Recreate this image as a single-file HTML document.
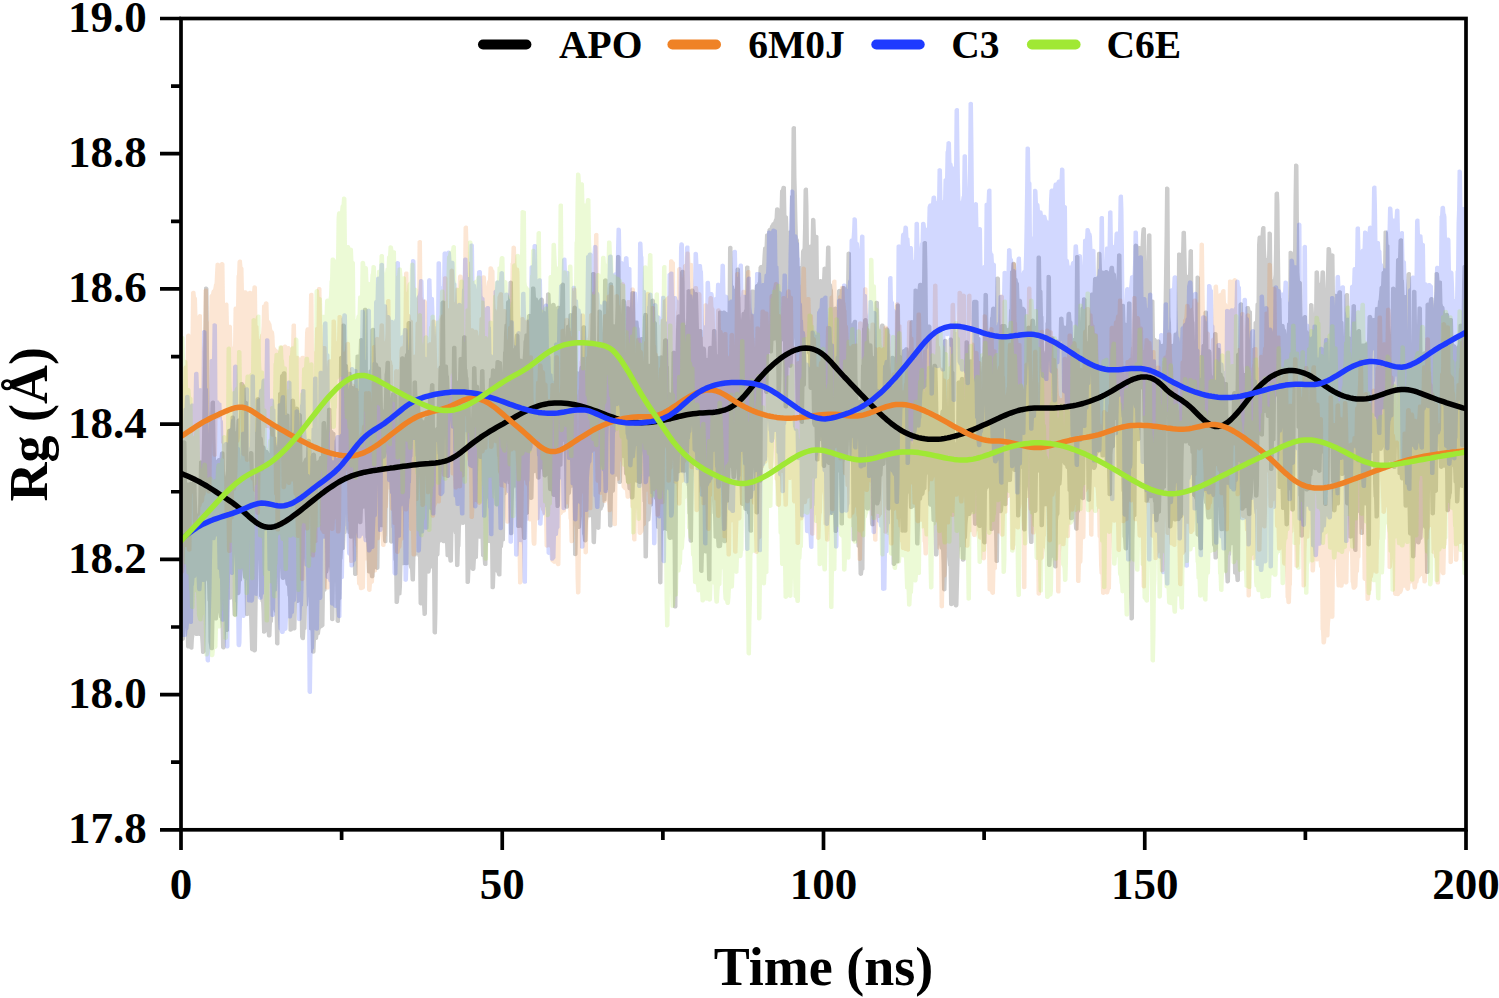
<!DOCTYPE html>
<html><head><meta charset="utf-8"><style>
html,body{margin:0;padding:0;background:#fff;}
body{width:1499px;height:998px;overflow:hidden;}
svg{display:block;font-family:"Liberation Serif",serif;font-weight:bold;}
</style></head><body>
<svg width="1499" height="998" viewBox="0 0 1499 998">
<rect width="1499" height="998" fill="#fff"/>
<defs><clipPath id="pc"><rect x="181" y="18.5" width="1285" height="811.3"/></clipPath></defs>
<g fill-opacity="0.2" clip-path="url(#pc)">
<polygon points="181.0,445.0 181.5,445.1 182.0,441.3 182.5,440.7 183.0,440.4 183.5,440.3 184.0,440.2 184.5,440.2 185.0,440.4 185.5,440.7 186.0,441.1 186.5,442.2 187.0,482.4 187.5,482.4 188.0,482.5 188.5,482.7 189.0,482.5 189.5,482.2 190.0,482.0 190.5,481.9 191.0,482.0 191.5,482.1 192.0,482.1 192.5,481.6 193.0,481.3 193.5,481.2 194.0,481.1 194.5,481.2 195.0,481.3 195.5,481.6 196.0,482.1 196.5,483.4 197.0,503.4 197.5,512.8 198.0,514.0 198.5,485.4 199.0,461.5 199.5,460.9 200.0,460.6 200.5,460.4 201.0,460.4 201.5,460.4 202.0,437.2 202.5,394.4 203.0,366.2 203.5,324.6 204.0,287.6 204.5,287.0 205.0,286.7 205.5,286.6 206.0,286.5 206.5,286.5 207.0,286.7 207.5,287.0 208.0,287.4 208.5,288.5 209.0,348.5 209.5,410.8 210.0,419.9 210.5,402.6 211.0,401.5 211.5,401.0 212.0,400.7 212.5,400.6 213.0,400.5 213.5,400.6 214.0,400.8 214.5,401.1 215.0,401.6 215.5,437.1 216.0,459.7 216.5,460.0 217.0,459.0 217.5,458.5 218.0,458.2 218.5,458.0 219.0,458.0 219.5,458.0 220.0,452.8 220.5,452.1 221.0,451.7 221.5,451.4 222.0,451.3 222.5,451.3 223.0,451.4 223.5,451.6 224.0,452.0 224.5,452.7 225.0,477.0 225.5,474.3 226.0,470.4 226.5,436.5 227.0,430.1 227.5,429.5 228.0,429.1 228.5,428.9 229.0,428.8 229.5,428.8 230.0,429.0 230.5,416.8 231.0,416.1 231.5,415.8 232.0,415.5 232.5,415.4 233.0,415.5 233.5,415.6 234.0,415.8 234.5,416.2 235.0,416.9 235.5,431.3 236.0,431.3 236.5,420.5 237.0,419.3 237.5,418.8 238.0,418.5 238.5,418.4 239.0,418.3 239.5,383.3 240.0,382.6 240.5,382.3 241.0,382.0 241.5,382.0 242.0,382.0 242.5,382.1 243.0,382.3 243.5,382.7 244.0,383.4 244.5,385.0 245.0,385.4 245.5,386.0 246.0,400.8 246.5,400.9 247.0,401.1 247.5,401.5 248.0,402.2 248.5,464.2 249.0,452.1 249.5,451.6 250.0,451.3 250.5,451.1 251.0,451.0 251.5,451.1 252.0,451.2 252.5,451.5 253.0,452.0 253.5,453.1 254.0,476.8 254.5,502.2 255.0,444.1 255.5,399.1 256.0,398.0 256.5,397.6 257.0,397.3 257.5,397.2 258.0,397.1 258.5,397.2 259.0,397.4 259.5,397.7 260.0,398.2 260.5,419.7 261.0,420.6 261.5,436.8 262.0,437.1 262.5,437.6 263.0,438.9 263.5,445.3 264.0,445.4 264.5,445.7 265.0,446.1 265.5,447.1 266.0,449.8 266.5,449.8 267.0,449.9 267.5,450.1 268.0,450.5 268.5,451.1 269.0,452.5 269.5,452.9 270.0,424.9 270.5,424.0 271.0,423.6 271.5,423.3 272.0,423.2 272.5,423.1 273.0,423.2 273.5,423.4 274.0,423.7 274.5,424.3 275.0,436.6 275.5,436.8 276.0,437.1 276.5,437.6 277.0,447.8 277.5,438.3 278.0,393.3 278.5,392.6 279.0,392.2 279.5,392.0 280.0,375.5 280.5,374.7 281.0,374.2 281.5,374.0 282.0,372.3 282.5,371.8 283.0,371.4 283.5,371.2 284.0,371.2 284.5,371.2 285.0,371.3 285.5,371.6 286.0,372.0 286.5,372.9 287.0,413.5 287.5,413.5 288.0,413.6 288.5,413.8 289.0,414.1 289.5,414.7 290.0,441.2 290.5,400.1 291.0,399.3 291.5,398.9 292.0,398.7 292.5,398.6 293.0,398.6 293.5,398.7 294.0,398.9 294.5,399.2 295.0,399.9 295.5,407.0 296.0,406.7 296.5,406.6 297.0,406.6 297.5,406.7 298.0,406.9 298.5,407.2 299.0,407.9 299.5,413.0 300.0,413.0 300.5,413.2 301.0,413.4 301.5,413.9 302.0,415.0 302.5,462.5 303.0,461.8 303.5,460.6 304.0,459.3 304.5,458.3 305.0,457.8 305.5,457.5 306.0,457.4 306.5,440.0 307.0,439.4 307.5,439.0 308.0,438.8 308.5,438.7 309.0,438.7 309.5,438.9 310.0,439.1 310.5,439.5 311.0,440.2 311.5,453.9 312.0,453.2 312.5,452.9 313.0,452.7 313.5,452.6 314.0,452.6 314.5,452.7 315.0,453.0 315.5,453.4 316.0,454.2 316.5,461.0 317.0,460.7 317.5,460.5 318.0,460.3 318.5,459.8 319.0,457.2 319.5,456.5 320.0,456.1 320.5,455.9 321.0,455.8 321.5,423.0 322.0,421.9 322.5,421.4 323.0,421.1 323.5,421.0 324.0,420.9 324.5,421.0 325.0,421.1 325.5,421.5 326.0,422.0 326.5,430.8 327.0,409.0 327.5,408.3 328.0,407.9 328.5,407.7 329.0,407.6 329.5,407.6 330.0,407.7 330.5,407.9 331.0,408.3 331.5,409.0 332.0,429.9 332.5,430.2 333.0,430.6 333.5,431.4 334.0,431.9 334.5,432.1 335.0,432.5 335.5,433.2 336.0,458.3 336.5,458.1 337.0,458.1 337.5,458.1 338.0,458.2 338.5,453.6 339.0,357.3 339.5,356.5 340.0,356.1 340.5,355.9 341.0,355.8 341.5,324.6 342.0,324.1 342.5,323.8 343.0,323.6 343.5,323.5 344.0,323.6 344.5,323.7 345.0,324.0 345.5,324.5 346.0,325.5 346.5,364.0 347.0,364.3 347.5,364.6 348.0,365.3 348.5,371.9 349.0,371.7 349.5,371.7 350.0,371.7 350.5,371.9 351.0,372.2 351.5,372.7 352.0,385.8 352.5,385.9 353.0,386.0 353.5,386.2 354.0,386.6 354.5,374.8 355.0,373.9 355.5,355.5 356.0,355.0 356.5,354.7 357.0,354.5 357.5,354.5 358.0,354.5 358.5,354.6 359.0,339.2 359.5,338.7 360.0,338.3 360.5,338.2 361.0,338.1 361.5,338.1 362.0,338.3 362.5,338.6 363.0,308.8 363.5,308.2 364.0,307.9 364.5,307.7 365.0,307.7 365.5,307.7 366.0,307.8 366.5,308.1 367.0,308.6 367.5,309.6 368.0,380.6 368.5,370.4 369.0,369.9 369.5,369.6 370.0,369.4 370.5,329.8 371.0,328.7 371.5,328.2 372.0,328.0 372.5,327.8 373.0,327.8 373.5,327.8 374.0,328.0 374.5,328.3 375.0,328.8 375.5,346.0 376.0,362.4 376.5,362.5 377.0,362.8 377.5,363.2 378.0,364.0 378.5,366.6 379.0,366.6 379.5,366.7 380.0,367.0 380.5,367.3 381.0,368.1 381.5,383.7 382.0,384.1 382.5,384.9 383.0,409.5 383.5,409.4 384.0,396.2 384.5,374.5 385.0,372.1 385.5,362.4 386.0,361.5 386.5,361.1 387.0,360.8 387.5,360.7 388.0,360.7 388.5,360.8 389.0,360.9 389.5,361.3 390.0,361.8 390.5,398.4 391.0,393.4 391.5,392.7 392.0,392.4 392.5,392.2 393.0,392.1 393.5,392.1 394.0,392.2 394.5,392.4 395.0,392.8 395.5,393.6 396.0,394.2 396.5,394.4 397.0,394.7 397.5,395.2 398.0,425.8 398.5,390.9 399.0,390.2 399.5,389.8 400.0,357.9 400.5,357.0 401.0,356.6 401.5,356.4 402.0,356.3 402.5,356.2 403.0,356.3 403.5,356.5 404.0,356.9 404.5,357.5 405.0,354.2 405.5,353.5 406.0,353.1 406.5,322.9 407.0,321.9 407.5,321.4 408.0,321.1 408.5,321.0 409.0,321.0 409.5,321.0 410.0,321.2 410.5,321.5 411.0,322.1 411.5,355.2 412.0,411.1 412.5,382.0 413.0,381.2 413.5,380.7 414.0,380.5 414.5,380.4 415.0,380.3 415.5,380.4 416.0,380.6 416.5,380.9 417.0,381.5 417.5,397.3 418.0,397.3 418.5,397.4 419.0,397.7 419.5,398.2 420.0,399.1 420.5,413.6 421.0,413.9 421.5,414.3 422.0,415.5 422.5,419.2 423.0,419.5 423.5,419.9 424.0,420.8 424.5,417.9 425.0,417.2 425.5,416.9 426.0,416.6 426.5,416.5 427.0,416.5 427.5,416.6 428.0,393.4 428.5,392.8 429.0,392.5 429.5,392.3 430.0,384.5 430.5,383.8 431.0,383.4 431.5,383.2 432.0,383.1 432.5,383.1 433.0,383.2 433.5,383.5 434.0,383.9 434.5,384.6 435.0,428.5 435.5,427.7 436.0,427.3 436.5,427.0 437.0,392.3 437.5,391.6 438.0,391.2 438.5,367.2 439.0,366.3 439.5,365.8 440.0,365.6 440.5,302.6 441.0,301.4 441.5,300.9 442.0,300.6 442.5,300.4 443.0,300.4 443.5,300.4 444.0,300.6 444.5,300.9 445.0,301.4 445.5,364.5 446.0,364.5 446.5,364.6 447.0,364.7 447.5,365.1 448.0,365.7 448.5,375.3 449.0,375.9 449.5,388.9 450.0,388.9 450.5,388.9 451.0,389.1 451.5,389.5 452.0,347.0 452.5,346.4 453.0,346.0 453.5,345.8 454.0,345.7 454.5,345.7 455.0,345.8 455.5,346.0 456.0,346.4 456.5,347.1 457.0,381.3 457.5,380.6 458.0,380.2 458.5,358.4 459.0,357.6 459.5,357.2 460.0,357.0 460.5,356.9 461.0,356.8 461.5,356.9 462.0,336.8 462.5,336.0 463.0,335.5 463.5,335.3 464.0,335.2 464.5,335.2 465.0,335.2 465.5,335.4 466.0,335.8 466.5,336.4 467.0,369.1 467.5,369.6 468.0,376.9 468.5,377.8 469.0,391.4 469.5,391.6 470.0,392.0 470.5,392.6 471.0,419.5 471.5,400.9 472.0,367.6 472.5,366.8 473.0,366.4 473.5,366.2 474.0,366.1 474.5,366.1 475.0,366.2 475.5,366.4 476.0,366.7 476.5,367.4 477.0,384.6 477.5,384.7 478.0,384.9 478.5,385.3 479.0,386.0 479.5,391.6 480.0,370.6 480.5,369.8 481.0,369.4 481.5,369.2 482.0,369.1 482.5,369.1 483.0,369.1 483.5,369.3 484.0,369.7 484.5,370.3 485.0,390.8 485.5,390.5 486.0,390.4 486.5,390.3 487.0,390.4 487.5,390.5 488.0,390.8 488.5,391.3 489.0,379.0 489.5,378.2 490.0,377.8 490.5,377.6 491.0,369.4 491.5,368.9 492.0,368.5 492.5,368.4 493.0,368.3 493.5,368.3 494.0,368.5 494.5,368.7 495.0,369.2 495.5,361.3 496.0,360.6 496.5,360.2 497.0,360.0 497.5,359.9 498.0,359.9 498.5,360.0 499.0,360.2 499.5,360.6 500.0,361.0 500.5,361.1 501.0,361.3 501.5,361.6 502.0,362.2 502.5,372.3 503.0,352.2 503.5,351.1 504.0,333.4 504.5,324.6 505.0,323.9 505.5,323.5 506.0,301.9 506.5,301.0 507.0,300.6 507.5,300.3 508.0,300.2 508.5,282.0 509.0,281.3 509.5,280.9 510.0,280.7 510.5,280.6 511.0,280.6 511.5,280.7 512.0,280.9 512.5,281.3 513.0,282.0 513.5,348.6 514.0,348.1 514.5,339.6 515.0,334.4 515.5,333.9 516.0,333.6 516.5,333.5 517.0,333.4 517.5,333.5 518.0,333.6 518.5,333.9 519.0,334.4 519.5,335.5 520.0,358.7 520.5,358.6 521.0,358.6 521.5,358.8 522.0,359.1 522.5,359.5 523.0,352.8 523.5,340.8 524.0,340.2 524.5,334.3 525.0,333.8 525.5,333.6 526.0,333.4 526.5,333.3 527.0,315.6 527.5,314.7 528.0,314.3 528.5,314.0 529.0,313.9 529.5,313.8 530.0,313.9 530.5,314.1 531.0,287.5 531.5,287.0 532.0,286.6 532.5,286.5 533.0,286.4 533.5,286.4 534.0,286.6 534.5,286.8 535.0,287.3 535.5,288.2 536.0,297.4 536.5,297.5 537.0,297.7 537.5,298.1 538.0,299.0 538.5,300.4 539.0,300.1 539.5,298.8 540.0,298.2 540.5,297.9 541.0,297.7 541.5,297.6 542.0,297.6 542.5,297.8 543.0,298.0 543.5,298.5 544.0,299.4 544.5,311.1 545.0,311.2 545.5,311.4 546.0,293.6 546.5,293.0 547.0,292.6 547.5,292.4 548.0,292.3 548.5,292.3 549.0,292.5 549.5,292.7 550.0,293.1 550.5,293.9 551.0,304.4 551.5,303.6 552.0,303.2 552.5,302.9 553.0,302.8 553.5,302.8 554.0,302.9 554.5,303.1 555.0,303.4 555.5,304.1 556.0,307.2 556.5,306.4 557.0,306.0 557.5,305.8 558.0,305.7 558.5,305.7 559.0,305.7 559.5,305.9 560.0,306.3 560.5,284.2 561.0,283.4 561.5,283.0 562.0,282.8 562.5,282.6 563.0,282.6 563.5,282.7 564.0,282.9 564.5,283.3 565.0,283.9 565.5,337.3 566.0,325.9 566.5,325.3 567.0,325.0 567.5,324.8 568.0,324.7 568.5,314.4 569.0,313.8 569.5,313.4 570.0,313.2 570.5,313.1 571.0,313.1 571.5,313.2 572.0,313.5 572.5,306.9 573.0,306.3 573.5,305.9 574.0,305.7 574.5,305.6 575.0,305.6 575.5,305.7 576.0,306.0 576.5,306.4 577.0,307.2 577.5,371.3 578.0,371.3 578.5,371.5 579.0,371.8 579.5,367.2 580.0,366.3 580.5,365.8 581.0,354.7 581.5,326.8 582.0,326.0 582.5,325.6 583.0,325.3 583.5,325.2 584.0,325.2 584.5,325.3 585.0,325.5 585.5,325.8 586.0,326.4 586.5,344.9 587.0,344.5 587.5,344.3 588.0,344.2 588.5,344.2 589.0,344.4 589.5,344.6 590.0,345.0 590.5,321.8 591.0,273.2 591.5,272.6 592.0,272.2 592.5,272.0 593.0,271.9 593.5,272.0 594.0,272.1 594.5,272.3 595.0,272.6 595.5,273.3 596.0,346.3 596.5,346.6 597.0,347.1 597.5,310.7 598.0,310.1 598.5,309.8 599.0,309.6 599.5,309.5 600.0,309.6 600.5,309.7 601.0,310.0 601.5,310.4 602.0,311.4 602.5,333.3 603.0,280.0 603.5,279.2 604.0,278.7 604.5,278.5 605.0,278.4 605.5,278.3 606.0,278.4 606.5,278.6 607.0,278.9 607.5,279.5 608.0,312.2 608.5,283.9 609.0,283.1 609.5,282.7 610.0,282.4 610.5,282.3 611.0,282.3 611.5,282.4 612.0,282.6 612.5,282.9 613.0,283.5 613.5,324.3 614.0,324.2 614.5,324.3 615.0,324.5 615.5,306.3 616.0,255.9 616.5,255.4 617.0,255.1 617.5,254.9 618.0,254.8 618.5,254.9 619.0,255.0 619.5,255.3 620.0,255.8 620.5,256.8 621.0,315.2 621.5,300.0 622.0,299.5 622.5,299.2 623.0,299.1 623.5,299.0 624.0,299.0 624.5,299.2 625.0,299.5 625.5,300.0 626.0,301.2 626.5,306.6 627.0,306.3 627.5,306.2 628.0,306.2 628.5,306.3 629.0,306.5 629.5,306.8 630.0,307.4 630.5,292.5 631.0,291.7 631.5,291.3 632.0,291.0 632.5,290.9 633.0,290.9 633.5,291.0 634.0,291.2 634.5,291.5 635.0,292.1 635.5,320.5 636.0,320.4 636.5,320.4 637.0,320.4 637.5,320.6 638.0,321.0 638.5,321.5 639.0,327.3 639.5,327.9 640.0,337.5 640.5,337.2 641.0,337.1 641.5,337.0 642.0,337.1 642.5,337.2 643.0,317.1 643.5,313.8 644.0,313.3 644.5,313.0 645.0,312.9 645.5,312.8 646.0,312.9 646.5,313.0 647.0,313.3 647.5,313.8 648.0,314.9 648.5,363.6 649.0,364.0 649.5,363.8 650.0,363.7 650.5,299.7 651.0,299.2 651.5,298.9 652.0,298.7 652.5,298.6 653.0,298.6 653.5,298.8 654.0,299.0 654.5,299.5 655.0,300.4 655.5,321.1 656.0,321.4 656.5,321.9 657.0,323.1 657.5,355.7 658.0,355.8 658.5,356.1 659.0,356.4 659.5,355.9 660.0,355.5 660.5,355.4 661.0,355.3 661.5,355.3 662.0,355.5 662.5,355.7 663.0,339.9 663.5,339.3 664.0,338.8 664.5,338.5 665.0,338.3 665.5,338.2 666.0,338.2 666.5,338.4 667.0,338.6 667.5,339.1 668.0,340.0 668.5,365.8 669.0,366.5 669.5,392.2 670.0,392.3 670.5,392.5 671.0,392.9 671.5,352.2 672.0,351.4 672.5,351.0 673.0,350.8 673.5,350.7 674.0,350.6 674.5,350.7 675.0,350.9 675.5,351.3 676.0,330.2 676.5,315.8 677.0,315.0 677.5,314.7 678.0,314.4 678.5,314.3 679.0,314.3 679.5,314.4 680.0,271.9 680.5,270.7 681.0,270.2 681.5,269.9 682.0,269.8 682.5,269.7 683.0,269.8 683.5,270.0 684.0,270.3 684.5,270.8 685.0,318.1 685.5,325.1 686.0,325.1 686.5,290.2 687.0,289.7 687.5,289.4 688.0,289.2 688.5,289.1 689.0,289.2 689.5,289.3 690.0,289.6 690.5,289.2 691.0,288.9 691.5,288.6 692.0,288.5 692.5,288.5 693.0,288.6 693.5,288.8 694.0,289.2 694.5,289.9 695.0,292.3 695.5,292.1 696.0,292.1 696.5,292.1 697.0,292.3 697.5,292.6 698.0,293.1 698.5,310.6 699.0,329.4 699.5,329.1 700.0,329.0 700.5,329.0 701.0,329.1 701.5,329.3 702.0,329.7 702.5,330.3 703.0,346.6 703.5,346.6 704.0,346.6 704.5,346.8 705.0,347.0 705.5,347.5 706.0,348.8 706.5,358.0 707.0,358.0 707.5,358.1 708.0,347.2 708.5,346.5 709.0,346.1 709.5,345.9 710.0,345.8 710.5,345.8 711.0,345.9 711.5,346.1 712.0,330.1 712.5,329.5 713.0,329.2 713.5,329.0 714.0,328.9 714.5,329.0 715.0,329.1 715.5,329.3 716.0,329.8 716.5,330.7 717.0,353.9 717.5,354.6 718.0,311.8 718.5,311.1 719.0,310.7 719.5,310.5 720.0,310.4 720.5,310.4 721.0,310.5 721.5,310.8 722.0,311.2 722.5,310.9 723.0,310.6 723.5,310.5 724.0,310.4 724.5,310.5 725.0,310.7 725.5,311.0 726.0,311.6 726.5,311.9 727.0,312.1 727.5,312.4 728.0,247.4 728.5,246.6 729.0,246.1 729.5,245.9 730.0,245.8 730.5,245.8 731.0,245.8 731.5,246.0 732.0,246.4 732.5,247.0 733.0,285.3 733.5,285.6 734.0,286.2 734.5,288.9 735.0,288.7 735.5,268.9 736.0,268.2 736.5,267.8 737.0,267.6 737.5,267.5 738.0,267.5 738.5,267.6 739.0,267.8 739.5,268.2 740.0,269.0 740.5,301.3 741.0,320.2 741.5,313.1 742.0,312.5 742.5,312.1 743.0,311.9 743.5,311.9 744.0,309.9 744.5,309.2 745.0,267.1 745.5,266.2 746.0,265.8 746.5,265.5 747.0,265.4 747.5,265.4 748.0,265.5 748.5,265.7 749.0,266.0 749.5,266.6 750.0,323.1 750.5,290.6 751.0,290.0 751.5,289.6 752.0,289.4 752.5,289.4 753.0,289.4 753.5,289.5 754.0,289.7 754.5,290.2 755.0,285.3 755.5,284.7 756.0,284.3 756.5,284.1 757.0,284.0 757.5,282.4 758.0,281.8 758.5,267.1 759.0,266.4 759.5,265.6 760.0,265.2 760.5,265.0 761.0,264.9 761.5,264.8 762.0,264.9 762.5,255.2 763.0,248.0 763.5,247.1 764.0,246.7 764.5,246.5 765.0,234.5 765.5,233.9 766.0,233.6 766.5,233.4 767.0,233.3 767.5,229.5 768.0,228.7 768.5,228.3 769.0,228.0 769.5,227.9 770.0,226.0 770.5,225.0 771.0,224.5 771.5,223.2 772.0,222.6 772.5,222.3 773.0,222.2 773.5,220.8 774.0,219.3 774.5,218.3 775.0,208.7 775.5,208.0 776.0,207.6 776.5,207.4 777.0,207.3 777.5,207.3 778.0,207.4 778.5,207.6 779.0,208.0 779.5,208.7 780.0,190.6 780.5,189.9 781.0,189.6 781.5,187.0 782.0,186.3 782.5,186.0 783.0,185.8 783.5,185.7 784.0,185.7 784.5,185.9 785.0,186.1 785.5,186.5 786.0,187.3 786.5,215.3 787.0,215.5 787.5,215.9 788.0,216.6 788.5,231.0 789.0,230.6 789.5,230.4 790.0,195.9 790.5,195.4 791.0,195.1 791.5,128.1 792.0,127.0 792.5,126.6 793.0,126.3 793.5,126.1 794.0,126.1 794.5,126.2 795.0,126.3 795.5,126.6 796.0,127.2 796.5,177.2 797.0,196.0 797.5,220.4 798.0,238.3 798.5,238.8 799.0,240.0 799.5,266.4 800.0,266.1 800.5,265.9 801.0,250.7 801.5,250.2 802.0,249.0 802.5,248.4 803.0,226.9 803.5,189.8 804.0,188.5 804.5,188.0 805.0,187.7 805.5,187.5 806.0,187.5 806.5,187.6 807.0,187.7 807.5,188.0 808.0,188.5 808.5,205.5 809.0,245.0 809.5,244.8 810.0,244.6 810.5,244.6 811.0,218.9 811.5,218.4 812.0,218.0 812.5,217.9 813.0,217.8 813.5,217.8 814.0,218.0 814.5,218.3 815.0,218.7 815.5,219.8 816.0,234.8 816.5,234.8 817.0,234.9 817.5,235.1 818.0,235.5 818.5,236.1 819.0,279.5 819.5,279.2 820.0,279.0 820.5,279.0 821.0,279.1 821.5,279.2 822.0,279.5 822.5,267.8 823.0,267.2 823.5,266.9 824.0,266.7 824.5,266.6 825.0,266.6 825.5,266.8 826.0,247.0 826.5,246.2 827.0,245.8 827.5,245.6 828.0,245.5 828.5,245.5 829.0,245.5 829.5,245.7 830.0,246.1 830.5,246.7 831.0,283.3 831.5,283.7 832.0,284.4 832.5,288.9 833.0,289.7 833.5,307.3 834.0,306.9 834.5,306.7 835.0,306.6 835.5,306.6 836.0,306.7 836.5,306.9 837.0,290.6 837.5,289.7 838.0,289.3 838.5,289.0 839.0,288.9 839.5,288.8 840.0,288.9 840.5,289.1 841.0,289.4 841.5,287.0 842.0,286.4 842.5,286.1 843.0,285.9 843.5,285.9 844.0,285.9 844.5,286.0 845.0,286.3 845.5,286.8 846.0,287.7 846.5,252.9 847.0,252.3 847.5,251.9 848.0,251.7 848.5,251.6 849.0,251.6 849.5,251.7 850.0,252.0 850.5,252.3 851.0,253.1 851.5,323.0 852.0,323.5 852.5,321.9 853.0,320.7 853.5,320.2 854.0,319.9 854.5,319.8 855.0,319.7 855.5,319.8 856.0,319.9 856.5,320.2 857.0,320.7 857.5,378.7 858.0,384.9 858.5,400.4 859.0,400.1 859.5,399.9 860.0,399.9 860.5,395.7 861.0,365.2 861.5,364.6 862.0,328.4 862.5,327.6 863.0,319.9 863.5,318.9 864.0,318.5 864.5,318.2 865.0,318.1 865.5,318.0 866.0,318.1 866.5,318.3 867.0,318.6 867.5,319.2 868.0,323.4 868.5,324.0 869.0,340.5 869.5,343.4 870.0,343.3 870.5,343.3 871.0,343.4 871.5,343.6 872.0,344.0 872.5,344.7 873.0,356.4 873.5,355.9 874.0,355.7 874.5,302.0 875.0,301.3 875.5,301.0 876.0,300.8 876.5,300.7 877.0,300.7 877.5,300.9 878.0,301.1 878.5,301.5 879.0,302.3 879.5,330.1 880.0,325.0 880.5,324.2 881.0,323.8 881.5,323.6 882.0,323.5 882.5,323.5 883.0,323.6 883.5,323.8 884.0,324.2 884.5,324.8 885.0,327.9 885.5,327.6 886.0,327.3 886.5,327.2 887.0,327.2 887.5,327.3 888.0,327.5 888.5,327.9 889.0,328.5 889.5,330.1 890.0,371.6 890.5,356.8 891.0,356.3 891.5,356.0 892.0,355.8 892.5,355.7 893.0,355.8 893.5,355.9 894.0,356.2 894.5,356.6 895.0,357.6 895.5,305.2 896.0,304.3 896.5,303.9 897.0,303.6 897.5,303.5 898.0,303.5 898.5,303.6 899.0,303.8 899.5,304.1 900.0,304.7 900.5,355.0 901.0,355.3 901.5,356.0 902.0,350.2 902.5,349.6 903.0,349.3 903.5,349.1 904.0,348.9 904.5,348.0 905.0,347.6 905.5,347.3 906.0,347.2 906.5,347.2 907.0,347.2 907.5,347.4 908.0,347.8 908.5,348.3 909.0,352.1 909.5,321.7 910.0,320.9 910.5,320.5 911.0,320.2 911.5,320.1 912.0,320.1 912.5,320.2 913.0,320.3 913.5,289.6 914.0,289.0 914.5,288.7 915.0,288.6 915.5,288.5 916.0,288.6 916.5,288.7 917.0,289.0 917.5,289.5 918.0,284.4 918.5,283.5 919.0,283.1 919.5,282.9 920.0,282.7 920.5,282.7 921.0,282.8 921.5,283.0 922.0,283.3 922.5,242.6 923.0,241.8 923.5,241.4 924.0,241.1 924.5,241.0 925.0,241.0 925.5,241.0 926.0,241.2 926.5,241.6 927.0,242.2 927.5,270.0 928.0,324.6 928.5,324.5 929.0,324.4 929.5,324.4 930.0,324.6 930.5,324.9 931.0,325.4 931.5,326.5 932.0,367.9 932.5,364.9 933.0,364.3 933.5,364.0 934.0,363.8 934.5,363.7 935.0,363.7 935.5,363.8 936.0,364.1 936.5,364.5 937.0,365.3 937.5,367.5 938.0,389.0 938.5,415.6 939.0,415.7 939.5,415.0 940.0,414.7 940.5,411.0 941.0,410.2 941.5,409.8 942.0,409.5 942.5,364.4 943.0,340.2 943.5,339.5 944.0,339.2 944.5,338.9 945.0,338.8 945.5,338.8 946.0,338.9 946.5,339.2 947.0,339.5 947.5,340.2 948.0,410.1 948.5,338.8 949.0,338.2 949.5,337.8 950.0,337.6 950.5,337.5 951.0,337.5 951.5,337.6 952.0,337.8 952.5,338.2 953.0,339.0 953.5,371.1 954.0,371.6 954.5,372.4 955.0,431.3 955.5,441.9 956.0,442.6 956.5,382.2 957.0,381.2 957.5,380.8 958.0,380.5 958.5,380.4 959.0,380.3 959.5,380.4 960.0,378.0 960.5,377.4 961.0,377.1 961.5,376.9 962.0,376.8 962.5,376.9 963.0,377.0 963.5,377.2 964.0,377.7 964.5,341.4 965.0,340.8 965.5,340.5 966.0,340.3 966.5,340.2 967.0,340.2 967.5,340.4 968.0,340.6 968.5,341.0 969.0,341.9 969.5,359.6 970.0,359.4 970.5,359.3 971.0,359.3 971.5,359.4 972.0,301.9 972.5,300.6 973.0,300.1 973.5,299.9 974.0,299.7 974.5,299.7 975.0,299.7 975.5,299.8 976.0,299.8 976.5,299.8 977.0,299.9 977.5,300.2 978.0,300.7 978.5,301.6 979.0,336.9 979.5,337.1 980.0,337.6 980.5,338.3 981.0,373.2 981.5,357.9 982.0,356.8 982.5,356.3 983.0,325.1 983.5,293.9 984.0,293.4 984.5,293.1 985.0,292.9 985.5,292.8 986.0,292.9 986.5,293.0 987.0,293.3 987.5,293.7 988.0,294.7 988.5,331.3 989.0,331.0 989.5,330.6 990.0,317.6 990.5,316.9 991.0,308.6 991.5,307.5 992.0,307.0 992.5,306.8 993.0,306.6 993.5,306.6 994.0,306.7 994.5,306.8 995.0,307.1 995.5,277.6 996.0,277.1 996.5,276.7 997.0,276.5 997.5,276.5 998.0,276.5 998.5,276.6 999.0,276.9 999.5,277.3 1000.0,278.2 1000.5,324.7 1001.0,324.4 1001.5,324.1 1002.0,324.0 1002.5,324.0 1003.0,324.0 1003.5,324.2 1004.0,324.1 1004.5,324.0 1005.0,324.1 1005.5,324.3 1006.0,324.6 1006.5,325.2 1007.0,328.3 1007.5,327.9 1008.0,327.7 1008.5,327.6 1009.0,309.7 1009.5,309.0 1010.0,271.3 1010.5,270.8 1011.0,270.5 1011.5,262.7 1012.0,262.2 1012.5,261.9 1013.0,261.7 1013.5,261.7 1014.0,261.7 1014.5,261.9 1015.0,262.2 1015.5,262.7 1016.0,263.9 1016.5,277.9 1017.0,278.2 1017.5,278.9 1018.0,282.0 1018.5,282.4 1019.0,283.4 1019.5,298.8 1020.0,298.8 1020.5,298.8 1021.0,299.1 1021.5,299.4 1022.0,300.1 1022.5,306.7 1023.0,306.7 1023.5,306.8 1024.0,307.1 1024.5,307.5 1025.0,308.3 1025.5,308.8 1026.0,309.6 1026.5,326.8 1027.0,326.2 1027.5,325.9 1028.0,325.7 1028.5,325.6 1029.0,325.7 1029.5,325.8 1030.0,326.1 1030.5,319.8 1031.0,319.2 1031.5,318.9 1032.0,318.7 1032.5,318.6 1033.0,318.6 1033.5,318.7 1034.0,319.0 1034.5,319.4 1035.0,320.3 1035.5,325.8 1036.0,325.9 1036.5,256.9 1037.0,256.2 1037.5,255.8 1038.0,255.6 1038.5,255.5 1039.0,255.5 1039.5,255.6 1040.0,255.8 1040.5,256.2 1041.0,256.9 1041.5,289.7 1042.0,290.2 1042.5,290.9 1043.0,316.0 1043.5,316.6 1044.0,350.5 1044.5,351.1 1045.0,353.2 1045.5,322.8 1046.0,322.2 1046.5,275.9 1047.0,275.3 1047.5,275.0 1048.0,274.9 1048.5,274.8 1049.0,274.9 1049.5,275.0 1050.0,275.3 1050.5,275.8 1051.0,276.9 1051.5,336.5 1052.0,336.4 1052.5,336.3 1053.0,336.4 1053.5,336.6 1054.0,336.9 1054.5,337.5 1055.0,340.4 1055.5,339.9 1056.0,339.7 1056.5,339.5 1057.0,339.5 1057.5,339.6 1058.0,339.8 1058.5,340.1 1059.0,318.0 1059.5,317.3 1060.0,316.9 1060.5,316.7 1061.0,316.6 1061.5,316.6 1062.0,316.7 1062.5,317.0 1063.0,317.3 1063.5,318.1 1064.0,325.7 1064.5,325.6 1065.0,325.6 1065.5,325.7 1066.0,325.9 1066.5,313.7 1067.0,312.7 1067.5,312.2 1068.0,311.9 1068.5,311.8 1069.0,311.7 1069.5,311.8 1070.0,312.0 1070.5,312.3 1071.0,312.8 1071.5,320.6 1072.0,321.1 1072.5,322.1 1073.0,338.0 1073.5,338.1 1074.0,338.2 1074.5,325.4 1075.0,256.1 1075.5,255.5 1076.0,255.2 1076.5,255.0 1077.0,254.9 1077.5,255.0 1078.0,255.1 1078.5,255.3 1079.0,255.8 1079.5,256.6 1080.0,322.7 1080.5,307.7 1081.0,307.2 1081.5,306.8 1082.0,298.3 1082.5,297.7 1083.0,297.4 1083.5,297.3 1084.0,297.2 1084.5,297.3 1085.0,297.4 1085.5,297.7 1086.0,298.2 1086.5,299.3 1087.0,341.4 1087.5,340.9 1088.0,326.3 1088.5,325.5 1089.0,325.1 1089.5,324.9 1090.0,293.5 1090.5,292.9 1091.0,292.6 1091.5,292.4 1092.0,292.4 1092.5,292.4 1093.0,278.5 1093.5,277.7 1094.0,277.3 1094.5,277.1 1095.0,277.0 1095.5,277.0 1096.0,277.1 1096.5,277.3 1097.0,252.9 1097.5,252.3 1098.0,251.9 1098.5,251.8 1099.0,251.7 1099.5,251.7 1100.0,251.8 1100.5,252.1 1101.0,252.5 1101.5,253.4 1102.0,270.5 1102.5,270.5 1103.0,270.6 1103.5,270.8 1104.0,271.2 1104.5,270.6 1105.0,270.3 1105.5,270.1 1106.0,270.0 1106.5,270.0 1107.0,270.1 1107.5,270.3 1108.0,270.7 1108.5,271.5 1109.0,270.7 1109.5,267.2 1110.0,266.4 1110.5,266.0 1111.0,265.8 1111.5,265.7 1112.0,265.7 1112.5,265.7 1113.0,265.9 1113.5,266.3 1114.0,266.9 1114.5,272.6 1115.0,272.8 1115.5,273.3 1116.0,274.2 1116.5,280.7 1117.0,254.6 1117.5,254.0 1118.0,253.6 1118.5,253.4 1119.0,253.3 1119.5,253.3 1120.0,253.4 1120.5,253.7 1121.0,254.1 1121.5,254.8 1122.0,303.9 1122.5,303.8 1123.0,303.7 1123.5,303.8 1124.0,304.0 1124.5,304.3 1125.0,304.9 1125.5,322.6 1126.0,322.7 1126.5,322.9 1127.0,302.6 1127.5,302.0 1128.0,301.6 1128.5,301.4 1129.0,301.3 1129.5,301.4 1130.0,301.5 1130.5,301.7 1131.0,302.1 1131.5,302.9 1132.0,361.0 1132.5,323.1 1133.0,308.0 1133.5,245.5 1134.0,244.5 1134.5,244.0 1135.0,243.8 1135.5,243.6 1136.0,243.6 1136.5,243.7 1137.0,243.9 1137.5,244.2 1138.0,244.7 1138.5,246.3 1139.0,246.1 1139.5,246.1 1140.0,246.1 1140.5,246.2 1141.0,234.3 1141.5,228.6 1142.0,227.9 1142.5,227.5 1143.0,227.2 1143.5,227.1 1144.0,227.1 1144.5,227.2 1145.0,227.4 1145.5,227.8 1146.0,228.4 1146.5,262.2 1147.0,234.7 1147.5,234.0 1148.0,233.6 1148.5,233.4 1149.0,233.3 1149.5,233.3 1150.0,233.4 1150.5,233.6 1151.0,234.0 1151.5,234.7 1152.0,299.4 1152.5,299.4 1153.0,299.5 1153.5,299.7 1154.0,300.0 1154.5,300.7 1155.0,337.7 1155.5,337.9 1156.0,338.3 1156.5,339.0 1157.0,339.7 1157.5,339.4 1158.0,339.3 1158.5,339.3 1159.0,339.4 1159.5,339.7 1160.0,340.1 1160.5,340.8 1161.0,344.0 1161.5,343.9 1162.0,343.9 1162.5,344.0 1163.0,342.4 1163.5,306.1 1164.0,271.8 1164.5,236.0 1165.0,187.6 1165.5,187.1 1166.0,186.7 1166.5,186.6 1167.0,186.5 1167.5,186.5 1168.0,186.7 1168.5,186.9 1169.0,187.4 1169.5,188.4 1170.0,267.9 1170.5,317.0 1171.0,322.7 1171.5,344.1 1172.0,343.9 1172.5,343.8 1173.0,343.8 1173.5,333.8 1174.0,333.1 1174.5,332.7 1175.0,332.5 1175.5,332.4 1176.0,332.4 1176.5,330.2 1177.0,253.5 1177.5,253.0 1178.0,252.6 1178.5,252.4 1179.0,252.4 1179.5,252.4 1180.0,252.5 1180.5,252.8 1181.0,253.2 1181.5,232.1 1182.0,231.4 1182.5,231.0 1183.0,230.8 1183.5,230.7 1184.0,230.7 1184.5,230.8 1185.0,231.0 1185.5,231.3 1186.0,232.0 1186.5,252.7 1187.0,274.9 1187.5,274.7 1188.0,274.6 1188.5,250.7 1189.0,249.9 1189.5,249.5 1190.0,249.3 1190.5,249.1 1191.0,249.1 1191.5,249.2 1192.0,249.4 1192.5,249.7 1193.0,250.3 1193.5,309.6 1194.0,321.3 1194.5,322.1 1195.0,342.5 1195.5,276.7 1196.0,276.1 1196.5,275.8 1197.0,275.6 1197.5,275.6 1198.0,275.6 1198.5,275.7 1199.0,276.0 1199.5,276.4 1200.0,277.4 1200.5,355.0 1201.0,355.0 1201.5,344.9 1202.0,344.4 1202.5,344.1 1203.0,343.9 1203.5,311.9 1204.0,311.2 1204.5,310.8 1205.0,310.6 1205.5,310.5 1206.0,310.5 1206.5,310.5 1207.0,310.8 1207.5,311.1 1208.0,311.8 1208.5,349.2 1209.0,349.2 1209.5,349.2 1210.0,349.4 1210.5,349.7 1211.0,350.2 1211.5,352.2 1212.0,375.6 1212.5,375.2 1213.0,333.4 1213.5,332.7 1214.0,332.3 1214.5,332.1 1215.0,332.0 1215.5,332.0 1216.0,332.1 1216.5,332.3 1217.0,332.7 1217.5,333.3 1218.0,347.7 1218.5,347.7 1219.0,347.8 1219.5,348.0 1220.0,348.3 1220.5,348.9 1221.0,372.5 1221.5,372.7 1222.0,373.1 1222.5,373.6 1223.0,376.2 1223.5,376.5 1224.0,377.0 1224.5,378.3 1225.0,382.1 1225.5,382.0 1226.0,382.0 1226.5,382.0 1227.0,382.2 1227.5,382.6 1228.0,383.1 1228.5,418.9 1229.0,418.7 1229.5,418.6 1230.0,418.6 1230.5,418.7 1231.0,418.9 1231.5,419.3 1232.0,393.2 1232.5,392.1 1233.0,391.5 1233.5,391.2 1234.0,391.1 1234.5,391.0 1235.0,391.1 1235.5,391.2 1236.0,354.3 1236.5,353.4 1237.0,353.0 1237.5,352.7 1238.0,352.6 1238.5,304.3 1239.0,303.2 1239.5,302.7 1240.0,302.4 1240.5,302.3 1241.0,302.3 1241.5,302.3 1242.0,302.5 1242.5,302.8 1243.0,303.3 1243.5,363.4 1244.0,373.1 1244.5,373.0 1245.0,373.1 1245.5,307.2 1246.0,306.5 1246.5,306.2 1247.0,306.0 1247.5,305.9 1248.0,305.9 1248.5,306.0 1249.0,306.2 1249.5,306.6 1250.0,307.4 1250.5,310.2 1251.0,310.4 1251.5,310.7 1252.0,311.4 1252.5,347.9 1253.0,347.9 1253.5,322.3 1254.0,321.6 1254.5,321.2 1255.0,321.0 1255.5,303.7 1256.0,303.1 1256.5,302.8 1257.0,244.8 1257.5,237.2 1258.0,236.3 1258.5,235.8 1259.0,235.6 1259.5,235.4 1260.0,235.4 1260.5,235.5 1261.0,228.0 1261.5,226.9 1262.0,226.4 1262.5,226.1 1263.0,226.0 1263.5,225.9 1264.0,226.0 1264.5,226.2 1265.0,226.5 1265.5,227.0 1266.0,249.7 1266.5,257.9 1267.0,257.8 1267.5,232.6 1268.0,232.1 1268.5,231.8 1269.0,231.6 1269.5,231.6 1270.0,231.6 1270.5,231.8 1271.0,232.0 1271.5,232.5 1272.0,233.5 1272.5,279.6 1273.0,279.0 1273.5,274.8 1274.0,247.7 1274.5,193.5 1275.0,192.4 1275.5,192.0 1276.0,191.7 1276.5,191.5 1277.0,191.5 1277.5,191.6 1278.0,191.7 1278.5,192.0 1279.0,192.6 1279.5,204.2 1280.0,253.3 1280.5,287.4 1281.0,297.8 1281.5,298.6 1282.0,323.9 1282.5,323.8 1283.0,323.9 1283.5,324.1 1284.0,324.4 1284.5,325.0 1285.0,328.8 1285.5,329.2 1286.0,329.8 1286.5,334.1 1287.0,323.5 1287.5,322.8 1288.0,322.4 1288.5,251.9 1289.0,251.3 1289.5,251.0 1290.0,250.8 1290.5,250.8 1291.0,250.8 1291.5,250.9 1292.0,251.2 1292.5,251.6 1293.0,252.6 1293.5,197.3 1294.0,164.6 1294.5,164.0 1295.0,163.7 1295.5,163.6 1296.0,163.5 1296.5,163.5 1297.0,163.7 1297.5,164.0 1298.0,164.4 1298.5,165.5 1299.0,223.2 1299.5,272.3 1300.0,280.8 1300.5,281.0 1301.0,281.2 1301.5,281.7 1302.0,282.6 1302.5,316.8 1303.0,315.9 1303.5,315.4 1304.0,315.2 1304.5,315.0 1305.0,315.0 1305.5,315.1 1306.0,315.3 1306.5,315.6 1307.0,316.2 1307.5,330.3 1308.0,330.7 1308.5,332.0 1309.0,304.3 1309.5,303.7 1310.0,303.3 1310.5,303.1 1311.0,303.0 1311.5,303.0 1312.0,303.2 1312.5,303.4 1313.0,303.8 1313.5,304.6 1314.0,313.3 1314.5,271.8 1315.0,271.0 1315.5,270.7 1316.0,270.4 1316.5,270.3 1317.0,270.3 1317.5,270.4 1318.0,270.6 1318.5,271.0 1319.0,271.7 1319.5,282.8 1320.0,282.7 1320.5,271.6 1321.0,270.9 1321.5,270.6 1322.0,270.4 1322.5,270.3 1323.0,270.3 1323.5,270.4 1324.0,270.6 1324.5,271.0 1325.0,271.7 1325.5,288.7 1326.0,270.6 1326.5,248.2 1327.0,247.6 1327.5,247.3 1328.0,247.1 1328.5,247.0 1329.0,247.0 1329.5,247.1 1330.0,247.4 1330.5,247.8 1331.0,248.6 1331.5,253.4 1332.0,253.3 1332.5,253.3 1333.0,253.4 1333.5,253.7 1334.0,254.1 1334.5,254.8 1335.0,293.9 1335.5,293.8 1336.0,293.8 1336.5,294.0 1337.0,294.2 1337.5,291.6 1338.0,290.9 1338.5,290.5 1339.0,290.3 1339.5,290.2 1340.0,290.2 1340.5,290.3 1341.0,290.5 1341.5,290.9 1342.0,291.6 1342.5,320.9 1343.0,321.3 1343.5,321.9 1344.0,336.8 1344.5,295.1 1345.0,293.9 1345.5,293.4 1346.0,293.1 1346.5,293.0 1347.0,292.9 1347.5,293.0 1348.0,293.2 1348.5,293.5 1349.0,294.0 1349.5,336.3 1350.0,336.6 1350.5,337.3 1351.0,323.0 1351.5,305.5 1352.0,304.8 1352.5,304.4 1353.0,304.2 1353.5,304.1 1354.0,304.1 1354.5,304.2 1355.0,304.5 1355.5,304.8 1356.0,305.6 1356.5,330.7 1357.0,329.9 1357.5,329.5 1358.0,329.2 1358.5,329.1 1359.0,329.1 1359.5,329.1 1360.0,329.3 1360.5,329.7 1361.0,330.3 1361.5,343.8 1362.0,343.5 1362.5,343.4 1363.0,343.4 1363.5,343.4 1364.0,343.6 1364.5,343.6 1365.0,343.0 1365.5,342.6 1366.0,342.4 1366.5,342.3 1367.0,342.3 1367.5,316.8 1368.0,315.8 1368.5,315.3 1369.0,315.0 1369.5,314.9 1370.0,314.8 1370.5,314.9 1371.0,315.1 1371.5,315.4 1372.0,315.9 1372.5,318.3 1373.0,318.1 1373.5,318.0 1374.0,318.0 1374.5,318.1 1375.0,307.8 1375.5,307.3 1376.0,307.0 1376.5,306.9 1377.0,306.8 1377.5,306.9 1378.0,300.8 1378.5,300.2 1379.0,295.0 1379.5,287.2 1380.0,286.4 1380.5,286.0 1381.0,285.8 1381.5,272.2 1382.0,271.5 1382.5,271.1 1383.0,270.9 1383.5,231.4 1384.0,230.9 1384.5,230.6 1385.0,230.4 1385.5,230.4 1386.0,230.4 1386.5,230.6 1387.0,230.9 1387.5,231.3 1388.0,232.5 1388.5,244.4 1389.0,244.7 1389.5,245.4 1390.0,335.1 1390.5,325.6 1391.0,287.9 1391.5,287.3 1392.0,286.9 1392.5,286.7 1393.0,286.6 1393.5,286.6 1394.0,286.7 1394.5,286.9 1395.0,287.3 1395.5,288.0 1396.0,259.6 1396.5,258.7 1397.0,258.3 1397.5,258.0 1398.0,257.9 1398.5,240.3 1399.0,239.2 1399.5,238.7 1400.0,238.5 1400.5,238.3 1401.0,238.3 1401.5,238.3 1402.0,238.5 1402.5,238.8 1403.0,239.3 1403.5,279.5 1404.0,280.5 1404.5,295.1 1405.0,295.0 1405.5,295.0 1406.0,295.2 1406.5,274.1 1407.0,272.9 1407.5,272.5 1408.0,272.2 1408.5,272.0 1409.0,272.0 1409.5,272.0 1410.0,272.2 1410.5,272.5 1411.0,273.0 1411.5,344.2 1412.0,290.9 1412.5,290.3 1413.0,290.0 1413.5,289.8 1414.0,289.8 1414.5,289.8 1415.0,289.9 1415.5,290.2 1416.0,290.6 1416.5,291.5 1417.0,325.7 1417.5,307.4 1418.0,306.9 1418.5,306.6 1419.0,306.4 1419.5,306.3 1420.0,306.4 1420.5,306.5 1421.0,306.8 1421.5,307.2 1422.0,308.2 1422.5,352.5 1423.0,351.9 1423.5,351.5 1424.0,351.3 1424.5,351.2 1425.0,351.2 1425.5,304.1 1426.0,303.4 1426.5,303.0 1427.0,302.8 1427.5,302.6 1428.0,302.6 1428.5,302.7 1429.0,299.1 1429.5,298.0 1430.0,297.5 1430.5,297.2 1431.0,297.1 1431.5,297.0 1432.0,297.1 1432.5,297.2 1433.0,297.5 1433.5,298.1 1434.0,304.9 1434.5,273.1 1435.0,272.5 1435.5,272.2 1436.0,272.0 1436.5,271.9 1437.0,272.0 1437.5,272.1 1438.0,272.4 1438.5,272.8 1439.0,273.7 1439.5,280.4 1440.0,280.4 1440.5,280.5 1441.0,280.7 1441.5,281.0 1442.0,281.6 1442.5,303.2 1443.0,305.8 1443.5,306.0 1444.0,306.5 1444.5,307.5 1445.0,313.5 1445.5,313.1 1446.0,312.9 1446.5,312.8 1447.0,312.8 1447.5,312.9 1448.0,313.1 1448.5,313.5 1449.0,314.2 1449.5,318.3 1450.0,318.1 1450.5,317.9 1451.0,317.9 1451.5,318.0 1452.0,318.2 1452.5,318.5 1453.0,319.0 1453.5,340.3 1454.0,344.1 1454.5,344.2 1455.0,344.4 1455.5,344.7 1456.0,345.2 1456.5,346.8 1457.0,345.8 1457.5,345.3 1458.0,340.8 1458.5,324.7 1459.0,324.2 1459.5,323.9 1460.0,323.7 1460.5,323.6 1461.0,323.7 1461.5,323.8 1462.0,284.0 1462.5,266.0 1463.0,265.4 1463.5,265.1 1464.0,265.0 1464.5,264.9 1465.0,264.9 1465.5,265.1 1466.0,265.4 1466.0,545.6 1465.5,545.7 1465.0,545.6 1464.5,545.4 1464.0,545.0 1463.5,544.4 1463.0,487.8 1462.5,488.0 1462.0,488.0 1461.5,488.0 1461.0,487.8 1460.5,487.5 1460.0,487.0 1459.5,501.1 1459.0,502.4 1458.5,502.9 1458.0,503.2 1457.5,503.4 1457.0,503.4 1456.5,503.4 1456.0,503.2 1455.5,502.9 1455.0,502.4 1454.5,483.5 1454.0,483.1 1453.5,482.2 1453.0,467.4 1452.5,466.4 1452.0,493.2 1451.5,494.1 1451.0,498.4 1450.5,498.9 1450.0,510.7 1449.5,511.5 1449.0,511.9 1448.5,512.2 1448.0,512.3 1447.5,512.3 1447.0,512.2 1446.5,512.0 1446.0,511.6 1445.5,511.0 1445.0,467.6 1444.5,467.7 1444.0,467.7 1443.5,467.5 1443.0,468.2 1442.5,468.6 1442.0,468.8 1441.5,468.9 1441.0,468.9 1440.5,468.8 1440.0,468.6 1439.5,468.2 1439.0,467.5 1438.5,441.3 1438.0,491.2 1437.5,492.1 1437.0,492.5 1436.5,492.7 1436.0,492.9 1435.5,492.9 1435.0,514.0 1434.5,514.7 1434.0,515.1 1433.5,515.3 1433.0,515.4 1432.5,515.4 1432.0,515.3 1431.5,515.1 1431.0,514.7 1430.5,514.0 1430.0,488.2 1429.5,572.4 1429.0,573.2 1428.5,573.7 1428.0,573.9 1427.5,574.0 1427.0,574.1 1426.5,574.0 1426.0,573.8 1425.5,573.5 1425.0,572.9 1424.5,529.0 1424.0,528.6 1423.5,527.8 1423.0,527.2 1422.5,538.6 1422.0,539.3 1421.5,539.7 1421.0,540.0 1420.5,543.1 1420.0,543.8 1419.5,544.2 1419.0,544.4 1418.5,544.5 1418.0,544.5 1417.5,544.3 1417.0,544.1 1416.5,543.7 1416.0,543.0 1415.5,556.8 1415.0,557.6 1414.5,558.0 1414.0,558.2 1413.5,558.4 1413.0,558.4 1412.5,558.3 1412.0,558.1 1411.5,557.8 1411.0,557.2 1410.5,535.7 1410.0,535.6 1409.5,535.5 1409.0,535.2 1408.5,534.8 1408.0,533.8 1407.5,507.3 1407.0,507.6 1406.5,507.8 1406.0,507.8 1405.5,507.8 1405.0,507.6 1404.5,507.4 1404.0,506.9 1403.5,505.9 1403.0,480.3 1402.5,480.5 1402.0,480.5 1401.5,480.4 1401.0,480.1 1400.5,479.8 1400.0,479.1 1399.5,475.1 1399.0,475.1 1398.5,474.9 1398.0,474.6 1397.5,474.1 1397.0,445.7 1396.5,467.9 1396.0,468.5 1395.5,468.8 1395.0,469.0 1394.5,469.1 1394.0,469.1 1393.5,468.9 1393.0,468.7 1392.5,468.2 1392.0,467.4 1391.5,462.1 1391.0,462.1 1390.5,462.1 1390.0,461.9 1389.5,461.7 1389.0,461.2 1388.5,468.0 1388.0,468.6 1387.5,469.0 1387.0,469.2 1386.5,469.3 1386.0,469.2 1385.5,469.1 1385.0,468.9 1384.5,468.5 1384.0,467.7 1383.5,446.9 1383.0,448.8 1382.5,449.9 1382.0,450.4 1381.5,450.7 1381.0,450.8 1380.5,450.9 1380.0,450.8 1379.5,450.6 1379.0,516.5 1378.5,517.6 1378.0,518.1 1377.5,518.4 1377.0,518.5 1376.5,518.6 1376.0,518.5 1375.5,518.4 1375.0,518.1 1374.5,517.5 1374.0,497.4 1373.5,496.7 1373.0,482.7 1372.5,453.0 1372.0,453.1 1371.5,453.2 1371.0,545.1 1370.5,545.8 1370.0,546.1 1369.5,546.3 1369.0,546.4 1368.5,546.4 1368.0,546.3 1367.5,546.0 1367.0,545.6 1366.5,544.8 1366.0,505.5 1365.5,505.5 1365.0,505.4 1364.5,505.2 1364.0,533.7 1363.5,534.4 1363.0,534.8 1362.5,535.0 1362.0,535.1 1361.5,535.1 1361.0,535.0 1360.5,534.8 1360.0,534.4 1359.5,533.7 1359.0,513.4 1358.5,512.5 1358.0,513.3 1357.5,550.9 1357.0,551.4 1356.5,551.7 1356.0,551.9 1355.5,551.9 1355.0,551.9 1354.5,551.7 1354.0,551.4 1353.5,550.9 1353.0,549.6 1352.5,537.7 1352.0,538.2 1351.5,538.5 1351.0,538.6 1350.5,538.7 1350.0,538.6 1349.5,538.5 1349.0,538.2 1348.5,537.7 1348.0,505.4 1347.5,505.4 1347.0,505.4 1346.5,505.2 1346.0,505.0 1345.5,504.5 1345.0,503.4 1344.5,474.4 1344.0,475.3 1343.5,475.7 1343.0,475.9 1342.5,476.0 1342.0,476.1 1341.5,476.0 1341.0,475.8 1340.5,475.4 1340.0,504.2 1339.5,504.8 1339.0,505.2 1338.5,505.4 1338.0,505.5 1337.5,505.5 1337.0,505.3 1336.5,511.1 1336.0,511.8 1335.5,512.1 1335.0,512.3 1334.5,512.4 1334.0,512.4 1333.5,512.3 1333.0,512.1 1332.5,511.7 1332.0,511.0 1331.5,482.2 1331.0,481.6 1330.5,444.7 1330.0,444.7 1329.5,487.9 1329.0,488.9 1328.5,489.4 1328.0,489.7 1327.5,505.0 1327.0,505.5 1326.5,505.8 1326.0,506.0 1325.5,506.0 1325.0,506.0 1324.5,505.9 1324.0,505.6 1323.5,505.1 1323.0,504.0 1322.5,453.8 1322.0,453.2 1321.5,471.7 1321.0,472.3 1320.5,472.6 1320.0,472.8 1319.5,472.9 1319.0,472.9 1318.5,472.7 1318.0,472.5 1317.5,472.1 1317.0,471.2 1316.5,469.9 1316.0,470.1 1315.5,470.2 1315.0,470.3 1314.5,470.2 1314.0,470.0 1313.5,469.6 1313.0,469.0 1312.5,475.2 1312.0,475.8 1311.5,476.2 1311.0,485.9 1310.5,489.4 1310.0,490.1 1309.5,490.5 1309.0,490.7 1308.5,490.8 1308.0,491.2 1307.5,491.4 1307.0,491.6 1306.5,491.6 1306.0,491.5 1305.5,491.3 1305.0,490.9 1304.5,490.3 1304.0,536.2 1303.5,536.9 1303.0,537.4 1302.5,537.6 1302.0,537.7 1301.5,537.7 1301.0,537.6 1300.5,537.4 1300.0,537.1 1299.5,536.5 1299.0,496.4 1298.5,495.7 1298.0,428.8 1297.5,428.6 1297.0,428.2 1296.5,427.4 1296.0,361.6 1295.5,443.1 1295.0,509.5 1294.5,510.7 1294.0,511.2 1293.5,511.5 1293.0,511.6 1292.5,511.7 1292.0,511.6 1291.5,511.4 1291.0,511.1 1290.5,510.6 1290.0,490.2 1289.5,490.4 1289.0,524.9 1288.5,525.6 1288.0,526.0 1287.5,526.2 1287.0,526.4 1286.5,526.4 1286.0,526.3 1285.5,526.0 1285.0,525.7 1284.5,525.0 1284.0,509.8 1283.5,510.0 1283.0,510.0 1282.5,510.0 1282.0,509.8 1281.5,509.5 1281.0,509.0 1280.5,488.8 1280.0,488.9 1279.5,489.0 1279.0,488.9 1278.5,488.7 1278.0,488.3 1277.5,487.7 1277.0,398.1 1276.5,396.1 1276.0,396.8 1275.5,440.3 1275.0,440.8 1274.5,441.1 1274.0,441.3 1273.5,469.5 1273.0,470.3 1272.5,470.7 1272.0,470.9 1271.5,471.1 1271.0,471.1 1270.5,471.0 1270.0,470.8 1269.5,470.5 1269.0,469.8 1268.5,418.1 1268.0,418.1 1267.5,418.0 1267.0,417.8 1266.5,417.5 1266.0,416.9 1265.5,412.7 1265.0,412.9 1264.5,412.9 1264.0,435.4 1263.5,436.0 1263.0,436.4 1262.5,436.6 1262.0,436.7 1261.5,436.6 1261.0,436.5 1260.5,436.3 1260.0,435.8 1259.5,435.0 1259.0,485.3 1258.5,496.2 1258.0,496.9 1257.5,497.3 1257.0,497.5 1256.5,497.7 1256.0,497.7 1255.5,497.6 1255.0,497.4 1254.5,497.0 1254.0,496.3 1253.5,478.5 1253.0,492.8 1252.5,497.9 1252.0,498.4 1251.5,514.6 1251.0,515.4 1250.5,515.8 1250.0,516.1 1249.5,516.2 1249.0,516.2 1248.5,516.1 1248.0,515.9 1247.5,515.6 1247.0,515.0 1246.5,507.9 1246.0,508.2 1245.5,508.3 1245.0,508.3 1244.5,509.4 1244.0,510.1 1243.5,510.4 1243.0,510.7 1242.5,510.8 1242.0,510.8 1241.5,510.7 1241.0,510.4 1240.5,510.1 1240.0,580.3 1239.5,581.3 1239.0,581.7 1238.5,582.0 1238.0,582.1 1237.5,582.2 1237.0,582.1 1236.5,581.9 1236.0,581.6 1235.5,581.0 1235.0,574.7 1234.5,574.6 1234.0,574.4 1233.5,574.1 1233.0,573.5 1232.5,545.0 1232.0,545.2 1231.5,545.3 1231.0,555.3 1230.5,555.8 1230.0,581.8 1229.5,582.6 1229.0,583.1 1228.5,583.3 1228.0,583.4 1227.5,583.5 1227.0,583.4 1226.5,583.2 1226.0,582.9 1225.5,582.3 1225.0,572.6 1224.5,571.8 1224.0,531.8 1223.5,530.4 1223.0,530.9 1222.5,531.1 1222.0,531.3 1221.5,531.3 1221.0,531.3 1220.5,531.1 1220.0,530.8 1219.5,530.3 1219.0,522.9 1218.5,506.3 1218.0,557.8 1217.5,558.7 1217.0,559.2 1216.5,559.4 1216.0,559.6 1215.5,559.6 1215.0,559.5 1214.5,559.4 1214.0,559.1 1213.5,558.5 1213.0,546.7 1212.5,546.2 1212.0,545.1 1211.5,518.8 1211.0,518.9 1210.5,518.9 1210.0,519.1 1209.5,519.4 1209.0,519.5 1208.5,519.6 1208.0,519.5 1207.5,519.4 1207.0,519.1 1206.5,518.5 1206.0,516.2 1205.5,508.8 1205.0,504.3 1204.5,503.8 1204.0,502.8 1203.5,495.6 1203.0,549.1 1202.5,549.7 1202.0,550.1 1201.5,550.3 1201.0,550.4 1200.5,550.4 1200.0,550.3 1199.5,550.0 1199.0,549.6 1198.5,548.9 1198.0,536.7 1197.5,536.7 1197.0,536.5 1196.5,536.3 1196.0,535.8 1195.5,534.8 1195.0,499.7 1194.5,499.1 1194.0,497.1 1193.5,496.9 1193.0,496.7 1192.5,496.3 1192.0,495.4 1191.5,453.8 1191.0,453.5 1190.5,452.9 1190.0,446.0 1189.5,445.9 1189.0,445.7 1188.5,445.3 1188.0,444.7 1187.5,442.7 1187.0,443.1 1186.5,443.4 1186.0,443.6 1185.5,443.6 1185.0,443.5 1184.5,443.4 1184.0,443.1 1183.5,462.9 1183.0,516.5 1182.5,517.5 1182.0,518.0 1181.5,518.2 1181.0,518.4 1180.5,519.9 1180.0,520.6 1179.5,520.9 1179.0,521.1 1178.5,521.2 1178.0,521.2 1177.5,521.1 1177.0,520.8 1176.5,521.2 1176.0,521.5 1175.5,521.6 1175.0,521.6 1174.5,521.5 1174.0,521.4 1173.5,521.0 1173.0,520.5 1172.5,526.8 1172.0,527.7 1171.5,528.1 1171.0,528.4 1170.5,528.5 1170.0,528.5 1169.5,528.4 1169.0,528.3 1168.5,527.9 1168.0,527.3 1167.5,496.1 1167.0,414.6 1166.5,466.0 1166.0,487.7 1165.5,488.3 1165.0,488.6 1164.5,488.8 1164.0,490.8 1163.5,491.4 1163.0,491.7 1162.5,491.8 1162.0,491.9 1161.5,491.9 1161.0,512.4 1160.5,513.1 1160.0,513.5 1159.5,513.7 1159.0,513.8 1158.5,521.0 1158.0,521.6 1157.5,522.0 1157.0,522.2 1156.5,522.3 1156.0,522.3 1155.5,522.2 1155.0,521.9 1154.5,521.5 1154.0,520.7 1153.5,502.4 1153.0,501.9 1152.5,497.8 1152.0,498.1 1151.5,498.2 1151.0,498.3 1150.5,498.2 1150.0,498.1 1149.5,497.8 1149.0,500.6 1148.5,501.8 1148.0,502.3 1147.5,502.6 1147.0,502.8 1146.5,502.8 1146.0,502.8 1145.5,502.6 1145.0,502.3 1144.5,501.8 1144.0,469.3 1143.5,422.4 1143.0,422.1 1142.5,421.6 1142.0,389.0 1141.5,389.4 1141.0,389.7 1140.5,439.7 1140.0,440.5 1139.5,440.9 1139.0,441.1 1138.5,441.3 1138.0,441.3 1137.5,441.2 1137.0,441.0 1136.5,515.9 1136.0,516.5 1135.5,516.9 1135.0,517.1 1134.5,539.8 1134.0,618.6 1133.5,619.6 1133.0,620.1 1132.5,620.3 1132.0,620.5 1131.5,620.5 1131.0,620.4 1130.5,620.3 1130.0,619.9 1129.5,619.4 1129.0,595.7 1128.5,532.8 1128.0,549.5 1127.5,550.0 1127.0,550.3 1126.5,550.5 1126.0,550.5 1125.5,550.5 1125.0,550.3 1124.5,550.1 1124.0,549.6 1123.5,548.5 1123.0,537.7 1122.5,537.2 1122.0,491.9 1121.5,491.2 1121.0,469.0 1120.5,470.0 1120.0,470.5 1119.5,470.8 1119.0,470.9 1118.5,471.0 1118.0,470.9 1117.5,470.7 1117.0,470.4 1116.5,469.9 1116.0,420.0 1115.5,420.1 1115.0,446.6 1114.5,447.5 1114.0,447.9 1113.5,448.2 1113.0,448.3 1112.5,454.6 1112.0,494.8 1111.5,495.5 1111.0,495.9 1110.5,496.1 1110.0,496.2 1109.5,496.2 1109.0,496.1 1108.5,495.9 1108.0,495.5 1107.5,494.9 1107.0,468.0 1106.5,468.0 1106.0,467.8 1105.5,467.5 1105.0,467.0 1104.5,456.8 1104.0,457.3 1103.5,457.5 1103.0,457.6 1102.5,457.6 1102.0,457.5 1101.5,457.3 1101.0,457.0 1100.5,456.4 1100.0,451.2 1099.5,452.4 1099.0,452.9 1098.5,453.1 1098.0,454.8 1097.5,455.7 1097.0,467.0 1096.5,467.8 1096.0,469.0 1095.5,469.5 1095.0,469.8 1094.5,469.9 1094.0,470.0 1093.5,469.9 1093.0,469.8 1092.5,469.5 1092.0,469.0 1091.5,488.0 1091.0,500.7 1090.5,501.3 1090.0,501.6 1089.5,501.8 1089.0,501.9 1088.5,501.8 1088.0,501.7 1087.5,501.5 1087.0,501.1 1086.5,500.2 1086.0,451.4 1085.5,455.4 1085.0,499.1 1084.5,499.6 1084.0,500.0 1083.5,500.1 1083.0,500.2 1082.5,500.2 1082.0,500.0 1081.5,499.8 1081.0,499.3 1080.5,498.4 1080.0,511.7 1079.5,512.4 1079.0,512.7 1078.5,529.7 1078.0,530.2 1077.5,530.5 1077.0,530.7 1076.5,530.8 1076.0,530.7 1075.5,530.5 1075.0,530.3 1074.5,529.8 1074.0,528.5 1073.5,518.7 1073.0,519.5 1072.5,519.9 1072.0,520.1 1071.5,520.3 1071.0,520.3 1070.5,520.2 1070.0,520.0 1069.5,519.6 1069.0,519.0 1068.5,491.7 1068.0,491.4 1067.5,490.8 1067.0,469.3 1066.5,469.0 1066.0,468.6 1065.5,467.9 1065.0,465.5 1064.5,465.4 1064.0,465.1 1063.5,464.7 1063.0,463.8 1062.5,462.7 1062.0,479.0 1061.5,484.6 1061.0,485.3 1060.5,485.6 1060.0,485.8 1059.5,514.1 1059.0,515.2 1058.5,515.7 1058.0,520.7 1057.5,567.3 1057.0,567.9 1056.5,568.2 1056.0,568.4 1055.5,568.4 1055.0,568.4 1054.5,568.2 1054.0,568.0 1053.5,567.5 1053.0,566.4 1052.5,558.2 1052.0,557.5 1051.5,565.8 1051.0,566.4 1050.5,566.8 1050.0,567.0 1049.5,567.1 1049.0,567.0 1048.5,566.9 1048.0,566.7 1047.5,566.3 1047.0,565.5 1046.5,505.9 1046.0,506.1 1045.5,506.3 1045.0,506.4 1044.5,506.3 1044.0,525.6 1043.5,526.4 1043.0,526.9 1042.5,527.1 1042.0,527.2 1041.5,527.3 1041.0,527.2 1040.5,527.0 1040.0,526.7 1039.5,526.1 1039.0,471.8 1038.5,472.7 1038.0,473.1 1037.5,511.0 1037.0,512.1 1036.5,512.5 1036.0,512.8 1035.5,513.0 1035.0,513.0 1034.5,513.0 1034.0,512.8 1033.5,542.5 1033.0,543.3 1032.5,543.7 1032.0,543.9 1031.5,544.0 1031.0,544.0 1030.5,543.9 1030.0,543.7 1029.5,543.4 1029.0,542.8 1028.5,532.7 1028.0,491.8 1027.5,486.2 1027.0,500.3 1026.5,530.5 1026.0,531.0 1025.5,531.3 1025.0,531.5 1024.5,531.5 1024.0,531.5 1023.5,531.4 1023.0,531.1 1022.5,530.6 1022.0,529.6 1021.5,468.8 1021.0,468.9 1020.5,515.9 1020.0,516.7 1019.5,517.1 1019.0,517.4 1018.5,517.5 1018.0,517.5 1017.5,517.4 1017.0,517.2 1016.5,516.9 1016.0,516.2 1015.5,472.0 1015.0,472.1 1014.5,472.1 1014.0,472.0 1013.5,471.7 1013.0,471.3 1012.5,470.6 1012.0,480.8 1011.5,481.4 1011.0,481.8 1010.5,482.0 1010.0,482.1 1009.5,482.0 1009.0,481.9 1008.5,481.7 1008.0,482.8 1007.5,504.9 1007.0,505.5 1006.5,505.9 1006.0,506.1 1005.5,506.2 1005.0,506.2 1004.5,506.0 1004.0,505.8 1003.5,505.4 1003.0,511.0 1002.5,512.3 1002.0,512.8 1001.5,513.1 1001.0,513.3 1000.5,513.3 1000.0,513.3 999.5,513.1 999.0,561.8 998.5,562.4 998.0,562.8 997.5,563.0 997.0,563.1 996.5,563.0 996.0,562.9 995.5,562.7 995.0,562.3 994.5,561.5 994.0,529.6 993.5,530.4 993.0,530.8 992.5,531.0 992.0,531.1 991.5,531.2 991.0,531.1 990.5,530.9 990.0,530.5 989.5,529.9 989.0,487.2 988.5,488.4 988.0,488.8 987.5,489.1 987.0,491.6 986.5,543.4 986.0,543.9 985.5,544.2 985.0,544.4 984.5,544.4 984.0,544.4 983.5,544.3 983.0,544.0 982.5,543.5 982.0,542.5 981.5,527.2 981.0,527.7 980.5,527.9 980.0,528.1 979.5,528.1 979.0,528.0 978.5,527.8 978.0,527.5 977.5,526.9 977.0,525.2 976.5,525.6 976.0,525.8 975.5,525.9 975.0,525.9 974.5,525.8 974.0,525.6 973.5,525.2 973.0,524.4 972.5,512.3 972.0,512.1 971.5,514.5 971.0,515.2 970.5,515.7 970.0,515.9 969.5,516.0 969.0,516.0 968.5,515.9 968.0,518.7 967.5,524.9 967.0,537.6 966.5,538.8 966.0,539.2 965.5,559.9 965.0,560.9 964.5,561.3 964.0,561.6 963.5,561.7 963.0,561.8 962.5,561.7 962.0,561.5 961.5,561.2 961.0,560.7 960.5,547.2 960.0,546.9 959.5,565.5 959.0,585.1 958.5,605.3 958.0,606.5 957.5,607.0 957.0,607.3 956.5,607.5 956.0,607.5 955.5,607.4 955.0,607.3 954.5,607.0 954.0,606.5 953.5,605.0 953.0,605.6 952.5,605.9 952.0,606.1 951.5,606.2 951.0,606.2 950.5,606.1 950.0,605.8 949.5,605.4 949.0,604.6 948.5,566.5 948.0,565.6 947.5,557.0 947.0,572.7 946.5,590.1 946.0,590.7 945.5,591.1 945.0,591.3 944.5,591.4 944.0,591.4 943.5,591.3 943.0,591.0 942.5,590.6 942.0,589.9 941.5,563.1 941.0,549.8 940.5,549.6 940.0,549.1 939.5,548.2 939.0,544.3 938.5,554.8 938.0,555.7 937.5,556.2 937.0,556.4 936.5,556.5 936.0,556.6 935.5,556.5 935.0,556.3 934.5,556.0 934.0,555.4 933.5,522.0 933.0,521.9 932.5,521.7 932.0,521.4 931.5,520.7 931.0,506.7 930.5,506.7 930.0,506.7 929.5,506.5 929.0,506.3 928.5,505.8 928.0,504.6 927.5,474.8 927.0,474.6 926.5,488.9 926.0,489.6 925.5,490.0 925.0,490.2 924.5,494.2 924.0,495.1 923.5,495.5 923.0,495.8 922.5,495.9 922.0,499.5 921.5,500.2 921.0,500.6 920.5,500.8 920.0,524.8 919.5,544.6 919.0,545.1 918.5,545.4 918.0,545.5 917.5,545.6 917.0,545.6 916.5,545.4 916.0,545.1 915.5,544.7 915.0,543.5 914.5,507.5 914.0,507.7 913.5,507.7 913.0,508.2 912.5,508.7 912.0,509.0 911.5,509.1 911.0,509.2 910.5,509.1 910.0,509.0 909.5,508.6 909.0,508.1 908.5,494.6 908.0,492.9 907.5,531.0 907.0,531.9 906.5,532.4 906.0,532.6 905.5,532.8 905.0,532.8 904.5,532.7 904.0,532.6 903.5,532.5 903.0,532.7 902.5,532.7 902.0,532.6 901.5,532.5 901.0,532.2 900.5,531.7 900.0,517.1 899.5,562.3 899.0,562.8 898.5,563.2 898.0,563.3 897.5,563.4 897.0,563.4 896.5,563.3 896.0,564.7 895.5,565.3 895.0,565.7 894.5,565.9 894.0,565.9 893.5,565.9 893.0,565.8 892.5,565.6 892.0,565.1 891.5,564.3 891.0,509.0 890.5,509.8 890.0,510.2 889.5,510.4 889.0,510.5 888.5,510.5 888.0,510.4 887.5,510.2 887.0,509.8 886.5,509.2 886.0,458.3 885.5,464.5 885.0,465.2 884.5,465.6 884.0,465.8 883.5,465.9 883.0,465.9 882.5,475.2 882.0,476.3 881.5,476.8 881.0,493.8 880.5,500.9 880.0,501.5 879.5,503.9 879.0,504.7 878.5,505.2 878.0,505.4 877.5,505.5 877.0,505.6 876.5,505.5 876.0,505.3 875.5,504.9 875.0,504.3 874.5,525.4 874.0,525.9 873.5,526.2 873.0,526.3 872.5,526.4 872.0,526.3 871.5,526.2 871.0,525.9 870.5,525.4 870.0,524.1 869.5,509.3 869.0,509.9 868.5,510.3 868.0,510.4 867.5,510.5 867.0,510.5 866.5,510.4 866.0,510.1 865.5,509.7 865.0,508.9 864.5,569.4 864.0,570.1 863.5,570.5 863.0,574.8 862.5,575.3 862.0,575.6 861.5,575.8 861.0,575.9 860.5,575.9 860.0,575.7 859.5,575.4 859.0,575.0 858.5,574.0 858.0,547.7 857.5,547.5 857.0,547.2 856.5,546.7 856.0,540.1 855.5,540.8 855.0,541.2 854.5,541.5 854.0,541.6 853.5,541.6 853.0,541.5 852.5,541.3 852.0,540.9 851.5,540.3 851.0,460.1 850.5,459.9 850.0,459.6 849.5,459.0 849.0,439.6 848.5,458.7 848.0,459.3 847.5,459.7 847.0,459.9 846.5,460.0 846.0,460.0 845.5,459.9 845.0,459.6 844.5,462.3 844.0,524.4 843.5,525.0 843.0,525.3 842.5,525.6 842.0,525.6 841.5,525.6 841.0,525.5 840.5,525.3 840.0,524.9 839.5,524.1 839.0,472.2 838.5,472.7 838.0,531.6 837.5,532.3 837.0,532.7 836.5,532.9 836.0,533.0 835.5,533.0 835.0,533.0 834.5,532.7 834.0,532.4 833.5,531.7 833.0,515.0 832.5,515.1 832.0,515.1 831.5,515.0 831.0,514.8 830.5,514.5 830.0,513.9 829.5,465.0 829.0,465.0 828.5,465.0 828.0,464.8 827.5,464.6 827.0,464.1 826.5,463.0 826.0,466.9 825.5,467.4 825.0,467.7 824.5,467.9 824.0,468.0 823.5,467.9 823.0,467.8 822.5,467.5 822.0,467.0 821.5,465.8 821.0,440.8 820.5,441.1 820.0,441.3 819.5,460.4 819.0,461.0 818.5,461.3 818.0,461.5 817.5,461.6 817.0,461.6 816.5,461.4 816.0,461.2 815.5,460.7 815.0,459.8 814.5,427.2 814.0,427.0 813.5,426.7 813.0,426.2 812.5,425.0 812.0,423.2 811.5,390.0 811.0,390.1 810.5,390.0 810.0,389.9 809.5,389.6 809.0,389.1 808.5,388.0 808.0,354.5 807.5,354.0 807.0,353.2 806.5,335.8 806.0,385.0 805.5,386.0 805.0,386.5 804.5,386.7 804.0,422.9 803.5,423.4 803.0,423.7 802.5,423.9 802.0,423.9 801.5,423.9 801.0,423.7 800.5,423.4 800.0,422.9 799.5,421.8 799.0,405.2 798.5,405.4 798.0,405.5 797.5,405.5 797.0,405.4 796.5,405.1 796.0,404.7 795.5,404.0 795.0,367.7 794.5,337.7 794.0,347.6 793.5,348.7 793.0,359.0 792.5,366.0 792.0,367.0 791.5,367.4 791.0,367.7 790.5,367.8 790.0,367.9 789.5,367.8 789.0,367.6 788.5,367.3 788.0,407.5 787.5,408.0 787.0,408.3 786.5,408.5 786.0,408.6 785.5,408.6 785.0,408.4 784.5,408.1 784.0,407.7 783.5,406.7 783.0,342.0 782.5,340.9 782.0,341.2 781.5,375.1 781.0,393.1 780.5,393.9 780.0,394.3 779.5,394.6 779.0,394.7 778.5,394.7 778.0,394.6 777.5,394.4 777.0,394.0 776.5,393.4 776.0,343.1 775.5,340.1 775.0,340.4 774.5,340.6 774.0,340.7 773.5,340.7 773.0,352.3 772.5,352.9 772.0,353.2 771.5,353.5 771.0,353.5 770.5,353.5 770.0,353.4 769.5,353.2 769.0,352.8 768.5,393.1 768.0,393.6 767.5,393.9 767.0,394.0 766.5,394.1 766.0,394.0 765.5,393.9 765.0,393.6 764.5,393.1 764.0,391.9 763.5,383.6 763.0,383.3 762.5,481.2 762.0,481.9 761.5,482.3 761.0,482.5 760.5,482.7 760.0,482.7 759.5,482.6 759.0,513.3 758.5,513.9 758.0,514.2 757.5,514.4 757.0,514.5 756.5,514.5 756.0,514.4 755.5,514.1 755.0,513.7 754.5,512.9 754.0,467.5 753.5,475.2 753.0,531.7 752.5,532.2 752.0,532.6 751.5,532.7 751.0,532.8 750.5,532.8 750.0,532.6 749.5,532.4 749.0,531.9 748.5,531.0 748.0,514.5 747.5,514.2 747.0,513.6 746.5,510.8 746.0,510.9 745.5,510.9 745.0,510.8 744.5,510.6 744.0,510.2 743.5,509.5 743.0,505.9 742.5,506.0 742.0,506.0 741.5,505.8 741.0,505.6 740.5,505.1 740.0,504.2 739.5,482.6 739.0,482.5 738.5,482.3 738.0,482.0 737.5,481.4 737.0,478.6 736.5,468.4 736.0,477.9 735.5,478.5 735.0,478.8 734.5,479.0 734.0,479.1 733.5,479.1 733.0,478.9 732.5,478.7 732.0,478.3 731.5,477.4 731.0,468.1 730.5,467.7 730.0,481.4 729.5,485.0 729.0,501.8 728.5,502.5 728.0,502.8 727.5,503.0 727.0,541.9 726.5,542.6 726.0,543.0 725.5,543.2 725.0,543.3 724.5,543.3 724.0,543.2 723.5,543.0 723.0,542.7 722.5,542.0 722.0,546.9 721.5,547.5 721.0,547.8 720.5,548.0 720.0,548.1 719.5,548.2 719.0,548.3 718.5,548.3 718.0,548.2 717.5,548.0 717.0,547.6 716.5,546.8 716.0,538.7 715.5,538.8 715.0,538.7 714.5,538.5 714.0,538.2 713.5,537.7 713.0,514.2 712.5,513.6 712.0,500.7 711.5,580.4 711.0,580.9 710.5,581.2 710.0,581.4 709.5,581.4 709.0,581.4 708.5,581.2 708.0,581.0 707.5,580.5 707.0,579.4 706.5,553.4 706.0,553.5 705.5,553.5 705.0,553.4 704.5,553.2 704.0,552.8 703.5,571.9 703.0,572.4 702.5,572.7 702.0,572.9 701.5,573.0 701.0,572.9 700.5,572.8 700.0,572.5 699.5,572.1 699.0,571.1 698.5,465.1 698.0,465.3 697.5,465.3 697.0,465.3 696.5,465.2 696.0,464.9 695.5,464.5 695.0,463.5 694.5,459.9 694.0,460.1 693.5,501.9 693.0,541.8 692.5,542.3 692.0,542.6 691.5,542.8 691.0,542.8 690.5,542.8 690.0,542.6 689.5,542.4 689.0,541.9 688.5,540.6 688.0,514.5 687.5,513.6 687.0,486.2 686.5,485.2 686.0,472.2 685.5,472.5 685.0,472.7 684.5,472.8 684.0,472.7 683.5,472.6 683.0,472.3 682.5,472.0 682.0,472.3 681.5,472.5 681.0,472.6 680.5,472.6 680.0,472.5 679.5,472.9 679.0,473.2 678.5,473.4 678.0,491.3 677.5,606.7 677.0,607.7 676.5,608.2 676.0,608.4 675.5,608.6 675.0,608.6 674.5,608.5 674.0,608.3 673.5,608.0 673.0,607.5 672.5,539.7 672.0,539.5 671.5,539.4 671.0,539.7 670.5,539.9 670.0,539.9 669.5,539.9 669.0,539.7 668.5,539.5 668.0,539.0 667.5,538.0 667.0,531.0 666.5,531.0 666.0,530.8 665.5,530.6 665.0,530.1 664.5,530.0 664.0,530.4 663.5,530.6 663.0,530.7 662.5,583.1 662.0,583.7 661.5,584.1 661.0,584.3 660.5,584.4 660.0,584.4 659.5,584.3 659.0,584.0 658.5,583.6 658.0,582.9 657.5,529.0 657.0,528.8 656.5,528.5 656.0,528.0 655.5,512.2 655.0,499.8 654.5,499.4 654.0,498.7 653.5,495.4 653.0,505.6 652.5,506.1 652.0,506.4 651.5,506.5 651.0,513.4 650.5,520.0 650.0,520.9 649.5,521.3 649.0,521.6 648.5,521.7 648.0,557.1 647.5,557.9 647.0,558.3 646.5,558.5 646.0,558.6 645.5,558.6 645.0,558.5 644.5,558.3 644.0,558.0 643.5,557.4 643.0,502.3 642.5,501.8 642.0,484.5 641.5,483.1 641.0,483.6 640.5,483.9 640.0,484.0 639.5,484.0 639.0,484.0 638.5,483.8 638.0,483.5 637.5,482.9 637.0,482.7 636.5,482.7 636.0,482.6 635.5,482.4 635.0,482.1 634.5,497.5 634.0,498.6 633.5,499.1 633.0,499.4 632.5,499.6 632.0,499.6 631.5,499.5 631.0,499.4 630.5,499.1 630.0,498.6 629.5,490.5 629.0,490.3 628.5,490.1 628.0,489.7 627.5,489.0 627.0,483.4 626.5,483.1 626.0,482.4 625.5,475.4 625.0,475.2 624.5,474.8 624.0,474.1 623.5,458.3 623.0,458.1 622.5,457.7 622.0,482.4 621.5,483.2 621.0,483.7 620.5,483.9 620.0,484.0 619.5,484.0 619.0,484.0 618.5,483.8 618.0,483.4 617.5,482.8 617.0,476.5 616.5,476.7 616.0,476.7 615.5,476.7 615.0,491.0 614.5,492.0 614.0,492.4 613.5,492.7 613.0,492.8 612.5,526.3 612.0,526.9 611.5,527.3 611.0,527.5 610.5,527.5 610.0,527.5 609.5,527.4 609.0,527.1 608.5,526.7 608.0,525.9 607.5,490.5 607.0,489.9 606.5,500.2 606.0,500.9 605.5,501.3 605.0,501.5 604.5,501.6 604.0,505.9 603.5,507.2 603.0,507.7 602.5,509.7 602.0,510.2 601.5,510.6 601.0,510.8 600.5,528.6 600.0,529.2 599.5,529.6 599.0,529.8 598.5,529.9 598.0,529.9 597.5,529.7 597.0,529.5 596.5,529.1 596.0,543.2 595.5,543.7 595.0,544.0 594.5,544.2 594.0,544.3 593.5,544.2 593.0,544.1 592.5,543.8 592.0,543.3 591.5,542.2 591.0,517.1 590.5,517.3 590.0,517.4 589.5,517.5 589.0,517.4 588.5,517.2 588.0,520.7 587.5,541.1 587.0,541.8 586.5,542.1 586.0,542.4 585.5,542.5 585.0,542.4 584.5,542.3 584.0,542.1 583.5,541.7 583.0,541.0 582.5,535.5 582.0,534.0 581.5,516.4 581.0,527.6 580.5,528.3 580.0,528.7 579.5,528.9 579.0,529.1 578.5,529.1 578.0,529.0 577.5,554.6 577.0,555.4 576.5,555.8 576.0,556.1 575.5,556.2 575.0,556.2 574.5,556.1 574.0,555.9 573.5,555.6 573.0,555.0 572.5,487.5 572.0,487.7 571.5,487.8 571.0,493.3 570.5,494.2 570.0,494.7 569.5,495.0 569.0,507.6 568.5,508.2 568.0,508.6 567.5,508.8 567.0,508.8 566.5,508.8 566.0,508.7 565.5,508.5 565.0,508.1 564.5,507.3 564.0,463.8 563.5,441.7 563.0,441.9 562.5,465.6 562.0,466.2 561.5,466.5 561.0,466.7 560.5,466.8 560.0,505.8 559.5,507.1 559.0,507.6 558.5,507.9 558.0,508.1 557.5,508.1 557.0,508.1 556.5,507.9 556.0,507.6 555.5,507.1 555.0,496.7 554.5,496.9 554.0,497.0 553.5,497.0 553.0,496.8 552.5,496.6 552.0,496.2 551.5,495.4 551.0,491.2 550.5,491.3 550.0,491.3 549.5,491.1 549.0,490.8 548.5,490.4 548.0,489.3 547.5,475.8 547.0,476.2 546.5,476.8 546.0,477.2 545.5,477.4 545.0,477.5 544.5,477.4 544.0,477.3 543.5,477.1 543.0,476.7 542.5,475.9 542.0,469.5 541.5,469.4 541.0,469.1 540.5,478.5 540.0,479.1 539.5,479.4 539.0,479.6 538.5,479.7 538.0,479.7 537.5,479.5 537.0,479.3 536.5,478.8 536.0,477.9 535.5,472.7 535.0,473.0 534.5,473.2 534.0,473.3 533.5,498.3 533.0,499.2 532.5,499.6 532.0,499.8 531.5,499.9 531.0,500.0 530.5,499.9 530.0,499.7 529.5,499.3 529.0,513.8 528.5,514.3 528.0,514.6 527.5,514.8 527.0,514.9 526.5,538.7 526.0,539.4 525.5,539.7 525.0,539.9 524.5,540.0 524.0,540.0 523.5,539.9 523.0,539.7 522.5,539.3 522.0,538.6 521.5,528.3 521.0,528.0 520.5,527.4 520.0,527.5 519.5,527.9 519.0,528.1 518.5,528.1 518.0,528.1 517.5,528.0 517.0,527.8 516.5,527.4 516.0,526.6 515.5,487.8 515.0,487.6 514.5,487.4 514.0,489.4 513.5,533.4 513.0,534.4 512.5,534.8 512.0,535.1 511.5,535.2 511.0,535.3 510.5,535.2 510.0,535.0 509.5,534.7 509.0,534.2 508.5,484.3 508.0,484.0 507.5,483.4 507.0,480.0 506.5,494.3 506.0,494.9 505.5,495.3 505.0,540.4 504.5,540.9 504.0,541.3 503.5,541.4 503.0,547.0 502.5,547.7 502.0,548.0 501.5,575.4 501.0,575.9 500.5,576.3 500.0,576.5 499.5,576.6 499.0,576.5 498.5,576.4 498.0,576.2 497.5,575.7 497.0,574.9 496.5,572.8 496.0,572.6 495.5,572.1 495.0,587.6 494.5,588.5 494.0,588.9 493.5,589.2 493.0,589.3 492.5,589.3 492.0,589.3 491.5,589.1 491.0,588.8 490.5,588.2 490.0,543.1 489.5,543.2 489.0,543.1 488.5,543.0 488.0,542.7 487.5,565.0 487.0,565.6 486.5,565.9 486.0,566.1 485.5,566.1 485.0,566.1 484.5,566.0 484.0,565.7 483.5,565.3 483.0,564.4 482.5,557.1 482.0,556.9 481.5,556.6 481.0,556.0 480.5,538.7 480.0,538.8 479.5,538.8 479.0,538.7 478.5,538.5 478.0,557.7 477.5,558.4 477.0,558.8 476.5,559.0 476.0,559.1 475.5,568.9 475.0,570.1 474.5,570.6 474.0,570.9 473.5,571.0 473.0,571.1 472.5,571.0 472.0,570.8 471.5,570.6 471.0,570.0 470.5,569.3 470.0,582.6 469.5,583.3 469.0,583.7 468.5,583.9 468.0,584.1 467.5,584.1 467.0,584.0 466.5,583.8 466.0,583.4 465.5,582.7 465.0,523.9 464.5,524.4 464.0,524.8 463.5,524.9 463.0,525.0 462.5,525.0 462.0,524.8 461.5,524.6 461.0,526.2 460.5,546.6 460.0,547.1 459.5,565.4 459.0,566.3 458.5,566.7 458.0,567.0 457.5,567.1 457.0,567.2 456.5,567.1 456.0,566.9 455.5,566.6 455.0,566.0 454.5,534.3 454.0,533.7 453.5,531.4 453.0,561.2 452.5,562.0 452.0,562.4 451.5,562.6 451.0,562.7 450.5,562.8 450.0,562.7 449.5,562.5 449.0,562.1 448.5,561.5 448.0,557.3 447.5,557.3 447.0,557.3 446.5,557.1 446.0,556.7 445.5,556.1 445.0,542.9 444.5,543.2 444.0,543.3 443.5,543.3 443.0,543.3 442.5,543.1 442.0,542.7 441.5,542.2 441.0,541.7 440.5,542.6 440.0,543.0 439.5,555.1 439.0,555.8 438.5,556.2 438.0,556.5 437.5,612.8 437.0,633.4 436.5,634.0 436.0,634.3 435.5,634.4 435.0,634.5 434.5,634.5 434.0,634.3 433.5,634.0 433.0,633.6 432.5,632.5 432.0,568.1 431.5,568.6 431.0,568.9 430.5,572.2 430.0,573.0 429.5,573.4 429.0,573.6 428.5,573.7 428.0,573.7 427.5,573.6 427.0,613.7 426.5,615.0 426.0,615.5 425.5,615.8 425.0,615.9 424.5,616.0 424.0,615.9 423.5,615.8 423.0,615.5 422.5,615.0 422.0,605.3 421.5,605.5 421.0,605.5 420.5,605.5 420.0,605.3 419.5,605.0 419.0,604.6 418.5,603.4 418.0,557.2 417.5,556.6 417.0,554.8 416.5,555.9 416.0,556.4 415.5,556.6 415.0,580.5 414.5,581.1 414.0,581.4 413.5,581.6 413.0,581.6 412.5,581.6 412.0,581.4 411.5,581.2 411.0,580.7 410.5,579.7 410.0,568.9 409.5,568.4 409.0,567.6 408.5,564.6 408.0,564.8 407.5,565.0 407.0,565.2 406.5,565.3 406.0,565.3 405.5,565.2 405.0,564.9 404.5,564.9 404.0,565.1 403.5,565.3 403.0,565.3 402.5,565.2 402.0,586.9 401.5,594.4 401.0,594.9 400.5,595.2 400.0,595.4 399.5,595.5 399.0,602.6 398.5,603.3 398.0,603.7 397.5,604.0 397.0,604.1 396.5,604.1 396.0,604.0 395.5,603.8 395.0,603.4 394.5,602.7 394.0,561.0 393.5,560.3 393.0,543.1 392.5,543.4 392.0,543.6 391.5,543.7 391.0,543.6 390.5,543.5 390.0,543.2 389.5,542.8 389.0,541.8 388.5,477.3 388.0,496.4 387.5,542.3 387.0,542.8 386.5,543.1 386.0,543.2 385.5,543.3 385.0,543.2 384.5,543.1 384.0,542.8 383.5,542.3 383.0,541.1 382.5,527.5 382.0,527.0 381.5,527.2 381.0,527.3 380.5,527.2 380.0,527.1 379.5,568.2 379.0,569.0 378.5,569.5 378.0,569.7 377.5,569.9 377.0,569.9 376.5,569.8 376.0,569.6 375.5,569.3 375.0,568.7 374.5,576.7 374.0,577.5 373.5,578.0 373.0,578.2 372.5,578.3 372.0,578.4 371.5,578.3 371.0,578.1 370.5,577.8 370.0,577.2 369.5,573.5 369.0,573.6 368.5,573.5 368.0,573.3 367.5,573.0 367.0,572.4 366.5,554.0 366.0,538.8 365.5,537.6 365.0,520.1 364.5,508.4 364.0,508.6 363.5,508.7 363.0,508.7 362.5,522.4 362.0,523.4 361.5,523.8 361.0,524.1 360.5,524.2 360.0,524.2 359.5,524.2 359.0,524.0 358.5,523.7 358.0,523.1 357.5,574.7 357.0,575.3 356.5,575.7 356.0,575.9 355.5,576.0 355.0,576.0 354.5,575.9 354.0,575.7 353.5,575.3 353.0,574.5 352.5,538.4 352.0,538.6 351.5,538.8 351.0,538.8 350.5,538.7 350.0,538.5 349.5,538.2 349.0,537.7 348.5,534.1 348.0,533.8 347.5,533.2 347.0,529.1 346.5,533.0 346.0,533.7 345.5,534.1 345.0,548.9 344.5,549.4 344.0,549.7 343.5,549.9 343.0,550.0 342.5,559.0 342.0,559.7 341.5,598.7 341.0,599.5 340.5,599.9 340.0,621.9 339.5,622.4 339.0,622.7 338.5,622.9 338.0,623.0 337.5,622.9 337.0,622.8 336.5,622.5 336.0,622.1 335.5,621.1 335.0,579.2 334.5,619.9 334.0,620.5 333.5,620.9 333.0,621.1 332.5,621.2 332.0,621.2 331.5,621.1 331.0,620.8 330.5,620.4 330.0,619.6 329.5,572.1 329.0,566.7 328.5,571.0 328.0,572.7 327.5,573.2 327.0,573.6 326.5,590.6 326.0,591.1 325.5,591.5 325.0,592.2 324.5,625.7 324.0,626.5 323.5,626.9 323.0,627.2 322.5,627.7 322.0,628.1 321.5,628.3 321.0,628.4 320.5,629.8 320.0,633.9 319.5,634.7 319.0,635.1 318.5,635.3 318.0,639.0 317.5,639.5 317.0,639.8 316.5,640.0 316.0,640.1 315.5,652.2 315.0,653.0 314.5,653.4 314.0,653.6 313.5,653.7 313.0,653.7 312.5,653.6 312.0,653.4 311.5,653.1 311.0,652.4 310.5,630.5 310.0,630.3 309.5,629.9 309.0,629.4 308.5,596.2 308.0,605.6 307.5,606.3 307.0,606.6 306.5,629.0 306.0,629.6 305.5,629.9 305.0,639.1 304.5,639.7 304.0,640.0 303.5,640.2 303.0,640.3 302.5,640.2 302.0,640.1 301.5,639.8 301.0,639.4 300.5,638.4 300.0,636.8 299.5,602.1 299.0,602.6 298.5,602.8 298.0,603.0 297.5,603.0 297.0,602.9 296.5,628.7 296.0,629.7 295.5,630.1 295.0,630.4 294.5,630.6 294.0,630.6 293.5,630.5 293.0,630.3 292.5,630.9 292.0,631.3 291.5,631.6 291.0,631.8 290.5,631.8 290.0,631.7 289.5,631.6 289.0,631.3 288.5,630.7 288.0,596.4 287.5,595.9 287.0,586.0 286.5,585.7 286.0,585.2 285.5,584.0 285.0,579.0 284.5,579.5 284.0,579.8 283.5,579.9 283.0,580.0 282.5,579.9 282.0,579.8 281.5,579.5 281.0,579.0 280.5,577.6 280.0,568.1 279.5,644.3 279.0,644.8 278.5,645.2 278.0,645.4 277.5,645.4 277.0,645.4 276.5,645.3 276.0,645.0 275.5,644.6 275.0,643.7 274.5,612.7 274.0,612.0 273.5,609.5 273.0,621.6 272.5,622.4 272.0,622.9 271.5,636.0 271.0,636.8 270.5,637.2 270.0,637.4 269.5,637.6 269.0,637.6 268.5,637.5 268.0,637.3 267.5,636.9 267.0,636.3 266.5,631.7 266.0,632.8 265.5,633.3 265.0,633.5 264.5,633.7 264.0,633.7 263.5,633.7 263.0,633.5 262.5,633.2 262.0,632.7 261.5,612.3 261.0,602.3 260.5,601.8 260.0,597.5 259.5,597.1 259.0,596.3 258.5,559.1 258.0,584.5 257.5,615.2 257.0,650.6 256.5,651.6 256.0,652.0 255.5,652.3 255.0,652.5 254.5,652.5 254.0,652.4 253.5,652.3 253.0,651.9 252.5,651.4 252.0,651.3 251.5,651.2 251.0,650.9 250.5,650.5 250.0,649.7 249.5,632.2 249.0,615.2 248.5,615.7 248.0,616.0 247.5,616.1 247.0,616.2 246.5,616.1 246.0,616.0 245.5,615.7 245.0,615.2 244.5,579.0 244.0,578.8 243.5,578.3 243.0,577.4 242.5,570.0 242.0,580.3 241.5,581.2 241.0,581.6 240.5,593.1 240.0,594.3 239.5,594.8 239.0,595.1 238.5,595.2 238.0,595.3 237.5,595.2 237.0,615.8 236.5,616.3 236.0,616.6 235.5,616.8 235.0,616.8 234.5,616.8 234.0,616.6 233.5,616.3 233.0,615.9 232.5,614.7 232.0,599.1 231.5,599.4 231.0,599.6 230.5,599.7 230.0,599.7 229.5,599.6 229.0,630.7 228.5,631.4 228.0,631.8 227.5,632.0 227.0,632.1 226.5,632.1 226.0,632.0 225.5,648.3 225.0,648.9 224.5,649.2 224.0,649.4 223.5,649.4 223.0,649.4 222.5,649.3 222.0,649.0 221.5,648.6 221.0,647.6 220.5,625.2 220.0,618.5 219.5,618.1 219.0,617.5 218.5,612.6 218.0,619.3 217.5,619.9 217.0,620.3 216.5,620.5 216.0,620.5 215.5,620.5 215.0,620.4 214.5,620.2 214.0,649.1 213.5,649.7 213.0,650.0 212.5,650.2 212.0,650.3 211.5,650.3 211.0,650.2 210.5,649.9 210.0,649.5 209.5,648.7 209.0,644.7 208.5,642.1 208.0,601.5 207.5,600.6 207.0,581.6 206.5,581.2 206.0,580.0 205.5,651.6 205.0,653.0 204.5,653.5 204.0,653.7 203.5,653.9 203.0,653.9 202.5,653.9 202.0,653.7 201.5,653.4 201.0,652.9 200.5,643.2 200.0,636.1 199.5,636.1 199.0,636.0 198.5,635.8 198.0,635.7 197.5,636.0 197.0,636.1 196.5,636.1 196.0,636.1 195.5,635.9 195.0,635.6 194.5,635.0 194.0,638.4 193.5,648.6 193.0,649.2 192.5,649.5 192.0,649.7 191.5,649.7 191.0,649.7 190.5,649.5 190.0,649.3 189.5,648.8 189.0,648.5 188.5,648.6 188.0,648.6 187.5,648.4 187.0,648.2 186.5,647.7 186.0,646.8 185.5,627.3 185.0,639.2 184.5,640.1 184.0,640.5 183.5,640.8 183.0,640.9 182.5,641.0 182.0,640.9 181.5,640.7 181.0,640.4" fill="#000000"/>
<polygon points="181.0,384.2 181.5,384.3 182.0,384.4 182.5,384.6 183.0,385.0 183.5,367.5 184.0,366.3 184.5,365.8 185.0,365.5 185.5,365.4 186.0,335.3 186.5,334.4 187.0,334.0 187.5,333.7 188.0,333.6 188.5,333.6 189.0,333.6 189.5,333.8 190.0,334.2 190.5,334.7 191.0,292.4 191.5,291.6 192.0,291.2 192.5,290.9 193.0,290.8 193.5,290.7 194.0,290.8 194.5,291.0 195.0,291.3 195.5,291.9 196.0,296.8 196.5,297.3 197.0,298.1 197.5,316.1 198.0,315.0 198.5,314.6 199.0,314.3 199.5,314.1 200.0,314.1 200.5,314.2 201.0,314.3 201.5,314.6 202.0,315.2 202.5,352.0 203.0,341.9 203.5,290.3 204.0,289.4 204.5,288.9 205.0,288.7 205.5,288.5 206.0,288.5 206.5,288.6 207.0,288.8 207.5,289.1 208.0,289.7 208.5,321.5 209.0,321.3 209.5,295.5 210.0,294.7 210.5,294.3 211.0,294.0 211.5,291.3 212.0,290.3 212.5,289.8 213.0,289.6 213.5,287.2 214.0,284.0 214.5,283.5 215.0,273.2 215.5,263.8 216.0,263.2 216.5,262.9 217.0,262.7 217.5,262.6 218.0,262.7 218.5,262.8 219.0,263.0 219.5,263.5 220.0,263.2 220.5,262.6 221.0,262.3 221.5,262.1 222.0,262.1 222.5,262.1 223.0,262.2 223.5,262.5 224.0,262.9 224.5,263.8 225.0,302.9 225.5,302.7 226.0,302.6 226.5,302.5 227.0,302.6 227.5,302.8 228.0,303.2 228.5,303.9 229.0,324.8 229.5,324.7 230.0,324.7 230.5,324.8 231.0,325.1 231.5,325.5 232.0,326.3 232.5,346.4 233.0,346.4 233.5,308.3 234.0,307.3 234.5,306.8 235.0,306.6 235.5,306.4 236.0,306.4 236.5,275.5 237.0,274.9 237.5,261.5 238.0,260.4 238.5,260.0 239.0,259.7 239.5,259.5 240.0,259.5 240.5,259.6 241.0,259.7 241.5,260.0 242.0,260.6 242.5,266.8 243.0,267.3 243.5,268.3 244.0,290.6 244.5,290.3 245.0,290.2 245.5,290.2 246.0,290.3 246.5,290.6 247.0,290.9 247.5,291.6 248.0,291.8 248.5,291.3 249.0,290.9 249.5,290.8 250.0,290.7 250.5,290.7 251.0,290.9 251.5,291.2 252.0,291.6 252.5,286.4 253.0,285.8 253.5,285.5 254.0,285.4 254.5,285.3 255.0,285.3 255.5,285.5 256.0,285.7 256.5,286.2 257.0,287.2 257.5,325.3 258.0,325.6 258.5,326.3 259.0,339.1 259.5,339.3 260.0,335.2 260.5,334.1 261.0,333.7 261.5,326.2 262.0,305.5 262.5,305.0 263.0,304.7 263.5,304.5 264.0,302.5 264.5,301.9 265.0,301.6 265.5,301.4 266.0,301.3 266.5,301.3 267.0,301.4 267.5,301.7 268.0,302.1 268.5,303.0 269.0,320.1 269.5,320.4 270.0,320.8 270.5,321.9 271.0,323.2 271.5,324.0 272.0,328.3 272.5,330.2 273.0,330.4 273.5,330.9 274.0,331.8 274.5,335.7 275.0,347.1 275.5,347.4 276.0,347.9 276.5,349.1 277.0,349.2 277.5,349.5 278.0,349.9 278.5,350.9 279.0,347.3 279.5,346.4 280.0,345.9 280.5,345.7 281.0,345.6 281.5,345.5 282.0,345.6 282.5,345.8 283.0,345.4 283.5,344.9 284.0,344.7 284.5,344.5 285.0,344.5 285.5,344.6 286.0,344.7 286.5,345.1 287.0,345.6 287.5,346.2 288.0,346.1 288.5,346.0 289.0,346.1 289.5,346.3 290.0,346.7 290.5,347.4 291.0,347.7 291.5,325.3 292.0,324.3 292.5,323.8 293.0,323.6 293.5,323.4 294.0,323.4 294.5,323.5 295.0,323.6 295.5,324.0 296.0,324.5 296.5,355.8 297.0,355.7 297.5,355.7 298.0,355.8 298.5,356.0 299.0,356.4 299.5,357.0 300.0,358.2 300.5,356.8 301.0,356.2 301.5,355.9 302.0,355.7 302.5,355.7 303.0,355.7 303.5,355.8 304.0,356.1 304.5,356.5 305.0,332.4 305.5,329.0 306.0,328.1 306.5,327.6 307.0,327.4 307.5,327.2 308.0,327.2 308.5,327.3 309.0,294.6 309.5,293.6 310.0,293.2 310.5,292.9 311.0,292.8 311.5,292.7 312.0,292.8 312.5,293.0 313.0,293.3 313.5,293.8 314.0,350.7 314.5,351.7 315.0,328.1 315.5,327.4 316.0,327.1 316.5,326.9 317.0,288.1 317.5,287.5 318.0,287.2 318.5,287.0 319.0,286.9 319.5,286.9 320.0,287.1 320.5,287.3 321.0,287.8 321.5,288.6 322.0,323.3 322.5,325.4 323.0,346.3 323.5,346.1 324.0,346.0 324.5,346.0 325.0,346.1 325.5,346.3 326.0,346.6 326.5,347.3 327.0,368.5 327.5,361.1 328.0,360.1 328.5,359.7 329.0,359.4 329.5,359.3 330.0,359.3 330.5,359.3 331.0,359.5 331.5,320.5 332.0,320.0 332.5,319.7 333.0,319.5 333.5,319.4 334.0,319.4 334.5,319.6 335.0,319.8 335.5,320.3 336.0,321.2 336.5,341.2 337.0,341.0 337.5,316.3 338.0,315.6 338.5,315.3 339.0,315.1 339.5,315.0 340.0,315.0 340.5,315.1 341.0,315.3 341.5,315.7 342.0,316.5 342.5,322.0 343.0,323.4 343.5,351.9 344.0,351.6 344.5,351.5 345.0,349.6 345.5,343.6 346.0,342.7 346.5,342.2 347.0,342.0 347.5,341.8 348.0,341.8 348.5,341.9 349.0,342.1 349.5,342.4 350.0,343.0 350.5,361.7 351.0,362.4 351.5,377.6 352.0,378.2 352.5,383.5 353.0,383.5 353.5,383.7 354.0,383.9 354.5,384.3 355.0,385.0 355.5,388.1 356.0,388.0 356.5,388.0 357.0,388.1 357.5,388.3 358.0,388.7 358.5,389.4 359.0,444.5 359.5,435.6 360.0,433.8 360.5,433.1 361.0,432.8 361.5,432.6 362.0,426.2 362.5,425.2 363.0,424.8 363.5,424.5 364.0,392.2 364.5,391.7 365.0,391.4 365.5,391.2 366.0,391.1 366.5,391.2 367.0,391.3 367.5,391.4 368.0,391.2 368.5,391.1 369.0,391.1 369.5,391.2 370.0,391.4 370.5,391.8 371.0,392.5 371.5,402.8 372.0,346.4 372.5,345.7 373.0,345.3 373.5,345.1 374.0,345.0 374.5,345.0 375.0,338.0 375.5,337.4 376.0,337.1 376.5,336.9 377.0,336.8 377.5,336.9 378.0,337.0 378.5,337.2 379.0,337.7 379.5,324.8 380.0,324.0 380.5,323.6 381.0,323.4 381.5,323.3 382.0,323.3 382.5,323.4 383.0,323.6 383.5,324.0 384.0,324.6 384.5,341.3 385.0,340.9 385.5,333.5 386.0,300.7 386.5,299.8 387.0,299.4 387.5,299.1 388.0,299.0 388.5,299.0 389.0,299.1 389.5,299.3 390.0,299.6 390.5,300.2 391.0,360.0 391.5,360.4 392.0,361.2 392.5,364.8 393.0,365.3 393.5,409.3 394.0,370.9 394.5,370.0 395.0,369.6 395.5,369.3 396.0,369.2 396.5,369.1 397.0,369.2 397.5,369.4 398.0,369.7 398.5,369.2 399.0,369.0 399.5,350.6 400.0,347.9 400.5,347.1 401.0,346.6 401.5,346.4 402.0,346.3 402.5,346.3 403.0,342.7 403.5,315.3 404.0,273.0 404.5,272.2 405.0,271.8 405.5,271.5 406.0,271.4 406.5,271.4 407.0,271.5 407.5,271.6 408.0,272.0 408.5,272.6 409.0,313.9 409.5,314.1 410.0,314.4 410.5,314.9 411.0,319.8 411.5,319.8 412.0,320.0 412.5,320.4 413.0,321.0 413.5,355.0 414.0,354.7 414.5,354.5 415.0,354.5 415.5,322.9 416.0,322.2 416.5,321.8 417.0,321.6 417.5,241.6 418.0,240.8 418.5,240.4 419.0,240.2 419.5,240.0 420.0,240.0 420.5,240.1 421.0,240.3 421.5,240.6 422.0,241.2 422.5,296.5 423.0,299.9 423.5,299.6 424.0,299.5 424.5,299.4 425.0,299.5 425.5,299.6 426.0,299.9 426.5,300.4 427.0,301.7 427.5,343.6 428.0,343.4 428.5,342.9 429.0,342.5 429.5,342.3 430.0,342.2 430.5,342.2 431.0,342.3 431.5,320.8 432.0,320.2 432.5,319.8 433.0,319.6 433.5,319.5 434.0,319.5 434.5,319.7 435.0,319.9 435.5,320.3 436.0,321.1 436.5,333.7 437.0,355.3 437.5,368.1 438.0,368.3 438.5,368.7 439.0,333.2 439.5,318.8 440.0,318.3 440.5,316.4 441.0,315.2 441.5,314.8 442.0,314.5 442.5,314.3 443.0,277.2 443.5,276.7 444.0,276.4 444.5,276.2 445.0,276.2 445.5,276.2 446.0,276.3 446.5,276.6 447.0,277.1 447.5,278.1 448.0,308.5 448.5,308.2 449.0,308.1 449.5,270.1 450.0,269.4 450.5,269.0 451.0,268.7 451.5,268.6 452.0,268.6 452.5,268.7 453.0,268.9 453.5,269.2 454.0,269.9 454.5,302.5 455.0,301.4 455.5,288.5 456.0,287.9 456.5,287.6 457.0,287.4 457.5,287.3 458.0,276.0 458.5,275.2 459.0,274.8 459.5,274.5 460.0,274.4 460.5,274.4 461.0,274.5 461.5,274.7 462.0,275.0 462.5,275.6 463.0,278.3 463.5,227.5 464.0,226.4 464.5,226.0 465.0,225.7 465.5,225.5 466.0,225.5 466.5,225.6 467.0,225.7 467.5,226.0 468.0,226.6 468.5,244.5 469.0,261.3 469.5,261.7 470.0,262.3 470.5,289.1 471.0,328.5 471.5,328.3 472.0,328.2 472.5,328.3 473.0,328.4 473.5,328.7 474.0,329.2 474.5,330.0 475.0,329.8 475.5,329.7 476.0,329.7 476.5,329.8 477.0,330.0 477.5,330.4 478.0,331.1 478.5,335.3 479.0,335.5 479.5,318.3 480.0,317.6 480.5,317.3 481.0,317.1 481.5,276.4 482.0,275.8 482.5,275.5 483.0,275.3 483.5,275.2 484.0,275.3 484.5,275.4 485.0,275.6 485.5,276.1 486.0,277.0 486.5,286.5 487.0,281.7 487.5,280.6 488.0,279.7 488.5,267.5 489.0,266.9 489.5,266.5 490.0,266.3 490.5,266.2 491.0,266.2 491.5,266.4 492.0,266.6 492.5,267.0 493.0,267.8 493.5,269.7 494.0,270.1 494.5,270.7 495.0,296.2 495.5,308.7 496.0,309.1 496.5,309.8 497.0,310.9 497.5,296.5 498.0,295.9 498.5,294.2 499.0,293.1 499.5,292.6 500.0,292.3 500.5,292.2 501.0,292.1 501.5,292.2 502.0,292.4 502.5,292.7 503.0,293.2 503.5,309.3 504.0,309.1 504.5,309.1 505.0,309.1 505.5,309.3 506.0,309.6 506.5,310.1 507.0,339.7 507.5,339.5 508.0,327.6 508.5,326.6 509.0,326.1 509.5,325.9 510.0,308.1 510.5,263.3 511.0,262.8 511.5,246.8 512.0,246.2 512.5,245.9 513.0,245.7 513.5,245.6 514.0,245.6 514.5,245.8 515.0,246.0 515.5,246.4 516.0,247.2 516.5,264.1 517.0,267.4 517.5,267.5 518.0,267.7 518.5,268.0 519.0,268.6 519.5,272.7 520.0,314.2 520.5,317.9 521.0,317.4 521.5,317.1 522.0,316.9 522.5,316.9 523.0,317.0 523.5,317.1 524.0,317.4 524.5,317.9 525.0,320.4 525.5,320.0 526.0,319.8 526.5,319.6 527.0,319.6 527.5,319.7 528.0,319.9 528.5,320.3 529.0,320.9 529.5,355.7 530.0,355.4 530.5,355.3 531.0,355.3 531.5,355.4 532.0,355.6 532.5,355.9 533.0,356.5 533.5,397.1 534.0,403.7 534.5,403.8 535.0,404.1 535.5,404.5 536.0,381.9 536.5,381.2 537.0,380.9 537.5,380.7 538.0,364.7 538.5,364.1 539.0,363.7 539.5,363.5 540.0,363.4 540.5,363.5 541.0,363.6 541.5,363.8 542.0,364.2 542.5,365.1 543.0,370.1 543.5,370.3 544.0,370.5 544.5,371.0 545.0,372.0 545.5,382.6 546.0,382.8 546.5,383.0 547.0,383.4 547.5,384.3 548.0,399.2 548.5,399.0 549.0,398.9 549.5,398.9 550.0,399.0 550.5,384.0 551.0,383.5 551.5,383.2 552.0,383.1 552.5,383.0 553.0,383.1 553.5,383.2 554.0,383.5 554.5,356.5 555.0,355.8 555.5,355.4 556.0,355.2 556.5,355.1 557.0,355.2 557.5,355.3 558.0,355.5 558.5,355.9 559.0,356.7 559.5,392.2 560.0,392.4 560.5,330.4 561.0,329.6 561.5,329.2 562.0,329.0 562.5,328.8 563.0,328.8 563.5,328.9 564.0,329.1 564.5,319.4 565.0,318.6 565.5,318.2 566.0,317.9 566.5,317.8 567.0,317.8 567.5,317.9 568.0,318.1 568.5,318.4 569.0,319.1 569.5,327.5 570.0,327.8 570.5,328.4 571.0,336.3 571.5,336.3 572.0,288.9 572.5,288.3 573.0,287.9 573.5,287.7 574.0,287.6 574.5,287.6 575.0,287.7 575.5,287.9 576.0,288.3 576.5,289.1 577.0,393.9 577.5,394.7 578.0,448.6 578.5,389.9 579.0,389.2 579.5,361.6 580.0,360.6 580.5,314.8 581.0,314.1 581.5,313.8 582.0,313.5 582.5,313.5 583.0,313.5 583.5,313.6 584.0,313.8 584.5,314.2 585.0,314.9 585.5,374.4 586.0,357.2 586.5,356.6 587.0,356.2 587.5,338.1 588.0,337.4 588.5,328.5 589.0,314.5 589.5,313.8 590.0,313.5 590.5,313.2 591.0,313.1 591.5,313.1 592.0,292.7 592.5,291.9 593.0,291.5 593.5,291.3 594.0,234.6 594.5,233.7 595.0,233.3 595.5,233.0 596.0,232.9 596.5,232.8 597.0,232.9 597.5,233.1 598.0,233.4 598.5,234.0 599.0,346.3 599.5,346.8 600.0,348.2 600.5,348.4 601.0,348.2 601.5,348.0 602.0,347.9 602.5,348.0 603.0,315.5 603.5,314.8 604.0,314.4 604.5,314.2 605.0,314.1 605.5,314.1 606.0,314.3 606.5,296.0 607.0,295.3 607.5,295.0 608.0,294.8 608.5,294.6 609.0,294.6 609.5,286.1 610.0,285.5 610.5,285.1 611.0,285.0 611.5,284.9 612.0,284.9 612.5,285.0 613.0,285.3 613.5,285.7 614.0,286.6 614.5,295.5 615.0,294.8 615.5,294.4 616.0,294.2 616.5,294.1 617.0,294.1 617.5,294.2 618.0,294.4 618.5,294.8 619.0,295.4 619.5,305.4 620.0,304.8 620.5,283.2 621.0,282.7 621.5,282.4 622.0,282.2 622.5,282.1 623.0,282.2 623.5,282.3 624.0,282.6 624.5,283.1 625.0,284.1 625.5,354.6 626.0,327.3 626.5,300.9 627.0,300.4 627.5,300.1 628.0,299.9 628.5,299.9 629.0,299.9 629.5,300.1 630.0,300.4 630.5,288.4 631.0,287.9 631.5,287.6 632.0,287.4 632.5,287.3 633.0,287.4 633.5,287.5 634.0,287.8 634.5,288.3 635.0,289.6 635.5,354.0 636.0,339.2 636.5,338.4 637.0,338.0 637.5,337.8 638.0,337.7 638.5,337.7 639.0,337.8 639.5,338.0 640.0,338.3 640.5,339.0 641.0,350.0 641.5,350.1 642.0,350.4 642.5,350.9 643.0,351.9 643.5,361.6 644.0,341.8 644.5,341.2 645.0,340.8 645.5,293.7 646.0,292.7 646.5,292.3 647.0,292.0 647.5,291.8 648.0,291.8 648.5,291.9 649.0,292.0 649.5,292.4 650.0,292.9 650.5,296.0 651.0,306.7 651.5,306.3 652.0,306.1 652.5,305.9 653.0,305.9 653.5,306.0 654.0,306.3 654.5,306.6 655.0,307.3 655.5,344.4 656.0,345.0 656.5,352.8 657.0,353.0 657.5,353.5 658.0,354.3 658.5,381.2 659.0,368.5 659.5,367.5 660.0,367.0 660.5,352.9 661.0,320.1 661.5,319.3 662.0,318.8 662.5,318.6 663.0,300.6 663.5,299.8 664.0,299.4 664.5,299.2 665.0,299.1 665.5,298.1 666.0,297.4 666.5,297.1 667.0,296.7 667.5,296.1 668.0,295.8 668.5,295.6 669.0,260.6 669.5,259.9 670.0,259.5 670.5,259.3 671.0,259.2 671.5,259.2 672.0,259.3 672.5,259.5 673.0,259.9 673.5,260.7 674.0,261.4 674.5,261.8 675.0,262.6 675.5,330.6 676.0,312.5 676.5,308.7 677.0,268.9 677.5,268.0 678.0,267.5 678.5,267.2 679.0,267.1 679.5,267.1 680.0,267.1 680.5,267.3 681.0,267.6 681.5,268.2 682.0,278.6 682.5,275.0 683.0,265.3 683.5,264.7 684.0,264.3 684.5,264.1 685.0,264.0 685.5,252.5 686.0,252.0 686.5,251.6 687.0,251.5 687.5,251.4 688.0,251.4 688.5,251.5 689.0,251.8 689.5,252.2 690.0,253.1 690.5,262.9 691.0,262.8 691.5,262.9 692.0,263.0 692.5,263.3 693.0,263.8 693.5,287.4 694.0,286.6 694.5,286.2 695.0,286.0 695.5,285.9 696.0,285.9 696.5,286.0 697.0,286.2 697.5,286.5 698.0,287.2 698.5,292.0 699.0,292.0 699.5,292.0 700.0,292.2 700.5,292.5 701.0,293.0 701.5,294.2 702.0,336.7 702.5,336.7 703.0,336.9 703.5,304.4 704.0,303.8 704.5,303.5 705.0,303.3 705.5,303.2 706.0,303.2 706.5,303.4 707.0,303.6 707.5,304.1 708.0,305.0 708.5,297.4 709.0,296.7 709.5,296.3 710.0,296.1 710.5,296.0 711.0,296.0 711.5,296.1 712.0,296.4 712.5,296.7 713.0,297.4 713.5,307.3 714.0,307.8 714.5,309.0 715.0,324.9 715.5,342.2 716.0,310.2 716.5,309.1 717.0,308.7 717.5,308.4 718.0,308.2 718.5,308.2 719.0,308.3 719.5,308.4 720.0,308.7 720.5,309.3 721.0,329.9 721.5,330.1 722.0,330.4 722.5,331.0 723.0,333.6 723.5,332.7 724.0,332.3 724.5,332.1 725.0,331.9 725.5,331.9 726.0,332.0 726.5,332.2 727.0,332.5 727.5,333.1 728.0,355.4 728.5,355.7 729.0,356.4 729.5,334.8 730.0,333.8 730.5,333.3 731.0,333.0 731.5,332.9 732.0,332.8 732.5,332.9 733.0,333.1 733.5,333.4 734.0,333.9 734.5,345.7 735.0,273.7 735.5,272.8 736.0,272.3 736.5,272.0 737.0,271.9 737.5,271.9 738.0,271.9 738.5,272.1 739.0,272.4 739.5,273.0 740.0,281.9 740.5,297.0 741.0,296.3 741.5,290.8 742.0,290.3 742.5,290.0 743.0,289.8 743.5,289.8 744.0,289.8 744.5,290.0 745.0,290.3 745.5,290.7 746.0,272.1 746.5,270.9 747.0,270.4 747.5,270.1 748.0,269.9 748.5,269.9 749.0,269.9 749.5,270.1 750.0,270.4 750.5,270.9 751.0,307.7 751.5,314.0 752.0,314.1 752.5,314.3 753.0,314.7 753.5,315.4 754.0,337.2 754.5,338.4 755.0,348.3 755.5,327.5 756.0,327.0 756.5,326.6 757.0,326.4 757.5,326.3 758.0,326.4 758.5,326.5 759.0,326.7 759.5,327.2 760.0,328.0 760.5,310.9 761.0,310.2 761.5,309.8 762.0,309.5 762.5,309.4 763.0,309.4 763.5,309.5 764.0,309.7 764.5,310.1 765.0,310.8 765.5,311.6 766.0,311.4 766.5,311.4 767.0,311.5 767.5,311.7 768.0,312.1 768.5,312.7 769.0,326.1 769.5,296.0 770.0,294.9 770.5,294.5 771.0,294.2 771.5,294.1 772.0,294.0 772.5,294.1 773.0,287.8 773.5,286.6 774.0,283.2 774.5,282.6 775.0,282.3 775.5,282.1 776.0,282.0 776.5,282.1 777.0,282.2 777.5,282.4 778.0,282.9 778.5,283.8 779.0,314.1 779.5,314.1 780.0,314.2 780.5,314.4 781.0,314.8 781.5,297.2 782.0,296.6 782.5,296.2 783.0,296.0 783.5,296.0 784.0,296.0 784.5,296.1 785.0,296.3 785.5,296.8 786.0,291.4 786.5,290.2 787.0,289.7 787.5,289.4 788.0,289.2 788.5,289.2 789.0,289.2 789.5,289.4 790.0,289.7 790.5,290.2 791.0,295.7 791.5,295.8 792.0,296.1 792.5,296.4 793.0,297.2 793.5,346.1 794.0,346.0 794.5,346.1 795.0,346.4 795.5,346.7 796.0,347.4 796.5,361.9 797.0,361.4 797.5,361.2 798.0,361.0 798.5,361.0 799.0,361.0 799.5,348.4 800.0,347.8 800.5,285.4 801.0,284.6 801.5,267.7 802.0,267.1 802.5,266.8 803.0,266.6 803.5,266.6 804.0,266.6 804.5,266.7 805.0,267.0 805.5,267.5 806.0,268.4 806.5,297.6 807.0,297.2 807.5,297.0 808.0,296.9 808.5,296.9 809.0,297.0 809.5,297.2 810.0,297.6 810.5,298.3 811.0,314.2 811.5,314.3 812.0,314.4 812.5,314.7 813.0,315.3 813.5,332.0 814.0,337.1 814.5,337.2 815.0,337.5 815.5,338.0 816.0,339.1 816.5,366.6 817.0,366.6 817.5,366.7 818.0,366.9 818.5,367.3 819.0,362.3 819.5,361.6 820.0,361.2 820.5,361.0 821.0,355.8 821.5,355.0 822.0,354.6 822.5,354.3 823.0,354.2 823.5,354.2 824.0,354.3 824.5,354.5 825.0,354.8 825.5,355.4 826.0,327.2 826.5,326.4 827.0,326.0 827.5,325.8 828.0,325.7 828.5,318.8 829.0,311.6 829.5,297.1 830.0,296.3 830.5,295.9 831.0,295.6 831.5,295.5 832.0,281.4 832.5,280.4 833.0,280.0 833.5,279.7 834.0,279.5 834.5,279.5 835.0,279.6 835.5,279.8 836.0,280.1 836.5,280.6 837.0,309.9 837.5,310.0 838.0,296.2 838.5,295.5 839.0,295.2 839.5,295.0 840.0,287.2 840.5,286.5 841.0,286.1 841.5,285.9 842.0,285.8 842.5,285.8 843.0,285.8 843.5,286.1 844.0,286.4 844.5,287.1 845.0,302.2 845.5,302.8 846.0,309.8 846.5,310.5 847.0,324.9 847.5,325.3 848.0,326.1 848.5,335.9 849.0,345.5 849.5,345.7 850.0,346.0 850.5,346.6 851.0,345.6 851.5,344.7 852.0,344.3 852.5,344.0 853.0,343.9 853.5,343.9 854.0,344.0 854.5,344.1 855.0,343.8 855.5,343.6 856.0,343.5 856.5,343.5 857.0,343.6 857.5,343.8 858.0,322.7 858.5,322.0 859.0,321.6 859.5,321.4 860.0,321.3 860.5,321.3 861.0,321.4 861.5,321.6 862.0,321.9 862.5,322.6 863.0,288.6 863.5,287.9 864.0,287.6 864.5,287.3 865.0,287.2 865.5,287.2 866.0,287.3 866.5,287.5 867.0,287.9 867.5,288.6 868.0,328.1 868.5,328.3 869.0,328.6 869.5,329.2 870.0,332.4 870.5,323.6 871.0,323.0 871.5,322.7 872.0,322.5 872.5,322.4 873.0,322.4 873.5,322.5 874.0,322.8 874.5,323.2 875.0,324.0 875.5,346.9 876.0,347.1 876.5,347.5 877.0,348.2 877.5,347.7 878.0,347.4 878.5,347.2 879.0,347.1 879.5,347.1 880.0,347.3 880.5,347.6 881.0,348.0 881.5,348.2 882.0,348.3 882.5,348.0 883.0,347.6 883.5,327.2 884.0,326.4 884.5,326.0 885.0,325.7 885.5,325.6 886.0,325.6 886.5,325.7 887.0,325.9 887.5,326.2 888.0,326.8 888.5,330.5 889.0,333.4 889.5,333.6 890.0,334.0 890.5,334.7 891.0,378.1 891.5,374.0 892.0,373.1 892.5,372.7 893.0,372.5 893.5,372.3 894.0,372.3 894.5,371.9 895.0,303.6 895.5,302.9 896.0,302.5 896.5,302.3 897.0,302.2 897.5,302.2 898.0,302.3 898.5,302.6 899.0,303.0 899.5,303.7 900.0,324.3 900.5,324.5 901.0,324.8 901.5,325.3 902.0,339.0 902.5,390.4 903.0,390.3 903.5,390.3 904.0,383.7 904.5,382.8 905.0,372.2 905.5,371.4 906.0,371.0 906.5,370.7 907.0,322.0 907.5,321.0 908.0,320.6 908.5,320.3 909.0,320.1 909.5,320.1 910.0,320.2 910.5,320.3 911.0,320.7 911.5,321.2 912.0,336.8 912.5,337.0 913.0,337.3 913.5,337.9 914.0,358.5 914.5,358.5 915.0,358.5 915.5,358.7 916.0,359.0 916.5,313.8 917.0,313.1 917.5,312.7 918.0,312.5 918.5,312.4 919.0,312.4 919.5,312.5 920.0,312.7 920.5,313.1 921.0,313.8 921.5,343.3 922.0,343.9 922.5,362.7 923.0,350.9 923.5,350.3 924.0,349.9 924.5,349.7 925.0,349.7 925.5,349.3 926.0,339.5 926.5,338.8 927.0,338.5 927.5,338.3 928.0,338.2 928.5,336.7 929.0,336.0 929.5,335.6 930.0,335.3 930.5,335.2 931.0,335.2 931.5,335.3 932.0,335.5 932.5,335.9 933.0,285.1 933.5,284.3 934.0,283.9 934.5,283.7 935.0,283.6 935.5,283.6 936.0,283.7 936.5,283.9 937.0,284.2 937.5,284.9 938.0,325.7 938.5,326.6 939.0,345.8 939.5,346.1 940.0,346.7 940.5,351.1 941.0,367.5 941.5,367.6 942.0,367.9 942.5,368.2 943.0,368.9 943.5,378.5 944.0,378.5 944.5,378.6 945.0,378.8 945.5,379.2 946.0,379.8 946.5,403.9 947.0,380.4 947.5,379.7 948.0,379.3 948.5,379.0 949.0,378.9 949.5,376.1 950.0,369.8 950.5,304.9 951.0,303.7 951.5,303.3 952.0,303.0 952.5,302.8 953.0,302.8 953.5,302.8 954.0,303.0 954.5,303.3 955.0,303.8 955.5,332.1 956.0,331.9 956.5,331.8 957.0,324.6 957.5,292.2 958.0,291.5 958.5,291.1 959.0,290.9 959.5,290.8 960.0,290.8 960.5,290.9 961.0,291.2 961.5,291.6 962.0,292.3 962.5,293.9 963.0,293.7 963.5,293.6 964.0,293.7 964.5,293.8 965.0,294.1 965.5,294.5 966.0,295.6 966.5,353.1 967.0,295.3 967.5,294.4 968.0,294.0 968.5,293.8 969.0,293.7 969.5,293.6 970.0,293.7 970.5,293.9 971.0,294.3 971.5,294.9 972.0,342.6 972.5,342.5 973.0,342.6 973.5,342.8 974.0,343.1 974.5,343.7 975.0,351.1 975.5,350.9 976.0,350.8 976.5,350.9 977.0,351.0 977.5,351.3 978.0,351.7 978.5,352.6 979.0,361.0 979.5,361.0 980.0,361.1 980.5,361.4 981.0,361.8 981.5,362.6 982.0,392.9 982.5,315.4 983.0,314.8 983.5,314.5 984.0,314.3 984.5,314.3 985.0,314.3 985.5,314.4 986.0,314.7 986.5,315.1 987.0,316.0 987.5,330.4 988.0,330.3 988.5,330.3 989.0,328.4 989.5,327.7 990.0,327.4 990.5,327.2 991.0,327.1 991.5,327.1 992.0,327.2 992.5,327.4 993.0,327.8 993.5,328.6 994.0,349.2 994.5,349.2 995.0,349.3 995.5,349.5 996.0,349.8 996.5,350.3 997.0,369.3 997.5,369.7 998.0,366.7 998.5,366.1 999.0,365.7 999.5,295.7 1000.0,295.1 1000.5,294.8 1001.0,294.6 1001.5,294.5 1002.0,294.6 1002.5,294.7 1003.0,294.9 1003.5,295.4 1004.0,296.2 1004.5,375.7 1005.0,376.7 1005.5,395.0 1006.0,394.1 1006.5,387.7 1007.0,386.8 1007.5,355.1 1008.0,343.9 1008.5,343.3 1009.0,343.0 1009.5,342.8 1010.0,342.7 1010.5,342.7 1011.0,342.9 1011.5,263.8 1012.0,263.0 1012.5,262.6 1013.0,262.3 1013.5,262.2 1014.0,262.2 1014.5,262.2 1015.0,262.4 1015.5,262.8 1016.0,263.4 1016.5,321.7 1017.0,322.6 1017.5,336.9 1018.0,337.8 1018.5,343.1 1019.0,343.0 1019.5,342.9 1020.0,343.0 1020.5,343.2 1021.0,343.5 1021.5,344.0 1022.0,384.2 1022.5,384.7 1023.0,385.6 1023.5,389.6 1024.0,387.4 1024.5,364.2 1025.0,363.4 1025.5,363.0 1026.0,362.7 1026.5,362.6 1027.0,287.9 1027.5,287.2 1028.0,286.8 1028.5,286.6 1029.0,286.5 1029.5,286.5 1030.0,286.6 1030.5,286.8 1031.0,287.2 1031.5,287.9 1032.0,367.5 1032.5,382.6 1033.0,351.4 1033.5,350.6 1034.0,350.2 1034.5,349.9 1035.0,349.8 1035.5,349.8 1036.0,349.8 1036.5,350.0 1037.0,350.4 1037.5,351.0 1038.0,381.9 1038.5,382.7 1039.0,414.8 1039.5,331.7 1040.0,330.6 1040.5,330.2 1041.0,329.9 1041.5,329.7 1042.0,329.7 1042.5,329.8 1043.0,329.9 1043.5,330.2 1044.0,330.8 1044.5,348.8 1045.0,329.9 1045.5,329.2 1046.0,328.9 1046.5,328.6 1047.0,328.5 1047.5,328.5 1048.0,328.6 1048.5,328.9 1049.0,329.2 1049.5,329.9 1050.0,330.4 1050.5,330.3 1051.0,330.3 1051.5,330.4 1052.0,330.6 1052.5,331.0 1053.0,331.7 1053.5,358.0 1054.0,357.9 1054.5,358.0 1055.0,358.1 1055.5,358.4 1056.0,358.9 1056.5,368.0 1057.0,368.2 1057.5,368.5 1058.0,369.1 1058.5,387.2 1059.0,395.4 1059.5,396.0 1060.0,398.4 1060.5,398.1 1061.0,397.9 1061.5,397.9 1062.0,397.9 1062.5,358.6 1063.0,357.6 1063.5,357.2 1064.0,356.9 1064.5,356.8 1065.0,356.7 1065.5,356.8 1066.0,357.0 1066.5,357.3 1067.0,357.9 1067.5,335.2 1068.0,334.2 1068.5,333.8 1069.0,333.5 1069.5,333.4 1070.0,333.4 1070.5,333.4 1071.0,333.6 1071.5,334.0 1072.0,334.5 1072.5,341.7 1073.0,341.4 1073.5,341.2 1074.0,341.1 1074.5,341.1 1075.0,341.3 1075.5,341.6 1076.0,342.0 1076.5,343.0 1077.0,348.3 1077.5,348.2 1078.0,348.3 1078.5,348.5 1079.0,348.8 1079.5,349.3 1080.0,368.2 1080.5,368.1 1081.0,368.0 1081.5,368.1 1082.0,368.3 1082.5,368.7 1083.0,331.7 1083.5,330.5 1084.0,330.0 1084.5,329.7 1085.0,329.6 1085.5,308.2 1086.0,307.5 1086.5,307.2 1087.0,307.0 1087.5,306.9 1088.0,306.9 1088.5,307.0 1089.0,307.2 1089.5,307.6 1090.0,308.3 1090.5,313.3 1091.0,313.4 1091.5,313.5 1092.0,313.8 1092.5,314.4 1093.0,322.7 1093.5,324.7 1094.0,325.1 1094.5,325.6 1095.0,333.3 1095.5,333.3 1096.0,333.3 1096.5,333.4 1097.0,333.7 1097.5,334.1 1098.0,335.1 1098.5,362.4 1099.0,362.9 1099.5,403.0 1100.0,403.6 1100.5,423.9 1101.0,424.2 1101.5,424.7 1102.0,411.5 1102.5,410.7 1103.0,410.4 1103.5,410.1 1104.0,410.0 1104.5,410.0 1105.0,410.1 1105.5,410.3 1106.0,410.7 1106.5,411.4 1107.0,411.9 1107.5,412.0 1108.0,412.2 1108.5,404.7 1109.0,403.9 1109.5,328.0 1110.0,326.7 1110.5,326.2 1111.0,326.0 1111.5,325.8 1112.0,325.8 1112.5,325.8 1113.0,326.0 1113.5,326.3 1114.0,321.7 1114.5,320.9 1115.0,320.5 1115.5,320.2 1116.0,316.0 1116.5,315.1 1117.0,314.7 1117.5,314.4 1118.0,299.7 1118.5,299.1 1119.0,298.7 1119.5,298.5 1120.0,298.4 1120.5,298.5 1121.0,298.6 1121.5,298.8 1122.0,299.2 1122.5,300.0 1123.0,353.6 1123.5,366.0 1124.0,366.4 1124.5,367.1 1125.0,380.8 1125.5,361.0 1126.0,360.5 1126.5,360.2 1127.0,360.0 1127.5,359.9 1128.0,360.0 1128.5,359.4 1129.0,358.7 1129.5,358.3 1130.0,358.1 1130.5,358.0 1131.0,347.3 1131.5,346.7 1132.0,297.5 1132.5,296.7 1133.0,296.3 1133.5,296.1 1134.0,295.9 1134.5,295.9 1135.0,296.0 1135.5,296.2 1136.0,296.6 1136.5,297.2 1137.0,316.0 1137.5,315.9 1138.0,316.0 1138.5,316.1 1139.0,316.4 1139.5,316.9 1140.0,318.1 1140.5,326.4 1141.0,326.4 1141.5,326.5 1142.0,326.8 1142.5,327.3 1143.0,328.2 1143.5,350.1 1144.0,349.8 1144.5,339.1 1145.0,338.6 1145.5,338.3 1146.0,338.2 1146.5,338.1 1147.0,338.2 1147.5,338.3 1148.0,338.6 1148.5,339.1 1149.0,340.3 1149.5,340.8 1150.0,340.9 1150.5,341.2 1151.0,341.6 1151.5,342.6 1152.0,350.4 1152.5,350.2 1153.0,350.0 1153.5,350.0 1154.0,350.1 1154.5,350.2 1155.0,350.6 1155.5,351.1 1156.0,366.5 1156.5,366.0 1157.0,365.6 1157.5,365.5 1158.0,365.4 1158.5,365.4 1159.0,365.6 1159.5,365.8 1160.0,366.3 1160.5,367.3 1161.0,381.0 1161.5,381.1 1162.0,381.3 1162.5,361.6 1163.0,361.0 1163.5,356.6 1164.0,356.0 1164.5,355.7 1165.0,355.5 1165.5,355.4 1166.0,350.2 1166.5,349.3 1167.0,333.3 1167.5,332.8 1168.0,332.5 1168.5,332.4 1169.0,332.3 1169.5,332.4 1170.0,332.5 1170.5,332.8 1171.0,333.3 1171.5,334.7 1172.0,356.6 1172.5,365.0 1173.0,365.5 1173.5,384.1 1174.0,383.6 1174.5,383.3 1175.0,383.1 1175.5,383.0 1176.0,383.1 1176.5,383.2 1177.0,383.5 1177.5,383.9 1178.0,384.9 1178.5,410.2 1179.0,410.3 1179.5,403.3 1180.0,402.4 1180.5,361.8 1181.0,361.1 1181.5,360.7 1182.0,360.4 1182.5,344.5 1183.0,319.9 1183.5,319.3 1184.0,319.0 1184.5,315.1 1185.0,305.1 1185.5,304.5 1186.0,304.1 1186.5,303.9 1187.0,303.8 1187.5,303.9 1188.0,304.0 1188.5,304.2 1189.0,304.6 1189.5,305.5 1190.0,309.0 1190.5,308.4 1191.0,308.1 1191.5,307.9 1192.0,307.8 1192.5,299.8 1193.0,299.2 1193.5,298.8 1194.0,298.6 1194.5,298.5 1195.0,298.5 1195.5,298.6 1196.0,298.8 1196.5,299.2 1197.0,300.0 1197.5,302.4 1198.0,302.6 1198.5,302.7 1199.0,282.0 1199.5,244.1 1200.0,243.3 1200.5,242.9 1201.0,242.7 1201.5,242.6 1202.0,242.6 1202.5,242.7 1203.0,242.9 1203.5,243.3 1204.0,244.0 1204.5,287.8 1205.0,315.6 1205.5,315.7 1206.0,316.0 1206.5,316.4 1207.0,317.2 1207.5,331.6 1208.0,331.6 1208.5,331.8 1209.0,332.0 1209.5,332.4 1210.0,333.1 1210.5,358.2 1211.0,339.2 1211.5,338.4 1212.0,338.0 1212.5,337.8 1213.0,337.6 1213.5,286.4 1214.0,285.4 1214.5,285.0 1215.0,284.7 1215.5,284.6 1216.0,284.6 1216.5,284.6 1217.0,284.8 1217.5,285.1 1218.0,285.7 1218.5,294.1 1219.0,293.6 1219.5,293.3 1220.0,293.1 1220.5,293.0 1221.0,291.1 1221.5,290.0 1222.0,289.5 1222.5,289.2 1223.0,289.1 1223.5,289.1 1224.0,289.1 1224.5,289.3 1225.0,289.6 1225.5,290.1 1226.0,303.0 1226.5,303.3 1227.0,303.8 1227.5,304.8 1228.0,280.4 1228.5,279.9 1229.0,279.6 1229.5,279.4 1230.0,279.4 1230.5,279.4 1231.0,279.5 1231.5,279.8 1232.0,280.3 1232.5,279.4 1233.0,278.8 1233.5,278.4 1234.0,278.2 1234.5,278.1 1235.0,278.1 1235.5,278.2 1236.0,278.5 1236.5,278.9 1237.0,279.6 1237.5,348.7 1238.0,348.2 1238.5,348.0 1239.0,347.9 1239.5,347.9 1240.0,313.8 1240.5,312.8 1241.0,312.4 1241.5,312.1 1242.0,312.0 1242.5,311.9 1243.0,312.0 1243.5,312.2 1244.0,312.5 1244.5,313.0 1245.0,329.0 1245.5,315.0 1246.0,314.1 1246.5,313.7 1247.0,313.4 1247.5,313.3 1248.0,313.3 1248.5,313.4 1249.0,313.6 1249.5,313.9 1250.0,314.5 1250.5,324.6 1251.0,383.8 1251.5,367.9 1252.0,367.3 1252.5,362.3 1253.0,348.4 1253.5,347.7 1254.0,347.3 1254.5,347.1 1255.0,347.0 1255.5,347.0 1256.0,347.1 1256.5,347.3 1257.0,347.6 1257.5,348.3 1258.0,367.9 1258.5,367.2 1259.0,356.1 1259.5,355.5 1260.0,355.1 1260.5,354.9 1261.0,354.8 1261.5,354.8 1262.0,355.0 1262.5,355.2 1263.0,348.1 1263.5,347.2 1264.0,346.8 1264.5,312.6 1265.0,312.1 1265.5,311.8 1266.0,311.6 1266.5,311.6 1267.0,311.6 1267.5,263.9 1268.0,263.3 1268.5,263.0 1269.0,262.9 1269.5,262.8 1270.0,262.8 1270.5,263.0 1271.0,263.3 1271.5,263.7 1272.0,264.8 1272.5,287.1 1273.0,287.0 1273.5,286.8 1274.0,286.7 1274.5,286.8 1275.0,286.9 1275.5,287.2 1276.0,287.7 1276.5,288.7 1277.0,335.8 1277.5,335.5 1278.0,335.4 1278.5,335.4 1279.0,335.4 1279.5,335.6 1280.0,335.9 1280.5,336.5 1281.0,380.7 1281.5,377.1 1282.0,376.6 1282.5,376.3 1283.0,376.2 1283.5,370.1 1284.0,369.4 1284.5,369.0 1285.0,368.8 1285.5,368.7 1286.0,368.7 1286.5,368.8 1287.0,369.0 1287.5,369.3 1288.0,370.0 1288.5,404.4 1289.0,404.0 1289.5,403.8 1290.0,403.8 1290.5,403.8 1291.0,403.9 1291.5,404.0 1292.0,403.4 1292.5,389.6 1293.0,358.3 1293.5,357.7 1294.0,357.4 1294.5,357.2 1295.0,357.1 1295.5,357.2 1296.0,357.3 1296.5,357.6 1297.0,358.0 1297.5,359.0 1298.0,381.7 1298.5,381.7 1299.0,381.8 1299.5,382.0 1300.0,382.3 1300.5,383.0 1301.0,388.2 1301.5,397.0 1302.0,397.1 1302.5,371.1 1303.0,370.4 1303.5,370.0 1304.0,367.2 1304.5,366.6 1305.0,366.2 1305.5,366.0 1306.0,365.9 1306.5,365.9 1307.0,366.1 1307.5,366.3 1308.0,366.7 1308.5,367.5 1309.0,405.1 1309.5,375.5 1310.0,374.4 1310.5,373.9 1311.0,373.6 1311.5,366.9 1312.0,366.0 1312.5,365.6 1313.0,365.3 1313.5,365.2 1314.0,365.2 1314.5,365.3 1315.0,365.4 1315.5,365.8 1316.0,366.3 1316.5,402.7 1317.0,402.6 1317.5,402.6 1318.0,402.7 1318.5,402.9 1319.0,403.3 1319.5,404.0 1320.0,417.0 1320.5,417.0 1321.0,417.0 1321.5,417.1 1322.0,417.4 1322.5,417.8 1323.0,418.6 1323.5,499.6 1324.0,505.9 1324.5,505.3 1325.0,505.0 1325.5,504.8 1326.0,504.7 1326.5,504.8 1327.0,504.9 1327.5,497.4 1328.0,496.8 1328.5,396.6 1329.0,395.9 1329.5,395.6 1330.0,395.3 1330.5,395.2 1331.0,395.2 1331.5,395.3 1332.0,395.5 1332.5,395.9 1333.0,396.6 1333.5,423.1 1334.0,423.1 1334.5,423.1 1335.0,423.3 1335.5,405.4 1336.0,404.1 1336.5,403.7 1337.0,403.4 1337.5,403.2 1338.0,403.2 1338.5,403.2 1339.0,403.4 1339.5,403.7 1340.0,404.2 1340.5,417.0 1341.0,417.1 1341.5,417.2 1342.0,417.4 1342.5,417.8 1343.0,402.0 1343.5,401.4 1344.0,401.1 1344.5,401.0 1345.0,400.9 1345.5,400.9 1346.0,401.1 1346.5,401.4 1347.0,401.8 1347.5,402.9 1348.0,419.0 1348.5,443.3 1349.0,443.4 1349.5,443.6 1350.0,443.0 1350.5,442.7 1351.0,442.5 1351.5,442.4 1352.0,442.4 1352.5,437.4 1353.0,436.6 1353.5,436.2 1354.0,435.9 1354.5,435.8 1355.0,408.1 1355.5,407.1 1356.0,406.6 1356.5,406.4 1357.0,394.5 1357.5,393.7 1358.0,385.0 1358.5,361.0 1359.0,359.9 1359.5,359.5 1360.0,359.2 1360.5,359.0 1361.0,359.0 1361.5,359.1 1362.0,359.2 1362.5,359.5 1363.0,360.1 1363.5,394.0 1364.0,393.0 1364.5,392.5 1365.0,392.2 1365.5,392.1 1366.0,392.1 1366.5,392.1 1367.0,392.3 1367.5,392.6 1368.0,393.2 1368.5,403.2 1369.0,403.0 1369.5,403.0 1370.0,403.0 1370.5,403.2 1371.0,403.5 1371.5,390.1 1372.0,389.4 1372.5,389.0 1373.0,388.8 1373.5,388.6 1374.0,388.6 1374.5,388.7 1375.0,388.9 1375.5,367.9 1376.0,367.1 1376.5,366.7 1377.0,362.9 1377.5,316.8 1378.0,316.1 1378.5,315.7 1379.0,315.5 1379.5,315.4 1380.0,315.4 1380.5,315.5 1381.0,315.8 1381.5,316.1 1382.0,316.8 1382.5,342.9 1383.0,342.5 1383.5,342.3 1384.0,342.2 1384.5,342.2 1385.0,342.3 1385.5,342.5 1386.0,308.7 1386.5,308.2 1387.0,307.9 1387.5,307.7 1388.0,307.6 1388.5,307.6 1389.0,307.8 1389.5,308.0 1390.0,308.5 1390.5,309.4 1391.0,315.1 1391.5,354.5 1392.0,375.4 1392.5,375.7 1393.0,376.1 1393.5,376.9 1394.0,433.7 1394.5,434.2 1395.0,435.1 1395.5,440.7 1396.0,440.5 1396.5,440.4 1397.0,440.5 1397.5,440.6 1398.0,440.9 1398.5,441.3 1399.0,442.2 1399.5,465.7 1400.0,465.4 1400.5,465.3 1401.0,465.2 1401.5,465.3 1402.0,465.5 1402.5,432.8 1403.0,432.2 1403.5,431.9 1404.0,431.7 1404.5,431.6 1405.0,431.6 1405.5,431.7 1406.0,410.4 1406.5,409.0 1407.0,408.5 1407.5,408.2 1408.0,408.1 1408.5,408.0 1409.0,408.1 1409.5,408.2 1410.0,408.5 1410.5,409.0 1411.0,412.6 1411.5,412.5 1412.0,412.5 1412.5,412.6 1413.0,412.8 1413.5,413.2 1414.0,414.0 1414.5,418.8 1415.0,418.8 1415.5,418.8 1416.0,418.9 1416.5,419.2 1417.0,419.7 1417.5,415.1 1418.0,405.6 1418.5,405.0 1419.0,404.7 1419.5,404.6 1420.0,404.5 1420.5,404.5 1421.0,404.7 1421.5,394.9 1422.0,366.4 1422.5,365.8 1423.0,365.5 1423.5,365.3 1424.0,365.3 1424.5,365.3 1425.0,365.5 1425.5,338.4 1426.0,337.8 1426.5,337.5 1427.0,337.3 1427.5,337.2 1428.0,337.3 1428.5,337.4 1429.0,337.7 1429.5,338.1 1430.0,339.0 1430.5,371.0 1431.0,372.0 1431.5,383.1 1432.0,383.6 1432.5,384.8 1433.0,392.5 1433.5,392.8 1434.0,393.2 1434.5,394.1 1435.0,403.2 1435.5,403.1 1436.0,403.0 1436.5,403.1 1437.0,403.3 1437.5,403.7 1438.0,404.3 1438.5,423.2 1439.0,423.2 1439.5,422.7 1440.0,374.0 1440.5,373.1 1441.0,372.6 1441.5,323.3 1442.0,322.7 1442.5,322.4 1443.0,322.2 1443.5,322.1 1444.0,322.1 1444.5,322.2 1445.0,322.4 1445.5,322.9 1446.0,323.6 1446.5,325.6 1447.0,325.4 1447.5,325.3 1448.0,325.3 1448.5,325.5 1449.0,325.7 1449.5,326.1 1450.0,326.9 1450.5,372.1 1451.0,374.4 1451.5,374.8 1452.0,375.4 1452.5,376.1 1453.0,376.4 1453.5,376.9 1454.0,378.0 1454.5,392.0 1455.0,392.5 1455.5,400.8 1456.0,400.0 1456.5,384.1 1457.0,383.5 1457.5,383.2 1458.0,383.0 1458.5,383.0 1459.0,368.8 1459.5,367.7 1460.0,342.1 1460.5,341.3 1461.0,340.9 1461.5,340.7 1462.0,333.0 1462.5,332.1 1463.0,331.6 1463.5,331.4 1464.0,331.2 1464.5,331.2 1465.0,331.3 1465.5,331.5 1466.0,331.8 1466.0,560.8 1465.5,561.0 1465.0,561.1 1464.5,561.0 1464.0,560.9 1463.5,560.7 1463.0,560.2 1462.5,559.4 1462.0,542.7 1461.5,543.4 1461.0,543.8 1460.5,544.0 1460.0,544.1 1459.5,544.1 1459.0,544.0 1458.5,559.8 1458.0,560.9 1457.5,561.4 1457.0,561.7 1456.5,561.8 1456.0,561.9 1455.5,561.8 1455.0,561.6 1454.5,561.3 1454.0,560.8 1453.5,541.8 1453.0,562.3 1452.5,563.3 1452.0,563.7 1451.5,564.0 1451.0,564.1 1450.5,564.2 1450.0,564.1 1449.5,563.9 1449.0,563.6 1448.5,563.0 1448.0,513.0 1447.5,511.4 1447.0,511.7 1446.5,544.9 1446.0,545.8 1445.5,573.7 1445.0,574.5 1444.5,574.9 1444.0,575.1 1443.5,575.3 1443.0,575.3 1442.5,575.2 1442.0,575.0 1441.5,574.6 1441.0,574.0 1440.5,572.3 1440.0,583.5 1439.5,584.0 1439.0,584.4 1438.5,584.5 1438.0,584.6 1437.5,584.6 1437.0,584.5 1436.5,584.2 1436.0,583.8 1435.5,582.9 1435.0,558.5 1434.5,558.1 1434.0,557.4 1433.5,554.0 1433.0,553.9 1432.5,553.7 1432.0,553.3 1431.5,552.7 1431.0,527.1 1430.5,527.2 1430.0,527.1 1429.5,529.2 1429.0,529.9 1428.5,538.8 1428.0,539.6 1427.5,540.0 1427.0,581.6 1426.5,582.6 1426.0,583.1 1425.5,583.4 1425.0,583.5 1424.5,583.6 1424.0,583.5 1423.5,583.3 1423.0,583.0 1422.5,582.5 1422.0,576.0 1421.5,575.9 1421.0,576.4 1420.5,577.3 1420.0,577.9 1419.5,578.6 1419.0,578.9 1418.5,582.4 1418.0,583.0 1417.5,583.4 1417.0,588.1 1416.5,588.8 1416.0,589.2 1415.5,589.4 1415.0,589.5 1414.5,589.5 1414.0,589.4 1413.5,589.2 1413.0,588.8 1412.5,588.1 1412.0,583.2 1411.5,583.5 1411.0,583.6 1410.5,583.7 1410.0,589.4 1409.5,590.1 1409.0,590.5 1408.5,590.8 1408.0,590.9 1407.5,590.9 1407.0,590.8 1406.5,590.6 1406.0,590.2 1405.5,589.6 1405.0,587.7 1404.5,587.8 1404.0,587.8 1403.5,587.7 1403.0,590.8 1402.5,592.0 1402.0,593.1 1401.5,593.6 1401.0,593.9 1400.5,594.1 1400.0,594.8 1399.5,595.5 1399.0,595.9 1398.5,596.1 1398.0,596.2 1397.5,596.2 1397.0,596.1 1396.5,596.0 1396.0,596.1 1395.5,596.0 1395.0,595.9 1394.5,595.8 1394.0,595.5 1393.5,595.1 1393.0,594.3 1392.5,558.3 1392.0,567.0 1391.5,568.1 1391.0,568.6 1390.5,568.9 1390.0,569.0 1389.5,569.1 1389.0,569.0 1388.5,568.8 1388.0,568.5 1387.5,568.0 1387.0,507.0 1386.5,507.5 1386.0,512.1 1385.5,513.0 1385.0,513.5 1384.5,513.7 1384.0,513.9 1383.5,513.9 1383.0,513.8 1382.5,513.6 1382.0,513.3 1381.5,512.8 1381.0,494.0 1380.5,475.7 1380.0,506.7 1379.5,539.3 1379.0,540.0 1378.5,572.6 1378.0,573.2 1377.5,573.5 1377.0,573.7 1376.5,573.8 1376.0,573.7 1375.5,573.6 1375.0,573.4 1374.5,572.9 1374.0,572.1 1373.5,573.5 1373.0,576.8 1372.5,577.7 1372.0,578.2 1371.5,590.3 1371.0,591.1 1370.5,591.6 1370.0,598.9 1369.5,600.0 1369.0,600.5 1368.5,600.8 1368.0,600.9 1367.5,600.9 1367.0,600.9 1366.5,600.7 1366.0,600.4 1365.5,599.9 1365.0,580.9 1364.5,580.9 1364.0,580.7 1363.5,580.4 1363.0,579.9 1362.5,578.8 1362.0,529.7 1361.5,529.5 1361.0,529.1 1360.5,557.3 1360.0,558.0 1359.5,558.4 1359.0,571.8 1358.5,572.4 1358.0,572.7 1357.5,586.3 1357.0,587.6 1356.5,588.1 1356.0,588.7 1355.5,589.3 1355.0,589.6 1354.5,589.8 1354.0,589.9 1353.5,589.8 1353.0,589.7 1352.5,589.4 1352.0,589.0 1351.5,588.1 1351.0,582.8 1350.5,582.3 1350.0,553.7 1349.5,551.1 1349.0,551.4 1348.5,582.4 1348.0,583.6 1347.5,584.1 1347.0,584.4 1346.5,584.5 1346.0,584.6 1345.5,584.5 1345.0,584.4 1344.5,584.1 1344.0,583.6 1343.5,586.6 1343.0,587.2 1342.5,587.6 1342.0,587.8 1341.5,587.8 1341.0,587.8 1340.5,587.7 1340.0,587.5 1339.5,587.3 1339.0,587.5 1338.5,587.5 1338.0,587.4 1337.5,587.2 1337.0,586.9 1336.5,586.3 1336.0,574.9 1335.5,559.3 1335.0,559.5 1334.5,616.8 1334.0,617.9 1333.5,618.4 1333.0,618.7 1332.5,618.8 1332.0,618.9 1331.5,618.8 1331.0,618.7 1330.5,618.4 1330.0,623.9 1329.5,636.3 1329.0,636.8 1328.5,637.2 1328.0,637.4 1327.5,637.4 1327.0,637.4 1326.5,637.3 1326.0,642.9 1325.5,643.7 1325.0,644.1 1324.5,644.4 1324.0,644.5 1323.5,644.5 1323.0,644.4 1322.5,644.2 1322.0,643.8 1321.5,643.2 1321.0,630.5 1320.5,629.8 1320.0,567.9 1319.5,567.6 1319.0,567.0 1318.5,561.1 1318.0,561.3 1317.5,561.5 1317.0,561.5 1316.5,561.5 1316.0,561.3 1315.5,561.1 1315.0,571.2 1314.5,571.8 1314.0,572.2 1313.5,572.4 1313.0,572.5 1312.5,572.5 1312.0,572.4 1311.5,572.2 1311.0,571.8 1310.5,571.1 1310.0,525.7 1309.5,537.4 1309.0,538.0 1308.5,538.4 1308.0,538.6 1307.5,538.7 1307.0,538.7 1306.5,552.3 1306.0,585.7 1305.5,586.6 1305.0,587.0 1304.5,587.3 1304.0,587.4 1303.5,587.5 1303.0,587.4 1302.5,587.2 1302.0,586.9 1301.5,586.3 1301.0,546.0 1300.5,522.5 1300.0,544.0 1299.5,544.9 1299.0,566.3 1298.5,567.1 1298.0,567.5 1297.5,567.7 1297.0,567.8 1296.5,567.9 1296.0,567.8 1295.5,567.6 1295.0,567.2 1294.5,566.5 1294.0,523.8 1293.5,531.8 1293.0,532.5 1292.5,532.9 1292.0,585.0 1291.5,585.8 1291.0,602.6 1290.5,603.4 1290.0,603.8 1289.5,604.0 1289.0,604.2 1288.5,604.2 1288.0,604.1 1287.5,603.9 1287.0,603.5 1286.5,602.9 1286.0,598.1 1285.5,597.6 1285.0,565.7 1284.5,565.7 1284.0,565.6 1283.5,565.4 1283.0,565.1 1282.5,564.4 1282.0,563.1 1281.5,549.1 1281.0,549.8 1280.5,550.2 1280.0,550.5 1279.5,550.6 1279.0,550.6 1278.5,550.5 1278.0,550.3 1277.5,549.9 1277.0,549.3 1276.5,527.9 1276.0,527.7 1275.5,527.2 1275.0,526.2 1274.5,500.5 1274.0,501.0 1273.5,501.3 1273.0,506.9 1272.5,507.6 1272.0,507.9 1271.5,508.1 1271.0,508.2 1270.5,508.2 1270.0,508.0 1269.5,507.8 1269.0,507.4 1268.5,506.6 1268.0,472.3 1267.5,472.7 1267.0,511.7 1266.5,527.3 1266.0,527.9 1265.5,528.2 1265.0,528.4 1264.5,528.4 1264.0,528.4 1263.5,528.3 1263.0,528.0 1262.5,527.5 1262.0,526.6 1261.5,550.5 1261.0,551.1 1260.5,551.5 1260.0,551.7 1259.5,551.8 1259.0,551.8 1258.5,551.7 1258.0,551.5 1257.5,551.1 1257.0,550.4 1256.5,509.1 1256.0,509.2 1255.5,558.8 1255.0,559.6 1254.5,560.0 1254.0,560.3 1253.5,560.4 1253.0,560.4 1252.5,560.3 1252.0,560.1 1251.5,559.8 1251.0,595.9 1250.5,596.7 1250.0,597.1 1249.5,597.4 1249.0,597.5 1248.5,597.5 1248.0,597.4 1247.5,597.2 1247.0,596.8 1246.5,596.2 1246.0,531.3 1245.5,530.9 1245.0,530.4 1244.5,517.7 1244.0,517.9 1243.5,518.0 1243.0,518.0 1242.5,517.8 1242.0,517.6 1241.5,517.1 1241.0,516.3 1240.5,484.5 1240.0,494.4 1239.5,495.4 1239.0,495.8 1238.5,496.1 1238.0,496.2 1237.5,496.3 1237.0,496.2 1236.5,496.0 1236.0,495.7 1235.5,495.1 1235.0,445.5 1234.5,445.6 1234.0,445.5 1233.5,445.4 1233.0,467.5 1232.5,468.3 1232.0,468.7 1231.5,468.9 1231.0,469.0 1230.5,469.0 1230.0,469.0 1229.5,468.8 1229.0,530.1 1228.5,530.7 1228.0,531.1 1227.5,531.3 1227.0,531.4 1226.5,531.3 1226.0,531.2 1225.5,531.0 1225.0,530.6 1224.5,529.8 1224.0,507.8 1223.5,507.1 1223.0,495.0 1222.5,495.2 1222.0,495.3 1221.5,495.3 1221.0,495.2 1220.5,494.9 1220.0,494.5 1219.5,493.7 1219.0,471.7 1218.5,471.5 1218.0,471.1 1217.5,470.4 1217.0,466.2 1216.5,466.1 1216.0,465.9 1215.5,483.8 1215.0,495.9 1214.5,496.5 1214.0,496.9 1213.5,497.2 1213.0,497.3 1212.5,497.4 1212.0,503.5 1211.5,504.1 1211.0,504.4 1210.5,507.9 1210.0,509.0 1209.5,509.5 1209.0,509.8 1208.5,510.0 1208.0,510.0 1207.5,509.9 1207.0,509.8 1206.5,509.5 1206.0,508.9 1205.5,492.9 1205.0,492.7 1204.5,492.4 1204.0,491.8 1203.5,469.7 1203.0,460.9 1202.5,448.0 1202.0,447.9 1201.5,448.9 1201.0,449.6 1200.5,450.0 1200.0,450.3 1199.5,450.4 1199.0,450.4 1198.5,450.3 1198.0,450.1 1197.5,449.7 1197.0,449.1 1196.5,475.2 1196.0,475.8 1195.5,476.1 1195.0,519.7 1194.5,531.2 1194.0,531.7 1193.5,532.0 1193.0,533.1 1192.5,533.6 1192.0,533.9 1191.5,534.0 1191.0,534.1 1190.5,534.0 1190.0,533.9 1189.5,533.6 1189.0,533.1 1188.5,523.8 1188.0,523.9 1187.5,523.8 1187.0,523.7 1186.5,523.5 1186.0,551.8 1185.5,552.4 1185.0,552.8 1184.5,553.9 1184.0,554.5 1183.5,554.8 1183.0,555.0 1182.5,585.1 1182.0,585.7 1181.5,586.0 1181.0,586.2 1180.5,586.2 1180.0,586.2 1179.5,586.1 1179.0,585.8 1178.5,585.3 1178.0,584.4 1177.5,551.2 1177.0,518.5 1176.5,545.7 1176.0,546.3 1175.5,546.7 1175.0,546.9 1174.5,547.0 1174.0,547.0 1173.5,546.8 1173.0,546.6 1172.5,546.2 1172.0,545.4 1171.5,545.4 1171.0,545.4 1170.5,545.2 1170.0,544.9 1169.5,544.3 1169.0,534.8 1168.5,535.0 1168.0,535.1 1167.5,535.0 1167.0,534.9 1166.5,534.6 1166.0,534.2 1165.5,533.3 1165.0,515.7 1164.5,570.5 1164.0,571.4 1163.5,571.9 1163.0,572.1 1162.5,572.3 1162.0,572.3 1161.5,572.2 1161.0,572.1 1160.5,571.7 1160.0,571.2 1159.5,552.5 1159.0,553.1 1158.5,553.4 1158.0,557.9 1157.5,559.2 1157.0,559.7 1156.5,560.0 1156.0,560.1 1155.5,560.2 1155.0,560.1 1154.5,560.0 1154.0,559.7 1153.5,559.2 1153.0,537.7 1152.5,537.7 1152.0,537.7 1151.5,537.5 1151.0,537.1 1150.5,536.6 1150.0,502.9 1149.5,503.0 1149.0,503.1 1148.5,503.1 1148.0,502.9 1147.5,502.7 1147.0,502.2 1146.5,528.5 1146.0,587.3 1145.5,587.9 1145.0,588.2 1144.5,588.3 1144.0,588.4 1143.5,588.4 1143.0,588.2 1142.5,587.9 1142.0,587.5 1141.5,586.4 1141.0,537.5 1140.5,537.6 1140.0,537.7 1139.5,537.7 1139.0,537.5 1138.5,537.3 1138.0,536.8 1137.5,535.8 1137.0,521.1 1136.5,521.3 1136.0,521.3 1135.5,521.3 1135.0,521.2 1134.5,520.9 1134.0,520.4 1133.5,519.5 1133.0,501.5 1132.5,502.0 1132.0,502.2 1131.5,502.4 1131.0,502.4 1130.5,502.3 1130.0,502.1 1129.5,501.8 1129.0,501.2 1128.5,519.5 1128.0,520.4 1127.5,520.8 1127.0,521.1 1126.5,521.2 1126.0,521.2 1125.5,521.8 1125.0,522.5 1124.5,522.9 1124.0,523.1 1123.5,523.2 1123.0,523.2 1122.5,523.1 1122.0,522.9 1121.5,522.6 1121.0,550.8 1120.5,551.4 1120.0,551.7 1119.5,551.9 1119.0,552.0 1118.5,551.9 1118.0,551.8 1117.5,551.5 1117.0,551.1 1116.5,550.2 1116.0,522.0 1115.5,522.4 1115.0,522.6 1114.5,522.7 1114.0,522.7 1113.5,522.6 1113.0,522.4 1112.5,522.0 1112.0,531.8 1111.5,556.9 1111.0,588.7 1110.5,589.3 1110.0,589.6 1109.5,592.1 1109.0,593.5 1108.5,594.0 1108.0,594.3 1107.5,594.5 1107.0,594.5 1106.5,594.5 1106.0,594.3 1105.5,594.0 1105.0,594.3 1104.5,594.6 1104.0,594.9 1103.5,594.9 1103.0,594.9 1102.5,594.8 1102.0,594.6 1101.5,594.2 1101.0,593.4 1100.5,574.6 1100.0,574.2 1099.5,573.4 1099.0,564.4 1098.5,538.0 1098.0,537.6 1097.5,536.6 1097.0,507.0 1096.5,506.4 1096.0,493.5 1095.5,487.5 1095.0,487.3 1094.5,487.0 1094.0,486.4 1093.5,535.6 1093.0,536.2 1092.5,536.5 1092.0,536.7 1091.5,536.7 1091.0,536.7 1090.5,536.6 1090.0,536.3 1089.5,535.8 1089.0,534.9 1088.5,488.9 1088.0,489.6 1087.5,490.0 1087.0,491.5 1086.5,492.1 1086.0,492.5 1085.5,537.4 1085.0,538.4 1084.5,538.9 1084.0,539.2 1083.5,539.3 1083.0,539.4 1082.5,561.8 1082.0,563.0 1081.5,563.5 1081.0,563.8 1080.5,582.0 1080.0,582.5 1079.5,582.9 1079.0,583.0 1078.5,583.1 1078.0,583.1 1077.5,582.9 1077.0,582.7 1076.5,582.2 1076.0,581.3 1075.5,505.0 1075.0,505.2 1074.5,510.1 1074.0,510.9 1073.5,511.3 1073.0,511.6 1072.5,511.7 1072.0,511.7 1071.5,511.6 1071.0,511.4 1070.5,514.3 1070.0,536.9 1069.5,537.6 1069.0,537.9 1068.5,538.1 1068.0,538.2 1067.5,538.2 1067.0,538.1 1066.5,537.8 1066.0,537.4 1065.5,545.0 1065.0,545.6 1064.5,546.0 1064.0,546.2 1063.5,546.2 1063.0,546.2 1062.5,546.1 1062.0,545.9 1061.5,545.5 1061.0,552.6 1060.5,592.6 1060.0,593.1 1059.5,593.4 1059.0,593.6 1058.5,593.6 1058.0,593.6 1057.5,593.4 1057.0,593.1 1056.5,592.7 1056.0,591.3 1055.5,491.5 1055.0,491.2 1054.5,495.3 1054.0,496.1 1053.5,496.5 1053.0,496.7 1052.5,496.8 1052.0,541.1 1051.5,541.7 1051.0,542.1 1050.5,542.3 1050.0,542.4 1049.5,542.4 1049.0,542.2 1048.5,542.0 1048.0,541.6 1047.5,540.8 1047.0,506.5 1046.5,507.2 1046.0,535.8 1045.5,536.9 1045.0,548.2 1044.5,548.9 1044.0,557.9 1043.5,558.8 1043.0,559.2 1042.5,559.5 1042.0,559.9 1041.5,560.7 1041.0,594.6 1040.5,595.1 1040.0,595.4 1039.5,595.6 1039.0,595.7 1038.5,595.7 1038.0,595.5 1037.5,595.3 1037.0,594.8 1036.5,593.9 1036.0,529.7 1035.5,533.6 1035.0,534.1 1034.5,534.4 1034.0,534.6 1033.5,534.6 1033.0,534.6 1032.5,534.5 1032.0,534.2 1031.5,533.7 1031.0,532.7 1030.5,510.8 1030.0,510.6 1029.5,510.4 1029.0,510.0 1028.5,509.1 1028.0,498.0 1027.5,498.0 1027.0,497.8 1026.5,587.6 1026.0,588.4 1025.5,588.9 1025.0,589.1 1024.5,589.3 1024.0,589.3 1023.5,589.2 1023.0,589.0 1022.5,588.7 1022.0,588.1 1021.5,503.6 1021.0,508.1 1020.5,508.8 1020.0,528.3 1019.5,528.9 1019.0,529.2 1018.5,529.4 1018.0,529.5 1017.5,529.5 1017.0,529.4 1016.5,529.1 1016.0,528.7 1015.5,527.9 1015.0,549.1 1014.5,549.6 1014.0,550.0 1013.5,550.2 1013.0,550.2 1012.5,550.2 1012.0,550.1 1011.5,549.8 1011.0,549.4 1010.5,548.5 1010.0,497.0 1009.5,497.5 1009.0,497.8 1008.5,497.9 1008.0,498.0 1007.5,512.5 1007.0,513.1 1006.5,513.4 1006.0,513.6 1005.5,513.7 1005.0,513.7 1004.5,535.4 1004.0,536.0 1003.5,536.4 1003.0,536.6 1002.5,536.7 1002.0,536.7 1001.5,536.6 1001.0,536.4 1000.5,536.0 1000.0,535.2 999.5,533.4 999.0,533.5 998.5,533.5 998.0,533.4 997.5,533.2 997.0,568.8 996.5,569.4 996.0,569.7 995.5,569.9 995.0,593.6 994.5,594.2 994.0,594.6 993.5,594.8 993.0,594.9 992.5,594.9 992.0,594.8 991.5,594.5 991.0,594.1 990.5,593.4 990.0,591.4 989.5,591.4 989.0,591.3 988.5,591.1 988.0,590.7 987.5,590.1 987.0,543.4 986.5,543.8 986.0,558.8 985.5,559.6 985.0,560.0 984.5,560.3 984.0,560.4 983.5,560.4 983.0,560.3 982.5,560.1 982.0,559.8 981.5,559.2 981.0,539.7 980.5,539.7 980.0,539.7 979.5,539.6 979.0,539.3 978.5,538.8 978.0,537.8 977.5,531.3 977.0,531.2 976.5,535.8 976.0,536.4 975.5,536.8 975.0,537.0 974.5,537.1 974.0,537.0 973.5,536.9 973.0,536.7 972.5,536.3 972.0,535.5 971.5,531.7 971.0,532.1 970.5,532.3 970.0,532.4 969.5,546.0 969.0,546.9 968.5,547.4 968.0,547.6 967.5,547.8 967.0,547.8 966.5,547.7 966.0,547.5 965.5,547.2 965.0,546.7 964.5,506.5 964.0,495.4 963.5,502.3 963.0,502.9 962.5,503.3 962.0,503.5 961.5,503.6 961.0,503.5 960.5,503.4 960.0,503.2 959.5,502.8 959.0,502.0 958.5,495.2 958.0,496.0 957.5,496.4 957.0,496.6 956.5,496.7 956.0,496.8 955.5,496.7 955.0,496.5 954.5,516.0 954.0,516.5 953.5,516.8 953.0,516.9 952.5,517.0 952.0,516.9 951.5,516.8 951.0,516.5 950.5,516.0 950.0,523.4 949.5,524.0 949.0,524.3 948.5,524.4 948.0,524.5 947.5,524.4 947.0,524.3 946.5,575.9 946.0,576.8 945.5,577.2 945.0,577.5 944.5,577.6 944.0,607.2 943.5,607.8 943.0,608.1 942.5,608.3 942.0,608.4 941.5,608.4 941.0,608.3 940.5,608.0 940.0,607.6 939.5,606.7 939.0,549.9 938.5,549.6 938.0,549.2 937.5,548.5 937.0,522.7 936.5,522.6 936.0,522.3 935.5,521.7 935.0,495.7 934.5,477.4 934.0,477.2 933.5,480.0 933.0,480.7 932.5,481.0 932.0,481.2 931.5,481.3 931.0,481.3 930.5,481.2 930.0,481.0 929.5,490.9 929.0,491.5 928.5,491.8 928.0,553.9 927.5,554.7 927.0,555.2 926.5,555.4 926.0,555.5 925.5,555.5 925.0,555.5 924.5,555.3 924.0,554.9 923.5,554.3 923.0,542.6 922.5,541.8 922.0,521.7 921.5,521.8 921.0,521.7 920.5,521.6 920.0,522.2 919.5,522.7 919.0,523.0 918.5,523.2 918.0,523.2 917.5,523.2 917.0,523.1 916.5,522.8 916.0,522.3 915.5,521.2 915.0,504.7 914.5,504.7 914.0,504.6 913.5,504.4 913.0,504.0 912.5,503.4 912.0,484.4 911.5,484.6 911.0,484.6 910.5,523.1 910.0,550.8 909.5,551.3 909.0,551.6 908.5,551.7 908.0,551.8 907.5,551.7 907.0,551.6 906.5,551.3 906.0,551.0 905.5,551.1 905.0,551.0 904.5,550.8 904.0,550.5 903.5,550.0 903.0,550.0 902.5,550.0 902.0,549.8 901.5,549.5 901.0,549.0 900.5,542.4 900.0,541.8 899.5,527.7 899.0,527.3 898.5,526.8 898.0,519.6 897.5,519.5 897.0,519.2 896.5,518.7 896.0,509.4 895.5,510.1 895.0,510.6 894.5,510.8 894.0,511.0 893.5,544.2 893.0,544.8 892.5,545.2 892.0,545.4 891.5,545.5 891.0,545.5 890.5,545.4 890.0,545.2 889.5,544.8 889.0,544.0 888.5,519.5 888.0,531.4 887.5,532.8 887.0,533.3 886.5,533.6 886.0,533.7 885.5,533.8 885.0,533.7 884.5,533.6 884.0,533.3 883.5,532.8 883.0,508.3 882.5,476.0 882.0,514.4 881.5,515.0 881.0,515.4 880.5,516.7 880.0,517.4 879.5,517.8 879.0,518.0 878.5,518.1 878.0,518.1 877.5,540.6 877.0,541.2 876.5,541.5 876.0,541.7 875.5,541.8 875.0,541.7 874.5,541.6 874.0,541.4 873.5,540.9 873.0,540.0 872.5,516.5 872.0,516.2 871.5,515.7 871.0,515.1 870.5,482.6 870.0,482.3 869.5,481.8 869.0,490.6 868.5,491.3 868.0,491.7 867.5,491.9 867.0,492.1 866.5,492.1 866.0,492.0 865.5,491.8 865.0,491.4 864.5,490.9 864.0,530.1 863.5,531.1 863.0,531.6 862.5,531.8 862.0,559.3 861.5,560.2 861.0,560.6 860.5,560.9 860.0,561.0 859.5,561.0 859.0,560.9 858.5,560.7 858.0,560.4 857.5,559.8 857.0,516.7 856.5,515.9 856.0,507.3 855.5,507.5 855.0,507.5 854.5,513.0 854.0,514.0 853.5,514.4 853.0,514.7 852.5,514.8 852.0,517.0 851.5,517.8 851.0,518.2 850.5,518.4 850.0,518.5 849.5,518.5 849.0,518.5 848.5,518.3 848.0,517.9 847.5,517.3 847.0,487.0 846.5,486.8 846.0,486.5 845.5,485.9 845.0,475.3 844.5,475.2 844.0,474.9 843.5,474.5 843.0,473.7 842.5,459.6 842.0,460.1 841.5,460.3 841.0,460.5 840.5,460.5 840.0,460.5 839.5,460.3 839.0,460.0 838.5,459.5 838.0,453.3 837.5,453.0 837.0,452.4 836.5,447.6 836.0,448.0 835.5,448.3 835.0,448.4 834.5,510.3 834.0,510.8 833.5,511.0 833.0,511.2 832.5,511.3 832.0,511.2 831.5,511.1 831.0,510.8 830.5,510.3 830.0,509.5 829.5,540.5 829.0,541.1 828.5,541.4 828.0,541.6 827.5,541.7 827.0,541.7 826.5,541.6 826.0,541.3 825.5,540.9 825.0,540.1 824.5,525.6 824.0,525.2 823.5,524.2 823.0,495.6 822.5,491.8 822.0,513.1 821.5,513.7 821.0,522.1 820.5,538.4 820.0,539.1 819.5,539.5 819.0,539.7 818.5,539.9 818.0,539.9 817.5,539.8 817.0,539.6 816.5,539.2 816.0,538.6 815.5,515.3 815.0,514.9 814.5,534.7 814.0,535.2 813.5,535.5 813.0,535.7 812.5,535.8 812.0,535.7 811.5,535.6 811.0,535.3 810.5,534.9 810.0,533.9 809.5,497.5 809.0,498.2 808.5,498.5 808.0,498.7 807.5,498.8 807.0,502.7 806.5,503.5 806.0,503.9 805.5,504.1 805.0,504.2 804.5,504.2 804.0,504.1 803.5,518.1 803.0,519.4 802.5,519.9 802.0,520.2 801.5,520.3 801.0,520.4 800.5,520.3 800.0,543.7 799.5,544.3 799.0,544.7 798.5,544.9 798.0,545.0 797.5,545.0 797.0,544.9 796.5,544.6 796.0,544.2 795.5,543.5 795.0,503.5 794.5,503.5 794.0,503.5 793.5,503.4 793.0,503.1 792.5,502.6 792.0,501.6 791.5,479.3 791.0,479.7 790.5,479.9 790.0,480.0 789.5,480.0 789.0,479.9 788.5,479.6 788.0,505.0 787.5,505.9 787.0,506.4 786.5,506.6 786.0,506.8 785.5,506.8 785.0,506.7 784.5,506.6 784.0,506.2 783.5,505.7 783.0,490.3 782.5,473.0 782.0,472.9 781.5,472.7 781.0,504.9 780.5,506.1 780.0,506.5 779.5,506.8 779.0,507.0 778.5,507.0 778.0,507.0 777.5,506.8 777.0,506.5 776.5,506.0 776.0,491.1 775.5,480.4 775.0,480.0 774.5,479.3 774.0,447.8 773.5,460.5 773.0,468.7 772.5,469.2 772.0,469.5 771.5,469.6 771.0,469.7 770.5,469.6 770.0,469.5 769.5,469.2 769.0,468.7 768.5,467.5 768.0,456.3 767.5,461.6 767.0,462.8 766.5,463.3 766.0,463.5 765.5,463.7 765.0,463.7 764.5,463.7 764.0,467.3 763.5,467.8 763.0,468.1 762.5,476.9 762.0,477.5 761.5,537.4 761.0,538.3 760.5,538.8 760.0,539.1 759.5,539.2 759.0,551.7 758.5,552.9 758.0,553.4 757.5,553.7 757.0,553.9 756.5,553.9 756.0,553.8 755.5,553.7 755.0,553.4 754.5,552.9 754.0,534.9 753.5,504.8 753.0,504.6 752.5,504.2 752.0,503.5 751.5,497.9 751.0,498.2 750.5,498.3 750.0,501.1 749.5,502.3 749.0,502.8 748.5,503.1 748.0,503.3 747.5,503.3 747.0,503.3 746.5,503.2 746.0,502.9 745.5,502.5 745.0,501.7 744.5,481.6 744.0,481.2 743.5,480.2 743.0,453.3 742.5,459.0 742.0,478.7 741.5,518.3 741.0,519.6 740.5,520.1 740.0,520.4 739.5,520.6 739.0,520.6 738.5,520.6 738.0,535.8 737.5,552.8 737.0,553.3 736.5,553.6 736.0,553.8 735.5,553.8 735.0,553.8 734.5,553.6 734.0,553.4 733.5,552.9 733.0,551.7 732.5,522.1 732.0,522.3 731.5,522.4 731.0,555.0 730.5,555.8 730.0,556.2 729.5,556.4 729.0,556.5 728.5,556.5 728.0,556.4 727.5,556.2 727.0,555.8 726.5,555.1 726.0,537.9 725.5,538.2 725.0,538.3 724.5,538.3 724.0,538.3 723.5,538.1 723.0,537.8 722.5,537.3 722.0,492.8 721.5,480.9 721.0,469.9 720.5,516.6 720.0,517.3 719.5,517.7 719.0,517.9 718.5,518.0 718.0,517.9 717.5,517.8 717.0,517.6 716.5,517.2 716.0,516.5 715.5,500.4 715.0,500.3 714.5,500.0 714.0,499.4 713.5,473.4 713.0,473.8 712.5,474.1 712.0,495.8 711.5,496.4 711.0,496.8 710.5,529.9 710.0,530.4 709.5,530.7 709.0,530.9 708.5,530.9 708.0,530.9 707.5,530.7 707.0,530.4 706.5,529.9 706.0,528.6 705.5,504.3 705.0,504.8 704.5,505.1 704.0,505.3 703.5,505.3 703.0,505.3 702.5,505.1 702.0,504.8 701.5,504.3 701.0,486.4 700.5,486.5 700.0,492.0 699.5,492.6 699.0,510.8 698.5,511.5 698.0,511.8 697.5,512.1 697.0,512.2 696.5,512.2 696.0,512.0 695.5,511.8 695.0,511.4 694.5,510.7 694.0,478.0 693.5,468.7 693.0,469.0 692.5,469.1 692.0,469.2 691.5,469.2 691.0,469.0 690.5,468.7 690.0,468.3 689.5,467.2 689.0,453.0 688.5,452.9 688.0,452.8 687.5,452.5 687.0,452.1 686.5,460.9 686.0,461.9 685.5,462.4 685.0,462.6 684.5,481.1 684.0,481.9 683.5,482.3 683.0,482.6 682.5,482.7 682.0,482.7 681.5,503.9 681.0,504.8 680.5,505.2 680.0,505.5 679.5,505.6 679.0,505.7 678.5,505.6 678.0,505.4 677.5,505.1 677.0,504.5 676.5,483.6 676.0,483.8 675.5,483.8 675.0,483.7 674.5,483.6 674.0,483.3 673.5,482.7 673.0,457.4 672.5,468.3 672.0,468.9 671.5,469.2 671.0,481.1 670.5,481.9 670.0,482.3 669.5,482.5 669.0,482.7 668.5,482.7 668.0,482.6 667.5,482.4 667.0,482.1 666.5,481.5 666.0,446.8 665.5,447.7 665.0,448.8 664.5,502.8 664.0,503.6 663.5,504.0 663.0,504.2 662.5,504.3 662.0,504.3 661.5,504.2 661.0,504.1 660.5,504.5 660.0,515.3 659.5,516.0 659.0,516.4 658.5,516.6 658.0,516.8 657.5,516.8 657.0,516.7 656.5,516.4 656.0,516.1 655.5,515.4 655.0,491.3 654.5,491.3 654.0,491.2 653.5,491.1 653.0,490.8 652.5,503.1 652.0,503.9 651.5,504.3 651.0,504.5 650.5,504.6 650.0,504.6 649.5,504.5 649.0,504.3 648.5,504.0 648.0,503.4 647.5,491.5 647.0,491.7 646.5,491.7 646.0,524.4 645.5,525.3 645.0,525.8 644.5,526.0 644.0,526.2 643.5,531.5 643.0,532.6 642.5,533.1 642.0,533.9 641.5,534.4 641.0,534.7 640.5,534.9 640.0,535.0 639.5,535.0 639.0,534.8 638.5,534.6 638.0,534.1 637.5,533.2 637.0,506.3 636.5,540.5 636.0,541.0 635.5,541.3 635.0,541.5 634.5,541.6 634.0,541.5 633.5,541.4 633.0,541.1 632.5,540.6 632.0,539.6 631.5,508.4 631.0,508.0 630.5,507.2 630.0,497.7 629.5,498.2 629.0,498.6 628.5,498.8 628.0,498.9 627.5,498.8 627.0,498.7 626.5,498.5 626.0,498.0 625.5,497.2 625.0,490.2 624.5,490.2 624.0,490.0 623.5,489.6 623.0,489.1 622.5,488.3 622.0,487.9 621.5,487.1 621.0,461.7 620.5,461.3 620.0,479.5 619.5,480.2 619.0,480.6 618.5,480.8 618.0,480.9 617.5,480.9 617.0,524.7 616.5,525.5 616.0,525.9 615.5,526.1 615.0,526.2 614.5,526.2 614.0,526.1 613.5,525.9 613.0,525.6 612.5,524.9 612.0,510.3 611.5,511.4 611.0,511.8 610.5,512.1 610.0,512.3 609.5,512.3 609.0,512.2 608.5,512.1 608.0,511.8 607.5,511.2 607.0,501.1 606.5,502.1 606.0,502.6 605.5,502.9 605.0,503.0 604.5,503.1 604.0,503.0 603.5,502.8 603.0,502.5 602.5,502.0 602.0,494.4 601.5,494.7 601.0,494.8 600.5,494.9 600.0,494.8 599.5,494.6 599.0,494.3 598.5,493.8 598.0,482.9 597.5,482.8 597.0,482.7 596.5,482.4 596.0,481.9 595.5,480.7 595.0,451.0 594.5,451.4 594.0,451.6 593.5,451.8 593.0,451.8 592.5,508.6 592.0,509.5 591.5,509.9 591.0,510.2 590.5,510.3 590.0,510.3 589.5,510.2 589.0,510.1 588.5,509.7 588.0,552.6 587.5,553.5 587.0,554.0 586.5,554.2 586.0,554.4 585.5,554.4 585.0,554.3 584.5,554.1 584.0,553.8 583.5,553.2 583.0,516.4 582.5,493.3 582.0,494.0 581.5,516.9 581.0,549.0 580.5,592.6 580.0,593.6 579.5,594.0 579.0,594.3 578.5,594.5 578.0,594.5 577.5,594.4 577.0,594.3 576.5,593.9 576.0,593.4 575.5,577.5 575.0,529.4 574.5,523.6 574.0,541.6 573.5,542.4 573.0,542.9 572.5,543.1 572.0,543.2 571.5,543.3 571.0,543.2 570.5,543.0 570.0,542.7 569.5,542.1 569.0,519.7 568.5,519.1 568.0,504.4 567.5,504.4 567.0,504.4 566.5,504.2 566.0,511.0 565.5,511.9 565.0,512.3 564.5,512.6 564.0,512.7 563.5,512.8 563.0,513.3 562.5,514.3 562.0,514.8 561.5,515.1 561.0,515.2 560.5,564.6 560.0,565.4 559.5,565.9 559.0,566.1 558.5,566.2 558.0,566.3 557.5,566.2 557.0,566.0 556.5,565.6 556.0,565.0 555.5,563.6 555.0,563.8 554.5,563.9 554.0,563.8 553.5,563.7 553.0,563.4 552.5,562.9 552.0,562.4 551.5,562.2 551.0,561.9 550.5,561.2 550.0,547.6 549.5,547.6 549.0,547.4 548.5,547.1 548.0,547.4 547.5,547.6 547.0,547.7 546.5,547.7 546.0,547.5 545.5,547.3 545.0,546.8 544.5,545.9 544.0,515.0 543.5,514.8 543.0,514.4 542.5,513.6 542.0,510.9 541.5,510.5 541.0,509.9 540.5,507.3 540.0,507.2 539.5,519.0 539.0,519.7 538.5,520.1 538.0,520.3 537.5,520.4 537.0,520.4 536.5,543.9 536.0,544.9 535.5,545.4 535.0,545.7 534.5,545.8 534.0,545.9 533.5,545.8 533.0,545.6 532.5,545.3 532.0,544.8 531.5,542.0 531.0,521.2 530.5,521.4 530.0,521.4 529.5,521.4 529.0,521.3 528.5,521.0 528.0,520.6 527.5,519.7 527.0,486.6 526.5,485.4 526.0,485.0 525.5,484.4 525.0,480.1 524.5,480.4 524.0,480.7 523.5,510.0 523.0,545.7 522.5,582.6 522.0,583.6 521.5,584.1 521.0,584.3 520.5,584.5 520.0,584.5 519.5,584.4 519.0,584.3 518.5,583.9 518.0,583.4 517.5,546.4 517.0,516.3 516.5,483.2 516.0,462.6 515.5,450.9 515.0,450.7 514.5,450.4 514.0,449.9 513.5,450.3 513.0,450.9 512.5,451.2 512.0,451.4 511.5,451.4 511.0,451.4 510.5,457.1 510.0,521.8 509.5,522.9 509.0,523.3 508.5,523.6 508.0,523.8 507.5,523.8 507.0,523.7 506.5,523.6 506.0,523.3 505.5,522.7 505.0,517.5 504.5,488.2 504.0,488.1 503.5,487.9 503.0,487.6 502.5,487.2 502.0,487.3 501.5,487.3 501.0,487.3 500.5,487.1 500.0,486.7 499.5,486.2 499.0,473.6 498.5,473.2 498.0,471.9 497.5,457.3 497.0,456.5 496.5,443.2 496.0,443.2 495.5,443.2 495.0,443.0 494.5,442.7 494.0,442.2 493.5,447.3 493.0,448.1 492.5,448.6 492.0,448.8 491.5,448.9 491.0,448.9 490.5,448.8 490.0,448.7 489.5,448.3 489.0,447.7 488.5,432.0 488.0,431.9 487.5,448.6 487.0,449.2 486.5,449.5 486.0,449.7 485.5,449.8 485.0,449.8 484.5,451.9 484.0,452.7 483.5,453.1 483.0,453.4 482.5,453.5 482.0,453.5 481.5,503.5 481.0,504.2 480.5,504.6 480.0,504.8 479.5,504.9 479.0,504.9 478.5,504.7 478.0,504.5 477.5,504.1 477.0,503.4 476.5,502.2 476.0,502.1 475.5,502.0 475.0,501.8 474.5,502.5 474.0,517.6 473.5,518.3 473.0,518.7 472.5,518.9 472.0,519.0 471.5,519.0 471.0,518.9 470.5,518.7 470.0,518.3 469.5,517.7 469.0,468.6 468.5,467.9 468.0,460.9 467.5,460.3 467.0,456.0 466.5,455.1 466.0,415.7 465.5,416.8 465.0,442.1 464.5,475.8 464.0,476.8 463.5,477.2 463.0,477.5 462.5,477.6 462.0,487.2 461.5,487.8 461.0,488.1 460.5,488.3 460.0,488.4 459.5,488.4 459.0,488.3 458.5,488.0 458.0,488.0 457.5,488.8 457.0,489.2 456.5,489.5 456.0,489.6 455.5,489.6 455.0,489.5 454.5,489.3 454.0,489.0 453.5,488.3 453.0,475.6 452.5,475.5 452.0,475.4 451.5,475.2 451.0,474.8 450.5,474.1 450.0,451.7 449.5,476.8 449.0,477.4 448.5,477.7 448.0,477.9 447.5,478.0 447.0,478.0 446.5,477.9 446.0,477.7 445.5,477.3 445.0,476.8 444.5,476.9 444.0,476.9 443.5,476.8 443.0,476.6 442.5,476.2 442.0,475.5 441.5,471.0 441.0,502.2 440.5,502.8 440.0,503.2 439.5,503.4 439.0,503.5 438.5,503.5 438.0,503.3 437.5,503.1 437.0,504.2 436.5,504.7 436.0,506.5 435.5,507.9 435.0,516.6 434.5,517.2 434.0,517.6 433.5,517.8 433.0,517.8 432.5,517.8 432.0,517.7 431.5,517.4 431.0,517.0 430.5,516.2 430.0,493.3 429.5,493.8 429.0,494.1 428.5,494.2 428.0,494.3 427.5,494.2 427.0,494.1 426.5,493.8 426.0,493.2 425.5,474.8 425.0,505.2 424.5,506.1 424.0,506.6 423.5,506.9 423.0,507.0 422.5,507.0 422.0,507.0 421.5,506.8 421.0,506.5 420.5,505.9 420.0,495.9 419.5,481.2 419.0,474.7 418.5,499.9 418.0,500.6 417.5,500.9 417.0,501.1 416.5,501.2 416.0,555.1 415.5,555.8 415.0,556.2 414.5,556.4 414.0,556.5 413.5,556.5 413.0,556.4 412.5,556.2 412.0,555.8 411.5,555.1 411.0,531.0 410.5,530.9 410.0,530.7 409.5,530.4 409.0,529.8 408.5,506.2 408.0,510.4 407.5,511.0 407.0,511.3 406.5,511.5 406.0,511.6 405.5,511.6 405.0,511.4 404.5,511.2 404.0,510.8 403.5,539.5 403.0,540.1 402.5,540.4 402.0,540.6 401.5,547.1 401.0,548.0 400.5,548.4 400.0,548.7 399.5,552.7 399.0,553.3 398.5,553.7 398.0,553.9 397.5,553.9 397.0,553.9 396.5,553.8 396.0,553.5 395.5,553.1 395.0,552.3 394.5,525.0 394.0,524.9 393.5,524.7 393.0,524.4 392.5,523.8 392.0,510.9 391.5,510.7 391.0,510.5 390.5,510.0 390.0,509.1 389.5,489.8 389.0,489.6 388.5,489.3 388.0,507.2 387.5,508.1 387.0,508.5 386.5,536.0 386.0,536.6 385.5,545.9 385.0,546.4 384.5,546.8 384.0,546.9 383.5,547.0 383.0,547.0 382.5,546.9 382.0,546.6 381.5,546.2 381.0,545.3 380.5,534.2 380.0,539.1 379.5,539.7 379.0,540.0 378.5,540.2 378.0,540.2 377.5,540.2 377.0,571.3 376.5,571.9 376.0,572.2 375.5,572.4 375.0,572.5 374.5,572.5 374.0,582.2 373.5,583.0 373.0,583.4 372.5,583.7 372.0,583.8 371.5,590.8 371.0,591.3 370.5,591.7 370.0,591.8 369.5,591.9 369.0,591.9 368.5,591.7 368.0,591.5 367.5,591.0 367.0,590.1 366.5,560.4 366.0,560.6 365.5,560.6 365.0,587.9 364.5,588.7 364.0,589.2 363.5,589.4 363.0,589.5 362.5,589.9 362.0,590.1 361.5,590.3 361.0,590.3 360.5,590.2 360.0,590.1 359.5,589.8 359.0,589.2 358.5,585.6 358.0,585.3 357.5,584.8 357.0,583.7 356.5,565.1 356.0,546.7 355.5,545.9 355.0,534.0 354.5,539.6 354.0,540.6 353.5,561.3 353.0,562.3 352.5,562.7 352.0,563.0 351.5,563.1 351.0,563.1 350.5,563.1 350.0,562.9 349.5,562.6 349.0,562.0 348.5,522.2 348.0,521.4 347.5,509.6 347.0,470.8 346.5,471.2 346.0,477.0 345.5,477.5 345.0,477.9 344.5,478.1 344.0,478.1 343.5,478.1 343.0,478.0 342.5,477.7 342.0,481.0 341.5,482.1 341.0,524.7 340.5,531.8 340.0,532.7 339.5,533.2 339.0,533.4 338.5,533.6 338.0,533.6 337.5,533.5 337.0,533.4 336.5,533.0 336.0,532.5 335.5,519.3 335.0,519.0 334.5,529.4 334.0,530.2 333.5,530.6 333.0,530.9 332.5,531.0 332.0,531.0 331.5,530.9 331.0,530.7 330.5,530.4 330.0,529.8 329.5,588.4 329.0,589.0 328.5,589.4 328.0,589.6 327.5,589.7 327.0,589.6 326.5,589.5 326.0,589.3 325.5,588.9 325.0,588.1 324.5,534.0 324.0,534.1 323.5,534.1 323.0,533.9 322.5,533.6 322.0,533.2 321.5,532.1 321.0,530.9 320.5,530.5 320.0,529.6 319.5,487.0 319.0,486.9 318.5,486.7 318.0,486.4 317.5,541.8 317.0,542.4 316.5,542.8 316.0,543.0 315.5,543.1 315.0,556.3 314.5,556.9 314.0,557.2 313.5,557.4 313.0,557.5 312.5,557.5 312.0,557.3 311.5,557.1 311.0,556.6 310.5,555.8 310.0,509.4 309.5,528.7 309.0,529.7 308.5,530.1 308.0,530.4 307.5,530.5 307.0,530.6 306.5,530.5 306.0,530.3 305.5,530.0 305.0,529.5 304.5,579.4 304.0,580.3 303.5,580.7 303.0,581.0 302.5,581.1 302.0,581.2 301.5,581.1 301.0,580.9 300.5,580.6 300.0,580.0 299.5,537.6 299.0,537.9 298.5,538.0 298.0,538.1 297.5,538.0 297.0,537.8 296.5,537.5 296.0,536.9 295.5,520.2 295.0,495.7 294.5,495.5 294.0,495.1 293.5,494.2 293.0,481.5 292.5,481.4 292.0,481.4 291.5,481.3 291.0,483.9 290.5,484.5 290.0,484.8 289.5,484.9 289.0,485.0 288.5,485.0 288.0,484.8 287.5,484.5 287.0,484.1 286.5,483.0 286.0,487.5 285.5,488.4 285.0,488.8 284.5,489.0 284.0,489.2 283.5,489.2 283.0,489.1 282.5,488.9 282.0,488.6 281.5,488.0 281.0,446.9 280.5,455.4 280.0,530.4 279.5,531.0 279.0,531.3 278.5,531.5 278.0,531.6 277.5,531.6 277.0,531.4 276.5,531.2 276.0,530.8 275.5,529.9 275.0,495.4 274.5,495.0 274.0,494.3 273.5,436.7 273.0,436.8 272.5,436.8 272.0,436.7 271.5,436.5 271.0,436.1 270.5,435.5 270.0,429.9 269.5,429.5 269.0,428.8 268.5,427.6 268.0,427.9 267.5,428.1 267.0,428.1 266.5,428.1 266.0,427.9 265.5,427.7 265.0,427.6 264.5,446.5 264.0,470.1 263.5,470.7 263.0,471.1 262.5,471.3 262.0,471.4 261.5,471.4 261.0,471.3 260.5,471.1 260.0,513.6 259.5,514.2 259.0,514.6 258.5,514.8 258.0,514.9 257.5,514.9 257.0,514.8 256.5,514.6 256.0,514.2 255.5,513.5 255.0,510.0 254.5,491.9 254.0,491.7 253.5,491.3 253.0,490.7 252.5,480.5 252.0,480.4 251.5,480.2 251.0,479.8 250.5,479.0 250.0,476.1 249.5,462.0 249.0,461.2 248.5,461.6 248.0,461.8 247.5,461.9 247.0,461.9 246.5,461.8 246.0,461.6 245.5,461.3 245.0,460.7 244.5,456.2 244.0,456.3 243.5,456.2 243.0,456.1 242.5,455.8 242.0,455.3 241.5,454.2 241.0,444.3 240.5,392.3 240.0,436.2 239.5,441.0 239.0,442.0 238.5,442.5 238.0,442.8 237.5,470.2 237.0,483.8 236.5,484.4 236.0,489.6 235.5,490.2 235.0,490.5 234.5,490.7 234.0,490.8 233.5,518.5 233.0,519.0 232.5,519.3 232.0,519.5 231.5,551.8 231.0,552.4 230.5,552.8 230.0,553.0 229.5,553.1 229.0,553.0 228.5,552.9 228.0,552.7 227.5,552.2 227.0,551.4 226.5,515.6 226.0,515.5 225.5,515.3 225.0,515.0 224.5,514.4 224.0,459.0 223.5,458.8 223.0,458.4 222.5,457.8 222.0,443.8 221.5,443.4 221.0,442.7 220.5,418.0 220.0,418.3 219.5,418.5 219.0,418.6 218.5,418.6 218.0,419.1 217.5,419.4 217.0,455.7 216.5,456.3 216.0,456.6 215.5,456.8 215.0,456.9 214.5,456.8 214.0,456.7 213.5,456.4 213.0,456.0 212.5,455.1 212.0,438.0 211.5,488.8 211.0,492.2 210.5,492.9 210.0,493.2 209.5,493.4 209.0,493.5 208.5,493.5 208.0,493.4 207.5,493.2 207.0,492.8 206.5,492.1 206.0,489.9 205.5,494.9 205.0,495.5 204.5,495.9 204.0,501.3 203.5,502.3 203.0,502.8 202.5,503.1 202.0,503.2 201.5,506.0 201.0,506.9 200.5,507.3 200.0,514.5 199.5,515.3 199.0,515.7 198.5,515.9 198.0,516.0 197.5,522.8 197.0,523.7 196.5,524.1 196.0,524.3 195.5,524.5 195.0,524.5 194.5,524.4 194.0,524.2 193.5,523.9 193.0,523.3 192.5,494.2 192.0,493.4 191.5,550.2 191.0,550.9 190.5,551.3 190.0,551.6 189.5,551.7 189.0,551.7 188.5,551.6 188.0,551.4 187.5,551.1 187.0,550.4 186.5,546.9 186.0,547.1 185.5,547.1 185.0,547.1 184.5,566.2 184.0,572.4 183.5,572.9 183.0,573.2 182.5,573.4 182.0,573.4 181.5,573.4 181.0,573.3" fill="#EF8226"/>
<polygon points="181.0,436.5 181.5,436.3 182.0,436.2 182.5,436.2 183.0,428.0 183.5,408.8 184.0,408.2 184.5,407.8 185.0,396.2 185.5,395.5 186.0,395.1 186.5,394.9 187.0,394.8 187.5,394.8 188.0,394.9 188.5,395.1 189.0,395.4 189.5,396.1 190.0,404.9 190.5,404.2 191.0,403.8 191.5,403.6 192.0,403.5 192.5,403.5 193.0,403.6 193.5,403.8 194.0,373.6 194.5,372.6 195.0,372.2 195.5,371.9 196.0,371.8 196.5,371.7 197.0,371.8 197.5,372.0 198.0,372.3 198.5,372.9 199.0,388.4 199.5,388.2 200.0,388.1 200.5,388.2 201.0,388.3 201.5,388.5 202.0,331.2 202.5,330.7 203.0,330.3 203.5,330.1 204.0,330.1 204.5,330.1 205.0,330.2 205.5,330.5 206.0,330.9 206.5,331.8 207.0,387.8 207.5,388.2 208.0,389.2 208.5,434.0 209.0,419.8 209.5,360.0 210.0,359.5 210.5,359.2 211.0,359.0 211.5,359.0 212.0,358.7 212.5,324.3 213.0,323.8 213.5,323.5 214.0,323.3 214.5,323.2 215.0,323.3 215.5,323.4 216.0,323.7 216.5,324.1 217.0,325.1 217.5,400.2 218.0,400.4 218.5,400.6 219.0,401.0 219.5,401.9 220.0,402.5 220.5,402.7 221.0,403.0 221.5,403.6 222.0,419.8 222.5,420.3 223.0,421.5 223.5,444.2 224.0,443.0 224.5,442.5 225.0,442.2 225.5,442.1 226.0,442.0 226.5,442.1 227.0,442.2 227.5,442.5 228.0,443.0 228.5,429.6 229.0,428.8 229.5,428.4 230.0,428.2 230.5,428.1 231.0,420.1 231.5,419.2 232.0,418.8 232.5,418.6 233.0,366.6 233.5,365.5 234.0,365.0 234.5,364.8 235.0,364.6 235.5,364.6 236.0,364.6 236.5,364.8 237.0,365.1 237.5,365.6 238.0,394.9 238.5,446.9 239.0,447.1 239.5,447.5 240.0,448.1 240.5,460.9 241.0,432.9 241.5,432.3 242.0,431.9 242.5,431.7 243.0,431.6 243.5,431.7 244.0,431.8 244.5,388.5 245.0,387.9 245.5,387.5 246.0,387.3 246.5,387.2 247.0,387.2 247.5,387.3 248.0,387.6 248.5,388.0 249.0,388.7 249.5,448.1 250.0,446.3 250.5,375.5 251.0,374.9 251.5,374.6 252.0,374.4 252.5,374.3 253.0,374.3 253.5,374.4 254.0,374.7 254.5,375.1 255.0,376.0 255.5,431.9 256.0,431.4 256.5,400.0 257.0,399.3 257.5,398.9 258.0,398.7 258.5,398.6 259.0,390.2 259.5,389.5 260.0,389.1 260.5,388.8 261.0,388.7 261.5,380.7 262.0,379.6 262.5,379.1 263.0,378.8 263.5,378.6 264.0,378.5 264.5,378.6 265.0,339.4 265.5,338.8 266.0,338.5 266.5,338.3 267.0,338.2 267.5,338.2 268.0,338.4 268.5,338.6 269.0,339.1 269.5,340.0 270.0,399.2 270.5,398.8 271.0,398.6 271.5,398.5 272.0,398.5 272.5,398.6 273.0,398.8 273.5,399.2 274.0,399.9 274.5,408.5 275.0,408.9 275.5,409.6 276.0,445.3 276.5,445.4 277.0,442.4 277.5,404.4 278.0,403.8 278.5,403.5 279.0,403.3 279.5,403.2 280.0,403.2 280.5,397.5 281.0,396.1 281.5,395.6 282.0,395.3 282.5,395.2 283.0,395.1 283.5,395.2 284.0,395.3 284.5,395.6 285.0,396.1 285.5,415.1 286.0,415.0 286.5,415.0 287.0,381.7 287.5,381.1 288.0,380.8 288.5,380.6 289.0,380.5 289.5,380.6 290.0,380.7 290.5,381.0 291.0,381.4 291.5,382.3 292.0,434.0 292.5,433.0 293.0,432.6 293.5,432.3 294.0,432.2 294.5,410.8 295.0,410.1 295.5,409.7 296.0,409.4 296.5,409.3 297.0,409.3 297.5,409.4 298.0,409.6 298.5,409.9 299.0,410.6 299.5,429.5 300.0,405.0 300.5,404.3 301.0,390.3 301.5,389.6 302.0,389.2 302.5,389.0 303.0,388.9 303.5,388.9 304.0,389.0 304.5,389.2 305.0,389.6 305.5,390.3 306.0,428.7 306.5,435.7 307.0,442.8 307.5,443.3 308.0,473.9 308.5,474.0 309.0,474.3 309.5,474.8 310.0,475.8 310.5,456.1 311.0,455.5 311.5,428.5 312.0,428.0 312.5,427.7 313.0,377.9 313.5,377.2 314.0,376.8 314.5,376.6 315.0,376.5 315.5,376.5 316.0,376.6 316.5,376.8 317.0,377.1 317.5,377.8 318.0,432.3 318.5,372.5 319.0,371.5 319.5,371.1 320.0,370.8 320.5,370.7 321.0,370.7 321.5,370.7 322.0,370.9 322.5,371.2 323.0,323.1 323.5,322.2 324.0,321.7 324.5,321.5 325.0,321.3 325.5,321.3 326.0,321.4 326.5,321.5 327.0,321.9 327.5,322.4 328.0,353.2 328.5,353.5 329.0,353.9 329.5,354.7 330.0,452.3 330.5,452.5 331.0,452.8 331.5,453.4 332.0,460.3 332.5,460.2 333.0,460.2 333.5,460.3 334.0,460.6 334.5,440.7 335.0,439.6 335.5,436.4 336.0,435.7 336.5,435.3 337.0,435.1 337.5,435.0 338.0,434.9 338.5,435.0 339.0,435.3 339.5,435.6 340.0,434.6 340.5,433.9 341.0,433.5 341.5,318.5 342.0,317.6 342.5,314.2 343.0,313.7 343.5,313.4 344.0,313.3 344.5,313.2 345.0,313.3 345.5,313.4 346.0,313.7 346.5,314.2 347.0,315.4 347.5,370.1 348.0,370.7 348.5,389.4 349.0,385.6 349.5,384.9 350.0,368.1 350.5,367.6 351.0,367.3 351.5,367.1 352.0,367.0 352.5,367.1 353.0,367.2 353.5,367.5 354.0,367.9 354.5,368.9 355.0,369.1 355.5,369.1 356.0,369.1 356.5,369.3 357.0,369.6 357.5,370.2 358.0,390.7 358.5,390.9 359.0,375.0 359.5,374.1 360.0,346.2 360.5,310.6 361.0,310.1 361.5,309.8 362.0,309.7 362.5,309.6 363.0,309.7 363.5,309.8 364.0,310.1 364.5,310.6 365.0,311.9 365.5,359.7 366.0,359.8 366.5,309.8 367.0,309.2 367.5,308.9 368.0,308.7 368.5,308.6 369.0,308.7 369.5,308.8 370.0,309.1 370.5,309.5 371.0,310.4 371.5,375.0 372.0,384.1 372.5,363.2 373.0,362.3 373.5,361.9 374.0,301.9 374.5,300.7 375.0,300.2 375.5,299.9 376.0,278.0 376.5,277.3 377.0,277.0 377.5,276.7 378.0,276.6 378.5,276.6 379.0,276.7 379.5,264.3 380.0,263.6 380.5,263.2 381.0,262.9 381.5,262.8 382.0,262.8 382.5,262.9 383.0,263.1 383.5,263.5 384.0,264.2 384.5,304.3 385.0,304.3 385.5,304.3 386.0,304.5 386.5,304.8 387.0,305.3 387.5,315.0 388.0,315.0 388.5,315.0 389.0,315.1 389.5,315.4 390.0,315.9 390.5,317.0 391.0,320.0 391.5,319.8 392.0,319.8 392.5,319.9 393.0,320.1 393.5,320.4 394.0,320.9 394.5,319.3 395.0,318.7 395.5,262.3 396.0,261.7 396.5,261.3 397.0,261.1 397.5,261.0 398.0,261.1 398.5,261.2 399.0,261.4 399.5,261.8 400.0,262.6 400.5,336.1 401.0,335.6 401.5,335.3 402.0,335.2 402.5,335.1 403.0,329.0 403.5,328.5 404.0,328.1 404.5,328.0 405.0,327.9 405.5,327.9 406.0,328.1 406.5,328.3 407.0,328.8 407.5,329.8 408.0,342.1 408.5,350.1 409.0,349.9 409.5,319.9 410.0,313.3 410.5,270.8 411.0,260.1 411.5,259.6 412.0,259.3 412.5,259.1 413.0,259.0 413.5,259.0 414.0,259.2 414.5,259.4 415.0,259.9 415.5,260.8 416.0,297.4 416.5,297.4 417.0,296.1 417.5,295.4 418.0,295.1 418.5,290.5 419.0,280.2 419.5,279.6 420.0,279.3 420.5,279.1 421.0,279.0 421.5,279.1 422.0,279.2 422.5,279.4 423.0,279.9 423.5,280.7 424.0,298.8 424.5,299.3 425.0,300.2 425.5,356.8 426.0,356.9 426.5,357.2 427.0,280.4 427.5,279.1 428.0,278.6 428.5,278.3 429.0,278.2 429.5,278.1 430.0,278.2 430.5,278.4 431.0,278.7 431.5,279.2 432.0,296.8 432.5,296.9 433.0,297.1 433.5,297.4 434.0,298.0 434.5,312.8 435.0,337.0 435.5,326.6 436.0,326.1 436.5,262.7 437.0,261.9 437.5,261.5 438.0,261.3 438.5,261.2 439.0,261.2 439.5,261.3 440.0,261.5 440.5,261.8 441.0,262.5 441.5,286.2 442.0,285.9 442.5,253.2 443.0,252.2 443.5,251.8 444.0,251.5 444.5,251.4 445.0,251.3 445.5,251.4 446.0,251.6 446.5,251.7 447.0,251.2 447.5,250.8 448.0,250.7 448.5,250.6 449.0,250.6 449.5,250.8 450.0,251.0 450.5,251.5 451.0,252.4 451.5,260.7 452.0,260.7 452.5,260.7 453.0,260.8 453.5,261.1 454.0,261.5 454.5,262.4 455.0,280.1 455.5,282.7 456.0,283.1 456.5,283.8 457.0,304.5 457.5,303.6 458.0,303.2 458.5,303.0 459.0,302.8 459.5,302.8 460.0,302.9 460.5,303.1 461.0,303.4 461.5,304.0 462.0,289.1 462.5,288.5 463.0,259.0 463.5,258.2 464.0,257.8 464.5,257.6 465.0,257.5 465.5,257.5 466.0,257.6 466.5,257.8 467.0,258.1 467.5,258.8 468.0,277.0 468.5,276.9 469.0,276.9 469.5,244.8 470.0,244.1 470.5,243.8 471.0,243.6 471.5,243.5 472.0,243.5 472.5,243.6 473.0,243.8 473.5,244.2 474.0,244.9 474.5,283.5 475.0,283.8 475.5,284.2 476.0,285.0 476.5,289.5 477.0,271.6 477.5,270.8 478.0,270.4 478.5,270.2 479.0,270.0 479.5,269.9 480.0,270.0 480.5,270.1 481.0,270.3 481.5,270.8 482.0,271.7 482.5,295.6 483.0,297.0 483.5,297.2 484.0,297.5 484.5,298.0 485.0,307.6 485.5,307.4 486.0,306.7 486.5,306.3 487.0,306.0 487.5,305.9 488.0,305.9 488.5,306.0 489.0,306.2 489.5,306.6 490.0,307.2 490.5,326.5 491.0,327.2 491.5,354.1 492.0,354.4 492.5,354.8 493.0,355.5 493.5,291.2 494.0,290.4 494.5,290.0 495.0,289.8 495.5,281.4 496.0,280.9 496.5,280.6 497.0,280.4 497.5,280.3 498.0,280.4 498.5,280.5 499.0,280.8 499.5,272.5 500.0,271.8 500.5,271.4 501.0,271.2 501.5,271.1 502.0,271.1 502.5,271.2 503.0,271.4 503.5,271.8 504.0,272.4 504.5,293.4 505.0,293.0 505.5,292.7 506.0,292.6 506.5,292.5 507.0,292.6 507.5,292.8 508.0,293.1 508.5,293.6 509.0,298.4 509.5,298.8 510.0,299.5 510.5,320.4 511.0,320.3 511.5,320.2 512.0,320.2 512.5,320.4 513.0,320.6 513.5,321.1 514.0,322.1 514.5,345.3 515.0,345.3 515.5,345.4 516.0,345.7 516.5,332.6 517.0,331.8 517.5,331.4 518.0,331.2 518.5,331.1 519.0,331.1 519.5,331.2 520.0,331.4 520.5,331.7 521.0,293.7 521.5,292.6 522.0,292.1 522.5,291.9 523.0,291.7 523.5,291.7 524.0,291.7 524.5,291.9 525.0,292.2 525.5,292.7 526.0,313.3 526.5,321.2 527.0,320.2 527.5,319.8 528.0,319.5 528.5,319.4 529.0,319.3 529.5,266.7 530.0,266.0 530.5,265.6 531.0,265.3 531.5,265.2 532.0,265.2 532.5,245.5 533.0,244.7 533.5,244.3 534.0,244.0 534.5,243.9 535.0,243.9 535.5,244.0 536.0,244.2 536.5,244.5 537.0,245.1 537.5,279.4 538.0,278.8 538.5,278.5 539.0,278.3 539.5,278.2 540.0,278.2 540.5,278.3 541.0,278.6 541.5,279.0 542.0,279.8 542.5,312.6 543.0,312.5 543.5,305.5 544.0,304.4 544.5,304.0 545.0,303.7 545.5,303.5 546.0,303.5 546.5,303.6 547.0,303.7 547.5,304.0 548.0,304.6 548.5,320.2 549.0,355.1 549.5,355.3 550.0,355.8 550.5,357.0 551.0,373.2 551.5,373.4 552.0,373.7 552.5,374.2 553.0,380.7 553.5,380.8 554.0,344.2 554.5,343.3 555.0,342.8 555.5,342.6 556.0,342.4 556.5,342.4 557.0,342.5 557.5,309.4 558.0,308.7 558.5,308.3 559.0,285.6 559.5,284.9 560.0,284.6 560.5,284.3 561.0,284.3 561.5,284.3 562.0,259.4 562.5,258.4 563.0,258.0 563.5,257.7 564.0,257.6 564.5,257.5 565.0,257.6 565.5,257.8 566.0,258.1 566.5,258.7 567.0,270.8 567.5,270.8 568.0,270.9 568.5,271.1 569.0,271.5 569.5,272.1 570.0,330.7 570.5,330.9 571.0,316.0 571.5,287.4 572.0,286.5 572.5,286.1 573.0,285.8 573.5,285.7 574.0,285.7 574.5,285.7 575.0,285.9 575.5,286.3 576.0,286.8 576.5,299.4 577.0,299.5 577.5,299.8 578.0,300.3 578.5,308.3 579.0,308.4 579.5,308.6 580.0,308.9 580.5,309.5 581.0,312.9 581.5,313.2 582.0,313.9 582.5,357.0 583.0,356.9 583.5,357.0 584.0,357.1 584.5,357.4 585.0,334.1 585.5,295.9 586.0,256.1 586.5,255.6 587.0,255.3 587.5,255.1 588.0,253.6 588.5,253.0 589.0,252.7 589.5,252.5 590.0,252.4 590.5,252.4 591.0,252.6 591.5,252.8 592.0,253.3 592.5,254.2 593.0,246.0 593.5,245.4 594.0,245.1 594.5,244.9 595.0,244.8 595.5,244.9 596.0,245.0 596.5,245.3 597.0,245.7 597.5,246.7 598.0,291.9 598.5,292.2 599.0,292.7 599.5,293.9 600.0,304.3 600.5,304.3 601.0,304.4 601.5,304.6 602.0,305.0 602.5,301.7 603.0,301.1 603.5,300.8 604.0,300.6 604.5,300.6 605.0,300.6 605.5,300.7 606.0,301.0 606.5,301.5 607.0,302.5 607.5,276.7 608.0,256.2 608.5,255.3 609.0,254.9 609.5,254.7 610.0,254.5 610.5,254.5 611.0,254.6 611.5,254.8 612.0,255.1 612.5,255.7 613.0,273.9 613.5,273.1 614.0,272.7 614.5,272.5 615.0,272.3 615.5,272.3 616.0,248.3 616.5,228.7 617.0,228.1 617.5,227.8 618.0,227.7 618.5,227.6 619.0,227.7 619.5,227.8 620.0,228.1 620.5,228.6 621.0,229.7 621.5,260.8 622.0,260.9 622.5,261.2 623.0,261.5 623.5,262.2 624.0,257.5 624.5,256.8 625.0,256.4 625.5,256.2 626.0,256.1 626.5,256.1 627.0,256.2 627.5,256.4 628.0,256.8 628.5,257.5 629.0,266.9 629.5,266.9 630.0,267.0 630.5,267.2 631.0,267.5 631.5,268.2 632.0,313.4 632.5,292.8 633.0,292.1 633.5,291.7 634.0,291.5 634.5,291.4 635.0,291.4 635.5,291.5 636.0,291.7 636.5,292.1 637.0,292.7 637.5,304.2 638.0,242.9 638.5,242.2 639.0,241.8 639.5,241.6 640.0,241.5 640.5,241.5 641.0,241.6 641.5,241.8 642.0,242.2 642.5,242.9 643.0,255.8 643.5,256.9 644.0,289.8 644.5,289.9 645.0,290.1 645.5,290.5 646.0,291.2 646.5,341.3 647.0,306.6 647.5,305.7 648.0,294.2 648.5,293.4 649.0,293.0 649.5,292.7 650.0,292.6 650.5,292.6 651.0,292.7 651.5,292.9 652.0,293.2 652.5,293.8 653.0,303.7 653.5,303.7 654.0,303.4 654.5,303.2 655.0,303.1 655.5,303.1 656.0,303.2 656.5,303.5 657.0,303.9 657.5,304.7 658.0,315.2 658.5,315.3 659.0,315.4 659.5,315.7 660.0,316.1 660.5,317.2 661.0,297.0 661.5,296.3 662.0,295.9 662.5,295.7 663.0,295.7 663.5,295.7 664.0,295.8 664.5,296.0 665.0,296.4 665.5,297.2 666.0,321.8 666.5,321.5 667.0,321.3 667.5,274.2 668.0,273.6 668.5,273.3 669.0,273.1 669.5,272.3 670.0,271.9 670.5,271.6 671.0,271.5 671.5,271.4 672.0,271.5 672.5,271.7 673.0,272.0 673.5,272.6 674.0,296.2 674.5,296.0 675.0,296.0 675.5,296.1 676.0,296.2 676.5,296.5 677.0,297.1 677.5,299.6 678.0,300.0 678.5,300.7 679.0,247.3 679.5,243.2 680.0,242.7 680.5,242.4 681.0,242.2 681.5,242.2 682.0,242.2 682.5,242.4 683.0,242.7 683.5,243.2 684.0,244.5 684.5,282.4 685.0,247.4 685.5,246.3 686.0,245.8 686.5,245.5 687.0,245.4 687.5,245.4 688.0,245.4 688.5,245.6 689.0,245.9 689.5,246.4 690.0,280.0 690.5,294.2 691.0,294.3 691.5,294.5 692.0,294.8 692.5,295.5 693.0,299.8 693.5,253.0 694.0,252.4 694.5,252.1 695.0,251.9 695.5,251.8 696.0,251.8 696.5,251.9 697.0,252.2 697.5,252.6 698.0,253.5 698.5,264.3 699.0,264.1 699.5,263.9 700.0,263.9 700.5,263.9 701.0,264.1 701.5,264.4 702.0,264.9 702.5,270.4 703.0,271.0 703.5,287.3 704.0,325.3 704.5,325.3 705.0,325.4 705.5,282.4 706.0,281.5 706.5,281.1 707.0,280.9 707.5,280.7 708.0,280.7 708.5,280.8 709.0,281.0 709.5,281.3 710.0,281.9 710.5,292.0 711.0,291.9 711.5,291.9 712.0,292.1 712.5,292.3 713.0,292.7 713.5,293.4 714.0,297.7 714.5,297.2 715.0,297.0 715.5,296.9 716.0,283.8 716.5,283.2 717.0,282.9 717.5,282.7 718.0,282.6 718.5,282.7 719.0,282.8 719.5,283.0 720.0,283.5 720.5,264.8 721.0,264.2 721.5,263.9 722.0,263.7 722.5,263.6 723.0,263.7 723.5,263.8 724.0,264.1 724.5,264.5 725.0,265.4 725.5,294.6 726.0,294.6 726.5,294.7 727.0,294.9 727.5,295.2 728.0,295.8 728.5,300.2 729.0,301.5 729.5,300.3 730.0,299.9 730.5,299.6 731.0,299.4 731.5,299.4 732.0,299.4 732.5,251.3 733.0,250.5 733.5,250.1 734.0,249.9 734.5,249.8 735.0,249.7 735.5,249.8 736.0,250.0 736.5,250.4 737.0,251.0 737.5,276.9 738.0,276.5 738.5,264.9 739.0,264.2 739.5,263.8 740.0,263.6 740.5,263.5 741.0,263.5 741.5,263.6 742.0,263.8 742.5,264.2 743.0,264.8 743.5,294.9 744.0,294.7 744.5,294.7 745.0,294.8 745.5,294.9 746.0,295.2 746.5,278.6 747.0,277.4 747.5,277.0 748.0,276.7 748.5,276.5 749.0,276.5 749.5,276.5 750.0,276.7 750.5,277.0 751.0,277.5 751.5,306.1 752.0,313.6 752.5,313.6 753.0,313.7 753.5,313.9 754.0,314.2 754.5,306.1 755.0,272.9 755.5,272.4 756.0,272.1 756.5,271.9 757.0,271.9 757.5,271.9 758.0,272.1 758.5,272.3 759.0,272.2 759.5,272.3 760.0,272.5 760.5,272.8 761.0,273.3 761.5,283.7 762.0,283.3 762.5,283.1 763.0,283.0 763.5,283.0 764.0,283.1 764.5,274.8 765.0,274.1 765.5,273.7 766.0,273.4 766.5,261.8 767.0,231.6 767.5,231.1 768.0,230.7 768.5,230.6 769.0,230.5 769.5,230.6 770.0,230.7 770.5,231.0 771.0,231.5 771.5,229.6 772.0,229.1 772.5,228.8 773.0,228.6 773.5,228.5 774.0,228.6 774.5,228.7 775.0,229.0 775.5,229.2 776.0,229.4 776.5,229.8 777.0,230.4 777.5,265.7 778.0,266.0 778.5,266.6 779.0,285.2 779.5,291.1 780.0,291.2 780.5,291.3 781.0,291.5 781.5,292.0 782.0,292.8 782.5,274.5 783.0,274.0 783.5,273.6 784.0,273.4 784.5,273.4 785.0,273.4 785.5,273.5 786.0,273.8 786.5,274.2 787.0,275.1 787.5,298.3 788.0,298.1 788.5,255.4 789.0,232.7 789.5,211.0 790.0,190.4 790.5,189.9 791.0,189.6 791.5,189.5 792.0,189.4 792.5,189.5 793.0,189.6 793.5,189.9 794.0,190.4 794.5,191.6 795.0,234.2 795.5,234.2 796.0,234.4 796.5,234.6 797.0,235.1 797.5,236.1 798.0,242.1 798.5,242.5 799.0,243.1 799.5,257.3 800.0,258.0 800.5,279.0 801.0,302.7 801.5,303.1 802.0,304.2 802.5,319.7 803.0,320.3 803.5,330.9 804.0,331.1 804.5,331.5 805.0,332.2 805.5,337.2 806.0,355.6 806.5,362.4 807.0,362.5 807.5,362.7 808.0,363.0 808.5,363.7 809.0,367.0 809.5,367.3 810.0,362.4 810.5,331.7 811.0,331.1 811.5,330.8 812.0,330.6 812.5,330.6 813.0,330.6 813.5,330.8 814.0,331.0 814.5,331.5 815.0,332.5 815.5,334.8 816.0,334.8 816.5,334.8 817.0,312.0 817.5,311.2 818.0,310.8 818.5,309.1 819.0,308.5 819.5,308.2 820.0,299.1 820.5,298.5 821.0,298.1 821.5,297.9 822.0,297.8 822.5,297.8 823.0,297.4 823.5,296.4 824.0,296.0 824.5,295.7 825.0,295.5 825.5,295.5 826.0,295.6 826.5,295.7 827.0,296.1 827.5,296.6 828.0,326.3 828.5,326.1 829.0,326.1 829.5,326.1 830.0,326.2 830.5,326.5 831.0,326.9 831.5,327.8 832.0,343.5 832.5,343.6 833.0,343.8 833.5,344.1 834.0,344.7 834.5,369.0 835.0,369.0 835.5,357.2 836.0,356.1 836.5,355.7 837.0,300.3 837.5,299.4 838.0,298.9 838.5,298.7 839.0,298.5 839.5,298.5 840.0,298.6 840.5,298.8 841.0,299.1 841.5,299.6 842.0,284.7 842.5,284.1 843.0,283.7 843.5,283.5 844.0,283.4 844.5,283.4 845.0,283.5 845.5,283.7 846.0,284.1 846.5,284.9 847.0,288.8 847.5,288.9 848.0,281.4 848.5,280.1 849.0,279.6 849.5,240.3 850.0,239.3 850.5,238.8 851.0,238.5 851.5,238.4 852.0,231.6 852.5,218.2 853.0,217.7 853.5,217.4 854.0,217.2 854.5,217.2 855.0,217.2 855.5,217.4 856.0,217.7 856.5,218.2 857.0,219.6 857.5,241.8 858.0,242.1 858.5,242.5 859.0,243.5 859.5,249.3 860.0,235.9 860.5,235.2 861.0,234.8 861.5,234.6 862.0,234.5 862.5,234.5 863.0,234.7 863.5,234.9 864.0,235.3 864.5,236.0 865.0,294.0 865.5,294.1 866.0,294.2 866.5,294.5 867.0,295.1 867.5,312.1 868.0,316.3 868.5,301.1 869.0,300.6 869.5,300.3 870.0,300.1 870.5,300.0 871.0,300.1 871.5,300.2 872.0,300.5 872.5,301.0 873.0,302.0 873.5,310.9 874.0,310.8 874.5,310.9 875.0,311.0 875.5,311.3 876.0,311.7 876.5,312.7 877.0,347.2 877.5,388.9 878.0,388.9 878.5,389.1 879.0,389.4 879.5,389.9 880.0,390.2 880.5,390.2 881.0,390.2 881.5,390.4 882.0,390.7 882.5,391.2 883.0,365.7 883.5,365.2 884.0,364.9 884.5,361.7 885.0,360.6 885.5,360.1 886.0,359.9 886.5,359.7 887.0,359.7 887.5,329.3 888.0,278.2 888.5,277.0 889.0,276.5 889.5,276.2 890.0,276.0 890.5,276.0 891.0,276.0 891.5,276.2 892.0,276.5 892.5,277.0 893.0,301.1 893.5,301.4 894.0,301.9 894.5,309.0 895.0,309.3 895.5,309.8 896.0,310.9 896.5,245.9 897.0,245.1 897.5,244.7 898.0,244.5 898.5,244.4 899.0,244.3 899.5,244.4 900.0,244.6 900.5,245.0 901.0,234.8 901.5,233.5 902.0,233.0 902.5,232.7 903.0,232.6 903.5,226.7 904.0,226.1 904.5,225.8 905.0,225.6 905.5,225.6 906.0,225.6 906.5,225.8 907.0,226.0 907.5,226.5 908.0,227.5 908.5,237.4 909.0,237.7 909.5,238.3 910.0,245.9 910.5,245.9 911.0,245.9 911.5,246.0 912.0,246.3 912.5,246.8 913.0,247.8 913.5,259.7 914.0,259.7 914.5,223.3 915.0,222.5 915.5,222.1 916.0,221.9 916.5,221.8 917.0,221.7 917.5,221.8 918.0,222.0 918.5,222.4 919.0,223.0 919.5,248.0 920.0,243.0 920.5,242.4 921.0,223.2 921.5,222.5 922.0,222.1 922.5,221.9 923.0,221.8 923.5,221.8 924.0,221.9 924.5,222.1 925.0,222.5 925.5,223.2 926.0,227.3 926.5,227.7 927.0,228.3 927.5,207.0 928.0,205.5 928.5,204.3 929.0,203.8 929.5,203.5 930.0,203.4 930.5,203.3 931.0,203.4 931.5,197.2 932.0,196.3 932.5,195.9 933.0,195.7 933.5,195.6 934.0,195.5 934.5,195.6 935.0,195.8 935.5,196.1 936.0,196.8 936.5,201.2 937.0,200.7 937.5,169.3 938.0,168.7 938.5,168.4 939.0,168.2 939.5,168.1 940.0,168.2 940.5,168.3 941.0,168.5 941.5,169.0 942.0,169.8 942.5,199.9 943.0,200.2 943.5,179.5 944.0,178.8 944.5,178.4 945.0,178.2 945.5,151.4 946.0,150.9 946.5,142.3 947.0,141.7 947.5,141.4 948.0,141.2 948.5,141.1 949.0,141.1 949.5,141.2 950.0,141.5 950.5,141.9 951.0,142.8 951.5,162.6 952.0,163.0 952.5,163.7 953.0,166.8 953.5,166.6 954.0,166.4 954.5,110.2 955.0,109.0 955.5,108.5 956.0,108.2 956.5,108.0 957.0,108.0 957.5,108.1 958.0,108.2 958.5,108.5 959.0,109.0 959.5,148.6 960.0,181.6 960.5,200.4 961.0,200.9 961.5,196.5 962.0,196.0 962.5,155.8 963.0,155.0 963.5,154.6 964.0,154.3 964.5,154.2 965.0,154.2 965.5,154.3 966.0,154.5 966.5,154.8 967.0,155.4 967.5,188.7 968.0,169.5 968.5,103.3 969.0,102.6 969.5,102.2 970.0,101.9 970.5,101.8 971.0,101.8 971.5,101.9 972.0,102.1 972.5,102.5 973.0,103.1 973.5,145.8 974.0,202.9 974.5,202.5 975.0,202.2 975.5,202.1 976.0,202.1 976.5,202.2 977.0,202.4 977.5,202.8 978.0,203.5 978.5,227.3 979.0,227.1 979.5,227.0 980.0,227.0 980.5,227.1 981.0,227.4 981.5,227.8 982.0,228.7 982.5,265.8 983.0,265.4 983.5,265.1 984.0,265.0 984.5,204.0 985.0,203.3 985.5,203.0 986.0,202.8 986.5,202.7 987.0,190.5 987.5,189.5 988.0,189.0 988.5,188.7 989.0,188.6 989.5,188.6 990.0,188.6 990.5,188.8 991.0,189.1 991.5,189.7 992.0,250.7 992.5,252.9 993.0,253.4 993.5,254.1 994.0,262.7 994.5,262.8 995.0,263.1 995.5,263.5 996.0,264.4 996.5,325.6 997.0,325.1 997.5,322.5 998.0,321.9 998.5,296.1 999.0,295.4 999.5,295.1 1000.0,294.9 1000.5,294.8 1001.0,294.8 1001.5,294.9 1002.0,295.2 1002.5,272.1 1003.0,271.4 1003.5,271.1 1004.0,270.9 1004.5,270.8 1005.0,270.8 1005.5,270.9 1006.0,271.1 1006.5,271.6 1007.0,249.3 1007.5,248.7 1008.0,248.4 1008.5,248.2 1009.0,248.1 1009.5,248.1 1010.0,248.2 1010.5,248.4 1011.0,248.8 1011.5,249.6 1012.0,258.2 1012.5,258.6 1013.0,259.1 1013.5,268.9 1014.0,268.9 1014.5,269.1 1015.0,269.4 1015.5,269.9 1016.0,271.1 1016.5,258.8 1017.0,257.6 1017.5,257.1 1018.0,256.8 1018.5,256.6 1019.0,256.6 1019.5,256.6 1020.0,256.8 1020.5,257.1 1021.0,257.6 1021.5,273.3 1022.0,271.4 1022.5,270.7 1023.0,270.3 1023.5,270.0 1024.0,254.8 1024.5,226.8 1025.0,192.5 1025.5,147.7 1026.0,147.1 1026.5,146.8 1027.0,146.6 1027.5,146.5 1028.0,146.5 1028.5,146.6 1029.0,146.9 1029.5,147.3 1030.0,148.1 1030.5,181.6 1031.0,182.1 1031.5,183.0 1032.0,236.4 1032.5,236.5 1033.0,189.8 1033.5,189.2 1034.0,188.9 1034.5,188.8 1035.0,188.7 1035.5,188.8 1036.0,188.9 1036.5,189.2 1037.0,189.7 1037.5,190.8 1038.0,202.9 1038.5,203.2 1039.0,203.6 1039.5,204.5 1040.0,210.4 1040.5,210.3 1041.0,210.4 1041.5,210.6 1042.0,211.0 1042.5,211.6 1043.0,215.0 1043.5,214.7 1044.0,214.7 1044.5,214.7 1045.0,214.8 1045.5,215.0 1046.0,215.4 1046.5,216.2 1047.0,219.1 1047.5,220.2 1048.0,220.4 1048.5,220.7 1049.0,199.6 1049.5,190.3 1050.0,189.4 1050.5,188.9 1051.0,188.7 1051.5,188.5 1052.0,188.5 1052.5,188.6 1053.0,188.7 1053.5,184.3 1054.0,183.3 1054.5,182.8 1055.0,182.5 1055.5,182.4 1056.0,182.4 1056.5,181.7 1057.0,180.5 1057.5,180.0 1058.0,179.8 1058.5,179.6 1059.0,179.6 1059.5,179.6 1060.0,168.5 1060.5,168.0 1061.0,167.7 1061.5,167.6 1062.0,167.5 1062.5,167.5 1063.0,167.7 1063.5,168.0 1064.0,168.5 1064.5,169.6 1065.0,205.0 1065.5,205.1 1066.0,205.4 1066.5,205.7 1067.0,206.4 1067.5,258.7 1068.0,259.0 1068.5,259.5 1069.0,260.7 1069.5,265.5 1070.0,265.4 1070.5,265.4 1071.0,262.5 1071.5,261.7 1072.0,261.3 1072.5,261.1 1073.0,261.0 1073.5,245.8 1074.0,245.0 1074.5,244.6 1075.0,244.4 1075.5,244.2 1076.0,244.2 1076.5,244.3 1077.0,244.5 1077.5,244.8 1078.0,245.5 1078.5,254.3 1079.0,254.1 1079.5,254.0 1080.0,254.0 1080.5,254.2 1081.0,254.4 1081.5,254.8 1082.0,255.6 1082.5,265.7 1083.0,240.1 1083.5,239.3 1084.0,238.9 1084.5,238.7 1085.0,238.6 1085.5,229.0 1086.0,228.5 1086.5,228.2 1087.0,228.0 1087.5,228.0 1088.0,228.0 1088.5,228.1 1089.0,228.4 1089.5,228.9 1090.0,229.9 1090.5,232.6 1091.0,233.0 1091.5,233.8 1092.0,236.6 1092.5,248.9 1093.0,248.8 1093.5,248.8 1094.0,248.9 1094.5,249.2 1095.0,249.6 1095.5,250.3 1096.0,277.0 1096.5,276.2 1097.0,275.8 1097.5,275.5 1098.0,269.7 1098.5,269.0 1099.0,268.6 1099.5,217.6 1100.0,216.7 1100.5,216.3 1101.0,216.0 1101.5,215.9 1102.0,215.9 1102.5,216.0 1103.0,216.2 1103.5,216.5 1104.0,217.1 1104.5,261.2 1105.0,247.6 1105.5,247.0 1106.0,246.6 1106.5,246.4 1107.0,246.4 1107.5,246.4 1108.0,212.0 1108.5,211.1 1109.0,210.7 1109.5,210.5 1110.0,210.3 1110.5,210.3 1111.0,210.4 1111.5,210.6 1112.0,210.9 1112.5,211.5 1113.0,245.3 1113.5,244.9 1114.0,244.6 1114.5,233.5 1115.0,232.4 1115.5,231.9 1116.0,231.6 1116.5,231.5 1117.0,231.4 1117.5,231.5 1118.0,231.6 1118.5,196.7 1119.0,195.5 1119.5,195.0 1120.0,194.7 1120.5,194.5 1121.0,194.5 1121.5,194.6 1122.0,194.7 1122.5,195.0 1123.0,195.5 1123.5,209.8 1124.0,251.3 1124.5,302.4 1125.0,288.9 1125.5,288.0 1126.0,287.5 1126.5,287.3 1127.0,287.1 1127.5,287.1 1128.0,287.2 1128.5,287.3 1129.0,287.7 1129.5,282.5 1130.0,276.2 1130.5,275.7 1131.0,275.4 1131.5,275.2 1132.0,275.1 1132.5,275.1 1133.0,263.3 1133.5,231.5 1134.0,231.0 1134.5,230.7 1135.0,230.5 1135.5,230.4 1136.0,230.4 1136.5,230.6 1137.0,230.8 1137.5,231.3 1138.0,232.2 1138.5,256.3 1139.0,255.7 1139.5,255.4 1140.0,255.3 1140.5,255.2 1141.0,255.2 1141.5,255.4 1142.0,255.6 1142.5,256.1 1143.0,257.1 1143.5,297.0 1144.0,296.9 1144.5,296.9 1145.0,297.1 1145.5,297.3 1146.0,297.8 1146.5,298.7 1147.0,307.5 1147.5,308.0 1148.0,293.9 1148.5,293.3 1149.0,292.9 1149.5,292.7 1150.0,292.6 1150.5,292.6 1151.0,292.7 1151.5,293.0 1152.0,293.4 1152.5,294.1 1153.0,359.4 1153.5,359.3 1154.0,359.3 1154.5,359.3 1155.0,359.5 1155.5,359.8 1156.0,360.4 1156.5,373.5 1157.0,375.0 1157.5,375.1 1158.0,375.4 1158.5,376.0 1159.0,334.5 1159.5,333.8 1160.0,333.4 1160.5,333.1 1161.0,333.0 1161.5,333.0 1162.0,333.1 1162.5,333.3 1163.0,333.7 1163.5,304.2 1164.0,303.1 1164.5,302.6 1165.0,302.4 1165.5,302.2 1166.0,302.2 1166.5,302.2 1167.0,302.4 1167.5,302.7 1168.0,303.2 1168.5,329.8 1169.0,329.6 1169.5,289.3 1170.0,288.7 1170.5,288.4 1171.0,288.2 1171.5,288.2 1172.0,288.2 1172.5,277.2 1173.0,276.2 1173.5,275.7 1174.0,275.4 1174.5,275.3 1175.0,275.2 1175.5,275.3 1176.0,275.5 1176.5,275.8 1177.0,276.3 1177.5,309.6 1178.0,330.5 1178.5,336.6 1179.0,337.1 1179.5,338.2 1180.0,342.2 1180.5,328.3 1181.0,327.1 1181.5,326.6 1182.0,326.4 1182.5,326.2 1183.0,324.6 1183.5,323.7 1184.0,323.2 1184.5,323.0 1185.0,322.8 1185.5,319.2 1186.0,318.1 1186.5,317.6 1187.0,286.2 1187.5,284.2 1188.0,281.4 1188.5,280.9 1189.0,280.6 1189.5,280.4 1190.0,280.3 1190.5,280.4 1191.0,280.5 1191.5,280.8 1192.0,281.3 1192.5,282.3 1193.0,293.5 1193.5,292.6 1194.0,292.2 1194.5,292.0 1195.0,291.8 1195.5,291.8 1196.0,291.9 1196.5,292.1 1197.0,292.5 1197.5,293.1 1198.0,348.7 1198.5,349.0 1199.0,349.4 1199.5,350.3 1200.0,377.5 1200.5,377.9 1201.0,316.9 1201.5,316.1 1202.0,315.6 1202.5,315.4 1203.0,315.2 1203.5,315.2 1204.0,315.3 1204.5,315.5 1205.0,315.8 1205.5,316.4 1206.0,321.4 1206.5,321.0 1207.0,285.2 1207.5,284.6 1208.0,284.3 1208.5,284.1 1209.0,284.0 1209.5,284.0 1210.0,284.1 1210.5,284.4 1211.0,284.8 1211.5,285.6 1212.0,289.2 1212.5,289.6 1213.0,290.3 1213.5,324.6 1214.0,325.0 1214.5,326.1 1215.0,379.5 1215.5,379.9 1216.0,379.5 1216.5,344.5 1217.0,343.7 1217.5,343.3 1218.0,343.1 1218.5,343.0 1219.0,342.9 1219.5,343.0 1220.0,343.2 1220.5,343.6 1221.0,344.3 1221.5,362.3 1222.0,362.4 1222.5,362.7 1223.0,363.1 1223.5,364.2 1224.0,371.0 1224.5,371.0 1225.0,310.1 1225.5,309.5 1226.0,309.1 1226.5,308.9 1227.0,308.8 1227.5,308.9 1228.0,309.0 1228.5,309.2 1229.0,309.6 1229.5,309.7 1230.0,308.9 1230.5,308.5 1231.0,308.3 1231.5,308.2 1232.0,308.2 1232.5,308.3 1233.0,308.5 1233.5,308.8 1234.0,307.8 1234.5,306.7 1235.0,281.5 1235.5,280.5 1236.0,280.1 1236.5,279.8 1237.0,279.6 1237.5,279.6 1238.0,279.7 1238.5,279.9 1239.0,280.2 1239.5,280.7 1240.0,286.0 1240.5,286.4 1241.0,286.9 1241.5,316.6 1242.0,315.2 1242.5,299.3 1243.0,298.5 1243.5,298.1 1244.0,297.9 1244.5,297.7 1245.0,297.7 1245.5,297.8 1246.0,298.0 1246.5,298.4 1247.0,299.0 1247.5,317.0 1248.0,317.2 1248.5,317.7 1249.0,318.7 1249.5,340.1 1250.0,331.7 1250.5,330.7 1251.0,329.9 1251.5,329.4 1252.0,329.2 1252.5,329.1 1253.0,329.1 1253.5,329.1 1254.0,329.3 1254.5,329.7 1255.0,330.3 1255.5,379.5 1256.0,379.8 1256.5,380.2 1257.0,381.1 1257.5,391.8 1258.0,391.9 1258.5,392.2 1259.0,392.7 1259.5,296.2 1260.0,295.4 1260.5,294.9 1261.0,294.7 1261.5,294.6 1262.0,294.5 1262.5,294.6 1263.0,294.8 1263.5,295.2 1264.0,295.8 1264.5,306.8 1265.0,306.4 1265.5,306.2 1266.0,306.1 1266.5,306.1 1267.0,306.2 1267.5,306.5 1268.0,306.9 1268.5,307.7 1269.0,327.8 1269.5,327.6 1270.0,327.6 1270.5,327.6 1271.0,327.8 1271.5,328.0 1272.0,328.5 1272.5,329.6 1273.0,332.1 1273.5,286.9 1274.0,286.1 1274.5,285.7 1275.0,285.4 1275.5,285.3 1276.0,285.3 1276.5,285.4 1277.0,285.6 1277.5,285.9 1278.0,286.6 1278.5,289.1 1279.0,289.1 1279.5,289.2 1280.0,289.4 1280.5,289.8 1281.0,290.5 1281.5,292.8 1282.0,292.5 1282.5,292.4 1283.0,292.3 1283.5,281.7 1284.0,281.1 1284.5,280.8 1285.0,280.6 1285.5,280.5 1286.0,280.5 1286.5,280.7 1287.0,280.9 1287.5,281.3 1288.0,282.2 1288.5,301.8 1289.0,301.6 1289.5,259.7 1290.0,259.2 1290.5,258.9 1291.0,258.7 1291.5,258.6 1292.0,258.7 1292.5,258.8 1293.0,259.1 1293.5,259.6 1294.0,260.6 1294.5,265.3 1295.0,265.2 1295.5,265.2 1296.0,265.3 1296.5,265.5 1297.0,223.8 1297.5,223.2 1298.0,222.9 1298.5,222.7 1299.0,222.6 1299.5,222.6 1300.0,222.8 1300.5,223.0 1301.0,223.5 1301.5,224.4 1302.0,322.9 1302.5,246.6 1303.0,245.7 1303.5,245.2 1304.0,245.0 1304.5,244.8 1305.0,244.8 1305.5,244.9 1306.0,245.1 1306.5,245.4 1307.0,245.9 1307.5,323.5 1308.0,323.7 1308.5,324.0 1309.0,324.5 1309.5,335.3 1310.0,337.5 1310.5,336.9 1311.0,336.6 1311.5,336.4 1312.0,336.3 1312.5,325.7 1313.0,325.0 1313.5,324.7 1314.0,324.5 1314.5,324.4 1315.0,324.4 1315.5,324.5 1316.0,324.7 1316.5,325.1 1317.0,325.9 1317.5,357.2 1318.0,357.4 1318.5,357.6 1319.0,347.9 1319.5,347.3 1320.0,347.0 1320.5,346.8 1321.0,346.8 1321.5,346.8 1322.0,346.9 1322.5,347.2 1323.0,347.6 1323.5,348.5 1324.0,339.8 1324.5,338.8 1325.0,338.3 1325.5,338.1 1326.0,337.9 1326.5,337.9 1327.0,338.0 1327.5,338.1 1328.0,338.5 1328.5,339.0 1329.0,365.4 1329.5,336.8 1330.0,297.2 1330.5,296.6 1331.0,296.2 1331.5,296.0 1332.0,295.9 1332.5,295.9 1333.0,296.0 1333.5,296.3 1334.0,296.7 1334.5,297.4 1335.0,306.6 1335.5,277.0 1336.0,275.8 1336.5,275.3 1337.0,275.0 1337.5,274.9 1338.0,274.8 1338.5,274.9 1339.0,275.1 1339.5,275.4 1340.0,275.9 1340.5,286.6 1341.0,286.0 1341.5,285.6 1342.0,285.3 1342.5,285.2 1343.0,285.2 1343.5,285.3 1344.0,285.5 1344.5,285.9 1345.0,286.5 1345.5,311.0 1346.0,313.3 1346.5,318.1 1347.0,317.8 1347.5,317.7 1348.0,317.6 1348.5,317.7 1349.0,317.9 1349.5,302.9 1350.0,286.2 1350.5,285.5 1351.0,285.1 1351.5,284.8 1352.0,284.7 1352.5,268.5 1353.0,267.7 1353.5,267.3 1354.0,267.0 1354.5,266.9 1355.0,266.9 1355.5,228.1 1356.0,227.2 1356.5,226.8 1357.0,226.5 1357.5,226.4 1358.0,226.3 1358.5,226.4 1359.0,226.6 1359.5,226.9 1360.0,227.5 1360.5,250.4 1361.0,249.5 1361.5,249.1 1362.0,248.8 1362.5,248.7 1363.0,231.7 1363.5,231.1 1364.0,230.8 1364.5,230.6 1365.0,230.5 1365.5,230.5 1366.0,230.7 1366.5,230.9 1367.0,231.3 1367.5,232.2 1368.0,227.0 1368.5,226.3 1369.0,225.9 1369.5,225.7 1370.0,225.6 1370.5,225.6 1371.0,225.7 1371.5,225.9 1372.0,187.5 1372.5,186.4 1373.0,186.0 1373.5,185.7 1374.0,185.5 1374.5,185.5 1375.0,185.6 1375.5,185.7 1376.0,186.0 1376.5,186.6 1377.0,205.7 1377.5,241.0 1378.0,240.9 1378.5,241.0 1379.0,241.2 1379.5,241.6 1380.0,242.2 1380.5,249.8 1381.0,250.3 1381.5,251.2 1382.0,263.2 1382.5,263.6 1383.0,264.3 1383.5,268.5 1384.0,268.3 1384.5,268.2 1385.0,268.2 1385.5,268.4 1386.0,231.6 1386.5,230.6 1387.0,230.1 1387.5,229.9 1388.0,207.4 1388.5,206.9 1389.0,206.6 1389.5,206.4 1390.0,206.4 1390.5,206.4 1391.0,206.6 1391.5,206.9 1392.0,207.4 1392.5,208.5 1393.0,218.5 1393.5,218.4 1394.0,218.4 1394.5,218.5 1395.0,210.0 1395.5,209.3 1396.0,208.9 1396.5,208.7 1397.0,208.6 1397.5,208.6 1398.0,208.7 1398.5,208.9 1399.0,209.3 1399.5,209.9 1400.0,232.0 1400.5,231.5 1401.0,231.2 1401.5,231.1 1402.0,231.1 1402.5,231.1 1403.0,231.3 1403.5,231.6 1404.0,232.2 1404.5,260.3 1405.0,260.5 1405.5,261.0 1406.0,261.7 1406.5,278.2 1407.0,290.3 1407.5,331.3 1408.0,290.0 1408.5,289.0 1409.0,288.6 1409.5,288.3 1410.0,288.2 1410.5,277.7 1411.0,276.4 1411.5,275.9 1412.0,275.6 1412.5,275.4 1413.0,275.4 1413.5,275.4 1414.0,275.6 1414.5,275.9 1415.0,220.9 1415.5,219.6 1416.0,219.1 1416.5,218.8 1417.0,218.6 1417.5,218.6 1418.0,218.6 1418.5,218.8 1419.0,219.1 1419.5,219.6 1420.0,234.2 1420.5,234.2 1421.0,234.3 1421.5,234.5 1422.0,234.8 1422.5,235.4 1423.0,242.8 1423.5,242.9 1424.0,243.2 1424.5,243.6 1425.0,244.5 1425.5,282.2 1426.0,282.3 1426.5,282.6 1427.0,283.1 1427.5,283.6 1428.0,283.2 1428.5,283.0 1429.0,282.9 1429.5,282.9 1430.0,283.1 1430.5,283.3 1431.0,283.7 1431.5,284.2 1432.0,284.7 1432.5,285.2 1433.0,286.0 1433.5,308.4 1434.0,298.2 1434.5,291.5 1435.0,267.5 1435.5,266.5 1436.0,266.1 1436.5,265.8 1437.0,265.7 1437.5,265.7 1438.0,265.7 1438.5,265.9 1439.0,266.2 1439.5,216.2 1440.0,215.6 1440.5,207.5 1441.0,206.6 1441.5,206.2 1442.0,205.9 1442.5,205.8 1443.0,205.8 1443.5,205.8 1444.0,206.0 1444.5,206.4 1445.0,206.9 1445.5,213.5 1446.0,214.0 1446.5,217.1 1447.0,237.7 1447.5,237.6 1448.0,237.5 1448.5,237.6 1449.0,237.7 1449.5,238.0 1450.0,238.5 1450.5,239.8 1451.0,270.5 1451.5,270.5 1452.0,270.7 1452.5,270.9 1453.0,271.4 1453.5,272.4 1454.0,284.3 1454.5,299.3 1455.0,298.7 1455.5,271.3 1456.0,270.2 1456.5,223.3 1457.0,209.8 1457.5,170.6 1458.0,170.1 1458.5,169.7 1459.0,169.6 1459.5,169.5 1460.0,169.5 1460.5,169.7 1461.0,169.9 1461.5,170.4 1462.0,171.4 1462.5,207.0 1463.0,206.9 1463.5,206.9 1464.0,206.9 1464.5,207.1 1465.0,207.4 1465.5,208.0 1466.0,221.3 1466.0,371.9 1465.5,376.5 1465.0,377.4 1464.5,446.0 1464.0,446.6 1463.5,447.0 1463.0,447.2 1462.5,447.3 1462.0,447.3 1461.5,447.1 1461.0,446.9 1460.5,446.5 1460.0,445.7 1459.5,400.4 1459.0,401.2 1458.5,401.6 1458.0,411.2 1457.5,438.2 1457.0,438.7 1456.5,459.3 1456.0,459.8 1455.5,460.1 1455.0,460.3 1454.5,460.4 1454.0,460.3 1453.5,460.2 1453.0,459.9 1452.5,459.4 1452.0,458.4 1451.5,464.6 1451.0,465.3 1450.5,465.6 1450.0,465.8 1449.5,465.9 1449.0,465.9 1448.5,465.8 1448.0,465.6 1447.5,465.2 1447.0,464.4 1446.5,448.0 1446.0,448.0 1445.5,447.8 1445.0,447.6 1444.5,447.1 1444.0,446.2 1443.5,406.4 1443.0,406.0 1442.5,405.2 1442.0,397.8 1441.5,397.9 1441.0,430.2 1440.5,431.3 1440.0,433.3 1439.5,433.9 1439.0,434.2 1438.5,434.4 1438.0,434.5 1437.5,451.1 1437.0,454.4 1436.5,454.9 1436.0,455.2 1435.5,455.3 1435.0,455.4 1434.5,473.8 1434.0,474.4 1433.5,474.8 1433.0,475.0 1432.5,475.1 1432.0,475.1 1431.5,475.0 1431.0,474.8 1430.5,474.4 1430.0,473.7 1429.5,408.1 1429.0,408.3 1428.5,408.3 1428.0,408.2 1427.5,408.0 1427.0,407.7 1426.5,407.2 1426.0,408.3 1425.5,409.6 1425.0,410.2 1424.5,410.6 1424.0,448.5 1423.5,449.1 1423.0,449.4 1422.5,449.6 1422.0,449.7 1421.5,449.7 1421.0,449.6 1420.5,449.3 1420.0,448.9 1419.5,448.1 1419.0,443.2 1418.5,443.4 1418.0,449.0 1417.5,449.6 1417.0,449.9 1416.5,450.1 1416.0,450.2 1415.5,450.2 1415.0,450.0 1414.5,449.8 1414.0,449.3 1413.5,448.4 1413.0,446.9 1412.5,446.7 1412.0,446.9 1411.5,490.0 1411.0,490.5 1410.5,490.8 1410.0,491.0 1409.5,491.0 1409.0,491.0 1408.5,490.8 1408.0,490.5 1407.5,490.1 1407.0,489.0 1406.5,484.9 1406.0,484.7 1405.5,484.4 1405.0,483.9 1404.5,461.5 1404.0,460.9 1403.5,460.9 1403.0,461.0 1402.5,461.0 1402.0,461.0 1401.5,460.8 1401.0,460.5 1400.5,460.0 1400.0,393.2 1399.5,392.3 1399.0,392.3 1398.5,392.2 1398.0,392.0 1397.5,391.7 1397.0,391.1 1396.5,376.6 1396.0,376.6 1395.5,376.6 1395.0,380.9 1394.5,381.8 1394.0,382.3 1393.5,415.9 1393.0,416.7 1392.5,417.1 1392.0,417.4 1391.5,417.5 1391.0,420.5 1390.5,421.1 1390.0,427.8 1389.5,449.3 1389.0,449.8 1388.5,450.1 1388.0,450.3 1387.5,450.4 1387.0,450.3 1386.5,450.2 1386.0,449.9 1385.5,449.4 1385.0,448.3 1384.5,409.2 1384.0,409.3 1383.5,409.3 1383.0,409.3 1382.5,409.4 1382.0,409.5 1381.5,434.0 1381.0,434.6 1380.5,434.9 1380.0,435.1 1379.5,435.1 1379.0,435.1 1378.5,435.0 1378.0,434.7 1377.5,434.2 1377.0,433.3 1376.5,421.9 1376.0,417.3 1375.5,417.0 1375.0,416.6 1374.5,415.8 1374.0,350.3 1373.5,350.6 1373.0,350.8 1372.5,358.0 1372.0,453.1 1371.5,453.7 1371.0,474.5 1370.5,475.0 1370.0,475.3 1369.5,475.5 1369.0,475.5 1368.5,475.5 1368.0,475.3 1367.5,475.0 1367.0,474.5 1366.5,473.3 1366.0,486.9 1365.5,487.5 1365.0,487.9 1364.5,488.1 1364.0,488.1 1363.5,488.1 1363.0,488.0 1362.5,487.8 1362.0,487.3 1361.5,486.5 1361.0,475.7 1360.5,461.2 1360.0,461.8 1359.5,462.1 1359.0,462.3 1358.5,462.4 1358.0,462.3 1357.5,462.2 1357.0,461.9 1356.5,461.5 1356.0,460.6 1355.5,448.5 1355.0,448.3 1354.5,447.9 1354.0,447.2 1353.5,455.5 1353.0,478.8 1352.5,480.1 1352.0,480.6 1351.5,480.8 1351.0,481.0 1350.5,481.1 1350.0,481.0 1349.5,480.8 1349.0,480.5 1348.5,541.5 1348.0,542.3 1347.5,542.7 1347.0,543.0 1346.5,543.1 1346.0,543.1 1345.5,543.0 1345.0,542.8 1344.5,542.5 1344.0,541.9 1343.5,460.0 1343.0,459.6 1342.5,459.2 1342.0,459.7 1341.5,459.9 1341.0,460.1 1340.5,460.1 1340.0,460.1 1339.5,494.4 1339.0,494.9 1338.5,495.1 1338.0,495.3 1337.5,495.4 1337.0,495.3 1336.5,495.1 1336.0,494.9 1335.5,494.4 1335.0,486.6 1334.5,486.6 1334.0,486.6 1333.5,486.5 1333.0,491.2 1332.5,505.8 1332.0,517.7 1331.5,518.6 1331.0,519.0 1330.5,519.3 1330.0,519.4 1329.5,519.4 1329.0,519.4 1328.5,519.2 1328.0,518.8 1327.5,518.2 1327.0,516.3 1326.5,516.9 1326.0,526.3 1325.5,526.9 1325.0,527.2 1324.5,527.4 1324.0,527.5 1323.5,531.7 1323.0,532.3 1322.5,532.6 1322.0,532.8 1321.5,544.6 1321.0,545.2 1320.5,545.5 1320.0,545.7 1319.5,545.8 1319.0,545.8 1318.5,545.7 1318.0,555.6 1317.5,556.4 1317.0,556.8 1316.5,557.1 1316.0,557.2 1315.5,557.2 1315.0,557.1 1314.5,556.9 1314.0,556.6 1313.5,556.0 1313.0,547.4 1312.5,547.3 1312.0,547.1 1311.5,546.7 1311.0,546.0 1310.5,511.0 1310.0,511.0 1309.5,510.8 1309.0,510.4 1308.5,509.8 1308.0,506.6 1307.5,506.7 1307.0,506.7 1306.5,506.6 1306.0,525.1 1305.5,526.0 1305.0,526.5 1304.5,526.7 1304.0,526.9 1303.5,526.9 1303.0,526.8 1302.5,526.6 1302.0,526.3 1301.5,525.7 1301.0,520.4 1300.5,520.6 1300.0,520.7 1299.5,520.7 1299.0,520.6 1298.5,520.3 1298.0,520.0 1297.5,519.3 1297.0,450.5 1296.5,450.2 1296.0,449.7 1295.5,448.4 1295.0,463.4 1294.5,464.1 1294.0,464.6 1293.5,464.8 1293.0,464.9 1292.5,464.9 1292.0,499.5 1291.5,500.4 1291.0,500.8 1290.5,501.1 1290.0,501.2 1289.5,501.2 1289.0,501.1 1288.5,501.0 1288.0,500.6 1287.5,500.0 1287.0,475.2 1286.5,475.6 1286.0,475.8 1285.5,475.9 1285.0,475.9 1284.5,475.8 1284.0,475.5 1283.5,475.1 1283.0,474.4 1282.5,427.2 1282.0,431.2 1281.5,432.0 1281.0,432.4 1280.5,432.6 1280.0,432.7 1279.5,450.9 1279.0,460.4 1278.5,460.9 1278.0,461.2 1277.5,461.4 1277.0,461.5 1276.5,461.4 1276.0,507.3 1275.5,508.3 1275.0,508.7 1274.5,509.0 1274.0,509.1 1273.5,509.2 1273.0,566.9 1272.5,567.7 1272.0,568.1 1271.5,568.3 1271.0,568.5 1270.5,568.5 1270.0,568.4 1269.5,568.2 1269.0,567.8 1268.5,567.2 1268.0,493.2 1267.5,561.5 1267.0,562.6 1266.5,563.0 1266.0,563.3 1265.5,563.5 1265.0,563.5 1264.5,563.4 1264.0,563.3 1263.5,570.1 1263.0,571.2 1262.5,571.7 1262.0,571.9 1261.5,572.1 1261.0,572.1 1260.5,572.1 1260.0,571.9 1259.5,571.6 1259.0,571.1 1258.5,565.9 1258.0,566.0 1257.5,566.0 1257.0,565.9 1256.5,565.7 1256.0,565.4 1255.5,564.8 1255.0,514.1 1254.5,513.5 1254.0,508.4 1253.5,499.0 1253.0,499.5 1252.5,499.9 1252.0,500.0 1251.5,500.1 1251.0,544.2 1250.5,545.4 1250.0,545.9 1249.5,546.2 1249.0,546.4 1248.5,546.4 1248.0,546.4 1247.5,546.2 1247.0,545.9 1246.5,545.4 1246.0,518.9 1245.5,519.3 1245.0,519.5 1244.5,519.6 1244.0,519.7 1243.5,520.0 1243.0,520.2 1242.5,520.2 1242.0,520.2 1241.5,520.1 1241.0,519.8 1240.5,519.4 1240.0,518.4 1239.5,462.2 1239.0,462.1 1238.5,461.9 1238.0,479.9 1237.5,481.3 1237.0,481.8 1236.5,482.1 1236.0,490.1 1235.5,490.8 1235.0,491.2 1234.5,491.4 1234.0,491.6 1233.5,491.6 1233.0,491.5 1232.5,491.2 1232.0,490.9 1231.5,490.2 1231.0,489.1 1230.5,489.0 1230.0,488.7 1229.5,488.2 1229.0,486.9 1228.5,484.8 1228.0,484.9 1227.5,484.8 1227.0,484.7 1226.5,484.4 1226.0,549.3 1225.5,549.9 1225.0,550.3 1224.5,550.5 1224.0,550.6 1223.5,550.6 1223.0,550.5 1222.5,550.3 1222.0,549.9 1221.5,549.1 1221.0,538.4 1220.5,538.2 1220.0,537.9 1219.5,537.2 1219.0,528.9 1218.5,543.6 1218.0,544.2 1217.5,544.5 1217.0,544.7 1216.5,544.8 1216.0,544.8 1215.5,544.6 1215.0,544.4 1214.5,543.9 1214.0,543.0 1213.5,497.2 1213.0,497.1 1212.5,496.8 1212.0,496.4 1211.5,495.7 1211.0,493.5 1210.5,494.0 1210.0,494.3 1209.5,494.4 1209.0,494.5 1208.5,494.4 1208.0,494.3 1207.5,494.0 1207.0,493.5 1206.5,490.9 1206.0,491.0 1205.5,491.0 1205.0,490.9 1204.5,491.1 1204.0,491.6 1203.5,509.2 1203.0,556.3 1202.5,556.8 1202.0,557.1 1201.5,557.3 1201.0,557.3 1200.5,557.3 1200.0,557.1 1199.5,556.8 1199.0,556.3 1198.5,555.2 1198.0,523.6 1197.5,523.3 1197.0,522.8 1196.5,509.9 1196.0,510.3 1195.5,510.5 1195.0,510.6 1194.5,510.6 1194.0,510.5 1193.5,510.3 1193.0,510.0 1192.5,509.3 1192.0,475.1 1191.5,475.2 1191.0,475.2 1190.5,478.7 1190.0,479.4 1189.5,479.8 1189.0,566.2 1188.5,567.0 1188.0,567.4 1187.5,567.6 1187.0,567.7 1186.5,567.8 1186.0,567.7 1185.5,567.5 1185.0,567.1 1184.5,566.5 1184.0,516.7 1183.5,515.8 1183.0,515.1 1182.5,514.7 1182.0,538.8 1181.5,539.7 1181.0,540.2 1180.5,540.4 1180.0,540.5 1179.5,540.6 1179.0,540.5 1178.5,540.3 1178.0,540.0 1177.5,539.4 1177.0,489.7 1176.5,483.2 1176.0,483.3 1175.5,492.5 1175.0,493.7 1174.5,494.2 1174.0,494.5 1173.5,494.7 1173.0,502.5 1172.5,503.4 1172.0,503.9 1171.5,504.1 1171.0,504.3 1170.5,504.3 1170.0,534.1 1169.5,584.2 1169.0,584.9 1168.5,585.3 1168.0,585.5 1167.5,585.6 1167.0,585.7 1166.5,585.6 1166.0,585.3 1165.5,585.0 1165.0,584.3 1164.5,573.8 1164.0,574.1 1163.5,574.2 1163.0,574.2 1162.5,574.1 1162.0,573.9 1161.5,573.5 1161.0,572.8 1160.5,558.5 1160.0,558.6 1159.5,558.6 1159.0,558.4 1158.5,558.2 1158.0,557.8 1157.5,557.0 1157.0,532.8 1156.5,532.8 1156.0,532.7 1155.5,532.5 1155.0,532.2 1154.5,531.6 1154.0,514.1 1153.5,514.1 1153.0,514.0 1152.5,513.7 1152.0,524.5 1151.5,560.5 1151.0,561.0 1150.5,561.4 1150.0,561.5 1149.5,561.6 1149.0,561.6 1148.5,561.4 1148.0,561.2 1147.5,560.7 1147.0,559.8 1146.5,492.2 1146.0,492.2 1145.5,492.0 1145.0,491.7 1144.5,491.2 1144.0,463.7 1143.5,463.9 1143.0,464.0 1142.5,464.0 1142.0,463.9 1141.5,463.6 1141.0,463.2 1140.5,462.4 1140.0,440.8 1139.5,430.3 1139.0,429.5 1138.5,426.5 1138.0,426.6 1137.5,426.6 1137.0,426.5 1136.5,426.3 1136.0,426.0 1135.5,425.4 1135.0,408.5 1134.5,408.1 1134.0,407.2 1133.5,404.2 1133.0,425.2 1132.5,464.5 1132.0,467.8 1131.5,468.6 1131.0,469.1 1130.5,560.4 1130.0,561.0 1129.5,561.3 1129.0,561.5 1128.5,561.6 1128.0,561.6 1127.5,561.5 1127.0,561.2 1126.5,560.8 1126.0,559.9 1125.5,516.7 1125.0,516.8 1124.5,516.7 1124.0,516.6 1123.5,516.3 1123.0,515.8 1122.5,514.4 1122.0,417.8 1121.5,417.1 1121.0,410.2 1120.5,396.2 1120.0,396.6 1119.5,396.9 1119.0,397.0 1118.5,418.9 1118.0,434.3 1117.5,434.8 1117.0,435.1 1116.5,435.2 1116.0,435.3 1115.5,435.2 1115.0,437.8 1114.5,499.5 1114.0,500.4 1113.5,500.8 1113.0,501.0 1112.5,501.2 1112.0,501.2 1111.5,501.1 1111.0,500.9 1110.5,500.6 1110.0,500.0 1109.5,464.7 1109.0,465.0 1108.5,465.2 1108.0,465.3 1107.5,465.3 1107.0,465.2 1106.5,465.0 1106.0,464.6 1105.5,463.8 1105.0,396.6 1104.5,397.0 1104.0,397.2 1103.5,397.4 1103.0,430.3 1102.5,430.9 1102.0,431.2 1101.5,450.6 1101.0,451.5 1100.5,451.9 1100.0,452.2 1099.5,452.3 1099.0,452.3 1098.5,452.2 1098.0,452.1 1097.5,451.7 1097.0,452.4 1096.5,461.0 1096.0,461.8 1095.5,462.3 1095.0,462.5 1094.5,462.6 1094.0,462.6 1093.5,462.6 1093.0,462.4 1092.5,462.0 1092.0,461.4 1091.5,430.1 1091.0,372.4 1090.5,383.8 1090.0,384.4 1089.5,384.7 1089.0,384.9 1088.5,408.2 1088.0,408.9 1087.5,409.2 1087.0,409.4 1086.5,426.9 1086.0,427.5 1085.5,427.8 1085.0,428.0 1084.5,428.1 1084.0,428.0 1083.5,427.9 1083.0,427.7 1082.5,440.5 1082.0,441.2 1081.5,441.7 1081.0,441.9 1080.5,442.0 1080.0,442.0 1079.5,441.9 1079.0,466.0 1078.5,466.6 1078.0,466.9 1077.5,467.0 1077.0,467.1 1076.5,467.1 1076.0,466.9 1075.5,466.6 1075.0,466.1 1074.5,465.0 1074.0,439.0 1073.5,439.0 1073.0,439.0 1072.5,438.8 1072.0,438.5 1071.5,437.9 1071.0,436.1 1070.5,435.6 1070.0,403.2 1069.5,408.4 1069.0,408.9 1068.5,409.2 1068.0,409.4 1067.5,409.4 1067.0,409.4 1066.5,409.2 1066.0,409.0 1065.5,408.5 1065.0,407.2 1064.5,393.4 1064.0,393.4 1063.5,393.2 1063.0,393.0 1062.5,392.5 1062.0,391.5 1061.5,341.1 1061.0,341.6 1060.5,341.9 1060.0,342.1 1059.5,363.1 1059.0,363.7 1058.5,364.1 1058.0,364.3 1057.5,364.3 1057.0,400.8 1056.5,401.7 1056.0,402.1 1055.5,402.4 1055.0,402.5 1054.5,402.5 1054.0,402.4 1053.5,402.2 1053.0,401.9 1052.5,401.3 1052.0,374.0 1051.5,373.6 1051.0,373.0 1050.5,372.7 1050.0,372.4 1049.5,371.8 1049.0,360.1 1048.5,380.1 1048.0,380.6 1047.5,380.9 1047.0,381.1 1046.5,381.1 1046.0,381.1 1045.5,380.9 1045.0,380.7 1044.5,380.2 1044.0,379.1 1043.5,378.2 1043.0,378.1 1042.5,378.0 1042.0,377.7 1041.5,377.3 1041.0,376.4 1040.5,367.4 1040.0,404.5 1039.5,405.2 1039.0,405.6 1038.5,405.8 1038.0,405.9 1037.5,405.9 1037.0,405.8 1036.5,405.5 1036.0,416.7 1035.5,417.4 1035.0,417.8 1034.5,418.0 1034.0,418.1 1033.5,429.6 1033.0,430.2 1032.5,430.5 1032.0,430.7 1031.5,430.8 1031.0,430.8 1030.5,430.7 1030.0,430.4 1029.5,430.0 1029.0,429.2 1028.5,371.8 1028.0,361.3 1027.5,369.4 1027.0,384.5 1026.5,385.1 1026.0,399.3 1025.5,434.0 1025.0,434.5 1024.5,434.8 1024.0,435.0 1023.5,435.0 1023.0,435.0 1022.5,434.8 1022.0,464.1 1021.5,464.8 1021.0,465.2 1020.5,465.4 1020.0,465.5 1019.5,493.5 1019.0,494.0 1018.5,494.4 1018.0,494.6 1017.5,494.6 1017.0,494.6 1016.5,494.5 1016.0,494.2 1015.5,493.8 1015.0,492.9 1014.5,466.3 1014.0,467.3 1013.5,467.8 1013.0,468.1 1012.5,468.2 1012.0,468.2 1011.5,468.2 1011.0,468.0 1010.5,467.7 1010.0,467.1 1009.5,442.1 1009.0,442.5 1008.5,442.6 1008.0,442.7 1007.5,442.7 1007.0,442.6 1006.5,442.3 1006.0,441.8 1005.5,440.9 1005.0,427.7 1004.5,428.2 1004.0,431.8 1003.5,483.7 1003.0,484.2 1002.5,484.5 1002.0,484.7 1001.5,484.8 1001.0,484.7 1000.5,484.6 1000.0,484.3 999.5,483.8 999.0,482.6 998.5,460.6 998.0,460.5 997.5,462.3 997.0,462.9 996.5,463.2 996.0,463.4 995.5,463.5 995.0,463.5 994.5,463.3 994.0,463.1 993.5,462.7 993.0,461.8 992.5,454.7 992.0,454.1 991.5,439.9 991.0,439.5 990.5,438.7 990.0,419.2 989.5,423.5 989.0,424.1 988.5,424.4 988.0,424.6 987.5,424.7 987.0,424.7 986.5,424.6 986.0,424.3 985.5,423.9 985.0,423.1 984.5,404.5 984.0,427.0 983.5,427.7 983.0,431.4 982.5,432.7 982.0,433.4 981.5,445.6 981.0,446.4 980.5,446.9 980.0,447.1 979.5,447.2 979.0,447.2 978.5,447.2 978.0,447.0 977.5,446.6 977.0,446.0 976.5,441.2 976.0,418.8 975.5,418.5 975.0,417.9 974.5,383.3 974.0,378.7 973.5,332.6 973.0,332.4 972.5,332.0 972.0,331.4 971.5,328.8 971.0,328.2 970.5,318.9 970.0,383.8 969.5,384.5 969.0,384.9 968.5,385.1 968.0,385.2 967.5,385.2 967.0,385.1 966.5,384.9 966.0,384.5 965.5,383.8 965.0,373.5 964.5,372.9 964.0,371.0 963.5,371.4 963.0,371.6 962.5,371.7 962.0,371.7 961.5,371.6 961.0,371.4 960.5,371.0 960.0,370.2 959.5,365.4 959.0,365.0 958.5,364.2 958.0,362.9 957.5,362.0 957.0,301.3 956.5,327.0 956.0,401.0 955.5,401.5 955.0,401.8 954.5,402.0 954.0,402.1 953.5,402.0 953.0,401.9 952.5,401.6 952.0,401.2 951.5,400.2 951.0,347.3 950.5,347.1 950.0,346.7 949.5,346.1 949.0,335.5 948.5,335.9 948.0,336.1 947.5,336.2 947.0,336.3 946.5,336.2 946.0,336.0 945.5,335.6 945.0,370.4 944.5,371.0 944.0,371.4 943.5,371.5 943.0,371.6 942.5,371.6 942.0,371.5 941.5,371.2 941.0,370.8 940.5,370.0 940.0,367.2 939.5,367.7 939.0,368.0 938.5,368.1 938.0,368.2 937.5,368.1 937.0,367.9 936.5,367.9 936.0,367.8 935.5,367.6 935.0,367.3 934.5,366.8 934.0,393.9 933.5,394.8 933.0,395.3 932.5,395.5 932.0,395.7 931.5,395.7 931.0,395.6 930.5,395.4 930.0,395.1 929.5,394.5 929.0,341.8 928.5,341.9 928.0,347.8 927.5,348.6 927.0,349.0 926.5,386.6 926.0,387.2 925.5,387.5 925.0,388.2 924.5,388.8 924.0,389.1 923.5,389.3 923.0,389.3 922.5,392.3 922.0,401.2 921.5,417.6 921.0,418.6 920.5,426.6 920.0,427.2 919.5,427.5 919.0,427.6 918.5,427.7 918.0,427.7 917.5,427.5 917.0,427.3 916.5,432.6 916.0,433.1 915.5,433.4 915.0,433.6 914.5,433.7 914.0,433.6 913.5,440.0 913.0,440.6 912.5,441.0 912.0,441.2 911.5,441.3 911.0,441.2 910.5,441.1 910.0,463.5 909.5,464.3 909.0,464.7 908.5,464.9 908.0,465.1 907.5,465.1 907.0,465.0 906.5,464.8 906.0,464.4 905.5,463.8 905.0,407.3 904.5,407.7 904.0,408.0 903.5,408.2 903.0,408.2 902.5,408.2 902.0,426.2 901.5,426.9 901.0,427.2 900.5,427.4 900.0,427.5 899.5,483.7 899.0,502.9 898.5,503.5 898.0,503.8 897.5,504.0 897.0,504.1 896.5,504.0 896.0,503.9 895.5,503.6 895.0,503.2 894.5,502.2 894.0,476.1 893.5,475.8 893.0,475.3 892.5,474.1 892.0,472.5 891.5,472.3 891.0,471.8 890.5,470.9 890.0,523.4 889.5,524.1 889.0,524.5 888.5,552.2 888.0,552.7 887.5,553.0 887.0,553.2 886.5,589.2 886.0,590.0 885.5,590.4 885.0,590.6 884.5,590.7 884.0,590.8 883.5,591.0 883.0,591.0 882.5,590.8 882.0,590.6 881.5,590.2 881.0,589.5 880.5,527.8 880.0,527.5 879.5,527.1 879.0,526.3 878.5,522.7 878.0,522.6 877.5,522.3 877.0,521.7 876.5,516.4 876.0,533.1 875.5,533.6 875.0,533.9 874.5,534.1 874.0,534.2 873.5,534.1 873.0,534.0 872.5,533.7 872.0,533.2 871.5,532.2 871.0,477.3 870.5,477.7 870.0,478.0 869.5,478.1 869.0,478.1 868.5,478.0 868.0,477.9 867.5,477.5 867.0,477.0 866.5,443.9 866.0,466.2 865.5,466.7 865.0,467.0 864.5,467.2 864.0,467.2 863.5,467.2 863.0,467.5 862.5,467.9 862.0,468.2 861.5,468.4 861.0,468.5 860.5,468.4 860.0,468.3 859.5,468.0 859.0,467.5 858.5,466.6 858.0,437.7 857.5,448.5 857.0,449.1 856.5,449.4 856.0,449.5 855.5,449.6 855.0,449.6 854.5,449.4 854.0,449.1 853.5,448.6 853.0,447.5 852.5,438.0 852.0,437.7 851.5,457.2 851.0,458.0 850.5,458.4 850.0,458.6 849.5,504.0 849.0,504.9 848.5,511.1 848.0,511.9 847.5,512.3 847.0,512.6 846.5,512.7 846.0,512.7 845.5,512.6 845.0,512.4 844.5,512.1 844.0,512.2 843.5,512.7 843.0,513.0 842.5,513.2 842.0,513.3 841.5,513.2 841.0,513.1 840.5,512.8 840.0,512.3 839.5,511.1 839.0,477.6 838.5,546.5 838.0,547.7 837.5,548.2 837.0,548.5 836.5,548.6 836.0,548.7 835.5,548.6 835.0,548.4 834.5,548.1 834.0,547.6 833.5,512.7 833.0,513.0 832.5,513.4 832.0,514.4 831.5,514.9 831.0,515.1 830.5,515.3 830.0,515.3 829.5,515.2 829.0,524.7 828.5,525.3 828.0,525.7 827.5,525.8 827.0,525.9 826.5,525.9 826.0,525.8 825.5,525.5 825.0,525.1 824.5,524.2 824.0,472.2 823.5,471.9 823.0,471.4 822.5,470.4 822.0,450.9 821.5,450.3 821.0,435.9 820.5,447.6 820.0,448.4 819.5,448.8 819.0,449.0 818.5,449.1 818.0,454.4 817.5,456.9 817.0,477.7 816.5,478.2 816.0,478.5 815.5,478.7 815.0,478.8 814.5,505.4 814.0,506.3 813.5,547.8 813.0,548.4 812.5,548.7 812.0,548.8 811.5,548.9 811.0,548.9 810.5,548.7 810.0,548.4 809.5,548.0 809.0,546.9 808.5,534.8 808.0,533.0 807.5,533.2 807.0,533.2 806.5,533.1 806.0,532.9 805.5,532.6 805.0,532.0 804.5,516.2 804.0,516.9 803.5,517.2 803.0,517.5 802.5,517.5 802.0,517.5 801.5,517.4 801.0,517.2 800.5,516.8 800.0,516.0 799.5,459.9 799.0,460.1 798.5,460.2 798.0,460.1 797.5,460.0 797.0,459.7 796.5,459.2 796.0,458.2 795.5,431.0 795.0,430.9 794.5,430.6 794.0,430.0 793.5,427.6 793.0,426.7 792.5,417.0 792.0,417.4 791.5,418.1 791.0,418.5 790.5,418.7 790.0,418.8 789.5,418.8 789.0,418.7 788.5,419.7 788.0,420.4 787.5,420.8 787.0,421.0 786.5,421.1 786.0,424.6 785.5,425.1 785.0,491.7 784.5,492.5 784.0,492.9 783.5,493.1 783.0,493.2 782.5,493.2 782.0,493.2 781.5,492.9 781.0,492.6 780.5,491.9 780.0,476.4 779.5,476.2 779.0,475.9 778.5,475.5 778.0,474.4 777.5,454.0 777.0,453.5 776.5,452.7 776.0,431.8 775.5,432.0 775.0,432.0 774.5,431.9 774.0,441.2 773.5,442.0 773.0,442.5 772.5,442.7 772.0,442.9 771.5,442.9 771.0,442.8 770.5,442.6 770.0,442.3 769.5,441.7 769.0,431.4 768.5,430.6 768.0,420.3 767.5,430.5 767.0,460.1 766.5,460.8 766.0,461.2 765.5,461.4 765.0,465.0 764.5,465.6 764.0,466.0 763.5,466.2 763.0,470.1 762.5,470.8 762.0,551.2 761.5,551.7 761.0,552.0 760.5,552.2 760.0,552.3 759.5,552.3 759.0,552.1 758.5,551.9 758.0,551.4 757.5,550.5 757.0,471.8 756.5,472.0 756.0,472.2 755.5,472.2 755.0,489.6 754.5,490.4 754.0,490.9 753.5,491.1 753.0,497.2 752.5,498.2 752.0,498.7 751.5,499.0 751.0,499.1 750.5,499.1 750.0,499.1 749.5,549.5 749.0,550.2 748.5,550.6 748.0,550.8 747.5,550.9 747.0,551.0 746.5,550.9 746.0,550.7 745.5,550.3 745.0,549.6 744.5,465.4 744.0,465.2 743.5,464.8 743.0,464.1 742.5,451.7 742.0,451.8 741.5,451.9 741.0,451.9 740.5,476.2 740.0,476.8 739.5,480.9 739.0,481.4 738.5,481.7 738.0,481.9 737.5,482.0 737.0,482.0 736.5,481.8 736.0,481.6 735.5,481.1 735.0,511.7 734.5,512.4 734.0,512.8 733.5,513.0 733.0,513.1 732.5,513.1 732.0,513.0 731.5,512.8 731.0,512.4 730.5,511.7 730.0,510.7 729.5,510.6 729.0,510.4 728.5,510.0 728.0,509.4 727.5,501.4 727.0,502.1 726.5,529.1 726.0,530.1 725.5,530.5 725.0,530.8 724.5,531.0 724.0,531.0 723.5,530.9 723.0,530.8 722.5,530.4 722.0,529.9 721.5,516.7 721.0,486.9 720.5,487.8 720.0,488.3 719.5,488.5 719.0,488.7 718.5,488.7 718.0,488.6 717.5,488.4 717.0,488.1 716.5,487.5 716.0,483.7 715.5,467.9 715.0,466.6 714.5,451.6 714.0,451.8 713.5,452.0 713.0,478.3 712.5,479.3 712.0,479.8 711.5,480.0 711.0,481.9 710.5,482.7 710.0,483.1 709.5,483.4 709.0,485.0 708.5,486.0 708.0,486.6 707.5,544.4 707.0,544.9 706.5,545.2 706.0,545.4 705.5,545.5 705.0,545.4 704.5,545.3 704.0,545.0 703.5,544.5 703.0,543.5 702.5,496.8 702.0,496.8 701.5,496.7 701.0,496.6 700.5,496.3 700.0,495.7 699.5,485.8 699.0,469.8 698.5,470.0 698.0,470.2 697.5,470.2 697.0,470.1 696.5,470.0 696.0,469.7 695.5,469.1 695.0,452.7 694.5,452.2 694.0,451.4 693.5,451.2 693.0,450.8 692.5,450.0 692.0,425.0 691.5,431.4 691.0,432.5 690.5,433.0 690.0,438.8 689.5,439.3 689.0,451.8 688.5,482.2 688.0,482.8 687.5,483.1 687.0,483.3 686.5,483.4 686.0,483.4 685.5,483.3 685.0,483.0 684.5,482.6 684.0,481.8 683.5,473.3 683.0,473.3 682.5,473.2 682.0,473.0 681.5,472.6 681.0,471.8 680.5,455.0 680.0,455.2 679.5,472.4 679.0,479.7 678.5,480.8 678.0,481.3 677.5,481.6 677.0,481.7 676.5,481.8 676.0,481.7 675.5,481.6 675.0,481.3 674.5,480.8 674.0,512.2 673.5,515.8 673.0,516.8 672.5,517.3 672.0,517.5 671.5,517.7 671.0,517.7 670.5,517.7 670.0,517.5 669.5,517.2 669.0,516.6 668.5,490.5 668.0,490.2 667.5,489.8 667.0,489.1 666.5,508.1 666.0,562.3 665.5,562.8 665.0,563.1 664.5,563.3 664.0,563.3 663.5,563.3 663.0,563.1 662.5,562.8 662.0,562.3 661.5,560.9 661.0,517.8 660.5,518.2 660.0,518.4 659.5,518.5 659.0,518.5 658.5,518.3 658.0,518.1 657.5,517.7 657.0,516.9 656.5,543.3 656.0,544.4 655.5,544.9 655.0,545.2 654.5,545.3 654.0,545.4 653.5,545.3 653.0,545.1 652.5,544.8 652.0,544.3 651.5,494.3 651.0,494.0 650.5,493.5 650.0,476.4 649.5,476.5 649.0,476.5 648.5,476.4 648.0,482.2 647.5,483.3 647.0,483.8 646.5,484.1 646.0,484.2 645.5,484.3 645.0,484.2 644.5,484.1 644.0,483.8 643.5,483.3 643.0,456.8 642.5,450.6 642.0,477.8 641.5,487.0 641.0,487.6 640.5,487.9 640.0,488.1 639.5,488.1 639.0,488.1 638.5,488.0 638.0,487.7 637.5,487.2 637.0,486.3 636.5,445.8 636.0,446.4 635.5,451.7 635.0,457.3 634.5,457.8 634.0,458.1 633.5,458.2 633.0,458.3 632.5,466.3 632.0,466.8 631.5,467.1 631.0,467.3 630.5,467.4 630.0,467.3 629.5,467.2 629.0,466.9 628.5,466.4 628.0,465.4 627.5,439.8 627.0,439.5 626.5,438.9 626.0,434.8 625.5,434.2 625.0,416.3 624.5,416.4 624.0,416.7 623.5,417.2 623.0,417.4 622.5,417.6 622.0,417.6 621.5,417.5 621.0,417.4 620.5,417.1 620.0,416.5 619.5,408.2 619.0,404.9 618.5,405.5 618.0,405.9 617.5,406.1 617.0,406.2 616.5,406.2 616.0,406.1 615.5,431.8 615.0,432.4 614.5,473.6 614.0,474.1 613.5,474.5 613.0,474.6 612.5,474.7 612.0,474.7 611.5,474.5 611.0,474.2 610.5,473.8 610.0,472.7 609.5,418.6 609.0,421.3 608.5,438.0 608.0,491.6 607.5,492.4 607.0,492.8 606.5,493.0 606.0,493.1 605.5,493.2 605.0,493.1 604.5,492.9 604.0,492.5 603.5,491.9 603.0,471.3 602.5,471.0 602.0,470.4 601.5,465.1 601.0,491.3 600.5,492.0 600.0,492.3 599.5,507.8 599.0,508.4 598.5,508.8 598.0,509.0 597.5,509.0 597.0,509.0 596.5,508.9 596.0,508.7 595.5,508.2 595.0,507.4 594.5,497.1 594.0,496.7 593.5,496.0 593.0,452.7 592.5,452.8 592.0,452.8 591.5,462.0 591.0,462.8 590.5,463.2 590.0,465.7 589.5,471.1 589.0,477.6 588.5,510.6 588.0,511.3 587.5,511.7 587.0,511.9 586.5,512.0 586.0,512.0 585.5,511.9 585.0,511.7 584.5,546.9 584.0,547.9 583.5,548.4 583.0,548.6 582.5,548.8 582.0,548.8 581.5,548.7 581.0,548.6 580.5,548.3 580.0,547.7 579.5,504.0 579.0,503.8 578.5,503.4 578.0,502.8 577.5,520.2 577.0,520.8 576.5,521.1 576.0,521.3 575.5,521.4 575.0,521.4 574.5,521.3 574.0,521.0 573.5,520.6 573.0,519.8 572.5,485.4 572.0,485.3 571.5,485.1 571.0,484.7 570.5,484.0 570.0,459.8 569.5,460.0 569.0,460.0 568.5,459.9 568.0,459.8 567.5,459.4 567.0,458.9 566.5,444.5 566.0,508.9 565.5,509.6 565.0,509.9 564.5,510.1 564.0,510.2 563.5,510.2 563.0,510.1 562.5,509.9 562.0,509.5 561.5,508.8 561.0,479.0 560.5,479.5 560.0,479.8 559.5,527.7 559.0,528.5 558.5,528.9 558.0,534.8 557.5,535.4 557.0,535.7 556.5,535.9 556.0,536.0 555.5,558.0 555.0,558.8 554.5,559.3 554.0,559.9 553.5,560.4 553.0,560.6 552.5,560.8 552.0,560.8 551.5,560.8 551.0,560.6 550.5,560.3 550.0,559.8 549.5,554.8 549.0,554.9 548.5,554.9 548.0,554.7 547.5,554.5 547.0,554.1 546.5,553.3 546.0,507.3 545.5,507.1 545.0,513.9 544.5,514.9 544.0,515.3 543.5,515.6 543.0,515.8 542.5,524.5 542.0,525.1 541.5,525.5 541.0,525.7 540.5,525.8 540.0,525.7 539.5,525.6 539.0,525.4 538.5,525.0 538.0,524.2 537.5,456.6 537.0,456.1 536.5,443.7 536.0,443.4 535.5,442.9 535.0,439.6 534.5,439.7 534.0,439.8 533.5,439.7 533.0,439.4 532.5,448.0 532.0,448.7 531.5,450.5 531.0,451.0 530.5,451.4 530.0,451.5 529.5,480.9 529.0,481.8 528.5,519.6 528.0,520.8 527.5,521.3 527.0,582.7 526.5,583.3 526.0,583.6 525.5,583.8 525.0,583.8 524.5,583.8 524.0,583.7 523.5,583.4 523.0,583.0 522.5,582.1 522.0,545.1 521.5,541.9 521.0,542.1 520.5,542.2 520.0,542.2 519.5,542.0 519.0,541.8 518.5,555.6 518.0,556.1 517.5,556.5 517.0,556.6 516.5,556.7 516.0,556.7 515.5,556.6 515.0,556.3 514.5,555.9 514.0,555.0 513.5,494.9 513.0,542.5 512.5,543.1 512.0,543.5 511.5,543.7 511.0,543.8 510.5,543.8 510.0,543.7 509.5,543.5 509.0,543.1 508.5,542.4 508.0,493.2 507.5,493.0 507.0,492.7 506.5,492.2 506.0,483.5 505.5,483.5 505.0,483.3 504.5,483.1 504.0,482.6 503.5,481.5 503.0,528.6 502.5,529.4 502.0,529.8 501.5,530.1 501.0,530.2 500.5,530.2 500.0,530.1 499.5,529.9 499.0,529.6 498.5,529.0 498.0,506.3 497.5,506.4 497.0,506.5 496.5,506.5 496.0,506.3 495.5,506.0 495.0,505.6 494.5,504.5 494.0,486.2 493.5,535.0 493.0,535.6 492.5,536.0 492.0,536.2 491.5,536.3 491.0,536.2 490.5,536.1 490.0,535.9 489.5,535.5 489.0,534.7 488.5,508.7 488.0,507.8 487.5,498.6 487.0,498.7 486.5,516.0 486.0,517.0 485.5,517.4 485.0,517.7 484.5,517.8 484.0,517.8 483.5,517.8 483.0,517.6 482.5,517.3 482.0,516.7 481.5,458.7 481.0,458.9 480.5,459.0 480.0,458.9 479.5,458.8 479.0,458.6 478.5,458.1 478.0,472.6 477.5,506.6 477.0,507.5 476.5,508.0 476.0,508.2 475.5,508.4 475.0,508.4 474.5,508.3 474.0,508.1 473.5,507.8 473.0,507.2 472.5,468.1 472.0,468.2 471.5,468.1 471.0,468.0 470.5,467.6 470.0,467.2 469.5,467.0 469.0,466.8 468.5,466.3 468.0,465.2 467.5,446.8 467.0,440.3 466.5,432.3 466.0,432.2 465.5,432.1 465.0,456.8 464.5,514.2 464.0,514.9 463.5,515.3 463.0,515.5 462.5,515.6 462.0,515.6 461.5,515.5 461.0,515.3 460.5,514.9 460.0,514.2 459.5,505.2 459.0,505.7 458.5,505.9 458.0,506.1 457.5,506.1 457.0,506.0 456.5,505.8 456.0,505.5 455.5,505.0 455.0,497.5 454.5,497.3 454.0,496.9 453.5,496.3 453.0,428.8 452.5,428.8 452.0,428.6 451.5,428.3 451.0,427.7 450.5,420.8 450.0,476.7 449.5,477.3 449.0,477.7 448.5,477.9 448.0,478.0 447.5,477.9 447.0,477.8 446.5,477.6 446.0,477.2 445.5,476.5 445.0,433.6 444.5,492.5 444.0,493.7 443.5,494.2 443.0,495.0 442.5,495.6 442.0,495.9 441.5,496.1 441.0,496.2 440.5,496.1 440.0,496.0 439.5,495.7 439.0,495.3 438.5,494.4 438.0,454.4 437.5,453.9 437.0,442.3 436.5,441.9 436.0,463.8 435.5,514.1 435.0,514.8 434.5,515.3 434.0,515.5 433.5,515.6 433.0,515.6 432.5,515.5 432.0,515.3 431.5,515.0 431.0,514.4 430.5,510.1 430.0,509.9 429.5,509.6 429.0,509.0 428.5,528.4 428.0,529.1 427.5,529.5 427.0,529.7 426.5,529.8 426.0,529.8 425.5,529.7 425.0,529.4 424.5,529.0 424.0,532.5 423.5,533.0 423.0,533.3 422.5,533.5 422.0,533.5 421.5,533.5 421.0,550.7 420.5,551.8 420.0,552.2 419.5,552.5 419.0,552.6 418.5,552.7 418.0,552.6 417.5,552.4 417.0,552.1 416.5,551.6 416.0,456.9 415.5,456.0 415.0,439.9 414.5,440.1 414.0,440.1 413.5,440.0 413.0,439.9 412.5,456.5 412.0,457.2 411.5,461.8 411.0,482.7 410.5,483.2 410.0,498.2 409.5,498.8 409.0,505.1 408.5,563.8 408.0,579.9 407.5,580.9 407.0,581.4 406.5,581.7 406.0,581.8 405.5,581.9 405.0,581.8 404.5,581.6 404.0,581.3 403.5,580.8 403.0,511.7 402.5,505.6 402.0,506.2 401.5,506.5 401.0,536.7 400.5,537.2 400.0,537.5 399.5,537.7 399.0,537.8 398.5,537.7 398.0,547.6 397.5,573.8 397.0,574.7 396.5,575.2 396.0,575.4 395.5,575.5 395.0,575.6 394.5,575.5 394.0,575.3 393.5,575.0 393.0,574.4 392.5,573.2 392.0,528.0 391.5,527.4 391.0,494.0 390.5,493.7 390.0,493.1 389.5,482.3 389.0,482.2 388.5,482.1 388.0,481.8 387.5,481.3 387.0,480.0 386.5,452.1 386.0,456.5 385.5,457.6 385.0,458.1 384.5,458.4 384.0,458.6 383.5,458.8 383.0,458.8 382.5,529.9 382.0,531.2 381.5,531.7 381.0,531.9 380.5,532.1 380.0,532.1 379.5,532.1 379.0,531.9 378.5,531.6 378.0,531.1 377.5,484.3 377.0,515.5 376.5,516.6 376.0,517.0 375.5,517.3 375.0,530.1 374.5,547.5 374.0,548.3 373.5,548.7 373.0,549.0 372.5,549.1 372.0,549.1 371.5,550.6 371.0,551.5 370.5,552.0 370.0,552.3 369.5,552.4 369.0,552.4 368.5,552.4 368.0,552.2 367.5,551.9 367.0,551.3 366.5,542.2 366.0,542.3 365.5,542.3 365.0,542.2 364.5,541.9 364.0,541.5 363.5,540.6 363.0,536.0 362.5,535.8 362.0,535.4 361.5,537.3 361.0,537.9 360.5,538.3 360.0,538.5 359.5,538.6 359.0,538.6 358.5,538.5 358.0,538.3 357.5,537.9 357.0,537.1 356.5,532.6 356.0,560.5 355.5,561.3 355.0,561.7 354.5,561.9 354.0,565.7 353.5,566.6 353.0,567.1 352.5,567.4 352.0,567.5 351.5,567.5 351.0,567.5 350.5,567.3 350.0,567.0 349.5,566.4 349.0,555.6 348.5,555.5 348.0,555.2 347.5,554.7 347.0,553.3 346.5,535.5 346.0,513.6 345.5,526.1 345.0,526.7 344.5,541.6 344.0,577.6 343.5,578.4 343.0,578.9 342.5,579.1 342.0,579.3 341.5,617.0 341.0,617.6 340.5,618.0 340.0,618.1 339.5,618.2 339.0,618.2 338.5,618.1 338.0,617.8 337.5,617.4 337.0,616.5 336.5,607.8 336.0,607.9 335.5,608.0 335.0,607.9 334.5,607.7 334.0,607.4 333.5,606.9 333.0,605.6 332.5,605.7 332.0,605.7 331.5,605.5 331.0,605.3 330.5,604.9 330.0,604.1 329.5,582.3 329.0,582.0 328.5,581.5 328.0,579.2 327.5,579.1 327.0,579.0 326.5,578.7 326.0,578.2 325.5,577.0 325.0,538.6 324.5,538.7 324.0,538.8 323.5,538.7 323.0,538.5 322.5,597.3 322.0,599.0 321.5,599.6 321.0,599.9 320.5,600.1 320.0,600.1 319.5,600.1 319.0,629.3 318.5,630.0 318.0,630.4 317.5,630.7 317.0,630.8 316.5,630.8 316.0,630.7 315.5,630.5 315.0,630.1 314.5,629.4 314.0,648.3 313.5,649.2 313.0,649.7 312.5,655.9 312.0,693.0 311.5,693.5 311.0,693.8 310.5,693.9 310.0,694.0 309.5,694.0 309.0,693.8 308.5,693.5 308.0,693.0 307.5,691.8 307.0,610.0 306.5,592.3 306.0,566.7 305.5,566.5 305.0,566.1 304.5,565.4 304.0,557.5 303.5,591.9 303.0,605.7 302.5,606.2 302.0,606.5 301.5,619.2 301.0,620.3 300.5,620.7 300.0,621.0 299.5,621.1 299.0,621.2 298.5,621.1 298.0,620.9 297.5,620.6 297.0,620.1 296.5,589.3 296.0,600.5 295.5,601.5 295.0,601.9 294.5,602.2 294.0,612.8 293.5,613.4 293.0,613.8 292.5,614.0 292.0,617.2 291.5,617.9 291.0,618.3 290.5,618.5 290.0,618.6 289.5,618.6 289.0,618.5 288.5,618.3 288.0,617.9 287.5,629.2 287.0,630.1 286.5,630.6 286.0,630.8 285.5,631.0 285.0,631.0 284.5,632.9 284.0,633.5 283.5,633.8 283.0,634.0 282.5,634.1 282.0,634.1 281.5,634.0 281.0,633.7 280.5,633.3 280.0,632.5 279.5,630.2 279.0,629.9 278.5,629.3 278.0,619.4 277.5,576.2 277.0,590.6 276.5,591.1 276.0,591.4 275.5,591.6 275.0,615.1 274.5,616.2 274.0,616.6 273.5,616.9 273.0,617.0 272.5,617.1 272.0,617.0 271.5,616.8 271.0,616.5 270.5,616.0 270.0,571.0 269.5,571.0 269.0,571.0 268.5,570.8 268.0,570.5 267.5,570.0 267.0,529.9 266.5,530.2 266.0,530.4 265.5,530.5 265.0,530.5 264.5,530.4 264.0,593.9 263.5,594.4 263.0,594.7 262.5,598.6 262.0,599.2 261.5,599.6 261.0,599.8 260.5,599.8 260.0,599.8 259.5,599.7 259.0,599.5 258.5,599.0 258.0,598.2 257.5,595.6 257.0,595.8 256.5,595.9 256.0,595.9 255.5,595.7 255.0,595.5 254.5,595.1 254.0,600.6 253.5,601.8 253.0,602.3 252.5,602.6 252.0,602.7 251.5,602.8 251.0,602.7 250.5,602.6 250.0,602.4 249.5,602.5 249.0,602.6 248.5,602.5 248.0,602.3 247.5,602.0 247.0,601.4 246.5,580.2 246.0,580.3 245.5,616.7 245.0,617.3 244.5,617.7 244.0,617.9 243.5,617.9 243.0,617.9 242.5,617.8 242.0,617.6 241.5,643.0 241.0,646.3 240.5,646.8 240.0,647.1 239.5,647.2 239.0,647.3 238.5,647.3 238.0,647.1 237.5,646.8 237.0,646.3 236.5,645.1 236.0,602.4 235.5,601.8 235.0,567.5 234.5,553.1 234.0,573.8 233.5,574.4 233.0,574.7 232.5,574.9 232.0,574.9 231.5,574.9 231.0,574.8 230.5,574.5 230.0,574.0 229.5,647.1 229.0,647.8 228.5,648.2 228.0,648.4 227.5,648.5 227.0,648.5 226.5,648.4 226.0,648.2 225.5,647.8 225.0,647.1 224.5,621.1 224.0,621.5 223.5,621.7 223.0,621.8 222.5,621.8 222.0,621.7 221.5,621.4 221.0,621.1 220.5,620.4 220.0,578.7 219.5,577.9 219.0,569.9 218.5,569.7 218.0,569.4 217.5,568.7 217.0,536.6 216.5,536.4 216.0,536.4 215.5,539.2 215.0,539.7 214.5,540.1 214.0,540.2 213.5,540.3 213.0,540.2 212.5,540.1 212.0,560.2 211.5,592.1 211.0,609.8 210.5,630.0 210.0,661.5 209.5,662.0 209.0,662.3 208.5,662.4 208.0,662.5 207.5,662.5 207.0,662.3 206.5,662.0 206.0,661.5 205.5,660.3 205.0,605.9 204.5,582.1 204.0,582.0 203.5,582.1 203.0,582.0 202.5,581.9 202.0,581.6 201.5,590.2 201.0,590.7 200.5,591.0 200.0,591.2 199.5,591.2 199.0,591.2 198.5,591.0 198.0,590.8 197.5,590.3 197.0,589.1 196.5,576.0 196.0,577.3 195.5,577.7 195.0,578.0 194.5,578.2 194.0,585.2 193.5,585.9 193.0,622.8 192.5,623.4 192.0,623.8 191.5,624.0 191.0,624.1 190.5,624.1 190.0,623.9 189.5,623.7 189.0,623.3 188.5,628.9 188.0,629.8 187.5,630.2 187.0,635.8 186.5,636.4 186.0,636.8 185.5,636.9 185.0,637.0 184.5,637.0 184.0,636.9 183.5,637.0 183.0,637.1 182.5,637.1 182.0,637.1 181.5,636.9 181.0,636.6" fill="#1E3AFF"/>
<polygon points="181.0,336.2 181.5,336.0 182.0,335.9 182.5,335.9 183.0,336.0 183.5,336.2 184.0,336.6 184.5,337.2 185.0,359.8 185.5,359.8 186.0,360.0 186.5,360.2 187.0,360.6 187.5,361.4 188.0,387.8 188.5,387.9 189.0,388.0 189.5,388.3 190.0,388.7 190.5,389.8 191.0,396.7 191.5,396.9 192.0,397.4 192.5,398.2 193.0,435.4 193.5,435.7 194.0,436.2 194.5,428.6 195.0,427.6 195.5,427.1 196.0,426.8 196.5,426.6 197.0,426.5 197.5,426.6 198.0,426.7 198.5,427.0 199.0,427.5 199.5,428.5 200.0,459.5 200.5,459.9 201.0,460.7 201.5,468.5 202.0,468.5 202.5,463.7 203.0,463.1 203.5,462.8 204.0,462.6 204.5,462.5 205.0,462.6 205.5,462.7 206.0,463.0 206.5,463.4 207.0,464.3 207.5,478.3 208.0,477.9 208.5,477.2 209.0,476.9 209.5,476.7 210.0,476.6 210.5,476.6 211.0,476.7 211.5,476.9 212.0,477.3 212.5,478.0 213.0,480.0 213.5,479.6 214.0,479.4 214.5,479.3 215.0,479.3 215.5,479.4 216.0,468.6 216.5,464.7 217.0,463.8 217.5,463.4 218.0,463.1 218.5,462.9 219.0,462.9 219.5,463.0 220.0,463.2 220.5,458.7 221.0,458.1 221.5,457.8 222.0,436.4 222.5,435.8 223.0,435.4 223.5,435.2 224.0,435.1 224.5,435.1 225.0,435.2 225.5,435.5 226.0,435.9 226.5,348.3 227.0,347.4 227.5,347.0 228.0,346.7 228.5,346.6 229.0,346.6 229.5,346.6 230.0,346.8 230.5,347.2 231.0,347.8 231.5,382.8 232.0,392.1 232.5,391.5 233.0,391.1 233.5,391.0 234.0,390.9 234.5,390.6 235.0,388.3 235.5,387.4 236.0,387.0 236.5,386.8 237.0,351.2 237.5,350.6 238.0,350.2 238.5,350.0 239.0,350.0 239.5,350.0 240.0,350.1 240.5,350.4 241.0,350.8 241.5,351.6 242.0,386.1 242.5,385.0 243.0,384.5 243.5,384.3 244.0,384.1 244.5,384.1 245.0,384.1 245.5,376.0 246.0,375.2 246.5,374.8 247.0,374.6 247.5,374.5 248.0,374.5 248.5,374.6 249.0,374.8 249.5,373.9 250.0,373.4 250.5,373.1 251.0,372.9 251.5,319.5 252.0,318.8 252.5,318.4 253.0,318.2 253.5,318.1 254.0,318.1 254.5,318.2 255.0,318.4 255.5,318.8 256.0,316.4 256.5,315.4 257.0,314.9 257.5,314.7 258.0,314.5 258.5,314.5 259.0,314.6 259.5,314.7 260.0,315.1 260.5,315.6 261.0,360.6 261.5,370.5 262.0,370.5 262.5,370.6 263.0,370.7 263.5,371.0 264.0,371.6 264.5,408.2 265.0,408.4 265.5,408.7 266.0,409.1 266.5,410.2 267.0,448.1 267.5,447.9 268.0,440.8 268.5,439.6 269.0,439.1 269.5,438.9 270.0,407.7 270.5,406.7 271.0,406.3 271.5,406.0 272.0,405.9 272.5,405.9 273.0,398.8 273.5,363.4 274.0,362.8 274.5,354.2 275.0,353.5 275.5,353.1 276.0,352.9 276.5,352.8 277.0,352.8 277.5,352.9 278.0,353.1 278.5,346.4 279.0,345.8 279.5,345.5 280.0,345.3 280.5,345.2 281.0,345.3 281.5,345.4 282.0,345.7 282.5,346.1 283.0,347.1 283.5,359.3 284.0,360.4 284.5,366.3 285.0,366.3 285.5,366.4 286.0,366.6 286.5,367.0 287.0,367.7 287.5,389.6 288.0,389.4 288.5,389.3 289.0,356.2 289.5,355.4 290.0,355.0 290.5,347.5 291.0,346.9 291.5,346.6 292.0,346.4 292.5,346.3 293.0,346.3 293.5,346.4 294.0,338.5 294.5,338.0 295.0,337.7 295.5,337.6 296.0,337.5 296.5,337.6 297.0,337.7 297.5,338.0 298.0,338.5 298.5,339.8 299.0,396.2 299.5,409.4 300.0,393.5 300.5,392.9 301.0,392.6 301.5,392.4 302.0,368.7 302.5,367.9 303.0,367.4 303.5,367.2 304.0,367.1 304.5,358.6 305.0,357.6 305.5,357.1 306.0,356.8 306.5,356.7 307.0,356.7 307.5,356.7 308.0,356.9 308.5,357.2 309.0,357.8 309.5,363.0 310.0,362.7 310.5,362.4 311.0,362.3 311.5,362.3 312.0,362.4 312.5,362.6 313.0,363.0 313.5,363.7 314.0,388.5 314.5,290.8 315.0,289.9 315.5,289.5 316.0,289.2 316.5,289.1 317.0,289.0 317.5,289.1 318.0,289.3 318.5,289.6 319.0,290.2 319.5,297.0 320.0,297.0 320.5,297.2 321.0,297.4 321.5,297.8 322.0,298.7 322.5,315.0 323.0,314.8 323.5,314.7 324.0,314.8 324.5,314.9 325.0,300.8 325.5,299.5 326.0,299.0 326.5,298.7 327.0,298.5 327.5,298.5 328.0,298.5 328.5,298.7 329.0,295.3 329.5,281.2 330.0,280.0 330.5,258.9 331.0,258.2 331.5,257.8 332.0,257.5 332.5,257.4 333.0,257.4 333.5,257.5 334.0,257.7 334.5,258.1 335.0,258.7 335.5,259.8 336.0,259.6 336.5,218.1 337.0,212.9 337.5,212.0 338.0,211.6 338.5,211.3 339.0,211.2 339.5,211.2 340.0,211.2 340.5,206.0 341.0,205.1 341.5,204.6 342.0,197.5 342.5,197.0 343.0,196.7 343.5,196.6 344.0,196.5 344.5,196.5 345.0,196.7 345.5,197.0 346.0,197.5 346.5,198.6 347.0,245.2 347.5,245.0 348.0,245.0 348.5,245.1 349.0,245.3 349.5,245.6 350.0,246.2 350.5,247.7 351.0,247.6 351.5,247.7 352.0,248.0 352.5,248.3 353.0,249.0 353.5,261.0 354.0,261.3 354.5,261.8 355.0,262.8 355.5,319.4 356.0,319.1 356.5,315.9 357.0,315.1 357.5,314.7 358.0,296.7 358.5,296.0 359.0,295.6 359.5,295.4 360.0,295.3 360.5,262.4 361.0,261.6 361.5,261.2 362.0,260.9 362.5,260.8 363.0,260.8 363.5,260.9 364.0,261.1 364.5,261.4 365.0,262.0 365.5,265.9 366.0,265.9 366.5,266.1 367.0,266.4 367.5,266.8 368.0,267.9 368.5,281.8 369.0,281.9 369.5,282.0 370.0,282.3 370.5,274.1 371.0,273.4 371.5,266.1 372.0,265.6 372.5,265.2 373.0,265.1 373.5,265.0 374.0,265.0 374.5,265.2 375.0,265.4 375.5,265.9 376.0,266.8 376.5,285.0 377.0,270.8 377.5,270.2 378.0,269.9 378.5,269.8 379.0,269.7 379.5,255.5 380.0,254.7 380.5,254.3 381.0,254.1 381.5,254.0 382.0,254.0 382.5,254.1 383.0,254.3 383.5,254.7 384.0,255.3 384.5,270.4 385.0,273.2 385.5,268.5 386.0,268.0 386.5,267.7 387.0,256.4 387.5,255.9 388.0,255.6 388.5,246.4 389.0,245.8 389.5,245.5 390.0,245.3 390.5,245.3 391.0,245.3 391.5,245.4 392.0,245.7 392.5,246.1 393.0,247.0 393.5,250.3 394.0,250.3 394.5,250.3 395.0,250.5 395.5,250.8 396.0,251.3 396.5,276.1 397.0,275.7 397.5,268.4 398.0,267.9 398.5,267.5 399.0,267.4 399.5,267.3 400.0,267.3 400.5,267.4 401.0,267.7 401.5,268.1 402.0,269.0 402.5,276.6 403.0,276.4 403.5,276.2 404.0,276.2 404.5,276.3 405.0,276.5 405.5,276.9 406.0,277.6 406.5,291.5 407.0,292.0 407.5,284.2 408.0,283.3 408.5,282.6 409.0,281.9 409.5,281.6 410.0,264.1 410.5,263.3 411.0,262.9 411.5,262.7 412.0,262.6 412.5,262.6 413.0,262.6 413.5,262.9 414.0,263.2 414.5,263.9 415.0,287.6 415.5,287.7 416.0,287.8 416.5,288.0 417.0,288.4 417.5,289.2 418.0,313.9 418.5,313.5 419.0,313.2 419.5,313.1 420.0,313.1 420.5,313.2 421.0,313.4 421.5,313.7 422.0,314.3 422.5,341.5 423.0,344.8 423.5,337.3 424.0,336.2 424.5,335.7 425.0,335.4 425.5,335.3 426.0,335.2 426.5,335.3 427.0,335.5 427.5,335.8 428.0,336.3 428.5,337.4 429.0,326.9 429.5,326.2 430.0,325.8 430.5,316.3 431.0,315.5 431.5,315.0 432.0,314.8 432.5,314.7 433.0,314.6 433.5,314.7 434.0,314.9 434.5,315.2 435.0,315.8 435.5,324.5 436.0,321.3 436.5,320.8 437.0,320.5 437.5,320.4 438.0,320.3 438.5,320.4 439.0,315.8 439.5,314.9 440.0,291.1 440.5,290.3 441.0,289.8 441.5,289.6 442.0,289.5 442.5,289.5 443.0,289.5 443.5,289.7 444.0,290.1 444.5,290.7 445.0,300.6 445.5,300.7 446.0,300.9 446.5,272.3 447.0,256.5 447.5,255.9 448.0,255.6 448.5,252.3 449.0,251.5 449.5,251.1 450.0,250.8 450.5,250.7 451.0,250.7 451.5,246.4 452.0,245.7 452.5,245.4 453.0,245.1 453.5,245.0 454.0,245.0 454.5,245.1 455.0,245.4 455.5,245.7 456.0,246.4 456.5,288.7 457.0,288.3 457.5,288.1 458.0,288.0 458.5,288.0 459.0,288.1 459.5,280.9 460.0,280.2 460.5,279.8 461.0,279.6 461.5,279.5 462.0,279.5 462.5,279.6 463.0,279.8 463.5,280.2 464.0,280.8 464.5,341.8 465.0,341.7 465.5,309.5 466.0,308.8 466.5,308.5 467.0,308.3 467.5,308.2 468.0,241.5 468.5,240.9 469.0,240.6 469.5,240.4 470.0,240.3 470.5,240.4 471.0,240.5 471.5,240.7 472.0,241.2 472.5,242.0 473.0,280.4 473.5,281.0 474.0,281.0 474.5,280.3 475.0,280.0 475.5,279.7 476.0,279.6 476.5,277.0 477.0,276.2 477.5,275.8 478.0,275.6 478.5,275.5 479.0,275.5 479.5,275.6 480.0,275.8 480.5,276.1 481.0,276.8 481.5,300.8 482.0,300.6 482.5,300.6 483.0,300.6 483.5,300.8 484.0,301.1 484.5,301.6 485.0,336.0 485.5,335.9 486.0,336.0 486.5,336.1 487.0,336.4 487.5,336.9 488.0,338.0 488.5,321.8 489.0,321.2 489.5,320.9 490.0,320.6 490.5,320.6 491.0,320.6 491.5,320.7 492.0,320.9 492.5,321.3 493.0,295.7 493.5,295.2 494.0,294.9 494.5,294.7 495.0,282.3 495.5,281.3 496.0,280.8 496.5,280.5 497.0,280.4 497.5,267.2 498.0,266.7 498.5,266.4 499.0,266.2 499.5,258.8 500.0,257.0 500.5,256.5 501.0,256.2 501.5,256.0 502.0,255.9 502.5,255.9 503.0,256.1 503.5,256.4 504.0,256.8 504.5,257.8 505.0,280.1 505.5,280.1 506.0,280.2 506.5,280.5 507.0,280.9 507.5,281.7 508.0,294.6 508.5,295.0 509.0,295.5 509.5,297.2 510.0,298.0 510.5,309.6 511.0,302.9 511.5,301.6 512.0,265.3 512.5,264.2 513.0,263.7 513.5,263.4 514.0,263.3 514.5,263.2 515.0,263.3 515.5,255.0 516.0,254.4 516.5,254.1 517.0,253.9 517.5,253.8 518.0,253.8 518.5,253.9 519.0,254.1 519.5,254.6 520.0,255.4 520.5,211.3 521.0,210.7 521.5,210.3 522.0,210.1 522.5,210.1 523.0,210.1 523.5,210.2 524.0,210.5 524.5,210.5 525.0,210.7 525.5,211.0 526.0,211.6 526.5,282.0 527.0,285.8 527.5,286.2 528.0,286.8 528.5,287.7 529.0,288.1 529.5,289.0 530.0,275.4 530.5,274.7 531.0,250.1 531.5,249.4 532.0,249.0 532.5,248.8 533.0,248.7 533.5,248.7 534.0,248.8 534.5,249.0 535.0,249.4 535.5,250.1 536.0,263.6 536.5,232.7 537.0,231.9 537.5,231.4 538.0,231.2 538.5,231.1 539.0,231.0 539.5,231.1 540.0,231.3 540.5,231.6 541.0,232.2 541.5,309.3 542.0,309.4 542.5,309.6 543.0,310.0 543.5,310.6 544.0,307.5 544.5,306.9 545.0,306.6 545.5,306.4 546.0,306.4 546.5,306.4 547.0,306.5 547.5,306.8 548.0,307.2 548.5,276.4 549.0,275.7 549.5,275.3 550.0,275.1 550.5,275.0 551.0,275.0 551.5,244.3 552.0,243.5 552.5,243.1 553.0,242.9 553.5,242.8 554.0,242.7 554.5,242.8 555.0,243.0 555.5,243.4 556.0,244.0 556.5,256.5 557.0,266.6 557.5,266.5 558.0,266.5 558.5,205.1 559.0,204.3 559.5,203.8 560.0,203.6 560.5,203.4 561.0,203.4 561.5,203.5 562.0,203.7 562.5,204.0 563.0,204.6 563.5,270.7 564.0,270.4 564.5,270.3 565.0,270.3 565.5,270.5 566.0,270.7 566.5,271.1 567.0,271.8 567.5,278.1 568.0,265.8 568.5,265.1 569.0,264.8 569.5,264.6 570.0,264.5 570.5,264.5 571.0,264.6 571.5,264.8 572.0,265.2 572.5,266.0 573.0,290.2 573.5,290.5 574.0,290.8 574.5,242.3 575.0,241.3 575.5,194.1 576.0,173.6 576.5,173.1 577.0,172.7 577.5,172.6 578.0,172.5 578.5,172.5 579.0,172.7 579.5,173.0 580.0,173.4 580.5,174.4 581.0,182.3 581.5,182.2 582.0,182.2 582.5,182.3 583.0,182.5 583.5,182.9 584.0,183.5 584.5,203.3 585.0,203.4 585.5,203.6 586.0,199.3 586.5,198.6 587.0,198.3 587.5,198.1 588.0,198.0 588.5,198.0 589.0,198.1 589.5,198.4 590.0,198.8 590.5,199.5 591.0,239.3 591.5,249.4 592.0,293.9 592.5,294.1 593.0,294.4 593.5,294.7 594.0,294.4 594.5,294.2 595.0,294.2 595.5,283.8 596.0,274.2 596.5,273.6 597.0,273.3 597.5,273.1 598.0,273.0 598.5,273.0 599.0,273.1 599.5,273.4 600.0,273.8 600.5,274.7 601.0,257.1 601.5,256.4 602.0,256.0 602.5,255.8 603.0,255.7 603.5,255.7 604.0,255.8 604.5,256.0 605.0,256.3 605.5,257.0 606.0,263.8 606.5,263.4 607.0,241.5 607.5,240.9 608.0,240.6 608.5,240.5 609.0,240.4 609.5,240.4 610.0,240.6 610.5,240.8 611.0,241.3 611.5,242.3 612.0,254.8 612.5,255.3 613.0,256.6 613.5,274.5 614.0,274.4 614.5,274.4 615.0,274.6 615.5,274.9 616.0,275.3 616.5,276.4 617.0,276.8 617.5,276.7 618.0,276.8 618.5,276.9 619.0,277.2 619.5,277.6 620.0,278.6 620.5,278.8 621.0,279.1 621.5,279.6 622.0,281.0 622.5,284.0 623.0,283.9 623.5,283.9 624.0,284.0 624.5,284.2 625.0,284.6 625.5,285.4 626.0,330.2 626.5,330.1 627.0,330.2 627.5,330.4 628.0,330.7 628.5,331.3 629.0,343.0 629.5,342.7 630.0,335.6 630.5,335.0 631.0,334.7 631.5,334.6 632.0,334.5 632.5,328.0 633.0,327.3 633.5,326.9 634.0,326.7 634.5,326.5 635.0,326.5 635.5,326.6 636.0,326.9 636.5,327.2 637.0,327.9 637.5,339.5 638.0,340.0 638.5,341.1 639.0,343.1 639.5,342.8 640.0,342.7 640.5,342.6 641.0,342.7 641.5,342.9 642.0,343.2 642.5,291.9 643.0,266.6 643.5,266.0 644.0,265.6 644.5,265.4 645.0,265.3 645.5,265.3 646.0,265.4 646.5,265.6 647.0,266.0 647.5,266.8 648.0,254.3 648.5,253.7 649.0,253.3 649.5,253.1 650.0,253.0 650.5,253.1 651.0,253.2 651.5,253.4 652.0,253.8 652.5,254.6 653.0,298.2 653.5,322.8 654.0,322.2 654.5,294.2 655.0,293.2 655.5,292.7 656.0,292.5 656.5,292.3 657.0,292.3 657.5,292.4 658.0,292.5 658.5,292.8 659.0,293.4 659.5,324.5 660.0,324.8 660.5,319.6 661.0,318.9 661.5,318.5 662.0,267.1 662.5,265.9 663.0,265.4 663.5,265.1 664.0,265.0 664.5,264.9 665.0,265.0 665.5,265.2 666.0,265.5 666.5,266.0 667.0,338.0 667.5,405.1 668.0,324.5 668.5,323.9 669.0,323.6 669.5,323.4 670.0,323.4 670.5,323.4 671.0,323.5 671.5,323.8 672.0,324.2 672.5,325.1 673.0,381.2 673.5,391.9 674.0,393.4 674.5,393.7 675.0,394.3 675.5,422.1 676.0,421.9 676.5,408.4 677.0,376.0 677.5,375.4 678.0,375.1 678.5,374.9 679.0,374.8 679.5,374.9 680.0,375.0 680.5,324.4 681.0,323.3 681.5,322.8 682.0,322.5 682.5,322.4 683.0,322.4 683.5,322.4 684.0,322.6 684.5,322.9 685.0,323.4 685.5,342.5 686.0,335.5 686.5,334.6 687.0,334.1 687.5,333.8 688.0,333.7 688.5,333.7 689.0,333.7 689.5,333.9 690.0,334.2 690.5,334.8 691.0,361.6 691.5,361.9 692.0,362.5 692.5,366.4 693.0,366.5 693.5,366.8 694.0,367.1 694.5,367.8 695.0,401.9 695.5,403.1 696.0,402.8 696.5,402.6 697.0,402.6 697.5,402.6 698.0,402.7 698.5,403.0 699.0,403.5 699.5,404.4 700.0,427.4 700.5,427.6 701.0,423.5 701.5,422.7 702.0,422.2 702.5,422.0 703.0,421.9 703.5,421.8 704.0,421.9 704.5,422.1 705.0,422.5 705.5,423.1 706.0,441.7 706.5,463.0 707.0,440.4 707.5,439.7 708.0,439.3 708.5,439.0 709.0,438.9 709.5,438.9 710.0,439.0 710.5,412.7 711.0,411.4 711.5,410.9 712.0,410.6 712.5,410.5 713.0,410.4 713.5,410.5 714.0,410.6 714.5,410.9 715.0,411.4 715.5,414.7 716.0,414.9 716.5,415.3 717.0,416.0 717.5,402.0 718.0,401.3 718.5,400.9 719.0,400.7 719.5,400.6 720.0,400.6 720.5,400.7 721.0,400.9 721.5,401.3 722.0,402.0 722.5,415.6 723.0,427.0 723.5,441.4 724.0,456.7 724.5,474.5 725.0,465.7 725.5,464.9 726.0,464.6 726.5,464.3 727.0,464.2 727.5,462.5 728.0,461.7 728.5,461.3 729.0,394.2 729.5,393.4 730.0,393.0 730.5,392.8 731.0,392.7 731.5,392.7 732.0,392.7 732.5,393.0 733.0,393.3 733.5,394.0 734.0,425.4 734.5,393.6 735.0,392.6 735.5,392.2 736.0,391.9 736.5,391.7 737.0,391.7 737.5,391.8 738.0,391.9 738.5,392.3 739.0,392.8 739.5,394.1 740.0,340.4 740.5,339.7 741.0,339.4 741.5,339.1 742.0,339.0 742.5,339.0 743.0,339.2 743.5,339.4 744.0,339.8 744.5,340.5 745.0,392.4 745.5,405.9 746.0,405.9 746.5,406.1 747.0,406.3 747.5,406.8 748.0,407.7 748.5,421.1 749.0,422.1 749.5,380.1 750.0,379.2 750.5,378.8 751.0,378.5 751.5,378.4 752.0,378.4 752.5,378.5 753.0,378.7 753.5,379.0 754.0,379.6 754.5,415.8 755.0,415.6 755.5,401.5 756.0,400.4 756.5,375.3 757.0,374.7 757.5,374.4 758.0,374.2 758.5,374.1 759.0,374.1 759.5,374.3 760.0,374.5 760.5,375.0 761.0,375.9 761.5,405.7 762.0,405.5 762.5,405.3 763.0,405.3 763.5,405.4 764.0,405.5 764.5,405.8 765.0,406.4 765.5,417.9 766.0,375.3 766.5,355.1 767.0,354.5 767.5,354.2 768.0,354.1 768.5,354.0 769.0,354.0 769.5,354.2 770.0,354.4 770.5,298.7 771.0,298.2 771.5,297.8 772.0,290.6 772.5,290.1 773.0,289.8 773.5,289.7 774.0,289.6 774.5,289.6 775.0,289.8 775.5,290.1 776.0,285.5 776.5,284.6 777.0,284.2 777.5,283.9 778.0,283.8 778.5,283.8 779.0,283.9 779.5,284.1 780.0,284.4 780.5,285.0 781.0,315.2 781.5,339.6 782.0,358.8 782.5,358.8 783.0,359.0 783.5,359.2 784.0,359.7 784.5,360.7 785.0,400.7 785.5,400.8 786.0,400.9 786.5,376.5 787.0,375.9 787.5,375.6 788.0,375.4 788.5,375.3 789.0,375.3 789.5,375.4 790.0,364.9 790.5,364.3 791.0,364.0 791.5,363.8 792.0,363.7 792.5,363.7 793.0,363.8 793.5,364.0 794.0,364.5 794.5,365.2 795.0,428.7 795.5,428.5 796.0,428.4 796.5,428.4 797.0,428.6 797.5,428.8 798.0,429.2 798.5,430.0 799.0,439.1 799.5,438.6 800.0,380.1 800.5,379.1 801.0,378.6 801.5,376.1 802.0,338.5 802.5,338.0 803.0,337.6 803.5,337.5 804.0,337.4 804.5,337.3 805.0,337.1 805.5,337.0 806.0,337.0 806.5,337.2 807.0,337.4 807.5,314.7 808.0,314.0 808.5,313.7 809.0,313.5 809.5,313.4 810.0,313.4 810.5,313.5 811.0,313.7 811.5,314.1 812.0,314.9 812.5,324.7 813.0,324.9 813.5,325.2 814.0,325.7 814.5,330.2 815.0,330.3 815.5,330.4 816.0,330.7 816.5,331.2 817.0,332.6 817.5,332.5 818.0,332.5 818.5,332.6 819.0,332.8 819.5,333.1 820.0,333.7 820.5,352.4 821.0,347.7 821.5,347.2 822.0,346.9 822.5,346.7 823.0,346.7 823.5,346.7 824.0,346.9 824.5,347.2 825.0,347.6 825.5,348.9 826.0,388.6 826.5,388.4 827.0,384.2 827.5,383.5 828.0,308.9 828.5,307.9 829.0,307.5 829.5,307.2 830.0,307.1 830.5,307.0 831.0,307.1 831.5,307.3 832.0,307.6 832.5,308.2 833.0,316.1 833.5,398.4 834.0,374.9 834.5,318.2 835.0,317.7 835.5,317.4 836.0,317.2 836.5,317.2 837.0,317.2 837.5,317.4 838.0,317.7 838.5,318.2 839.0,319.5 839.5,377.7 840.0,377.6 840.5,377.5 841.0,377.6 841.5,377.7 842.0,378.0 842.5,378.5 843.0,360.5 843.5,360.0 844.0,359.7 844.5,359.5 845.0,359.5 845.5,359.5 846.0,359.7 846.5,341.1 847.0,340.4 847.5,340.1 848.0,339.8 848.5,339.7 849.0,339.8 849.5,339.9 850.0,328.9 850.5,327.9 851.0,327.5 851.5,327.2 852.0,327.1 852.5,327.0 853.0,327.1 853.5,327.3 854.0,327.6 854.5,328.2 855.0,344.4 855.5,344.3 856.0,344.2 856.5,330.3 857.0,329.8 857.5,329.5 858.0,329.4 858.5,329.3 859.0,329.3 859.5,329.5 860.0,329.8 860.5,330.3 861.0,331.5 861.5,358.9 862.0,359.1 862.5,359.5 863.0,357.0 863.5,356.5 864.0,356.2 864.5,342.5 865.0,341.6 865.5,341.2 866.0,340.9 866.5,340.8 867.0,327.4 867.5,326.4 868.0,325.9 868.5,317.8 869.0,258.8 869.5,258.2 870.0,257.9 870.5,257.7 871.0,257.7 871.5,257.7 872.0,257.9 872.5,258.2 873.0,258.6 873.5,259.7 874.0,284.3 874.5,284.4 875.0,284.6 875.5,285.1 876.0,286.0 876.5,307.6 877.0,307.8 877.5,308.1 878.0,308.5 878.5,309.7 879.0,328.8 879.5,328.8 880.0,329.0 880.5,329.3 881.0,329.9 881.5,345.3 882.0,346.0 882.5,346.9 883.0,346.9 883.5,347.0 884.0,347.2 884.5,347.6 885.0,329.5 885.5,328.9 886.0,328.6 886.5,328.4 887.0,328.4 887.5,328.4 888.0,328.5 888.5,328.8 889.0,329.2 889.5,330.1 890.0,338.2 890.5,355.5 891.0,335.9 891.5,335.4 892.0,335.1 892.5,334.9 893.0,334.8 893.5,334.9 894.0,335.0 894.5,335.3 895.0,335.8 895.5,336.8 896.0,363.3 896.5,362.9 897.0,332.7 897.5,331.9 898.0,331.5 898.5,331.2 899.0,331.1 899.5,331.1 900.0,331.2 900.5,331.4 901.0,331.8 901.5,332.4 902.0,345.3 902.5,370.4 903.0,371.0 903.5,362.6 904.0,362.0 904.5,361.7 905.0,361.5 905.5,361.5 906.0,361.5 906.5,361.6 907.0,361.9 907.5,362.4 908.0,363.3 908.5,428.9 909.0,429.2 909.5,429.7 910.0,431.0 910.5,438.3 911.0,439.2 911.5,442.7 912.0,443.0 912.5,443.5 913.0,445.4 913.5,401.3 914.0,400.5 914.5,400.1 915.0,399.8 915.5,399.7 916.0,399.7 916.5,399.8 917.0,400.0 917.5,400.3 918.0,381.2 918.5,380.3 919.0,379.9 919.5,370.0 920.0,368.9 920.5,368.4 921.0,368.1 921.5,368.0 922.0,367.9 922.5,368.0 923.0,368.2 923.5,368.5 924.0,369.0 924.5,391.6 925.0,392.1 925.5,380.2 926.0,379.3 926.5,378.8 927.0,367.1 927.5,366.5 928.0,366.1 928.5,365.9 929.0,365.8 929.5,365.8 930.0,365.9 930.5,354.4 931.0,353.8 931.5,353.5 932.0,353.3 932.5,353.3 933.0,353.3 933.5,353.4 934.0,353.7 934.5,354.2 935.0,355.2 935.5,350.7 936.0,330.5 936.5,329.6 937.0,329.2 937.5,329.0 938.0,328.9 938.5,328.8 939.0,328.7 939.5,328.4 940.0,328.3 940.5,328.3 941.0,328.4 941.5,328.6 942.0,329.0 942.5,329.7 943.0,345.1 943.5,345.4 944.0,345.8 944.5,346.9 945.0,352.0 945.5,351.9 946.0,352.0 946.5,352.1 947.0,352.4 947.5,352.8 948.0,353.8 948.5,366.9 949.0,366.5 949.5,366.2 950.0,366.1 950.5,364.8 951.0,354.5 951.5,353.8 952.0,353.4 952.5,353.2 953.0,333.5 953.5,322.7 954.0,321.8 954.5,321.4 955.0,321.1 955.5,321.0 956.0,321.0 956.5,321.1 957.0,321.3 957.5,321.6 958.0,322.2 958.5,336.8 959.0,337.1 959.5,337.5 960.0,338.4 960.5,359.2 961.0,359.0 961.5,358.9 962.0,358.9 962.5,359.0 963.0,359.3 963.5,359.7 964.0,360.6 964.5,401.3 965.0,354.0 965.5,353.4 966.0,353.1 966.5,352.9 967.0,352.8 967.5,352.9 968.0,353.0 968.5,345.2 969.0,344.4 969.5,344.0 970.0,343.8 970.5,343.7 971.0,343.7 971.5,343.8 972.0,344.0 972.5,344.4 973.0,345.0 973.5,378.6 974.0,378.7 974.5,379.0 975.0,376.5 975.5,375.6 976.0,375.2 976.5,374.9 977.0,374.8 977.5,374.8 978.0,374.9 978.5,375.0 979.0,375.4 979.5,376.0 980.0,354.3 980.5,353.8 981.0,353.5 981.5,353.3 982.0,353.3 982.5,353.3 983.0,342.1 983.5,341.4 984.0,341.0 984.5,340.8 985.0,340.7 985.5,340.7 986.0,340.8 986.5,341.0 987.0,341.4 987.5,342.1 988.0,356.0 988.5,355.6 989.0,355.4 989.5,355.3 990.0,355.3 990.5,355.4 991.0,355.6 991.5,356.0 992.0,356.7 992.5,374.1 993.0,357.1 993.5,356.5 994.0,356.1 994.5,354.6 995.0,353.8 995.5,353.4 996.0,353.2 996.5,353.0 997.0,353.0 997.5,353.1 998.0,353.3 998.5,336.1 999.0,334.8 999.5,334.3 1000.0,334.0 1000.5,333.8 1001.0,333.8 1001.5,333.8 1002.0,334.0 1002.5,301.2 1003.0,300.3 1003.5,299.9 1004.0,299.7 1004.5,299.5 1005.0,299.5 1005.5,299.6 1006.0,299.8 1006.5,300.1 1007.0,300.8 1007.5,327.8 1008.0,328.6 1008.5,322.7 1009.0,321.6 1009.5,321.1 1010.0,320.9 1010.5,320.7 1011.0,320.7 1011.5,320.7 1012.0,320.9 1012.5,321.2 1013.0,321.8 1013.5,340.9 1014.0,353.8 1014.5,353.7 1015.0,353.7 1015.5,353.8 1016.0,354.0 1016.5,354.3 1017.0,355.0 1017.5,369.9 1018.0,385.1 1018.5,384.6 1019.0,384.1 1019.5,383.7 1020.0,383.5 1020.5,383.4 1021.0,383.4 1021.5,383.5 1022.0,383.7 1022.5,384.1 1023.0,384.8 1023.5,386.9 1024.0,386.4 1024.5,315.8 1025.0,314.9 1025.5,314.5 1026.0,314.3 1026.5,314.1 1027.0,314.1 1027.5,314.2 1028.0,314.4 1028.5,314.7 1029.0,299.9 1029.5,299.2 1030.0,298.9 1030.5,298.7 1031.0,298.6 1031.5,298.6 1032.0,298.7 1032.5,298.9 1033.0,299.3 1033.5,300.1 1034.0,309.8 1034.5,309.3 1035.0,309.1 1035.5,309.0 1036.0,309.0 1036.5,309.0 1037.0,309.2 1037.5,309.6 1038.0,310.2 1038.5,346.8 1039.0,346.8 1039.5,347.0 1040.0,347.2 1040.5,347.7 1041.0,348.7 1041.5,372.0 1042.0,371.9 1042.5,372.0 1043.0,372.2 1043.5,372.5 1044.0,373.0 1044.5,410.3 1045.0,423.9 1045.5,424.4 1046.0,425.4 1046.5,453.1 1047.0,455.8 1047.5,456.2 1048.0,457.1 1048.5,459.3 1049.0,459.3 1049.5,403.4 1050.0,402.4 1050.5,402.0 1051.0,401.7 1051.5,358.6 1052.0,348.7 1052.5,337.3 1053.0,336.7 1053.5,336.4 1054.0,336.2 1054.5,336.1 1055.0,336.1 1055.5,336.3 1056.0,336.5 1056.5,337.0 1057.0,337.8 1057.5,417.2 1058.0,417.4 1058.5,417.7 1059.0,405.2 1059.5,404.3 1060.0,403.9 1060.5,403.6 1061.0,403.5 1061.5,403.4 1062.0,403.5 1062.5,403.7 1063.0,404.0 1063.5,404.6 1064.0,426.9 1064.5,408.7 1065.0,407.8 1065.5,407.4 1066.0,407.2 1066.5,407.0 1067.0,407.0 1067.5,407.1 1068.0,407.3 1068.5,407.6 1069.0,408.3 1069.5,411.0 1070.0,410.9 1070.5,347.1 1071.0,345.7 1071.5,344.7 1072.0,344.2 1072.5,344.0 1073.0,325.9 1073.5,325.3 1074.0,324.9 1074.5,324.7 1075.0,324.6 1075.5,324.6 1076.0,324.7 1076.5,325.0 1077.0,325.4 1077.5,326.1 1078.0,326.9 1078.5,304.5 1079.0,304.0 1079.5,303.8 1080.0,303.6 1080.5,303.5 1081.0,303.6 1081.5,303.8 1082.0,304.0 1082.5,304.5 1083.0,309.0 1083.5,308.9 1084.0,308.8 1084.5,308.9 1085.0,309.1 1085.5,292.8 1086.0,292.1 1086.5,291.7 1087.0,291.5 1087.5,291.4 1088.0,291.4 1088.5,291.5 1089.0,291.7 1089.5,292.1 1090.0,292.8 1090.5,326.3 1091.0,326.0 1091.5,325.9 1092.0,325.9 1092.5,325.9 1093.0,326.1 1093.5,326.5 1094.0,327.0 1094.5,333.7 1095.0,333.6 1095.5,333.6 1096.0,333.8 1096.5,334.0 1097.0,334.5 1097.5,335.4 1098.0,355.8 1098.5,365.4 1099.0,365.7 1099.5,366.2 1100.0,367.4 1100.5,372.6 1101.0,372.4 1101.5,360.7 1102.0,360.0 1102.5,359.6 1103.0,359.3 1103.5,359.2 1104.0,359.2 1104.5,358.5 1105.0,358.1 1105.5,357.9 1106.0,357.7 1106.5,357.7 1107.0,357.8 1107.5,358.0 1108.0,358.3 1108.5,358.9 1109.0,375.4 1109.5,375.2 1110.0,375.2 1110.5,348.8 1111.0,348.2 1111.5,343.4 1112.0,342.5 1112.5,342.0 1113.0,341.8 1113.5,341.6 1114.0,341.6 1114.5,341.7 1115.0,341.9 1115.5,342.2 1116.0,342.7 1116.5,388.9 1117.0,388.8 1117.5,388.8 1118.0,388.9 1118.5,389.1 1119.0,389.5 1119.5,390.1 1120.0,394.1 1120.5,402.3 1121.0,402.5 1121.5,403.0 1122.0,403.7 1122.5,410.7 1123.0,410.2 1123.5,409.9 1124.0,389.8 1124.5,388.7 1125.0,388.3 1125.5,388.0 1126.0,387.9 1126.5,387.8 1127.0,387.9 1127.5,388.1 1128.0,388.4 1128.5,375.4 1129.0,367.2 1129.5,366.7 1130.0,366.3 1130.5,366.2 1131.0,366.1 1131.5,366.1 1132.0,366.3 1132.5,366.5 1133.0,367.0 1133.5,367.9 1134.0,387.0 1134.5,363.7 1135.0,363.0 1135.5,362.6 1136.0,362.4 1136.5,362.3 1137.0,362.3 1137.5,329.0 1138.0,328.3 1138.5,327.9 1139.0,327.7 1139.5,327.6 1140.0,327.6 1140.5,327.7 1141.0,327.9 1141.5,328.3 1142.0,328.9 1142.5,350.9 1143.0,415.9 1143.5,415.7 1144.0,415.6 1144.5,415.6 1145.0,415.7 1145.5,380.7 1146.0,379.6 1146.5,379.1 1147.0,378.8 1147.5,377.6 1148.0,376.9 1148.5,376.5 1149.0,376.3 1149.5,376.2 1150.0,376.2 1150.5,376.3 1151.0,376.5 1151.5,376.9 1152.0,377.6 1152.5,435.1 1153.0,436.2 1153.5,442.9 1154.0,424.9 1154.5,424.1 1155.0,423.7 1155.5,423.5 1156.0,377.6 1156.5,376.9 1157.0,376.5 1157.5,376.3 1158.0,376.2 1158.5,376.2 1159.0,376.3 1159.5,376.5 1160.0,376.9 1160.5,377.6 1161.0,404.4 1161.5,404.5 1162.0,358.6 1162.5,358.0 1163.0,357.6 1163.5,357.4 1164.0,357.4 1164.5,357.4 1165.0,357.5 1165.5,357.7 1166.0,358.1 1166.5,358.9 1167.0,390.1 1167.5,411.8 1168.0,412.0 1168.5,365.2 1169.0,364.2 1169.5,363.8 1170.0,363.5 1170.5,363.3 1171.0,363.3 1171.5,363.4 1172.0,363.5 1172.5,363.9 1173.0,364.4 1173.5,405.2 1174.0,404.5 1174.5,404.1 1175.0,403.7 1175.5,403.4 1176.0,403.2 1176.5,403.2 1177.0,403.2 1177.5,403.4 1178.0,403.6 1178.5,404.1 1179.0,405.1 1179.5,421.4 1180.0,421.0 1180.5,420.7 1181.0,420.6 1181.5,420.6 1182.0,420.6 1182.5,389.1 1183.0,378.1 1183.5,377.6 1184.0,377.3 1184.5,377.1 1185.0,377.0 1185.5,377.1 1186.0,377.2 1186.5,377.5 1187.0,378.0 1187.5,379.0 1188.0,392.3 1188.5,378.9 1189.0,378.4 1189.5,378.1 1190.0,378.0 1190.5,377.9 1191.0,377.9 1191.5,378.1 1192.0,378.4 1192.5,378.9 1193.0,380.0 1193.5,379.7 1194.0,379.5 1194.5,379.4 1195.0,379.5 1195.5,379.6 1196.0,379.9 1196.5,380.4 1197.0,381.5 1197.5,395.6 1198.0,395.8 1198.5,396.1 1199.0,396.8 1199.5,356.2 1200.0,355.7 1200.5,355.3 1201.0,355.2 1201.5,355.1 1202.0,355.1 1202.5,355.2 1203.0,355.5 1203.5,355.9 1204.0,356.8 1204.5,378.9 1205.0,410.3 1205.5,410.4 1206.0,410.5 1206.5,410.8 1207.0,411.3 1207.5,415.0 1208.0,415.2 1208.5,381.1 1209.0,380.6 1209.5,380.2 1210.0,379.7 1210.5,379.3 1211.0,379.0 1211.5,378.9 1212.0,378.9 1212.5,378.9 1213.0,379.1 1213.5,379.4 1214.0,360.3 1214.5,359.8 1215.0,359.5 1215.5,359.3 1216.0,359.2 1216.5,359.3 1217.0,359.4 1217.5,359.7 1218.0,360.1 1218.5,361.1 1219.0,362.0 1219.5,361.9 1220.0,354.5 1220.5,353.9 1221.0,353.6 1221.5,353.4 1222.0,353.3 1222.5,353.3 1223.0,353.4 1223.5,353.7 1224.0,354.1 1224.5,354.9 1225.0,412.8 1225.5,352.5 1226.0,351.4 1226.5,350.9 1227.0,350.7 1227.5,350.5 1228.0,350.5 1228.5,350.5 1229.0,350.7 1229.5,351.0 1230.0,351.5 1230.5,364.8 1231.0,364.4 1231.5,364.1 1232.0,363.9 1232.5,363.9 1233.0,364.0 1233.5,364.1 1234.0,315.3 1234.5,314.7 1235.0,314.4 1235.5,314.2 1236.0,314.1 1236.5,314.1 1237.0,314.2 1237.5,314.5 1238.0,314.9 1238.5,315.7 1239.0,391.5 1239.5,391.8 1240.0,392.5 1240.5,410.7 1241.0,411.5 1241.5,421.3 1242.0,422.5 1242.5,432.5 1243.0,437.2 1243.5,437.2 1244.0,426.9 1244.5,421.1 1245.0,366.9 1245.5,366.4 1246.0,366.0 1246.5,365.9 1247.0,365.8 1247.5,365.8 1248.0,366.0 1248.5,366.3 1249.0,366.7 1249.5,367.7 1250.0,369.9 1250.5,370.4 1251.0,371.6 1251.5,420.2 1252.0,420.3 1252.5,420.6 1253.0,420.9 1253.5,359.2 1254.0,358.3 1254.5,357.8 1255.0,357.6 1255.5,357.4 1256.0,357.4 1256.5,357.5 1257.0,357.7 1257.5,358.0 1258.0,358.6 1258.5,409.2 1259.0,431.4 1259.5,431.4 1260.0,431.5 1260.5,431.7 1261.0,413.7 1261.5,413.2 1262.0,412.8 1262.5,378.0 1263.0,377.1 1263.5,376.7 1264.0,376.4 1264.5,376.3 1265.0,376.2 1265.5,376.3 1266.0,376.5 1266.5,376.8 1267.0,377.4 1267.5,406.3 1268.0,406.4 1268.5,406.6 1269.0,406.9 1269.5,407.6 1270.0,384.3 1270.5,383.2 1271.0,382.8 1271.5,382.5 1272.0,382.3 1272.5,382.3 1273.0,382.4 1273.5,382.5 1274.0,382.8 1274.5,383.4 1275.0,394.8 1275.5,395.7 1276.0,404.8 1276.5,347.9 1277.0,347.0 1277.5,346.6 1278.0,346.3 1278.5,346.2 1279.0,346.2 1279.5,346.3 1280.0,346.4 1280.5,346.8 1281.0,347.4 1281.5,366.7 1282.0,366.8 1282.5,366.9 1283.0,367.2 1283.5,367.8 1284.0,360.9 1284.5,360.2 1285.0,359.8 1285.5,359.6 1286.0,359.5 1286.5,359.5 1287.0,359.6 1287.5,359.1 1288.0,358.7 1288.5,358.5 1289.0,358.3 1289.5,353.3 1290.0,352.6 1290.5,352.3 1291.0,325.2 1291.5,324.4 1292.0,324.0 1292.5,323.8 1293.0,323.7 1293.5,323.6 1294.0,323.7 1294.5,323.9 1295.0,324.3 1295.5,324.9 1296.0,351.6 1296.5,351.5 1297.0,351.4 1297.5,351.5 1298.0,351.7 1298.5,352.1 1299.0,352.6 1299.5,360.7 1300.0,361.1 1300.5,351.3 1301.0,350.7 1301.5,350.4 1302.0,350.2 1302.5,350.1 1303.0,350.1 1303.5,350.3 1304.0,350.5 1304.5,350.9 1305.0,351.8 1305.5,380.6 1306.0,380.7 1306.5,367.1 1307.0,348.5 1307.5,347.8 1308.0,347.4 1308.5,347.2 1309.0,336.9 1309.5,330.2 1310.0,329.6 1310.5,329.3 1311.0,329.1 1311.5,329.0 1312.0,329.0 1312.5,329.1 1313.0,329.4 1313.5,329.8 1314.0,330.7 1314.5,316.9 1315.0,316.3 1315.5,316.0 1316.0,315.8 1316.5,315.7 1317.0,315.8 1317.5,315.9 1318.0,316.2 1318.5,316.6 1319.0,317.5 1319.5,321.8 1320.0,322.2 1320.5,323.3 1321.0,353.9 1321.5,353.9 1322.0,354.0 1322.5,354.3 1323.0,354.7 1323.5,355.6 1324.0,343.9 1324.5,343.0 1325.0,342.5 1325.5,342.3 1326.0,342.1 1326.5,342.1 1327.0,342.2 1327.5,335.4 1328.0,334.3 1328.5,333.8 1329.0,333.5 1329.5,333.4 1330.0,325.8 1330.5,325.0 1331.0,324.6 1331.5,324.3 1332.0,324.2 1332.5,324.2 1333.0,324.2 1333.5,324.4 1334.0,324.8 1334.5,325.4 1335.0,346.4 1335.5,346.3 1336.0,346.4 1336.5,346.6 1337.0,346.9 1337.5,347.4 1338.0,366.9 1338.5,401.2 1339.0,401.2 1339.5,401.3 1340.0,401.6 1340.5,395.1 1341.0,394.3 1341.5,389.3 1342.0,386.1 1342.5,385.5 1343.0,364.1 1343.5,363.5 1344.0,343.1 1344.5,341.8 1345.0,341.3 1345.5,307.4 1346.0,306.4 1346.5,305.9 1347.0,305.7 1347.5,305.5 1348.0,305.5 1348.5,305.5 1349.0,305.7 1349.5,306.0 1350.0,306.6 1350.5,351.7 1351.0,352.4 1351.5,359.6 1352.0,322.4 1352.5,321.9 1353.0,321.6 1353.5,321.4 1354.0,321.3 1354.5,321.4 1355.0,321.5 1355.5,321.8 1356.0,311.6 1356.5,310.9 1357.0,310.5 1357.5,310.3 1358.0,310.2 1358.5,310.2 1359.0,310.3 1359.5,310.6 1360.0,311.0 1360.5,304.1 1361.0,303.4 1361.5,303.0 1362.0,302.8 1362.5,302.7 1363.0,302.7 1363.5,302.8 1364.0,303.1 1364.5,303.5 1365.0,304.2 1365.5,340.6 1366.0,340.8 1366.5,341.1 1367.0,341.6 1367.5,344.5 1368.0,391.2 1368.5,391.3 1369.0,391.5 1369.5,391.8 1370.0,392.4 1370.5,402.0 1371.0,402.3 1371.5,402.8 1372.0,412.7 1372.5,412.8 1373.0,413.0 1373.5,413.3 1374.0,413.9 1374.5,418.3 1375.0,418.3 1375.5,418.4 1376.0,418.6 1376.5,419.0 1377.0,419.7 1377.5,419.3 1378.0,418.7 1378.5,416.0 1379.0,415.5 1379.5,415.2 1380.0,415.0 1380.5,415.0 1381.0,415.0 1381.5,415.2 1382.0,414.7 1382.5,414.3 1383.0,414.0 1383.5,398.9 1384.0,398.1 1384.5,397.7 1385.0,397.4 1385.5,355.7 1386.0,355.1 1386.5,354.8 1387.0,354.6 1387.5,354.6 1388.0,354.6 1388.5,354.7 1389.0,355.0 1389.5,355.4 1390.0,356.3 1390.5,357.8 1391.0,358.4 1391.5,391.2 1392.0,385.8 1392.5,384.9 1393.0,384.5 1393.5,384.2 1394.0,384.1 1394.5,384.1 1395.0,384.2 1395.5,384.4 1396.0,384.7 1396.5,385.3 1397.0,410.4 1397.5,367.8 1398.0,367.0 1398.5,366.6 1399.0,366.3 1399.5,366.2 1400.0,366.2 1400.5,346.4 1401.0,345.8 1401.5,345.5 1402.0,345.3 1402.5,345.3 1403.0,345.3 1403.5,345.5 1404.0,345.7 1404.5,346.2 1405.0,347.3 1405.5,389.5 1406.0,388.7 1406.5,369.5 1407.0,368.3 1407.5,367.8 1408.0,367.5 1408.5,367.3 1409.0,367.3 1409.5,367.3 1410.0,367.5 1410.5,367.8 1411.0,368.3 1411.5,368.5 1412.0,368.1 1412.5,367.8 1413.0,367.7 1413.5,367.7 1414.0,357.9 1414.5,357.0 1415.0,355.2 1415.5,353.1 1416.0,351.9 1416.5,351.4 1417.0,351.1 1417.5,351.0 1418.0,350.9 1418.5,351.0 1419.0,351.2 1419.5,335.6 1420.0,326.9 1420.5,325.8 1421.0,325.3 1421.5,325.0 1422.0,324.9 1422.5,324.8 1423.0,324.9 1423.5,325.0 1424.0,325.3 1424.5,325.9 1425.0,327.5 1425.5,374.1 1426.0,358.9 1426.5,357.9 1427.0,357.5 1427.5,357.2 1428.0,357.1 1428.5,357.0 1429.0,357.1 1429.5,357.3 1430.0,357.6 1430.5,358.2 1431.0,364.9 1431.5,400.1 1432.0,399.7 1432.5,399.5 1433.0,355.9 1433.5,355.1 1434.0,354.7 1434.5,354.4 1435.0,354.3 1435.5,354.3 1436.0,354.4 1436.5,354.6 1437.0,352.1 1437.5,351.5 1438.0,351.2 1438.5,351.0 1439.0,350.9 1439.5,350.9 1440.0,351.0 1440.5,351.2 1441.0,316.2 1441.5,315.7 1442.0,315.4 1442.5,315.2 1443.0,315.1 1443.5,311.2 1444.0,310.5 1444.5,310.1 1445.0,309.9 1445.5,309.8 1446.0,309.8 1446.5,309.9 1447.0,310.1 1447.5,310.5 1448.0,311.2 1448.5,316.2 1449.0,315.7 1449.5,315.5 1450.0,315.3 1450.5,315.3 1451.0,315.4 1451.5,315.5 1452.0,315.8 1452.5,316.4 1453.0,359.6 1453.5,359.9 1454.0,360.4 1454.5,361.6 1455.0,393.7 1455.5,362.7 1456.0,361.5 1456.5,361.0 1457.0,329.4 1457.5,310.4 1458.0,309.8 1458.5,309.5 1459.0,309.3 1459.5,309.3 1460.0,309.3 1460.5,309.4 1461.0,309.7 1461.5,310.2 1462.0,311.2 1462.5,347.7 1463.0,347.8 1463.5,299.4 1464.0,298.8 1464.5,298.5 1465.0,298.3 1465.5,298.2 1466.0,298.2 1466.0,575.0 1465.5,575.3 1465.0,575.4 1464.5,575.4 1464.0,575.3 1463.5,575.1 1463.0,574.7 1462.5,574.1 1462.0,551.7 1461.5,551.9 1461.0,552.0 1460.5,552.0 1460.0,551.9 1459.5,551.7 1459.0,551.4 1458.5,550.7 1458.0,545.3 1457.5,545.8 1457.0,546.1 1456.5,546.2 1456.0,546.3 1455.5,546.2 1455.0,546.0 1454.5,545.7 1454.0,545.2 1453.5,527.1 1453.0,526.5 1452.5,510.5 1452.0,509.9 1451.5,509.8 1451.0,509.6 1450.5,509.4 1450.0,509.0 1449.5,508.1 1449.0,502.8 1448.5,502.9 1448.0,503.0 1447.5,538.3 1447.0,539.0 1446.5,539.3 1446.0,548.1 1445.5,548.6 1445.0,548.9 1444.5,549.0 1444.0,549.1 1443.5,549.0 1443.0,548.9 1442.5,548.6 1442.0,548.1 1441.5,549.5 1441.0,550.8 1440.5,551.3 1440.0,551.6 1439.5,551.7 1439.0,580.8 1438.5,581.5 1438.0,581.9 1437.5,582.1 1437.0,582.2 1436.5,582.2 1436.0,582.1 1435.5,581.8 1435.0,581.5 1434.5,580.7 1434.0,550.0 1433.5,550.8 1433.0,579.3 1432.5,584.8 1432.0,585.6 1431.5,586.0 1431.0,586.3 1430.5,586.4 1430.0,586.4 1429.5,586.3 1429.0,586.1 1428.5,585.7 1428.0,585.1 1427.5,557.9 1427.0,553.7 1426.5,553.5 1426.0,553.3 1425.5,552.9 1425.0,552.2 1424.5,545.0 1424.0,538.2 1423.5,537.8 1423.0,536.9 1422.5,478.0 1422.0,476.0 1421.5,476.0 1421.0,476.0 1420.5,475.9 1420.0,475.7 1419.5,480.2 1419.0,481.5 1418.5,535.5 1418.0,536.6 1417.5,537.1 1417.0,537.4 1416.5,537.5 1416.0,537.6 1415.5,537.5 1415.0,537.3 1414.5,580.3 1414.0,581.0 1413.5,581.4 1413.0,581.7 1412.5,581.8 1412.0,581.8 1411.5,581.7 1411.0,581.5 1410.5,581.1 1410.0,580.5 1409.5,542.9 1409.0,543.5 1408.5,543.8 1408.0,544.0 1407.5,544.1 1407.0,544.1 1406.5,543.9 1406.0,543.7 1405.5,543.2 1405.0,542.5 1404.5,546.2 1404.0,546.9 1403.5,547.3 1403.0,547.5 1402.5,547.6 1402.0,547.6 1401.5,547.5 1401.0,547.3 1400.5,546.9 1400.0,546.3 1399.5,545.2 1399.0,545.3 1398.5,545.2 1398.0,545.1 1397.5,544.8 1397.0,544.3 1396.5,538.3 1396.0,538.5 1395.5,538.6 1395.0,590.4 1394.5,591.1 1394.0,591.5 1393.5,591.7 1393.0,591.8 1392.5,591.8 1392.0,591.7 1391.5,591.5 1391.0,591.1 1390.5,590.4 1390.0,552.8 1389.5,552.6 1389.0,552.2 1388.5,551.6 1388.0,532.4 1387.5,531.7 1387.0,526.8 1386.5,523.5 1386.0,525.2 1385.5,539.2 1385.0,539.8 1384.5,564.0 1384.0,573.4 1383.5,573.9 1383.0,574.2 1382.5,574.4 1382.0,574.4 1381.5,574.4 1381.0,574.2 1380.5,599.4 1380.0,599.9 1379.5,600.2 1379.0,600.4 1378.5,600.5 1378.0,600.4 1377.5,600.3 1377.0,600.0 1376.5,599.5 1376.0,598.4 1375.5,582.6 1375.0,582.0 1374.5,582.3 1374.0,582.3 1373.5,582.3 1373.0,582.2 1372.5,582.0 1372.0,581.6 1371.5,580.8 1371.0,594.3 1370.5,594.8 1370.0,595.1 1369.5,595.2 1369.0,595.3 1368.5,595.2 1368.0,595.1 1367.5,594.8 1367.0,594.3 1366.5,593.1 1366.0,523.6 1365.5,523.5 1365.0,523.3 1364.5,522.9 1364.0,522.2 1363.5,515.0 1363.0,515.4 1362.5,515.7 1362.0,515.8 1361.5,515.9 1361.0,515.8 1360.5,515.6 1360.0,515.3 1359.5,514.7 1359.0,475.1 1358.5,475.8 1358.0,519.2 1357.5,519.9 1357.0,520.2 1356.5,520.4 1356.0,520.5 1355.5,520.5 1355.0,520.4 1354.5,547.7 1354.0,548.2 1353.5,548.6 1353.0,548.7 1352.5,548.8 1352.0,548.8 1351.5,548.6 1351.0,548.3 1350.5,547.9 1350.0,546.8 1349.5,516.3 1349.0,515.9 1348.5,516.0 1348.0,516.0 1347.5,515.9 1347.0,547.5 1346.5,548.2 1346.0,548.6 1345.5,548.8 1345.0,548.9 1344.5,548.9 1344.0,552.9 1343.5,553.4 1343.0,553.7 1342.5,553.9 1342.0,553.9 1341.5,553.9 1341.0,553.7 1340.5,553.4 1340.0,552.9 1339.5,552.3 1339.0,552.3 1338.5,552.3 1338.0,552.1 1337.5,551.8 1337.0,551.2 1336.5,557.9 1336.0,558.8 1335.5,559.2 1335.0,559.5 1334.5,559.6 1334.0,559.7 1333.5,559.6 1333.0,559.4 1332.5,559.1 1332.0,558.5 1331.5,549.6 1331.0,549.7 1330.5,549.8 1330.0,549.8 1329.5,549.6 1329.0,549.3 1328.5,548.9 1328.0,547.9 1327.5,532.8 1327.0,533.7 1326.5,534.1 1326.0,534.4 1325.5,534.5 1325.0,543.8 1324.5,544.4 1324.0,544.7 1323.5,544.9 1323.0,545.0 1322.5,545.0 1322.0,544.8 1321.5,544.6 1321.0,544.1 1320.5,543.3 1320.0,511.4 1319.5,510.7 1319.0,509.2 1318.5,509.2 1318.0,509.1 1317.5,508.9 1317.0,508.5 1316.5,507.9 1316.0,493.4 1315.5,493.4 1315.0,518.4 1314.5,560.8 1314.0,561.7 1313.5,562.1 1313.0,562.4 1312.5,562.5 1312.0,562.5 1311.5,562.4 1311.0,562.2 1310.5,561.9 1310.0,561.3 1309.5,563.5 1309.0,564.1 1308.5,593.3 1308.0,594.1 1307.5,594.5 1307.0,594.7 1306.5,594.8 1306.0,594.8 1305.5,594.7 1305.0,594.5 1304.5,594.2 1304.0,593.6 1303.5,532.7 1303.0,518.3 1302.5,517.6 1302.0,502.1 1301.5,501.9 1301.0,501.4 1300.5,568.8 1300.0,569.3 1299.5,569.6 1299.0,569.8 1298.5,569.8 1298.0,569.8 1297.5,569.7 1297.0,569.4 1296.5,568.9 1296.0,567.7 1295.5,544.9 1295.0,545.0 1294.5,545.1 1294.0,545.0 1293.5,544.8 1293.0,544.5 1292.5,543.9 1292.0,510.9 1291.5,510.8 1291.0,510.7 1290.5,510.4 1290.0,509.8 1289.5,529.7 1289.0,530.5 1288.5,530.9 1288.0,531.1 1287.5,538.7 1287.0,539.5 1286.5,540.0 1286.0,544.9 1285.5,566.5 1285.0,583.8 1284.5,584.5 1284.0,584.9 1283.5,585.1 1283.0,585.2 1282.5,585.2 1282.0,585.1 1281.5,584.9 1281.0,584.5 1280.5,583.9 1280.0,553.0 1279.5,553.1 1279.0,553.0 1278.5,554.3 1278.0,555.2 1277.5,574.7 1277.0,575.9 1276.5,576.4 1276.0,576.7 1275.5,576.8 1275.0,576.9 1274.5,576.8 1274.0,576.7 1273.5,576.4 1273.0,575.9 1272.5,574.9 1272.0,575.3 1271.5,575.5 1271.0,596.4 1270.5,597.4 1270.0,597.8 1269.5,598.1 1269.0,598.2 1268.5,598.3 1268.0,598.2 1267.5,598.0 1267.0,597.7 1266.5,597.6 1266.0,598.0 1265.5,598.2 1265.0,598.3 1264.5,598.3 1264.0,598.8 1263.5,599.0 1263.0,599.1 1262.5,599.1 1262.0,599.1 1261.5,598.9 1261.0,598.5 1260.5,597.9 1260.0,591.9 1259.5,592.2 1259.0,592.3 1258.5,592.3 1258.0,592.2 1257.5,592.0 1257.0,591.7 1256.5,591.1 1256.0,587.5 1255.5,587.3 1255.0,587.0 1254.5,586.5 1254.0,581.6 1253.5,555.1 1253.0,555.3 1252.5,555.8 1252.0,556.6 1251.5,588.1 1251.0,588.6 1250.5,588.9 1250.0,589.1 1249.5,589.1 1249.0,589.1 1248.5,588.9 1248.0,588.7 1247.5,588.2 1247.0,587.8 1246.5,587.8 1246.0,587.8 1245.5,587.6 1245.0,587.3 1244.5,586.7 1244.0,570.5 1243.5,570.5 1243.0,570.4 1242.5,570.2 1242.0,570.9 1241.5,571.4 1241.0,571.7 1240.5,571.9 1240.0,571.9 1239.5,571.9 1239.0,571.7 1238.5,571.4 1238.0,570.9 1237.5,560.1 1237.0,559.9 1236.5,559.7 1236.0,562.3 1235.5,563.3 1235.0,563.8 1234.5,564.0 1234.0,564.2 1233.5,564.2 1233.0,564.1 1232.5,564.0 1232.0,563.6 1231.5,563.1 1231.0,551.2 1230.5,551.4 1230.0,551.5 1229.5,551.5 1229.0,551.4 1228.5,554.7 1228.0,555.3 1227.5,571.8 1227.0,572.5 1226.5,572.9 1226.0,573.1 1225.5,573.2 1225.0,573.3 1224.5,573.2 1224.0,572.9 1223.5,590.8 1223.0,591.4 1222.5,591.7 1222.0,591.9 1221.5,592.0 1221.0,592.0 1220.5,591.8 1220.0,591.6 1219.5,591.2 1219.0,590.3 1218.5,574.6 1218.0,574.0 1217.5,549.3 1217.0,549.3 1216.5,550.4 1216.0,551.3 1215.5,551.7 1215.0,551.9 1214.5,552.1 1214.0,552.1 1213.5,552.0 1213.0,551.8 1212.5,552.0 1212.0,552.5 1211.5,552.8 1211.0,553.0 1210.5,553.0 1210.0,573.5 1209.5,574.0 1209.0,574.4 1208.5,574.6 1208.0,578.9 1207.5,600.6 1207.0,601.1 1206.5,601.5 1206.0,601.6 1205.5,601.7 1205.0,601.6 1204.5,601.5 1204.0,601.2 1203.5,600.7 1203.0,599.6 1202.5,596.4 1202.0,597.0 1201.5,597.4 1201.0,597.6 1200.5,597.7 1200.0,597.7 1199.5,597.5 1199.0,597.3 1198.5,596.9 1198.0,596.1 1197.5,579.5 1197.0,579.1 1196.5,578.4 1196.0,562.9 1195.5,561.9 1195.0,546.8 1194.5,547.0 1194.0,547.1 1193.5,547.1 1193.0,547.0 1192.5,550.0 1192.0,550.7 1191.5,551.1 1191.0,551.4 1190.5,551.5 1190.0,551.5 1189.5,551.4 1189.0,562.1 1188.5,562.6 1188.0,562.9 1187.5,563.0 1187.0,563.1 1186.5,563.0 1186.0,562.9 1185.5,562.6 1185.0,567.3 1184.5,567.9 1184.0,608.5 1183.5,609.1 1183.0,609.4 1182.5,609.6 1182.0,609.7 1181.5,609.7 1181.0,609.6 1180.5,609.3 1180.0,608.9 1179.5,608.0 1179.0,596.4 1178.5,596.5 1178.0,596.4 1177.5,596.3 1177.0,612.5 1176.5,613.2 1176.0,613.5 1175.5,613.7 1175.0,613.8 1174.5,613.8 1174.0,613.7 1173.5,613.5 1173.0,613.1 1172.5,612.3 1172.0,605.2 1171.5,605.3 1171.0,605.3 1170.5,605.1 1170.0,604.9 1169.5,604.8 1169.0,604.7 1168.5,604.6 1168.0,604.3 1167.5,603.8 1167.0,602.5 1166.5,588.4 1166.0,588.3 1165.5,588.1 1165.0,587.8 1164.5,587.3 1164.0,552.3 1163.5,553.2 1163.0,553.7 1162.5,568.9 1162.0,596.5 1161.5,597.7 1161.0,598.2 1160.5,598.5 1160.0,598.6 1159.5,598.7 1159.0,598.6 1158.5,598.4 1158.0,598.1 1157.5,597.6 1157.0,549.0 1156.5,579.0 1156.0,588.0 1155.5,634.9 1155.0,661.4 1154.5,662.0 1154.0,662.3 1153.5,662.4 1153.0,662.5 1152.5,662.5 1152.0,662.3 1151.5,662.0 1151.0,661.6 1150.5,660.5 1150.0,595.2 1149.5,564.2 1149.0,601.5 1148.5,602.1 1148.0,602.4 1147.5,602.6 1147.0,602.7 1146.5,602.7 1146.0,602.6 1145.5,602.3 1145.0,601.9 1144.5,601.1 1144.0,599.8 1143.5,599.5 1143.0,599.1 1142.5,598.1 1142.0,566.0 1141.5,565.8 1141.0,565.5 1140.5,565.0 1140.0,545.5 1139.5,570.6 1139.0,571.2 1138.5,571.5 1138.0,571.7 1137.5,571.8 1137.0,571.7 1136.5,571.6 1136.0,571.4 1135.5,570.9 1135.0,570.1 1134.5,561.6 1134.0,561.7 1133.5,561.7 1133.0,561.6 1132.5,561.3 1132.0,560.9 1131.5,560.1 1131.0,558.7 1130.5,561.9 1130.0,562.7 1129.5,585.4 1129.0,615.5 1128.5,616.1 1128.0,616.4 1127.5,616.6 1127.0,616.7 1126.5,616.6 1126.0,616.5 1125.5,616.2 1125.0,615.8 1124.5,614.8 1124.0,592.9 1123.5,593.2 1123.0,593.3 1122.5,593.4 1122.0,593.3 1121.5,593.1 1121.0,592.8 1120.5,592.2 1120.0,584.5 1119.5,583.0 1119.0,575.9 1118.5,575.4 1118.0,574.1 1117.5,557.4 1117.0,557.1 1116.5,564.6 1116.0,565.2 1115.5,565.5 1115.0,565.7 1114.5,565.8 1114.0,565.7 1113.5,565.6 1113.0,565.4 1112.5,564.9 1112.0,564.0 1111.5,532.5 1111.0,533.2 1110.5,533.6 1110.0,533.8 1109.5,533.9 1109.0,533.9 1108.5,533.8 1108.0,533.6 1107.5,533.2 1107.0,532.5 1106.5,587.5 1106.0,588.4 1105.5,588.8 1105.0,589.0 1104.5,589.2 1104.0,589.2 1103.5,589.1 1103.0,589.0 1102.5,588.6 1102.0,588.0 1101.5,542.7 1101.0,542.5 1100.5,542.1 1100.0,541.3 1099.5,508.9 1099.0,508.9 1098.5,508.8 1098.0,508.6 1097.5,511.7 1097.0,512.4 1096.5,512.8 1096.0,513.0 1095.5,513.1 1095.0,513.1 1094.5,513.0 1094.0,512.7 1093.5,512.3 1093.0,511.6 1092.5,509.1 1092.0,509.4 1091.5,509.5 1091.0,509.6 1090.5,511.1 1090.0,511.7 1089.5,512.0 1089.0,512.2 1088.5,512.3 1088.0,512.3 1087.5,512.1 1087.0,511.9 1086.5,511.5 1086.0,510.6 1085.5,484.7 1085.0,484.9 1084.5,484.9 1084.0,484.8 1083.5,487.2 1083.0,487.7 1082.5,509.7 1082.0,510.4 1081.5,510.7 1081.0,510.9 1080.5,511.0 1080.0,511.0 1079.5,510.8 1079.0,510.6 1078.5,510.2 1078.0,509.8 1077.5,511.0 1077.0,511.5 1076.5,511.8 1076.0,511.9 1075.5,512.0 1075.0,511.9 1074.5,511.8 1074.0,521.2 1073.5,522.0 1073.0,522.4 1072.5,523.7 1072.0,524.2 1071.5,524.6 1071.0,524.8 1070.5,524.8 1070.0,524.8 1069.5,524.7 1069.0,524.4 1068.5,531.8 1068.0,562.8 1067.5,580.1 1067.0,581.1 1066.5,581.5 1066.0,581.8 1065.5,582.0 1065.0,582.0 1064.5,581.9 1064.0,581.7 1063.5,581.4 1063.0,580.9 1062.5,568.5 1062.0,566.2 1061.5,565.7 1061.0,564.6 1060.5,543.7 1060.0,544.2 1059.5,544.5 1059.0,544.7 1058.5,544.7 1058.0,559.4 1057.5,560.1 1057.0,560.5 1056.5,560.7 1056.0,560.8 1055.5,560.8 1055.0,560.7 1054.5,560.4 1054.0,560.1 1053.5,560.4 1053.0,590.9 1052.5,595.0 1052.0,595.9 1051.5,596.3 1051.0,596.5 1050.5,596.7 1050.0,596.7 1049.5,597.9 1049.0,598.5 1048.5,598.8 1048.0,599.0 1047.5,599.0 1047.0,599.0 1046.5,598.9 1046.0,598.6 1045.5,598.2 1045.0,597.2 1044.5,552.4 1044.0,547.9 1043.5,548.1 1043.0,591.4 1042.5,592.0 1042.0,592.4 1041.5,592.6 1041.0,592.7 1040.5,592.7 1040.0,592.5 1039.5,592.3 1039.0,591.9 1038.5,591.1 1038.0,559.8 1037.5,560.0 1037.0,560.0 1036.5,560.0 1036.0,559.8 1035.5,559.5 1035.0,559.1 1034.5,557.9 1034.0,527.0 1033.5,526.7 1033.0,526.3 1032.5,525.4 1032.0,514.6 1031.5,514.6 1031.0,514.4 1030.5,514.1 1030.0,513.7 1029.5,512.3 1029.0,443.0 1028.5,497.3 1028.0,498.3 1027.5,543.6 1027.0,544.6 1026.5,545.0 1026.0,545.3 1025.5,545.4 1025.0,545.5 1024.5,545.4 1024.0,545.2 1023.5,544.9 1023.0,544.4 1022.5,528.7 1022.0,520.1 1021.5,534.2 1021.0,595.4 1020.5,596.2 1020.0,596.6 1019.5,596.9 1019.0,597.0 1018.5,597.0 1018.0,596.9 1017.5,596.7 1017.0,596.4 1016.5,595.8 1016.0,585.8 1015.5,545.9 1015.0,545.4 1014.5,551.6 1014.0,552.2 1013.5,552.5 1013.0,552.7 1012.5,552.8 1012.0,552.7 1011.5,552.6 1011.0,552.3 1010.5,551.9 1010.0,551.0 1009.5,493.2 1009.0,493.2 1008.5,493.1 1008.0,492.8 1007.5,492.4 1007.0,491.6 1006.5,559.0 1006.0,572.0 1005.5,573.0 1005.0,573.5 1004.5,573.7 1004.0,573.9 1003.5,573.9 1003.0,573.8 1002.5,573.7 1002.0,573.4 1001.5,572.8 1001.0,535.1 1000.5,501.0 1000.0,501.2 999.5,501.8 999.0,502.1 998.5,502.2 998.0,502.3 997.5,502.3 997.0,502.1 996.5,501.8 996.0,514.2 995.5,514.9 995.0,520.7 994.5,521.4 994.0,521.7 993.5,521.9 993.0,522.0 992.5,522.0 992.0,521.9 991.5,533.6 991.0,534.3 990.5,534.6 990.0,534.8 989.5,534.9 989.0,534.9 988.5,534.8 988.0,534.6 987.5,534.2 987.0,533.5 986.5,525.4 986.0,550.6 985.5,551.3 985.0,551.6 984.5,551.8 984.0,551.9 983.5,551.9 983.0,551.8 982.5,551.6 982.0,562.6 981.5,563.3 981.0,563.7 980.5,563.9 980.0,564.0 979.5,564.0 979.0,563.9 978.5,563.6 978.0,563.2 977.5,562.5 977.0,537.8 976.5,537.2 976.0,487.3 975.5,512.8 975.0,513.5 974.5,513.9 974.0,514.1 973.5,514.3 973.0,514.3 972.5,514.2 972.0,514.0 971.5,513.6 971.0,599.2 970.5,599.9 970.0,600.3 969.5,600.6 969.0,600.7 968.5,600.7 968.0,600.6 967.5,600.4 967.0,600.0 966.5,599.4 966.0,559.4 965.5,559.8 965.0,560.0 964.5,560.1 964.0,560.1 963.5,560.0 963.0,559.8 962.5,559.6 962.0,559.7 961.5,559.6 961.0,559.5 960.5,559.2 960.0,558.7 959.5,557.6 959.0,531.7 958.5,532.4 958.0,532.7 957.5,532.9 957.0,533.0 956.5,533.0 956.0,532.9 955.5,532.6 955.0,532.2 954.5,531.4 954.0,512.9 953.5,513.0 953.0,512.9 952.5,512.8 952.0,512.5 951.5,542.3 951.0,543.0 950.5,543.4 950.0,543.6 949.5,543.7 949.0,543.7 948.5,543.6 948.0,543.4 947.5,543.0 947.0,543.5 946.5,544.1 946.0,544.4 945.5,544.6 945.0,544.6 944.5,544.6 944.0,544.4 943.5,544.2 943.0,543.7 942.5,542.7 942.0,537.1 941.5,532.1 941.0,532.6 940.5,532.9 940.0,533.1 939.5,533.2 939.0,533.1 938.5,533.0 938.0,532.7 937.5,532.2 937.0,531.0 936.5,518.8 936.0,524.2 935.5,524.8 935.0,525.2 934.5,525.4 934.0,525.4 933.5,587.7 933.0,588.6 932.5,589.0 932.0,589.3 931.5,589.4 931.0,589.4 930.5,589.4 930.0,589.2 929.5,588.9 929.0,588.3 928.5,567.8 928.0,536.3 927.5,536.5 927.0,536.6 926.5,536.6 926.0,536.5 925.5,536.3 925.0,535.9 924.5,535.2 924.0,527.9 923.5,528.2 923.0,528.4 922.5,528.5 922.0,528.4 921.5,528.3 921.0,573.8 920.5,574.4 920.0,574.7 919.5,574.9 919.0,575.0 918.5,574.9 918.0,574.8 917.5,581.1 917.0,581.8 916.5,582.2 916.0,582.5 915.5,582.6 915.0,582.6 914.5,582.5 914.0,582.3 913.5,581.9 913.0,592.9 912.5,593.5 912.0,593.8 911.5,605.0 911.0,605.9 910.5,606.3 910.0,606.6 909.5,606.7 909.0,606.7 908.5,606.6 908.0,606.5 907.5,606.1 907.0,605.6 906.5,589.4 906.0,589.3 905.5,589.0 905.0,588.5 904.5,573.0 904.0,557.6 903.5,557.6 903.0,557.5 902.5,557.3 902.0,557.0 901.5,556.4 901.0,562.1 900.5,562.9 900.0,563.3 899.5,563.5 899.0,563.6 898.5,563.7 898.0,563.6 897.5,563.4 897.0,569.1 896.5,569.6 896.0,569.9 895.5,570.0 895.0,570.1 894.5,570.1 894.0,569.9 893.5,569.6 893.0,569.1 892.5,567.9 892.0,555.6 891.5,555.7 891.0,555.7 890.5,555.5 890.0,555.2 889.5,554.8 889.0,553.7 888.5,535.0 888.0,535.0 887.5,534.8 887.0,534.5 886.5,534.0 886.0,513.5 885.5,507.8 885.0,505.2 884.5,555.5 884.0,556.0 883.5,556.3 883.0,556.5 882.5,556.6 882.0,556.5 881.5,556.4 881.0,556.1 880.5,555.6 880.0,554.6 879.5,527.6 879.0,513.9 878.5,514.0 878.0,514.1 877.5,514.0 877.0,513.8 876.5,513.5 876.0,519.1 875.5,519.7 875.0,520.0 874.5,520.1 874.0,520.2 873.5,520.2 873.0,520.0 872.5,519.8 872.0,519.3 871.5,518.3 871.0,472.4 870.5,509.9 870.0,510.5 869.5,510.8 869.0,511.0 868.5,511.1 868.0,514.0 867.5,514.6 867.0,517.3 866.5,518.0 866.0,518.3 865.5,536.1 865.0,536.7 864.5,537.1 864.0,537.3 863.5,537.4 863.0,537.3 862.5,537.2 862.0,537.0 861.5,536.6 861.0,535.8 860.5,532.5 860.0,532.5 859.5,532.5 859.0,532.3 858.5,532.0 858.0,531.6 857.5,530.5 857.0,542.7 856.5,543.2 856.0,543.5 855.5,543.7 855.0,543.8 854.5,543.7 854.0,543.6 853.5,543.3 853.0,542.8 852.5,541.6 852.0,526.8 851.5,527.2 851.0,527.4 850.5,558.3 850.0,559.0 849.5,559.4 849.0,559.6 848.5,559.7 848.0,559.7 847.5,559.6 847.0,559.4 846.5,570.2 846.0,570.9 845.5,571.3 845.0,571.6 844.5,571.7 844.0,571.7 843.5,571.6 843.0,571.4 842.5,571.0 842.0,570.3 841.5,537.6 841.0,537.4 840.5,537.0 840.0,536.5 839.5,536.1 839.0,535.3 838.5,527.4 838.0,527.2 837.5,526.7 837.0,525.8 836.5,569.8 836.0,570.5 835.5,570.9 835.0,571.1 834.5,571.2 834.0,571.2 833.5,607.9 833.0,608.5 832.5,608.8 832.0,609.0 831.5,609.1 831.0,609.0 830.5,608.9 830.0,608.7 829.5,608.2 829.0,607.4 828.5,529.4 828.0,539.7 827.5,540.4 827.0,569.8 826.5,570.7 826.0,571.1 825.5,571.4 825.0,571.5 824.5,571.5 824.0,571.4 823.5,571.3 823.0,570.9 822.5,570.3 822.0,564.9 821.5,565.6 821.0,565.9 820.5,566.1 820.0,566.2 819.5,566.2 819.0,566.1 818.5,565.9 818.0,565.5 817.5,564.7 817.0,523.1 816.5,523.2 816.0,523.1 815.5,523.0 815.0,522.7 814.5,522.3 814.0,521.3 813.5,478.0 813.0,478.6 812.5,479.0 812.0,507.8 811.5,508.4 811.0,508.7 810.5,508.9 810.0,509.0 809.5,513.1 809.0,514.0 808.5,514.5 808.0,514.7 807.5,514.8 807.0,514.9 806.5,514.8 806.0,514.6 805.5,514.3 805.0,513.7 804.5,513.4 804.0,513.7 803.5,513.9 803.0,546.9 802.5,547.7 802.0,548.1 801.5,558.4 801.0,559.4 800.5,559.8 800.0,601.4 799.5,602.3 799.0,602.7 798.5,602.9 798.0,603.1 797.5,603.1 797.0,603.0 796.5,602.8 796.0,602.5 795.5,601.9 795.0,598.0 794.5,597.9 794.0,597.6 793.5,597.0 793.0,577.4 792.5,596.5 792.0,597.2 791.5,597.5 791.0,597.8 790.5,597.9 790.0,597.9 789.5,597.7 789.0,597.5 788.5,597.1 788.0,597.5 787.5,598.2 787.0,598.6 786.5,598.8 786.0,598.9 785.5,598.9 785.0,598.8 784.5,598.6 784.0,598.2 783.5,597.5 783.0,566.0 782.5,566.1 782.0,566.1 781.5,565.9 781.0,565.7 780.5,565.3 780.0,564.4 779.5,534.4 779.0,534.0 778.5,533.3 778.0,506.0 777.5,506.0 777.0,505.9 776.5,505.7 776.0,505.3 775.5,504.6 775.0,439.5 774.5,439.6 774.0,439.6 773.5,474.5 773.0,475.1 772.5,506.4 772.0,507.2 771.5,507.6 771.0,507.8 770.5,507.9 770.0,507.9 769.5,507.9 769.0,507.7 768.5,572.8 768.0,573.4 767.5,573.8 767.0,574.0 766.5,574.1 766.0,584.3 765.5,584.8 765.0,585.2 764.5,585.3 764.0,585.4 763.5,585.4 763.0,585.2 762.5,585.0 762.0,584.5 761.5,618.6 761.0,619.6 760.5,620.0 760.0,620.3 759.5,620.4 759.0,620.5 758.5,620.4 758.0,620.2 757.5,619.9 757.0,619.3 756.5,551.4 756.0,552.1 755.5,552.5 755.0,552.7 754.5,552.8 754.0,552.8 753.5,552.7 753.0,552.4 752.5,554.9 752.0,599.9 751.5,620.2 751.0,654.5 750.5,655.0 750.0,655.3 749.5,655.4 749.0,655.5 748.5,655.5 748.0,655.3 747.5,655.0 747.0,654.5 746.5,653.4 746.0,599.6 745.5,553.0 745.0,540.3 744.5,513.7 744.0,504.5 743.5,550.4 743.0,550.9 742.5,556.6 742.0,557.4 741.5,557.8 741.0,558.1 740.5,558.2 740.0,558.2 739.5,558.2 739.0,558.0 738.5,572.8 738.0,573.3 737.5,573.6 737.0,573.8 736.5,573.9 736.0,573.8 735.5,573.7 735.0,573.4 734.5,572.9 734.0,587.0 733.5,587.9 733.0,588.3 732.5,588.5 732.0,588.7 731.5,588.7 731.0,588.6 730.5,597.5 730.0,603.6 729.5,604.3 729.0,604.7 728.5,604.9 728.0,605.0 727.5,605.0 727.0,604.9 726.5,604.7 726.0,604.3 725.5,603.6 725.0,601.1 724.5,600.7 724.0,600.0 723.5,599.3 723.0,591.6 722.5,570.1 722.0,568.6 721.5,584.8 721.0,585.5 720.5,585.9 720.0,586.1 719.5,591.1 719.0,602.2 718.5,603.0 718.0,603.4 717.5,603.6 717.0,603.7 716.5,603.8 716.0,603.7 715.5,603.5 715.0,603.1 714.5,602.5 714.0,598.5 713.5,584.7 713.0,584.6 712.5,584.3 712.0,599.9 711.5,600.8 711.0,601.2 710.5,601.5 710.0,601.6 709.5,601.7 709.0,601.6 708.5,601.4 708.0,601.1 707.5,600.6 707.0,600.7 706.5,600.7 706.0,600.5 705.5,600.3 705.0,601.0 704.5,601.7 704.0,602.1 703.5,602.4 703.0,602.5 702.5,602.5 702.0,602.4 701.5,602.2 701.0,601.8 700.5,601.2 700.0,591.9 699.5,592.2 699.0,592.4 698.5,592.4 698.0,592.4 697.5,592.2 697.0,591.9 696.5,591.4 696.0,585.8 695.5,583.9 695.0,584.0 694.5,583.9 694.0,583.8 693.5,583.5 693.0,583.0 692.5,567.1 692.0,556.4 691.5,556.1 691.0,555.5 690.5,539.4 690.0,539.3 689.5,539.0 689.0,538.5 688.5,537.2 688.0,529.4 687.5,529.1 687.0,528.4 686.5,498.0 686.0,498.7 685.5,499.1 685.0,536.1 684.5,539.5 684.0,548.1 683.5,549.5 683.0,550.0 682.5,550.2 682.0,564.1 681.5,564.7 681.0,565.0 680.5,571.4 680.0,572.1 679.5,572.4 679.0,572.6 678.5,572.7 678.0,595.2 677.5,595.9 677.0,596.3 676.5,596.5 676.0,596.6 675.5,596.6 675.0,605.6 674.5,606.9 674.0,607.4 673.5,607.7 673.0,607.8 672.5,607.9 672.0,607.8 671.5,607.7 671.0,607.4 670.5,606.8 670.0,591.7 669.5,625.5 669.0,626.6 668.5,627.0 668.0,627.3 667.5,627.5 667.0,627.5 666.5,627.4 666.0,627.3 665.5,627.0 665.0,626.4 664.5,600.2 664.0,537.7 663.5,513.9 663.0,490.5 662.5,490.6 662.0,498.2 661.5,498.8 661.0,499.1 660.5,499.3 660.0,499.4 659.5,499.4 659.0,499.3 658.5,499.1 658.0,498.6 657.5,497.9 657.0,488.9 656.5,489.5 656.0,489.8 655.5,490.0 655.0,490.1 654.5,496.5 654.0,497.2 653.5,497.5 653.0,497.7 652.5,497.8 652.0,497.8 651.5,497.7 651.0,497.5 650.5,497.1 650.0,496.4 649.5,488.4 649.0,455.7 648.5,455.6 648.0,455.3 647.5,454.9 647.0,454.0 646.5,449.9 646.0,450.0 645.5,450.1 645.0,450.0 644.5,449.9 644.0,449.6 643.5,449.1 643.0,443.3 642.5,443.9 642.0,473.8 641.5,474.3 641.0,519.6 640.5,520.3 640.0,520.6 639.5,520.8 639.0,520.9 638.5,520.9 638.0,520.8 637.5,520.6 637.0,520.2 636.5,519.5 636.0,506.4 635.5,532.9 635.0,533.7 634.5,534.1 634.0,534.3 633.5,534.5 633.0,534.5 632.5,534.4 632.0,534.2 631.5,533.9 631.0,533.3 630.5,483.0 630.0,483.6 629.5,484.0 629.0,484.2 628.5,484.3 628.0,484.2 627.5,484.1 627.0,483.9 626.5,483.5 626.0,482.6 625.5,476.7 625.0,476.2 624.5,467.0 624.0,466.9 623.5,466.8 623.0,466.5 622.5,466.0 622.0,464.7 621.5,438.8 621.0,438.7 620.5,438.4 620.0,437.9 619.5,437.0 619.0,429.6 618.5,430.2 618.0,430.5 617.5,430.7 617.0,430.7 616.5,430.7 616.0,430.6 615.5,430.3 615.0,429.8 614.5,428.8 614.0,426.5 613.5,426.6 613.0,426.5 612.5,426.4 612.0,426.1 611.5,425.7 611.0,424.8 610.5,408.9 610.0,397.2 609.5,396.8 609.0,396.1 608.5,385.2 608.0,384.7 607.5,374.9 607.0,375.4 606.5,402.0 606.0,403.5 605.5,404.2 605.0,404.6 604.5,468.7 604.0,469.3 603.5,469.7 603.0,469.9 602.5,470.0 602.0,470.0 601.5,469.8 601.0,469.6 600.5,469.2 600.0,468.4 599.5,403.3 599.0,403.2 598.5,446.0 598.0,446.6 597.5,446.9 597.0,447.1 596.5,447.2 596.0,447.1 595.5,447.0 595.0,446.7 594.5,446.3 594.0,445.4 593.5,441.1 593.0,441.1 592.5,441.0 592.0,440.7 591.5,440.3 591.0,439.5 590.5,429.1 590.0,428.3 589.5,419.9 589.0,419.7 588.5,419.3 588.0,418.6 587.5,412.3 587.0,400.3 586.5,396.6 586.0,396.3 585.5,395.6 585.0,369.5 584.5,370.0 584.0,370.3 583.5,370.4 583.0,370.4 582.5,370.4 582.0,370.2 581.5,369.9 581.0,369.4 580.5,359.0 580.0,331.2 579.5,331.1 579.0,330.9 578.5,330.5 578.0,370.2 577.5,377.7 577.0,402.6 576.5,403.2 576.0,403.6 575.5,403.8 575.0,403.8 574.5,403.8 574.0,403.7 573.5,457.1 573.0,457.6 572.5,457.9 572.0,458.1 571.5,458.1 571.0,458.1 570.5,457.9 570.0,457.6 569.5,457.2 569.0,456.0 568.5,445.9 568.0,445.6 567.5,445.2 567.0,444.2 566.5,427.1 566.0,427.1 565.5,426.9 565.0,426.6 564.5,426.1 564.0,430.0 563.5,431.2 563.0,431.7 562.5,432.0 562.0,432.1 561.5,432.2 561.0,432.1 560.5,432.0 560.0,431.7 559.5,431.1 559.0,405.6 558.5,446.0 558.0,447.1 557.5,447.5 557.0,447.8 556.5,448.0 556.0,448.0 555.5,447.9 555.0,447.8 554.5,447.5 554.0,446.9 553.5,410.0 553.0,403.9 552.5,447.6 552.0,504.0 551.5,504.8 551.0,505.3 550.5,505.5 550.0,515.2 549.5,516.3 549.0,516.8 548.5,517.0 548.0,517.2 547.5,517.2 547.0,517.2 546.5,517.0 546.0,516.7 545.5,516.2 545.0,503.6 544.5,503.5 544.0,503.3 543.5,502.9 543.0,502.1 542.5,460.3 542.0,460.2 541.5,460.0 541.0,459.6 540.5,458.9 540.0,439.3 539.5,439.2 539.0,439.5 538.5,439.7 538.0,439.8 537.5,439.7 537.0,439.6 536.5,439.3 536.0,438.9 535.5,439.0 535.0,439.2 534.5,439.3 534.0,439.3 533.5,439.2 533.0,438.9 532.5,438.5 532.0,437.6 531.5,451.5 531.0,452.4 530.5,452.9 530.0,453.2 529.5,453.3 529.0,453.4 528.5,453.3 528.0,453.1 527.5,452.8 527.0,452.5 526.5,452.4 526.0,452.3 525.5,452.0 525.0,451.5 524.5,453.5 524.0,454.8 523.5,455.3 523.0,455.6 522.5,455.7 522.0,455.8 521.5,455.7 521.0,479.6 520.5,480.5 520.0,480.9 519.5,481.2 519.0,481.3 518.5,481.3 518.0,481.2 517.5,481.0 517.0,480.7 516.5,480.1 516.0,457.1 515.5,515.9 515.0,517.2 514.5,517.7 514.0,518.0 513.5,518.1 513.0,518.2 512.5,518.1 512.0,518.0 511.5,517.7 511.0,517.2 510.5,466.3 510.0,466.4 509.5,466.3 509.0,466.2 508.5,465.9 508.0,465.4 507.5,464.3 507.0,439.8 506.5,451.7 506.0,452.2 505.5,452.5 505.0,452.7 504.5,452.7 504.0,452.7 503.5,452.5 503.0,452.2 502.5,451.7 502.0,450.3 501.5,448.2 501.0,447.9 500.5,447.3 500.0,436.9 499.5,437.0 499.0,505.0 498.5,505.7 498.0,506.1 497.5,506.3 497.0,506.4 496.5,506.4 496.0,506.2 495.5,506.0 495.0,505.6 494.5,504.9 494.0,498.8 493.5,498.6 493.0,498.3 492.5,497.8 492.0,489.8 491.5,477.3 491.0,477.6 490.5,477.8 490.0,477.9 489.5,477.8 489.0,477.7 488.5,477.4 488.0,559.6 487.5,560.2 487.0,560.5 486.5,560.7 486.0,560.8 485.5,560.8 485.0,560.6 484.5,560.4 484.0,560.0 483.5,559.1 483.0,485.5 482.5,485.5 482.0,502.6 481.5,503.1 481.0,503.4 480.5,503.6 480.0,503.7 479.5,503.6 479.0,503.5 478.5,503.2 478.0,502.8 477.5,501.8 477.0,448.2 476.5,447.8 476.0,447.0 475.5,427.3 475.0,427.2 474.5,445.5 474.0,446.6 473.5,447.1 473.0,447.3 472.5,447.5 472.0,447.5 471.5,447.5 471.0,447.3 470.5,447.0 470.0,446.4 469.5,443.3 469.0,432.8 468.5,433.0 468.0,433.5 467.5,459.4 467.0,482.5 466.5,483.2 466.0,483.5 465.5,483.7 465.0,483.8 464.5,483.8 464.0,483.7 463.5,483.4 463.0,483.0 462.5,482.2 462.0,471.8 461.5,471.7 461.0,471.5 460.5,471.2 460.0,470.7 459.5,453.8 459.0,453.7 458.5,453.5 458.0,453.1 457.5,452.5 457.0,451.7 456.5,451.8 456.0,451.8 455.5,451.8 455.0,451.6 454.5,451.2 454.0,450.6 453.5,426.5 453.0,426.1 452.5,425.2 452.0,378.2 451.5,373.4 451.0,373.7 450.5,377.2 450.0,398.0 449.5,398.5 449.0,398.8 448.5,409.0 448.0,410.2 447.5,479.4 447.0,480.1 446.5,480.5 446.0,480.7 445.5,480.8 445.0,480.8 444.5,480.7 444.0,480.5 443.5,480.1 443.0,479.4 442.5,461.3 442.0,461.4 441.5,478.7 441.0,479.6 440.5,483.5 440.0,484.1 439.5,484.5 439.0,484.7 438.5,484.8 438.0,484.8 437.5,484.7 437.0,484.4 436.5,484.0 436.0,483.2 435.5,459.1 435.0,459.2 434.5,459.2 434.0,485.7 433.5,486.7 433.0,487.2 432.5,497.0 432.0,497.7 431.5,530.4 431.0,531.2 430.5,531.6 430.0,531.9 429.5,532.0 429.0,532.0 428.5,531.9 428.0,531.7 427.5,531.4 427.0,530.8 426.5,505.8 426.0,505.4 425.5,504.7 425.0,518.5 424.5,519.4 424.0,520.8 423.5,536.2 423.0,536.7 422.5,537.1 422.0,537.2 421.5,537.3 421.0,537.2 420.5,537.1 420.0,536.8 419.5,536.3 419.0,535.2 418.5,531.5 418.0,531.4 417.5,531.1 417.0,530.8 416.5,530.1 416.0,474.5 415.5,473.9 415.0,467.3 414.5,466.9 414.0,466.1 413.5,439.4 413.0,439.0 412.5,448.5 412.0,449.2 411.5,449.6 411.0,449.8 410.5,449.9 410.0,450.0 409.5,449.9 409.0,449.7 408.5,449.3 408.0,448.6 407.5,441.8 407.0,441.8 406.5,441.7 406.0,441.5 405.5,441.1 405.0,491.8 404.5,493.3 404.0,493.8 403.5,494.0 403.0,494.2 402.5,494.2 402.0,494.2 401.5,494.0 401.0,493.7 400.5,493.2 400.0,458.1 399.5,458.8 399.0,459.2 398.5,459.5 398.0,459.6 397.5,459.6 397.0,459.5 396.5,459.3 396.0,459.0 395.5,458.3 395.0,402.2 394.5,402.2 394.0,402.2 393.5,402.0 393.0,401.6 392.5,401.0 392.0,445.1 391.5,445.6 391.0,445.9 390.5,446.0 390.0,446.1 389.5,446.1 389.0,445.9 388.5,445.6 388.0,445.1 387.5,444.0 387.0,441.6 386.5,441.6 386.0,466.4 385.5,467.2 385.0,467.6 384.5,467.8 384.0,467.9 383.5,467.9 383.0,467.8 382.5,467.6 382.0,467.2 381.5,466.6 381.0,421.7 380.5,417.0 380.0,406.5 379.5,406.3 379.0,405.9 378.5,405.1 378.0,404.7 377.5,405.0 377.0,405.2 376.5,464.7 376.0,465.7 375.5,466.1 375.0,466.4 374.5,466.5 374.0,466.6 373.5,466.5 373.0,466.3 372.5,466.0 372.0,465.5 371.5,440.4 371.0,440.6 370.5,440.6 370.0,449.3 369.5,450.1 369.0,450.6 368.5,450.8 368.0,450.9 367.5,451.0 367.0,450.9 366.5,450.7 366.0,450.3 365.5,449.7 365.0,411.8 364.5,411.2 364.0,446.5 363.5,447.1 363.0,447.5 362.5,447.7 362.0,447.7 361.5,447.7 361.0,447.6 360.5,447.3 360.0,447.0 359.5,447.1 359.0,447.1 358.5,446.9 358.0,477.8 357.5,478.8 357.0,479.2 356.5,479.5 356.0,479.6 355.5,479.6 355.0,479.6 354.5,479.4 354.0,479.0 353.5,478.5 353.0,467.3 352.5,467.5 352.0,467.7 351.5,467.7 351.0,467.6 350.5,467.5 350.0,467.1 349.5,466.6 349.0,457.8 348.5,429.5 348.0,429.1 347.5,428.3 347.0,419.4 346.5,419.3 346.0,419.1 345.5,418.8 345.0,418.2 344.5,411.8 344.0,392.1 343.5,376.2 343.0,376.6 342.5,376.8 342.0,376.9 341.5,376.9 341.0,376.8 340.5,376.5 340.0,376.8 339.5,377.5 339.0,378.5 338.5,379.1 338.0,379.5 337.5,379.7 337.0,408.1 336.5,408.8 336.0,427.2 335.5,428.1 335.0,428.6 334.5,428.8 334.0,429.0 333.5,429.0 333.0,428.9 332.5,428.7 332.0,428.4 331.5,427.9 331.0,403.6 330.5,400.5 330.0,414.8 329.5,432.1 329.0,432.7 328.5,449.4 328.0,450.5 327.5,453.0 327.0,468.5 326.5,480.1 326.0,481.0 325.5,481.5 325.0,481.7 324.5,481.8 324.0,481.9 323.5,481.8 323.0,481.6 322.5,481.3 322.0,480.7 321.5,470.9 321.0,471.1 320.5,525.4 320.0,526.6 319.5,527.1 319.0,527.4 318.5,527.6 318.0,527.6 317.5,527.6 317.0,527.4 316.5,530.9 316.0,551.3 315.5,552.0 315.0,552.5 314.5,552.7 314.0,552.8 313.5,552.8 313.0,552.7 312.5,552.5 312.0,552.2 311.5,551.6 311.0,566.4 310.5,567.1 310.0,567.5 309.5,567.8 309.0,567.9 308.5,567.9 308.0,567.8 307.5,567.6 307.0,567.2 306.5,566.6 306.0,531.4 305.5,523.6 305.0,523.6 304.5,523.6 304.0,523.4 303.5,523.0 303.0,522.4 302.5,523.6 302.0,524.3 301.5,527.3 301.0,590.1 300.5,591.1 300.0,591.5 299.5,591.8 299.0,592.0 298.5,592.0 298.0,591.9 297.5,591.7 297.0,591.4 296.5,590.9 296.0,538.2 295.5,537.4 295.0,537.4 294.5,537.3 294.0,537.0 293.5,536.6 293.0,535.8 292.5,536.6 292.0,537.2 291.5,537.5 291.0,537.7 290.5,537.8 290.0,537.7 289.5,537.6 289.0,537.4 288.5,537.0 288.0,569.7 287.5,570.4 287.0,570.8 286.5,571.0 286.0,571.1 285.5,571.2 285.0,571.1 284.5,570.8 284.0,570.5 283.5,569.8 283.0,541.1 282.5,541.0 282.0,540.9 281.5,540.6 281.0,540.1 280.5,538.7 280.0,533.7 279.5,534.8 279.0,535.3 278.5,535.5 278.0,535.7 277.5,564.1 277.0,564.9 276.5,597.4 276.0,597.9 275.5,598.2 275.0,598.4 274.5,598.4 274.0,598.4 273.5,598.2 273.0,598.0 272.5,597.5 272.0,596.2 271.5,583.4 271.0,583.4 270.5,583.3 270.0,583.1 269.5,583.8 269.0,621.2 268.5,621.9 268.0,622.2 267.5,622.4 267.0,622.5 266.5,622.5 266.0,622.4 265.5,622.2 265.0,621.8 264.5,621.1 264.0,576.0 263.5,575.7 263.0,575.2 262.5,567.6 262.0,538.4 261.5,538.1 261.0,537.7 260.5,537.4 260.0,537.4 259.5,537.3 259.0,537.1 258.5,536.8 258.0,536.1 257.5,475.6 257.0,475.2 256.5,484.4 256.0,485.0 255.5,485.3 255.0,485.5 254.5,578.6 254.0,579.4 253.5,579.9 253.0,580.1 252.5,580.2 252.0,580.3 251.5,580.2 251.0,580.0 250.5,579.6 250.0,579.0 249.5,538.7 249.0,593.0 248.5,594.2 248.0,594.6 247.5,594.9 247.0,595.1 246.5,595.1 246.0,595.1 245.5,594.9 245.0,594.6 244.5,594.1 244.0,580.3 243.5,579.9 243.0,579.2 242.5,568.3 242.0,568.6 241.5,569.1 241.0,569.4 240.5,569.6 240.0,569.7 239.5,569.6 239.0,569.5 238.5,569.2 238.0,568.7 237.5,616.2 237.0,616.7 236.5,617.0 236.0,617.2 235.5,617.2 235.0,617.2 234.5,617.0 234.0,616.8 233.5,616.3 233.0,615.2 232.5,573.7 232.0,542.7 231.5,542.8 231.0,542.9 230.5,542.8 230.0,542.7 229.5,542.4 229.0,586.7 228.5,590.7 228.0,638.3 227.5,639.1 227.0,639.5 226.5,639.8 226.0,639.9 225.5,639.9 225.0,639.8 224.5,639.6 224.0,639.3 223.5,638.7 223.0,598.9 222.5,610.8 222.0,611.6 221.5,626.7 221.0,627.7 220.5,628.2 220.0,628.5 219.5,628.6 219.0,628.6 218.5,628.6 218.0,628.4 217.5,646.7 217.0,647.9 216.5,648.4 216.0,648.8 215.5,648.9 215.0,649.0 214.5,654.9 214.0,656.3 213.5,656.8 213.0,657.1 212.5,657.3 212.0,657.3 211.5,657.3 211.0,657.1 210.5,656.8 210.0,656.3 209.5,650.1 209.0,654.6 208.5,655.7 208.0,656.2 207.5,656.4 207.0,656.6 206.5,656.6 206.0,656.6 205.5,656.4 205.0,656.1 204.5,655.6 204.0,634.1 203.5,615.5 203.0,615.1 202.5,620.4 202.0,620.9 201.5,621.2 201.0,621.4 200.5,621.5 200.0,621.4 199.5,621.3 199.0,621.0 198.5,620.5 198.0,619.5 197.5,616.7 197.0,616.0 196.5,601.2 196.0,592.2 195.5,592.2 195.0,592.1 194.5,608.0 194.0,608.6 193.5,608.9 193.0,609.1 192.5,609.1 192.0,609.1 191.5,609.0 191.0,608.7 190.5,608.3 190.0,607.3 189.5,590.5 189.0,590.0 188.5,574.7 188.0,574.6 187.5,574.5 187.0,574.1 186.5,573.6 186.0,564.6 185.5,564.6 185.0,564.5 184.5,564.3 184.0,563.8 183.5,563.1 183.0,541.1 182.5,540.9 182.0,540.7 181.5,540.2 181.0,539.3" fill="#A0E834"/>
</g>
<g fill="none" stroke-width="5.5" stroke-linejoin="round" stroke-linecap="round" clip-path="url(#pc)">
<polyline points="181.0,473.4 184.2,474.7 187.4,476.1 190.7,477.5 193.9,479.0 197.1,480.6 200.3,482.3 203.5,484.1 206.8,486.0 210.0,488.0 213.2,490.0 216.4,492.1 219.6,494.2 222.9,496.4 226.1,498.5 229.3,500.6 232.5,502.8 235.7,505.2 239.0,507.8 242.2,510.5 245.4,513.4 248.6,516.3 251.9,519.1 255.1,521.7 258.3,523.9 261.5,525.6 264.7,526.8 268.0,527.3 271.2,527.2 274.4,526.6 277.6,525.5 280.8,524.0 284.1,522.2 287.3,520.1 290.5,517.9 293.7,515.6 296.9,513.2 300.2,510.7 303.4,508.2 306.6,505.6 309.8,503.0 313.0,500.5 316.3,497.9 319.5,495.4 322.7,492.9 325.9,490.6 329.1,488.3 332.4,486.1 335.6,484.0 338.8,482.0 342.0,480.3 345.2,478.6 348.5,477.2 351.7,475.9 354.9,474.8 358.1,473.8 361.4,473.0 364.6,472.2 367.8,471.6 371.0,471.0 374.2,470.4 377.5,470.0 380.7,469.5 383.9,469.0 387.1,468.6 390.3,468.1 393.6,467.7 396.8,467.2 400.0,466.8 403.2,466.3 406.4,465.9 409.7,465.5 412.9,465.1 416.1,464.7 419.3,464.3 422.5,464.0 425.8,463.7 429.0,463.5 432.2,463.2 435.4,462.9 438.6,462.5 441.9,461.9 445.1,461.1 448.3,460.0 451.5,458.5 454.7,456.7 458.0,454.5 461.2,452.2 464.4,449.6 467.6,447.1 470.8,444.5 474.1,442.0 477.3,439.7 480.5,437.4 483.7,435.3 487.0,433.2 490.2,431.2 493.4,429.3 496.6,427.4 499.8,425.6 503.1,423.8 506.3,421.9 509.5,420.1 512.7,418.3 515.9,416.5 519.2,414.7 522.4,412.9 525.6,411.3 528.8,409.7 532.0,408.3 535.3,407.0 538.5,405.9 541.7,404.9 544.9,404.2 548.1,403.6 551.4,403.2 554.6,403.0 557.8,402.9 561.0,403.0 564.2,403.2 567.5,403.5 570.7,404.0 573.9,404.5 577.1,405.2 580.3,406.0 583.6,406.9 586.8,407.9 590.0,408.9 593.2,410.0 596.5,411.2 599.7,412.4 602.9,413.6 606.1,414.9 609.3,416.0 612.6,417.2 615.8,418.3 619.0,419.3 622.2,420.2 625.4,420.9 628.7,421.6 631.9,422.1 635.1,422.4 638.3,422.6 641.5,422.7 644.8,422.6 648.0,422.5 651.2,422.2 654.4,421.8 657.6,421.3 660.9,420.8 664.1,420.1 667.3,419.4 670.5,418.7 673.7,417.9 677.0,417.0 680.2,416.2 683.4,415.5 686.6,414.8 689.8,414.2 693.1,413.7 696.3,413.4 699.5,413.1 702.7,413.0 705.9,412.8 709.2,412.6 712.4,412.4 715.6,412.0 718.8,411.5 722.1,410.7 725.3,409.8 728.5,408.5 731.7,406.8 734.9,404.7 738.2,402.1 741.4,399.0 744.6,395.6 747.8,391.9 751.0,388.1 754.3,384.2 757.5,380.4 760.7,376.8 763.9,373.3 767.1,370.0 770.4,366.9 773.6,364.0 776.8,361.3 780.0,358.8 783.2,356.5 786.5,354.4 789.7,352.6 792.9,351.0 796.1,349.8 799.3,348.8 802.6,348.3 805.8,348.0 809.0,348.2 812.2,348.9 815.4,350.0 818.7,351.5 821.9,353.6 825.1,356.2 828.3,359.3 831.6,362.7 834.8,366.4 838.0,370.0 841.2,373.5 844.4,377.0 847.7,380.4 850.9,383.8 854.1,387.1 857.3,390.5 860.5,393.8 863.8,397.2 867.0,400.6 870.2,403.9 873.4,407.1 876.6,410.3 879.9,413.4 883.1,416.4 886.3,419.3 889.5,422.0 892.7,424.6 896.0,426.9 899.2,429.1 902.4,431.1 905.6,432.8 908.8,434.3 912.1,435.6 915.3,436.7 918.5,437.6 921.7,438.3 924.9,438.8 928.2,439.2 931.4,439.3 934.6,439.3 937.8,439.2 941.1,438.9 944.3,438.5 947.5,437.9 950.7,437.2 953.9,436.4 957.2,435.5 960.4,434.5 963.6,433.4 966.8,432.2 970.0,430.9 973.3,429.6 976.5,428.2 979.7,426.8 982.9,425.3 986.1,423.9 989.4,422.4 992.6,420.9 995.8,419.4 999.0,418.0 1002.2,416.5 1005.5,415.1 1008.7,413.8 1011.9,412.6 1015.1,411.5 1018.3,410.5 1021.6,409.7 1024.8,409.1 1028.0,408.6 1031.2,408.3 1034.4,408.1 1037.7,408.0 1040.9,408.0 1044.1,408.0 1047.3,408.0 1050.5,407.9 1053.8,407.9 1057.0,407.7 1060.2,407.5 1063.4,407.2 1066.7,406.8 1069.9,406.3 1073.1,405.8 1076.3,405.1 1079.5,404.3 1082.8,403.5 1086.0,402.5 1089.2,401.5 1092.4,400.3 1095.6,399.0 1098.9,397.7 1102.1,396.2 1105.3,394.6 1108.5,392.9 1111.7,391.1 1115.0,389.1 1118.2,387.2 1121.4,385.3 1124.6,383.4 1127.8,381.7 1131.1,380.1 1134.3,378.8 1137.5,377.8 1140.7,377.1 1143.9,376.9 1147.2,377.1 1150.4,377.8 1153.6,379.1 1156.8,381.0 1160.0,383.5 1163.3,386.6 1166.5,389.7 1169.7,392.5 1172.9,394.8 1176.2,396.9 1179.4,398.8 1182.6,400.9 1185.8,403.2 1189.0,405.8 1192.3,408.8 1195.5,412.0 1198.7,415.2 1201.9,418.3 1205.1,421.1 1208.4,423.5 1211.6,425.3 1214.8,426.4 1218.0,426.6 1221.2,425.9 1224.5,424.4 1227.7,422.3 1230.9,419.6 1234.1,416.4 1237.3,412.8 1240.6,409.0 1243.8,405.0 1247.0,400.9 1250.2,396.9 1253.4,392.9 1256.7,389.2 1259.9,385.8 1263.1,382.8 1266.3,380.1 1269.5,377.7 1272.8,375.7 1276.0,374.0 1279.2,372.7 1282.4,371.6 1285.6,371.0 1288.9,370.6 1292.1,370.5 1295.3,370.8 1298.5,371.4 1301.8,372.3 1305.0,373.4 1308.2,374.8 1311.4,376.5 1314.6,378.5 1317.9,380.7 1321.1,383.0 1324.3,385.4 1327.5,387.6 1330.7,389.7 1334.0,391.6 1337.2,393.2 1340.4,394.7 1343.6,396.0 1346.8,397.0 1350.1,397.9 1353.3,398.5 1356.5,398.9 1359.7,399.1 1362.9,399.1 1366.2,398.8 1369.4,398.3 1372.6,397.6 1375.8,396.6 1379.0,395.5 1382.3,394.4 1385.5,393.2 1388.7,392.1 1391.9,391.1 1395.1,390.3 1398.4,389.7 1401.6,389.4 1404.8,389.4 1408.0,389.8 1411.3,390.4 1414.5,391.2 1417.7,392.2 1420.9,393.4 1424.1,394.6 1427.4,395.9 1430.6,397.1 1433.8,398.3 1437.0,399.5 1440.2,400.6 1443.5,401.7 1446.7,402.8 1449.9,403.8 1453.1,404.8 1456.3,405.8 1459.6,406.8 1462.8,407.8 1466.0,408.7" stroke="#000000"/>
<polyline points="181.0,436.5 184.2,434.5 187.4,432.3 190.7,430.1 193.9,427.9 197.1,425.8 200.3,423.8 203.5,421.9 206.8,420.2 210.0,418.5 213.2,416.9 216.4,415.4 219.6,413.9 222.9,412.5 226.1,411.1 229.3,409.8 232.5,408.6 235.7,407.7 239.0,407.2 242.2,407.3 245.4,408.0 248.6,409.3 251.9,411.0 255.1,413.1 258.3,415.3 261.5,417.4 264.7,419.5 268.0,421.5 271.2,423.5 274.4,425.5 277.6,427.4 280.8,429.3 284.1,431.2 287.3,433.0 290.5,434.8 293.7,436.6 296.9,438.3 300.2,440.1 303.4,441.8 306.6,443.4 309.8,445.0 313.0,446.5 316.3,447.9 319.5,449.3 322.7,450.5 325.9,451.7 329.1,452.7 332.4,453.6 335.6,454.4 338.8,455.0 342.0,455.5 345.2,455.8 348.5,455.9 351.7,455.8 354.9,455.4 358.1,454.7 361.4,453.7 364.6,452.4 367.8,450.8 371.0,449.0 374.2,447.0 377.5,444.9 380.7,442.6 383.9,440.2 387.1,437.7 390.3,435.2 393.6,432.6 396.8,430.1 400.0,427.7 403.2,425.3 406.4,423.0 409.7,420.9 412.9,419.0 416.1,417.3 419.3,415.8 422.5,414.6 425.8,413.5 429.0,412.6 432.2,411.7 435.4,410.9 438.6,410.1 441.9,409.2 445.1,408.2 448.3,407.1 451.5,405.8 454.7,404.3 458.0,402.7 461.2,401.2 464.4,399.9 467.6,398.9 470.8,398.3 474.1,398.2 477.3,398.6 480.5,399.4 483.7,400.6 487.0,402.2 490.2,404.2 493.4,406.4 496.6,408.9 499.8,411.6 503.1,414.4 506.3,417.2 509.5,419.9 512.7,422.7 515.9,425.4 519.2,428.1 522.4,430.9 525.6,433.7 528.8,436.6 532.0,439.6 535.3,442.5 538.5,445.2 541.7,447.6 544.9,449.5 548.1,450.9 551.4,451.6 554.6,451.6 557.8,450.9 561.0,449.7 564.2,448.1 567.5,446.2 570.7,444.1 573.9,442.0 577.1,439.9 580.3,437.8 583.6,435.8 586.8,433.8 590.0,431.9 593.2,430.0 596.5,428.3 599.7,426.7 602.9,425.3 606.1,423.9 609.3,422.7 612.6,421.5 615.8,420.5 619.0,419.6 622.2,418.8 625.4,418.2 628.7,417.7 631.9,417.3 635.1,417.0 638.3,416.8 641.5,416.8 644.8,416.8 648.0,416.7 651.2,416.5 654.4,416.0 657.6,415.3 660.9,414.2 664.1,412.7 667.3,410.9 670.5,409.0 673.7,406.8 677.0,404.7 680.2,402.5 683.4,400.4 686.6,398.3 689.8,396.4 693.1,394.6 696.3,393.0 699.5,391.7 702.7,390.7 705.9,390.1 709.2,389.8 712.4,390.0 715.6,390.7 718.8,391.8 722.1,393.4 725.3,395.1 728.5,397.1 731.7,399.2 734.9,401.3 738.2,403.3 741.4,405.2 744.6,406.9 747.8,408.5 751.0,410.0 754.3,411.4 757.5,412.6 760.7,413.7 763.9,414.7 767.1,415.6 770.4,416.3 773.6,416.9 776.8,417.4 780.0,417.8 783.2,418.1 786.5,418.2 789.7,418.2 792.9,418.1 796.1,417.9 799.3,417.6 802.6,417.2 805.8,416.8 809.0,416.4 812.2,415.9 815.4,415.5 818.7,415.1 821.9,414.7 825.1,414.4 828.3,414.3 831.6,414.2 834.8,414.3 838.0,414.5 841.2,414.8 844.4,415.3 847.7,415.7 850.9,416.0 854.1,416.1 857.3,416.0 860.5,415.6 863.8,414.8 867.0,413.9 870.2,412.8 873.4,411.6 876.6,410.3 879.9,409.0 883.1,407.8 886.3,406.7 889.5,405.8 892.7,405.0 896.0,404.6 899.2,404.4 902.4,404.5 905.6,404.8 908.8,405.4 912.1,406.2 915.3,407.2 918.5,408.3 921.7,409.6 924.9,410.9 928.2,412.4 931.4,414.0 934.6,415.6 937.8,417.3 941.1,419.1 944.3,420.9 947.5,422.7 950.7,424.5 953.9,426.3 957.2,428.1 960.4,429.8 963.6,431.5 966.8,433.2 970.0,434.7 973.3,436.2 976.5,437.5 979.7,438.6 982.9,439.6 986.1,440.3 989.4,440.8 992.6,441.0 995.8,441.1 999.0,441.1 1002.2,441.3 1005.5,441.7 1008.7,442.2 1011.9,442.9 1015.1,443.7 1018.3,444.5 1021.6,445.3 1024.8,446.0 1028.0,446.7 1031.2,447.2 1034.4,447.5 1037.7,447.6 1040.9,447.4 1044.1,447.0 1047.3,446.4 1050.5,445.6 1053.8,444.7 1057.0,443.8 1060.2,442.8 1063.4,441.9 1066.7,441.1 1069.9,440.3 1073.1,439.6 1076.3,439.0 1079.5,438.5 1082.8,437.9 1086.0,437.4 1089.2,436.8 1092.4,436.1 1095.6,435.4 1098.9,434.6 1102.1,433.6 1105.3,432.5 1108.5,431.4 1111.7,430.3 1115.0,429.2 1118.2,428.2 1121.4,427.3 1124.6,426.6 1127.8,426.0 1131.1,425.6 1134.3,425.4 1137.5,425.3 1140.7,425.3 1143.9,425.4 1147.2,425.6 1150.4,425.8 1153.6,426.2 1156.8,426.6 1160.0,427.0 1163.3,427.4 1166.5,427.9 1169.7,428.3 1172.9,428.7 1176.2,429.0 1179.4,429.2 1182.6,429.2 1185.8,429.0 1189.0,428.7 1192.3,428.1 1195.5,427.4 1198.7,426.7 1201.9,426.0 1205.1,425.3 1208.4,424.9 1211.6,424.6 1214.8,424.6 1218.0,425.0 1221.2,425.7 1224.5,426.8 1227.7,428.1 1230.9,429.7 1234.1,431.5 1237.3,433.4 1240.6,435.5 1243.8,437.6 1247.0,439.9 1250.2,442.2 1253.4,444.6 1256.7,447.1 1259.9,449.6 1263.1,452.3 1266.3,455.1 1269.5,458.0 1272.8,461.0 1276.0,464.1 1279.2,467.2 1282.4,470.3 1285.6,473.2 1288.9,476.0 1292.1,478.6 1295.3,481.0 1298.5,482.9 1301.8,484.6 1305.0,485.9 1308.2,486.8 1311.4,487.5 1314.6,487.9 1317.9,488.1 1321.1,488.0 1324.3,487.7 1327.5,487.2 1330.7,486.6 1334.0,485.8 1337.2,484.9 1340.4,483.9 1343.6,482.8 1346.8,481.7 1350.1,480.5 1353.3,479.3 1356.5,478.1 1359.7,476.9 1362.9,475.7 1366.2,474.5 1369.4,473.2 1372.6,472.0 1375.8,470.8 1379.0,469.6 1382.3,468.4 1385.5,467.3 1388.7,466.1 1391.9,465.0 1395.1,464.0 1398.4,462.9 1401.6,461.9 1404.8,460.9 1408.0,460.0 1411.3,459.2 1414.5,458.4 1417.7,457.6 1420.9,456.9 1424.1,456.3 1427.4,455.7 1430.6,455.1 1433.8,454.6 1437.0,454.1 1440.2,453.7 1443.5,453.2 1446.7,452.8 1449.9,452.5 1453.1,452.1 1456.3,451.8 1459.6,451.4 1462.8,451.1 1466.0,450.8" stroke="#EF8226"/>
<polyline points="181.0,539.3 184.2,536.9 187.4,534.4 190.7,531.9 193.9,529.6 197.1,527.5 200.3,525.6 203.5,523.9 206.8,522.4 210.0,521.0 213.2,519.7 216.4,518.6 219.6,517.5 222.9,516.4 226.1,515.4 229.3,514.4 232.5,513.3 235.7,512.2 239.0,511.0 242.2,509.6 245.4,508.2 248.6,506.8 251.9,505.4 255.1,504.3 258.3,503.5 261.5,503.1 264.7,503.2 268.0,503.7 271.2,504.4 274.4,505.1 277.6,505.7 280.8,505.9 284.1,505.7 287.3,505.0 290.5,503.9 293.7,502.4 296.9,500.5 300.2,498.4 303.4,496.1 306.6,493.6 309.8,491.1 313.0,488.6 316.3,486.1 319.5,483.7 322.7,481.4 325.9,479.0 329.1,476.5 332.4,473.9 335.6,471.1 338.8,468.0 342.0,464.5 345.2,460.6 348.5,456.5 351.7,452.2 354.9,448.0 358.1,444.0 361.4,440.3 364.6,437.1 367.8,434.4 371.0,432.0 374.2,429.9 377.5,427.8 380.7,425.8 383.9,423.7 387.1,421.3 390.3,418.8 393.6,416.2 396.8,413.6 400.0,411.0 403.2,408.4 406.4,406.0 409.7,403.8 412.9,401.9 416.1,400.2 419.3,398.9 422.5,397.7 425.8,396.7 429.0,395.8 432.2,395.0 435.4,394.3 438.6,393.7 441.9,393.2 445.1,392.7 448.3,392.4 451.5,392.1 454.7,392.0 458.0,391.9 461.2,392.0 464.4,392.1 467.6,392.4 470.8,392.7 474.1,393.2 477.3,393.8 480.5,394.5 483.7,395.4 487.0,396.3 490.2,397.3 493.4,398.3 496.6,399.4 499.8,400.5 503.1,401.7 506.3,402.9 509.5,404.1 512.7,405.2 515.9,406.3 519.2,407.4 522.4,408.5 525.6,409.4 528.8,410.3 532.0,411.1 535.3,411.8 538.5,412.4 541.7,412.8 544.9,413.1 548.1,413.3 551.4,413.3 554.6,413.2 557.8,413.0 561.0,412.5 564.2,412.0 567.5,411.4 570.7,410.8 573.9,410.3 577.1,409.9 580.3,409.7 583.6,409.9 586.8,410.4 590.0,411.2 593.2,412.5 596.5,413.9 599.7,415.3 602.9,416.8 606.1,418.1 609.3,419.3 612.6,420.3 615.8,421.1 619.0,421.8 622.2,422.3 625.4,422.7 628.7,422.9 631.9,423.1 635.1,423.1 638.3,423.0 641.5,422.7 644.8,422.4 648.0,422.1 651.2,421.6 654.4,421.0 657.6,420.2 660.9,419.3 664.1,418.1 667.3,416.6 670.5,414.8 673.7,412.6 677.0,410.0 680.2,407.3 683.4,404.4 686.6,401.6 689.8,398.8 693.1,396.2 696.3,393.9 699.5,391.8 702.7,390.0 705.9,388.4 709.2,387.0 712.4,385.9 715.6,384.9 718.8,384.1 722.1,383.5 725.3,383.0 728.5,382.7 731.7,382.5 734.9,382.4 738.2,382.4 741.4,382.5 744.6,382.7 747.8,382.9 751.0,383.3 754.3,383.8 757.5,384.6 760.7,385.5 763.9,386.7 767.1,388.2 770.4,389.9 773.6,391.8 776.8,393.8 780.0,396.0 783.2,398.2 786.5,400.5 789.7,402.8 792.9,405.1 796.1,407.3 799.3,409.5 802.6,411.5 805.8,413.3 809.0,415.0 812.2,416.4 815.4,417.5 818.7,418.3 821.9,418.8 825.1,418.9 828.3,418.6 831.6,418.0 834.8,417.3 838.0,416.4 841.2,415.4 844.4,414.3 847.7,413.2 850.9,412.0 854.1,410.6 857.3,409.1 860.5,407.4 863.8,405.5 867.0,403.5 870.2,401.3 873.4,398.8 876.6,396.2 879.9,393.4 883.1,390.4 886.3,387.3 889.5,384.0 892.7,380.5 896.0,377.0 899.2,373.3 902.4,369.5 905.6,365.7 908.8,361.8 912.1,357.8 915.3,353.7 918.5,349.7 921.7,345.8 924.9,342.0 928.2,338.6 931.4,335.5 934.6,332.8 937.8,330.7 941.1,329.0 944.3,327.7 947.5,326.9 950.7,326.3 953.9,326.2 957.2,326.3 960.4,326.6 963.6,327.1 966.8,327.9 970.0,328.7 973.3,329.7 976.5,330.7 979.7,331.7 982.9,332.8 986.1,333.8 989.4,334.7 992.6,335.4 995.8,336.1 999.0,336.5 1002.2,336.7 1005.5,336.7 1008.7,336.5 1011.9,336.1 1015.1,335.6 1018.3,335.2 1021.6,334.7 1024.8,334.4 1028.0,334.2 1031.2,334.3 1034.4,334.6 1037.7,335.2 1040.9,336.1 1044.1,337.3 1047.3,338.6 1050.5,340.2 1053.8,341.9 1057.0,343.7 1060.2,345.7 1063.4,347.7 1066.7,349.7 1069.9,351.8 1073.1,353.9 1076.3,356.0 1079.5,358.0 1082.8,359.9 1086.0,361.8 1089.2,363.5 1092.4,365.0 1095.6,366.4 1098.9,367.6 1102.1,368.5 1105.3,369.2 1108.5,369.7 1111.7,369.8 1115.0,369.8 1118.2,369.7 1121.4,369.4 1124.6,369.1 1127.8,368.8 1131.1,368.5 1134.3,368.4 1137.5,368.4 1140.7,368.6 1143.9,369.0 1147.2,369.6 1150.4,370.5 1153.6,371.7 1156.8,373.2 1160.0,374.9 1163.3,376.7 1166.5,378.6 1169.7,380.4 1172.9,382.2 1176.2,383.8 1179.4,385.4 1182.6,387.0 1185.8,388.4 1189.0,389.7 1192.3,391.0 1195.5,392.2 1198.7,393.2 1201.9,394.2 1205.1,395.0 1208.4,395.7 1211.6,396.3 1214.8,396.8 1218.0,397.2 1221.2,397.5 1224.5,397.6 1227.7,397.6 1230.9,397.4 1234.1,397.1 1237.3,396.7 1240.6,396.2 1243.8,395.5 1247.0,394.8 1250.2,394.0 1253.4,393.2 1256.7,392.3 1259.9,391.4 1263.1,390.5 1266.3,389.6 1269.5,388.7 1272.8,387.9 1276.0,387.1 1279.2,386.3 1282.4,385.7 1285.6,385.1 1288.9,384.7 1292.1,384.4 1295.3,384.2 1298.5,384.2 1301.8,384.3 1305.0,384.4 1308.2,384.5 1311.4,384.6 1314.6,384.4 1317.9,384.0 1321.1,383.3 1324.3,382.1 1327.5,380.7 1330.7,379.1 1334.0,377.2 1337.2,375.3 1340.4,373.3 1343.6,371.3 1346.8,369.4 1350.1,367.6 1353.3,366.0 1356.5,364.7 1359.7,363.5 1362.9,362.6 1366.2,362.0 1369.4,361.6 1372.6,361.5 1375.8,361.7 1379.0,362.2 1382.3,363.0 1385.5,364.0 1388.7,364.9 1391.9,365.9 1395.1,366.6 1398.4,367.1 1401.6,367.2 1404.8,366.8 1408.0,365.9 1411.3,364.6 1414.5,363.1 1417.7,361.3 1420.9,359.3 1424.1,357.2 1427.4,355.0 1430.6,352.8 1433.8,350.7 1437.0,348.7 1440.2,346.7 1443.5,344.8 1446.7,343.0 1449.9,341.1 1453.1,339.3 1456.3,337.5 1459.6,335.8 1462.8,334.0 1466.0,332.3" stroke="#1E3AFF"/>
<polyline points="181.0,540.8 184.2,537.4 187.4,534.0 190.7,530.6 193.9,527.2 197.1,523.8 200.3,520.4 203.5,516.9 206.8,513.4 210.0,509.8 213.2,506.3 216.4,502.8 219.6,499.3 222.9,496.0 226.1,492.7 229.3,489.5 232.5,486.5 235.7,483.7 239.0,481.1 242.2,478.6 245.4,476.5 248.6,474.6 251.9,472.8 255.1,471.2 258.3,469.6 261.5,467.9 264.7,466.1 268.0,464.1 271.2,461.9 274.4,459.4 277.6,456.7 280.8,453.7 284.1,450.6 287.3,447.3 290.5,443.8 293.7,440.2 296.9,436.4 300.2,432.5 303.4,428.4 306.6,424.4 309.8,420.2 313.0,416.1 316.3,412.0 319.5,407.9 322.7,403.9 325.9,400.1 329.1,396.4 332.4,392.9 335.6,389.6 338.8,386.6 342.0,383.9 345.2,381.5 348.5,379.4 351.7,377.8 354.9,376.5 358.1,375.7 361.4,375.4 364.6,375.6 367.8,376.3 371.0,377.4 374.2,378.7 377.5,380.3 380.7,382.1 383.9,383.9 387.1,385.7 390.3,387.6 393.6,389.4 396.8,391.2 400.0,392.9 403.2,394.7 406.4,396.4 409.7,398.0 412.9,399.7 416.1,401.3 419.3,402.8 422.5,404.3 425.8,405.6 429.0,406.9 432.2,408.0 435.4,409.0 438.6,409.7 441.9,410.3 445.1,410.5 448.3,410.6 451.5,410.3 454.7,409.7 458.0,408.9 461.2,407.7 464.4,406.4 467.6,404.9 470.8,403.2 474.1,401.3 477.3,399.3 480.5,397.2 483.7,395.1 487.0,392.9 490.2,390.6 493.4,388.4 496.6,386.2 499.8,384.1 503.1,382.0 506.3,380.0 509.5,378.1 512.7,376.4 515.9,374.6 519.2,372.9 522.4,371.0 525.6,369.0 528.8,366.9 532.0,364.5 535.3,362.0 538.5,359.5 541.7,357.0 544.9,354.6 548.1,352.4 551.4,350.4 554.6,348.7 557.8,347.2 561.0,346.0 564.2,344.9 567.5,344.1 570.7,343.5 573.9,343.1 577.1,342.8 580.3,342.7 583.6,342.7 586.8,342.9 590.0,343.2 593.2,343.6 596.5,344.1 599.7,344.7 602.9,345.4 606.1,346.4 609.3,347.9 612.6,350.3 615.8,353.5 619.0,357.4 622.2,361.9 625.4,366.9 628.7,372.2 631.9,377.8 635.1,383.5 638.3,389.1 641.5,394.5 644.8,399.7 648.0,404.7 651.2,409.6 654.4,414.3 657.6,419.1 660.9,423.9 664.1,428.7 667.3,433.4 670.5,438.0 673.7,442.3 677.0,446.2 680.2,449.9 683.4,453.2 686.6,456.3 689.8,459.1 693.1,461.7 696.3,464.1 699.5,466.3 702.7,468.4 705.9,470.3 709.2,472.0 712.4,473.7 715.6,475.3 718.8,476.8 722.1,478.2 725.3,479.6 728.5,480.8 731.7,481.8 734.9,482.7 738.2,483.2 741.4,483.5 744.6,483.4 747.8,483.0 751.0,482.3 754.3,481.3 757.5,480.0 760.7,478.6 763.9,476.9 767.1,475.1 770.4,473.1 773.6,471.0 776.8,468.9 780.0,466.8 783.2,464.6 786.5,462.5 789.7,460.4 792.9,458.4 796.1,456.5 799.3,454.8 802.6,453.3 805.8,452.0 809.0,451.0 812.2,450.3 815.4,449.9 818.7,450.0 821.9,450.3 825.1,450.9 828.3,451.8 831.6,452.7 834.8,453.8 838.0,454.9 841.2,455.9 844.4,456.9 847.7,457.8 850.9,458.6 854.1,459.2 857.3,459.7 860.5,459.9 863.8,459.8 867.0,459.5 870.2,459.0 873.4,458.4 876.6,457.6 879.9,456.7 883.1,455.8 886.3,454.9 889.5,454.1 892.7,453.4 896.0,452.7 899.2,452.3 902.4,452.0 905.6,451.9 908.8,451.9 912.1,452.0 915.3,452.3 918.5,452.6 921.7,453.1 924.9,453.6 928.2,454.2 931.4,454.9 934.6,455.6 937.8,456.3 941.1,457.0 944.3,457.7 947.5,458.4 950.7,458.9 953.9,459.4 957.2,459.8 960.4,460.0 963.6,460.1 966.8,459.9 970.0,459.6 973.3,459.1 976.5,458.4 979.7,457.5 982.9,456.5 986.1,455.4 989.4,454.3 992.6,453.1 995.8,451.9 999.0,450.7 1002.2,449.5 1005.5,448.4 1008.7,447.4 1011.9,446.5 1015.1,445.7 1018.3,445.0 1021.6,444.3 1024.8,443.8 1028.0,443.4 1031.2,443.1 1034.4,442.8 1037.7,442.7 1040.9,442.8 1044.1,442.9 1047.3,443.2 1050.5,443.6 1053.8,444.1 1057.0,444.7 1060.2,445.4 1063.4,446.2 1066.7,447.2 1069.9,448.2 1073.1,449.3 1076.3,450.5 1079.5,451.8 1082.8,453.1 1086.0,454.6 1089.2,456.0 1092.4,457.6 1095.6,459.2 1098.9,460.9 1102.1,462.6 1105.3,464.3 1108.5,466.1 1111.7,467.9 1115.0,469.8 1118.2,471.7 1121.4,473.6 1124.6,475.5 1127.8,477.4 1131.1,479.3 1134.3,481.1 1137.5,482.9 1140.7,484.7 1143.9,486.3 1147.2,487.8 1150.4,489.2 1153.6,490.4 1156.8,491.5 1160.0,492.3 1163.3,493.0 1166.5,493.5 1169.7,493.7 1172.9,493.7 1176.2,493.4 1179.4,493.0 1182.6,492.4 1185.8,491.6 1189.0,490.7 1192.3,489.6 1195.5,488.4 1198.7,487.1 1201.9,485.7 1205.1,484.2 1208.4,482.7 1211.6,481.1 1214.8,479.5 1218.0,477.9 1221.2,476.3 1224.5,474.7 1227.7,473.1 1230.9,471.5 1234.1,469.9 1237.3,468.3 1240.6,466.8 1243.8,465.2 1247.0,463.6 1250.2,462.1 1253.4,460.5 1256.7,459.0 1259.9,457.4 1263.1,455.9 1266.3,454.3 1269.5,452.8 1272.8,451.2 1276.0,449.7 1279.2,448.1 1282.4,446.6 1285.6,445.2 1288.9,443.9 1292.1,442.7 1295.3,441.6 1298.5,440.8 1301.8,440.3 1305.0,439.9 1308.2,439.9 1311.4,440.1 1314.6,440.5 1317.9,441.1 1321.1,441.9 1324.3,442.9 1327.5,444.0 1330.7,445.3 1334.0,446.7 1337.2,448.1 1340.4,449.7 1343.6,451.3 1346.8,453.0 1350.1,454.7 1353.3,456.4 1356.5,458.0 1359.7,459.5 1362.9,460.9 1366.2,462.2 1369.4,463.2 1372.6,464.1 1375.8,464.7 1379.0,465.1 1382.3,465.3 1385.5,465.3 1388.7,465.1 1391.9,464.8 1395.1,464.4 1398.4,463.9 1401.6,463.4 1404.8,462.8 1408.0,462.2 1411.3,461.6 1414.5,461.0 1417.7,460.4 1420.9,459.8 1424.1,459.2 1427.4,458.6 1430.6,458.1 1433.8,457.5 1437.0,456.9 1440.2,456.4 1443.5,455.8 1446.7,455.3 1449.9,454.7 1453.1,454.2 1456.3,453.6 1459.6,453.1 1462.8,452.5 1466.0,452.0" stroke="#A0E834"/>
</g>
<g fill="none" stroke="#000" stroke-width="3.7">
<rect x="181" y="18.5" width="1285" height="811.3"/>
<path d="M160,18.50H181M171,86.11H181M160,153.72H181M171,221.33H181M160,288.93H181M171,356.54H181M160,424.15H181M171,491.76H181M160,559.37H181M171,626.98H181M160,694.58H181M171,762.19H181M160,829.80H181M181.00,829.8V850M502.25,829.8V850M823.50,829.8V850M1144.75,829.8V850M1466.00,829.8V850M341.62,829.8V840M662.88,829.8V840M984.12,829.8V840M1305.38,829.8V840"/>
</g>
<g font-size="45" fill="#000">
<text x="146.8" y="31.8" text-anchor="end">19.0</text>
<text x="146.8" y="167.0" text-anchor="end">18.8</text>
<text x="146.8" y="302.2" text-anchor="end">18.6</text>
<text x="146.8" y="437.5" text-anchor="end">18.4</text>
<text x="146.8" y="572.7" text-anchor="end">18.2</text>
<text x="146.8" y="707.9" text-anchor="end">18.0</text>
<text x="146.8" y="843.1" text-anchor="end">17.8</text>
<text x="181.0" y="899.2" text-anchor="middle">0</text>
<text x="502.2" y="899.2" text-anchor="middle">50</text>
<text x="823.5" y="899.2" text-anchor="middle">100</text>
<text x="1144.8" y="899.2" text-anchor="middle">150</text>
<text x="1466.0" y="899.2" text-anchor="middle">200</text>
</g>
<g stroke-width="10" stroke-linecap="round">
<path d="M483,44.5H526.4" stroke="#000"/>
<path d="M672.4,44.5H716" stroke="#EF8226"/>
<path d="M876.3,44.5H919.7" stroke="#1E3AFF"/>
<path d="M1031.9,44.5H1075.6" stroke="#A0E834"/>
</g>
<g font-size="39.5" fill="#000">
<text x="559.0" y="58.2">APO</text>
<text x="748.3" y="58.2">6M0J</text>
<text x="951.3" y="58.2">C3</text>
<text x="1106.6" y="58.2">C6E</text>
</g>
<text x="823.5" y="984.7" font-size="54" text-anchor="middle">Time (ns)</text>
<text transform="translate(46.7,424.2) rotate(-90)" font-size="54" text-anchor="middle">Rg (Å)</text>
</svg>
</body></html>
